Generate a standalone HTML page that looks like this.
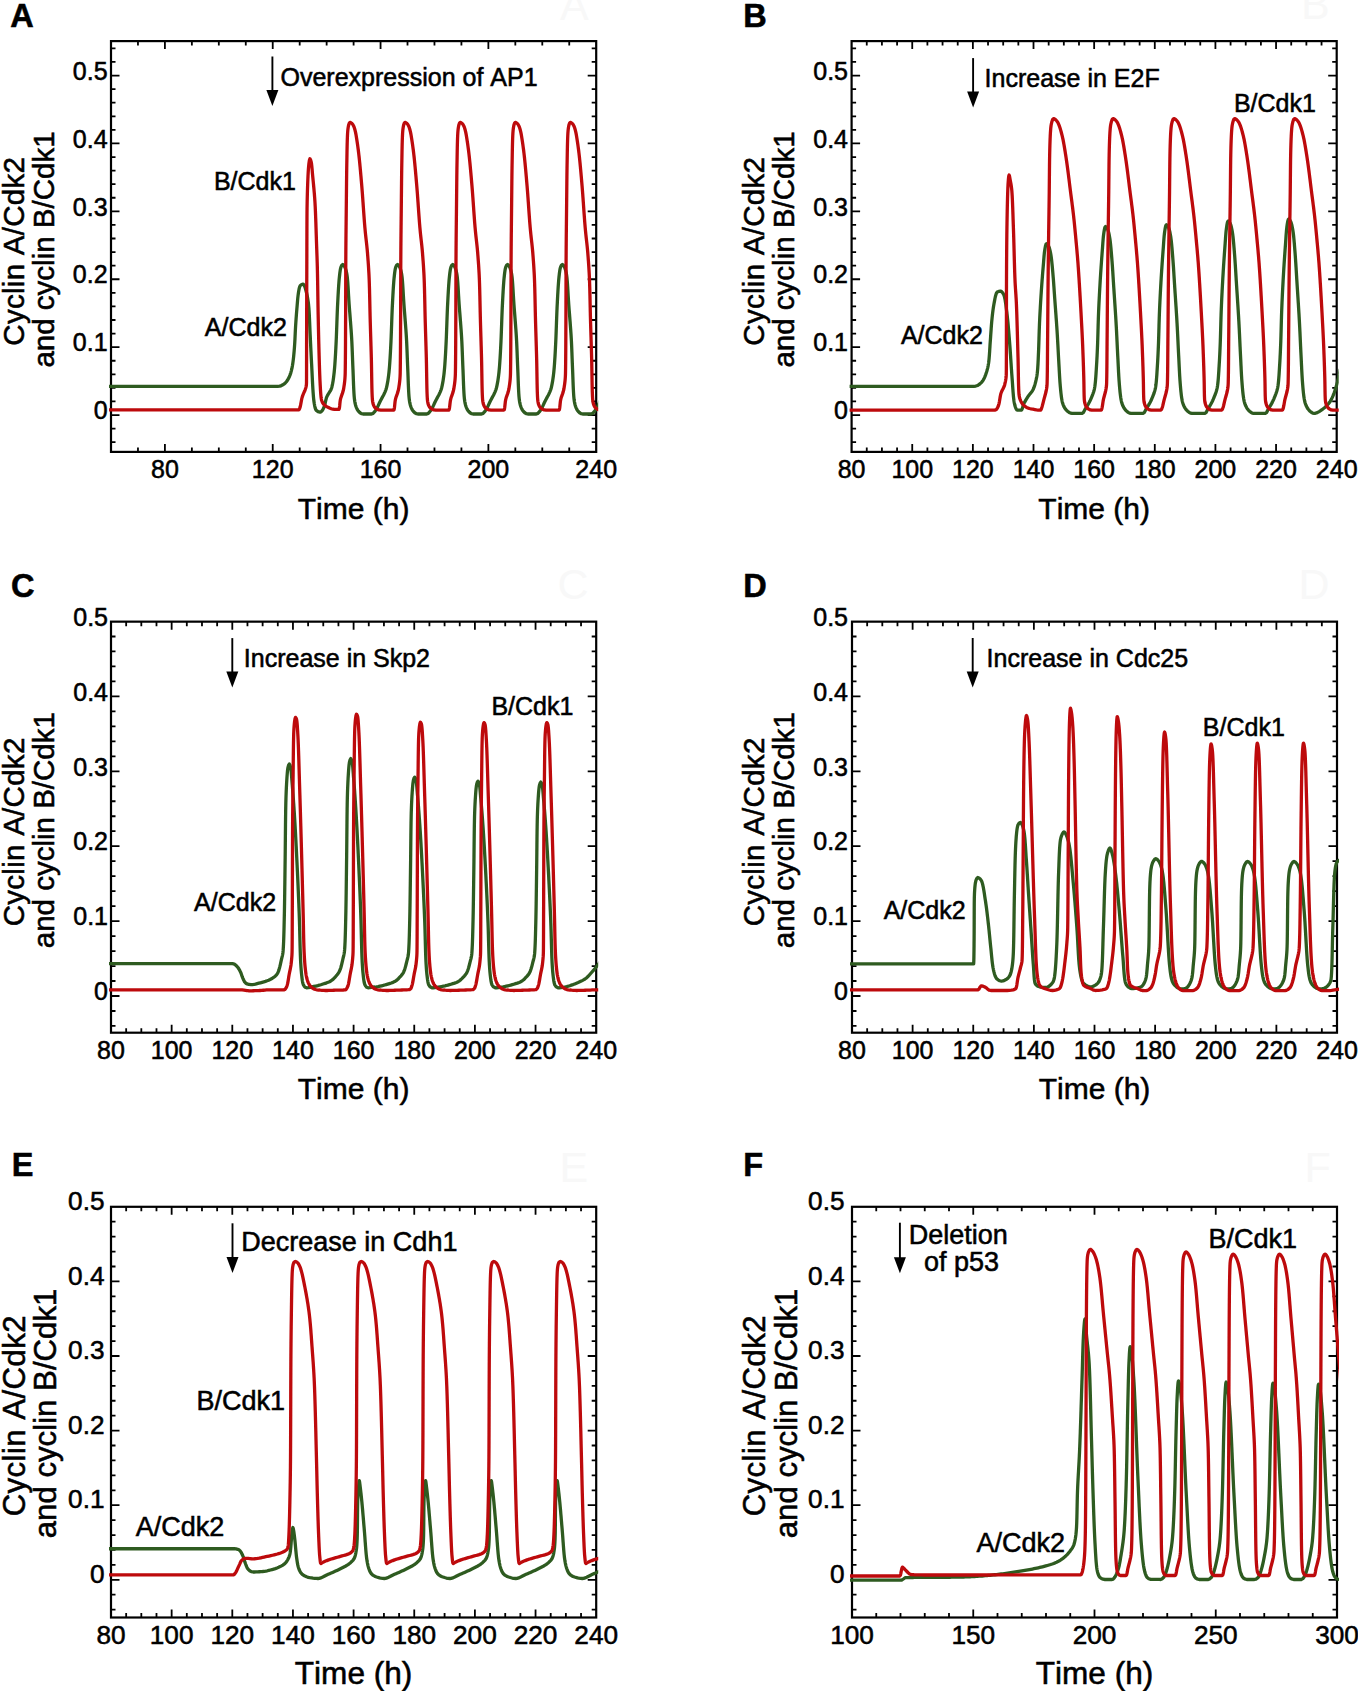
<!DOCTYPE html><html><head><meta charset="utf-8"><style>html,body{margin:0;padding:0;background:#fff;overflow:hidden;width:1358px;height:1691px;}svg{display:block;} text{stroke:#000;stroke-width:0.55px;paint-order:normal}</style></head><body><svg width="1358" height="1691" viewBox="0 0 1358 1691" font-family='"Liberation Sans", sans-serif' fill="#000" style="font-kerning:none" stroke="#000" stroke-width="0"><defs><clipPath id="clipA"><rect x="109.00" y="41.10" width="489.20" height="410.80"/></clipPath><clipPath id="clipB"><rect x="849.60" y="41.10" width="489.10" height="410.80"/></clipPath><clipPath id="clipC"><rect x="109.00" y="621.65" width="489.20" height="411.05"/></clipPath><clipPath id="clipD"><rect x="850.00" y="621.65" width="489.00" height="411.05"/></clipPath><clipPath id="clipE"><rect x="109.00" y="1206.80" width="489.20" height="410.70"/></clipPath><clipPath id="clipF"><rect x="850.00" y="1206.80" width="489.00" height="410.70"/></clipPath></defs><path d="M137.96 451.90V447.40M137.96 41.10V45.60M164.91 451.90V443.90M164.91 41.10V49.10M191.87 451.90V447.40M191.87 41.10V45.60M218.82 451.90V447.40M218.82 41.10V45.60M245.78 451.90V447.40M245.78 41.10V45.60M272.73 451.90V443.90M272.73 41.10V49.10M299.69 451.90V447.40M299.69 41.10V45.60M326.64 451.90V447.40M326.64 41.10V45.60M353.60 451.90V447.40M353.60 41.10V45.60M380.56 451.90V443.90M380.56 41.10V49.10M407.51 451.90V447.40M407.51 41.10V45.60M434.47 451.90V447.40M434.47 41.10V45.60M461.42 451.90V447.40M461.42 41.10V45.60M488.38 451.90V443.90M488.38 41.10V49.10M515.33 451.90V447.40M515.33 41.10V45.60M542.29 451.90V447.40M542.29 41.10V45.60M569.24 451.90V447.40M569.24 41.10V45.60M111.00 442.21H115.50M596.20 442.21H591.70M111.00 428.63H115.50M596.20 428.63H591.70M111.00 415.05H119.50M596.20 415.05H587.70M111.00 401.47H115.50M596.20 401.47H591.70M111.00 387.89H115.50M596.20 387.89H591.70M111.00 374.31H115.50M596.20 374.31H591.70M111.00 360.73H115.50M596.20 360.73H591.70M111.00 347.15H119.50M596.20 347.15H587.70M111.00 333.57H115.50M596.20 333.57H591.70M111.00 319.99H115.50M596.20 319.99H591.70M111.00 306.41H115.50M596.20 306.41H591.70M111.00 292.83H115.50M596.20 292.83H591.70M111.00 279.25H119.50M596.20 279.25H587.70M111.00 265.67H115.50M596.20 265.67H591.70M111.00 252.09H115.50M596.20 252.09H591.70M111.00 238.51H115.50M596.20 238.51H591.70M111.00 224.93H115.50M596.20 224.93H591.70M111.00 211.35H119.50M596.20 211.35H587.70M111.00 197.77H115.50M596.20 197.77H591.70M111.00 184.19H115.50M596.20 184.19H591.70M111.00 170.61H115.50M596.20 170.61H591.70M111.00 157.03H115.50M596.20 157.03H591.70M111.00 143.45H119.50M596.20 143.45H587.70M111.00 129.87H115.50M596.20 129.87H591.70M111.00 116.29H115.50M596.20 116.29H591.70M111.00 102.71H115.50M596.20 102.71H591.70M111.00 89.13H115.50M596.20 89.13H591.70M111.00 75.55H119.50M596.20 75.55H587.70M111.00 61.97H115.50M596.20 61.97H591.70M111.00 48.39H115.50M596.20 48.39H591.70" stroke="#000" stroke-width="1.8" fill="none"/>
<rect x="111.00" y="41.10" width="485.20" height="410.80" stroke="#000" stroke-width="2.2" fill="none"/>
<g font-size="25"><text x="107.60" y="419.25" text-anchor="end">0</text><text x="107.60" y="351.35" text-anchor="end">0.1</text><text x="107.60" y="283.45" text-anchor="end">0.2</text><text x="107.60" y="215.55" text-anchor="end">0.3</text><text x="107.60" y="147.65" text-anchor="end">0.4</text><text x="107.60" y="79.75" text-anchor="end">0.5</text><text x="164.91" y="477.90" text-anchor="middle">80</text><text x="272.73" y="477.90" text-anchor="middle">120</text><text x="380.56" y="477.90" text-anchor="middle">160</text><text x="488.38" y="477.90" text-anchor="middle">200</text><text x="596.20" y="477.90" text-anchor="middle">240</text></g>
<text x="353.60" y="518.90" font-size="30" text-anchor="middle">Time (h)</text>
<g transform="translate(23.70,249.50) rotate(-90)" font-size="29.5" text-anchor="middle"><text x="-1.7" y="0" letter-spacing="0.28">Cyclin A/Cdk2</text><text x="0" y="30.0">and cyclin B/Cdk1</text></g>
<path d="M866.76 451.90V447.40M866.76 41.10V45.60M881.92 451.90V447.40M881.92 41.10V45.60M897.08 451.90V447.40M897.08 41.10V45.60M912.24 451.90V443.90M912.24 41.10V49.10M927.40 451.90V447.40M927.40 41.10V45.60M942.56 451.90V447.40M942.56 41.10V45.60M957.72 451.90V447.40M957.72 41.10V45.60M972.88 451.90V443.90M972.88 41.10V49.10M988.03 451.90V447.40M988.03 41.10V45.60M1003.19 451.90V447.40M1003.19 41.10V45.60M1018.35 451.90V447.40M1018.35 41.10V45.60M1033.51 451.90V443.90M1033.51 41.10V49.10M1048.67 451.90V447.40M1048.67 41.10V45.60M1063.83 451.90V447.40M1063.83 41.10V45.60M1078.99 451.90V447.40M1078.99 41.10V45.60M1094.15 451.90V443.90M1094.15 41.10V49.10M1109.31 451.90V447.40M1109.31 41.10V45.60M1124.47 451.90V447.40M1124.47 41.10V45.60M1139.63 451.90V447.40M1139.63 41.10V45.60M1154.79 451.90V443.90M1154.79 41.10V49.10M1169.95 451.90V447.40M1169.95 41.10V45.60M1185.11 451.90V447.40M1185.11 41.10V45.60M1200.27 451.90V447.40M1200.27 41.10V45.60M1215.42 451.90V443.90M1215.42 41.10V49.10M1230.58 451.90V447.40M1230.58 41.10V45.60M1245.74 451.90V447.40M1245.74 41.10V45.60M1260.90 451.90V447.40M1260.90 41.10V45.60M1276.06 451.90V443.90M1276.06 41.10V49.10M1291.22 451.90V447.40M1291.22 41.10V45.60M1306.38 451.90V447.40M1306.38 41.10V45.60M1321.54 451.90V447.40M1321.54 41.10V45.60M851.60 442.21H856.10M1336.70 442.21H1332.20M851.60 428.63H856.10M1336.70 428.63H1332.20M851.60 415.05H860.10M1336.70 415.05H1328.20M851.60 401.47H856.10M1336.70 401.47H1332.20M851.60 387.89H856.10M1336.70 387.89H1332.20M851.60 374.31H856.10M1336.70 374.31H1332.20M851.60 360.73H856.10M1336.70 360.73H1332.20M851.60 347.15H860.10M1336.70 347.15H1328.20M851.60 333.57H856.10M1336.70 333.57H1332.20M851.60 319.99H856.10M1336.70 319.99H1332.20M851.60 306.41H856.10M1336.70 306.41H1332.20M851.60 292.83H856.10M1336.70 292.83H1332.20M851.60 279.25H860.10M1336.70 279.25H1328.20M851.60 265.67H856.10M1336.70 265.67H1332.20M851.60 252.09H856.10M1336.70 252.09H1332.20M851.60 238.51H856.10M1336.70 238.51H1332.20M851.60 224.93H856.10M1336.70 224.93H1332.20M851.60 211.35H860.10M1336.70 211.35H1328.20M851.60 197.77H856.10M1336.70 197.77H1332.20M851.60 184.19H856.10M1336.70 184.19H1332.20M851.60 170.61H856.10M1336.70 170.61H1332.20M851.60 157.03H856.10M1336.70 157.03H1332.20M851.60 143.45H860.10M1336.70 143.45H1328.20M851.60 129.87H856.10M1336.70 129.87H1332.20M851.60 116.29H856.10M1336.70 116.29H1332.20M851.60 102.71H856.10M1336.70 102.71H1332.20M851.60 89.13H856.10M1336.70 89.13H1332.20M851.60 75.55H860.10M1336.70 75.55H1328.20M851.60 61.97H856.10M1336.70 61.97H1332.20M851.60 48.39H856.10M1336.70 48.39H1332.20" stroke="#000" stroke-width="1.8" fill="none"/>
<rect x="851.60" y="41.10" width="485.10" height="410.80" stroke="#000" stroke-width="2.2" fill="none"/>
<g font-size="25"><text x="848.00" y="419.25" text-anchor="end">0</text><text x="848.00" y="351.35" text-anchor="end">0.1</text><text x="848.00" y="283.45" text-anchor="end">0.2</text><text x="848.00" y="215.55" text-anchor="end">0.3</text><text x="848.00" y="147.65" text-anchor="end">0.4</text><text x="848.00" y="79.75" text-anchor="end">0.5</text><text x="851.60" y="477.90" text-anchor="middle">80</text><text x="912.24" y="477.90" text-anchor="middle">100</text><text x="972.88" y="477.90" text-anchor="middle">120</text><text x="1033.51" y="477.90" text-anchor="middle">140</text><text x="1094.15" y="477.90" text-anchor="middle">160</text><text x="1154.79" y="477.90" text-anchor="middle">180</text><text x="1215.42" y="477.90" text-anchor="middle">200</text><text x="1276.06" y="477.90" text-anchor="middle">220</text><text x="1336.70" y="477.90" text-anchor="middle">240</text></g>
<text x="1094.15" y="518.90" font-size="30" text-anchor="middle">Time (h)</text>
<g transform="translate(764.20,249.50) rotate(-90)" font-size="29.5" text-anchor="middle"><text x="-1.7" y="0" letter-spacing="0.28">Cyclin A/Cdk2</text><text x="0" y="30.0">and cyclin B/Cdk1</text></g>
<path d="M126.16 1032.70V1028.20M126.16 621.65V626.15M141.32 1032.70V1028.20M141.32 621.65V626.15M156.49 1032.70V1028.20M156.49 621.65V626.15M171.65 1032.70V1024.70M171.65 621.65V629.65M186.81 1032.70V1028.20M186.81 621.65V626.15M201.98 1032.70V1028.20M201.98 621.65V626.15M217.14 1032.70V1028.20M217.14 621.65V626.15M232.30 1032.70V1024.70M232.30 621.65V629.65M247.46 1032.70V1028.20M247.46 621.65V626.15M262.62 1032.70V1028.20M262.62 621.65V626.15M277.79 1032.70V1028.20M277.79 621.65V626.15M292.95 1032.70V1024.70M292.95 621.65V629.65M308.11 1032.70V1028.20M308.11 621.65V626.15M323.27 1032.70V1028.20M323.27 621.65V626.15M338.44 1032.70V1028.20M338.44 621.65V626.15M353.60 1032.70V1024.70M353.60 621.65V629.65M368.76 1032.70V1028.20M368.76 621.65V626.15M383.93 1032.70V1028.20M383.93 621.65V626.15M399.09 1032.70V1028.20M399.09 621.65V626.15M414.25 1032.70V1024.70M414.25 621.65V629.65M429.41 1032.70V1028.20M429.41 621.65V626.15M444.58 1032.70V1028.20M444.58 621.65V626.15M459.74 1032.70V1028.20M459.74 621.65V626.15M474.90 1032.70V1024.70M474.90 621.65V629.65M490.06 1032.70V1028.20M490.06 621.65V626.15M505.23 1032.70V1028.20M505.23 621.65V626.15M520.39 1032.70V1028.20M520.39 621.65V626.15M535.55 1032.70V1024.70M535.55 621.65V629.65M550.71 1032.70V1028.20M550.71 621.65V626.15M565.88 1032.70V1028.20M565.88 621.65V626.15M581.04 1032.70V1028.20M581.04 621.65V626.15M111.00 1025.96H115.50M596.20 1025.96H591.70M111.00 1010.98H115.50M596.20 1010.98H591.70M111.00 996.00H119.50M596.20 996.00H587.70M111.00 981.02H115.50M596.20 981.02H591.70M111.00 966.04H115.50M596.20 966.04H591.70M111.00 951.06H115.50M596.20 951.06H591.70M111.00 936.08H115.50M596.20 936.08H591.70M111.00 921.10H119.50M596.20 921.10H587.70M111.00 906.12H115.50M596.20 906.12H591.70M111.00 891.14H115.50M596.20 891.14H591.70M111.00 876.16H115.50M596.20 876.16H591.70M111.00 861.18H115.50M596.20 861.18H591.70M111.00 846.20H119.50M596.20 846.20H587.70M111.00 831.22H115.50M596.20 831.22H591.70M111.00 816.24H115.50M596.20 816.24H591.70M111.00 801.26H115.50M596.20 801.26H591.70M111.00 786.28H115.50M596.20 786.28H591.70M111.00 771.30H119.50M596.20 771.30H587.70M111.00 756.32H115.50M596.20 756.32H591.70M111.00 741.34H115.50M596.20 741.34H591.70M111.00 726.36H115.50M596.20 726.36H591.70M111.00 711.38H115.50M596.20 711.38H591.70M111.00 696.40H119.50M596.20 696.40H587.70M111.00 681.42H115.50M596.20 681.42H591.70M111.00 666.44H115.50M596.20 666.44H591.70M111.00 651.46H115.50M596.20 651.46H591.70M111.00 636.48H115.50M596.20 636.48H591.70" stroke="#000" stroke-width="1.8" fill="none"/>
<rect x="111.00" y="621.65" width="485.20" height="411.05" stroke="#000" stroke-width="2.2" fill="none"/>
<g font-size="25"><text x="108.00" y="1000.20" text-anchor="end">0</text><text x="108.00" y="925.30" text-anchor="end">0.1</text><text x="108.00" y="850.40" text-anchor="end">0.2</text><text x="108.00" y="775.50" text-anchor="end">0.3</text><text x="108.00" y="700.60" text-anchor="end">0.4</text><text x="108.00" y="625.70" text-anchor="end">0.5</text><text x="111.00" y="1058.70" text-anchor="middle">80</text><text x="171.65" y="1058.70" text-anchor="middle">100</text><text x="232.30" y="1058.70" text-anchor="middle">120</text><text x="292.95" y="1058.70" text-anchor="middle">140</text><text x="353.60" y="1058.70" text-anchor="middle">160</text><text x="414.25" y="1058.70" text-anchor="middle">180</text><text x="474.90" y="1058.70" text-anchor="middle">200</text><text x="535.55" y="1058.70" text-anchor="middle">220</text><text x="596.20" y="1058.70" text-anchor="middle">240</text></g>
<text x="353.60" y="1098.90" font-size="30" text-anchor="middle">Time (h)</text>
<g transform="translate(23.70,830.17) rotate(-90)" font-size="29.5" text-anchor="middle"><text x="-1.7" y="0" letter-spacing="0.28">Cyclin A/Cdk2</text><text x="0" y="30.0">and cyclin B/Cdk1</text></g>
<path d="M867.16 1032.70V1028.20M867.16 621.65V626.15M882.31 1032.70V1028.20M882.31 621.65V626.15M897.47 1032.70V1028.20M897.47 621.65V626.15M912.62 1032.70V1024.70M912.62 621.65V629.65M927.78 1032.70V1028.20M927.78 621.65V626.15M942.94 1032.70V1028.20M942.94 621.65V626.15M958.09 1032.70V1028.20M958.09 621.65V626.15M973.25 1032.70V1024.70M973.25 621.65V629.65M988.41 1032.70V1028.20M988.41 621.65V626.15M1003.56 1032.70V1028.20M1003.56 621.65V626.15M1018.72 1032.70V1028.20M1018.72 621.65V626.15M1033.88 1032.70V1024.70M1033.88 621.65V629.65M1049.03 1032.70V1028.20M1049.03 621.65V626.15M1064.19 1032.70V1028.20M1064.19 621.65V626.15M1079.34 1032.70V1028.20M1079.34 621.65V626.15M1094.50 1032.70V1024.70M1094.50 621.65V629.65M1109.66 1032.70V1028.20M1109.66 621.65V626.15M1124.81 1032.70V1028.20M1124.81 621.65V626.15M1139.97 1032.70V1028.20M1139.97 621.65V626.15M1155.12 1032.70V1024.70M1155.12 621.65V629.65M1170.28 1032.70V1028.20M1170.28 621.65V626.15M1185.44 1032.70V1028.20M1185.44 621.65V626.15M1200.59 1032.70V1028.20M1200.59 621.65V626.15M1215.75 1032.70V1024.70M1215.75 621.65V629.65M1230.91 1032.70V1028.20M1230.91 621.65V626.15M1246.06 1032.70V1028.20M1246.06 621.65V626.15M1261.22 1032.70V1028.20M1261.22 621.65V626.15M1276.38 1032.70V1024.70M1276.38 621.65V629.65M1291.53 1032.70V1028.20M1291.53 621.65V626.15M1306.69 1032.70V1028.20M1306.69 621.65V626.15M1321.84 1032.70V1028.20M1321.84 621.65V626.15M852.00 1025.96H856.50M1337.00 1025.96H1332.50M852.00 1010.98H856.50M1337.00 1010.98H1332.50M852.00 996.00H860.50M1337.00 996.00H1328.50M852.00 981.02H856.50M1337.00 981.02H1332.50M852.00 966.04H856.50M1337.00 966.04H1332.50M852.00 951.06H856.50M1337.00 951.06H1332.50M852.00 936.08H856.50M1337.00 936.08H1332.50M852.00 921.10H860.50M1337.00 921.10H1328.50M852.00 906.12H856.50M1337.00 906.12H1332.50M852.00 891.14H856.50M1337.00 891.14H1332.50M852.00 876.16H856.50M1337.00 876.16H1332.50M852.00 861.18H856.50M1337.00 861.18H1332.50M852.00 846.20H860.50M1337.00 846.20H1328.50M852.00 831.22H856.50M1337.00 831.22H1332.50M852.00 816.24H856.50M1337.00 816.24H1332.50M852.00 801.26H856.50M1337.00 801.26H1332.50M852.00 786.28H856.50M1337.00 786.28H1332.50M852.00 771.30H860.50M1337.00 771.30H1328.50M852.00 756.32H856.50M1337.00 756.32H1332.50M852.00 741.34H856.50M1337.00 741.34H1332.50M852.00 726.36H856.50M1337.00 726.36H1332.50M852.00 711.38H856.50M1337.00 711.38H1332.50M852.00 696.40H860.50M1337.00 696.40H1328.50M852.00 681.42H856.50M1337.00 681.42H1332.50M852.00 666.44H856.50M1337.00 666.44H1332.50M852.00 651.46H856.50M1337.00 651.46H1332.50M852.00 636.48H856.50M1337.00 636.48H1332.50" stroke="#000" stroke-width="1.8" fill="none"/>
<rect x="852.00" y="621.65" width="485.00" height="411.05" stroke="#000" stroke-width="2.2" fill="none"/>
<g font-size="25"><text x="848.00" y="1000.20" text-anchor="end">0</text><text x="848.00" y="925.30" text-anchor="end">0.1</text><text x="848.00" y="850.40" text-anchor="end">0.2</text><text x="848.00" y="775.50" text-anchor="end">0.3</text><text x="848.00" y="700.60" text-anchor="end">0.4</text><text x="848.00" y="625.70" text-anchor="end">0.5</text><text x="852.00" y="1058.70" text-anchor="middle">80</text><text x="912.62" y="1058.70" text-anchor="middle">100</text><text x="973.25" y="1058.70" text-anchor="middle">120</text><text x="1033.88" y="1058.70" text-anchor="middle">140</text><text x="1094.50" y="1058.70" text-anchor="middle">160</text><text x="1155.12" y="1058.70" text-anchor="middle">180</text><text x="1215.75" y="1058.70" text-anchor="middle">200</text><text x="1276.38" y="1058.70" text-anchor="middle">220</text><text x="1337.00" y="1058.70" text-anchor="middle">240</text></g>
<text x="1094.50" y="1098.90" font-size="30" text-anchor="middle">Time (h)</text>
<g transform="translate(764.20,830.17) rotate(-90)" font-size="29.5" text-anchor="middle"><text x="-1.7" y="0" letter-spacing="0.28">Cyclin A/Cdk2</text><text x="0" y="30.0">and cyclin B/Cdk1</text></g>
<path d="M126.16 1617.50V1613.00M126.16 1206.80V1211.30M141.32 1617.50V1613.00M141.32 1206.80V1211.30M156.49 1617.50V1613.00M156.49 1206.80V1211.30M171.65 1617.50V1609.50M171.65 1206.80V1214.80M186.81 1617.50V1613.00M186.81 1206.80V1211.30M201.98 1617.50V1613.00M201.98 1206.80V1211.30M217.14 1617.50V1613.00M217.14 1206.80V1211.30M232.30 1617.50V1609.50M232.30 1206.80V1214.80M247.46 1617.50V1613.00M247.46 1206.80V1211.30M262.62 1617.50V1613.00M262.62 1206.80V1211.30M277.79 1617.50V1613.00M277.79 1206.80V1211.30M292.95 1617.50V1609.50M292.95 1206.80V1214.80M308.11 1617.50V1613.00M308.11 1206.80V1211.30M323.27 1617.50V1613.00M323.27 1206.80V1211.30M338.44 1617.50V1613.00M338.44 1206.80V1211.30M353.60 1617.50V1609.50M353.60 1206.80V1214.80M368.76 1617.50V1613.00M368.76 1206.80V1211.30M383.93 1617.50V1613.00M383.93 1206.80V1211.30M399.09 1617.50V1613.00M399.09 1206.80V1211.30M414.25 1617.50V1609.50M414.25 1206.80V1214.80M429.41 1617.50V1613.00M429.41 1206.80V1211.30M444.58 1617.50V1613.00M444.58 1206.80V1211.30M459.74 1617.50V1613.00M459.74 1206.80V1211.30M474.90 1617.50V1609.50M474.90 1206.80V1214.80M490.06 1617.50V1613.00M490.06 1206.80V1211.30M505.23 1617.50V1613.00M505.23 1206.80V1211.30M520.39 1617.50V1613.00M520.39 1206.80V1211.30M535.55 1617.50V1609.50M535.55 1206.80V1214.80M550.71 1617.50V1613.00M550.71 1206.80V1211.30M565.88 1617.50V1613.00M565.88 1206.80V1211.30M581.04 1617.50V1613.00M581.04 1206.80V1211.30M111.00 1609.64H115.50M596.20 1609.64H591.70M111.00 1594.72H115.50M596.20 1594.72H591.70M111.00 1579.80H119.50M596.20 1579.80H587.70M111.00 1564.88H115.50M596.20 1564.88H591.70M111.00 1549.96H115.50M596.20 1549.96H591.70M111.00 1535.04H115.50M596.20 1535.04H591.70M111.00 1520.12H115.50M596.20 1520.12H591.70M111.00 1505.20H119.50M596.20 1505.20H587.70M111.00 1490.28H115.50M596.20 1490.28H591.70M111.00 1475.36H115.50M596.20 1475.36H591.70M111.00 1460.44H115.50M596.20 1460.44H591.70M111.00 1445.52H115.50M596.20 1445.52H591.70M111.00 1430.60H119.50M596.20 1430.60H587.70M111.00 1415.68H115.50M596.20 1415.68H591.70M111.00 1400.76H115.50M596.20 1400.76H591.70M111.00 1385.84H115.50M596.20 1385.84H591.70M111.00 1370.92H115.50M596.20 1370.92H591.70M111.00 1356.00H119.50M596.20 1356.00H587.70M111.00 1341.08H115.50M596.20 1341.08H591.70M111.00 1326.16H115.50M596.20 1326.16H591.70M111.00 1311.24H115.50M596.20 1311.24H591.70M111.00 1296.32H115.50M596.20 1296.32H591.70M111.00 1281.40H119.50M596.20 1281.40H587.70M111.00 1266.48H115.50M596.20 1266.48H591.70M111.00 1251.56H115.50M596.20 1251.56H591.70M111.00 1236.64H115.50M596.20 1236.64H591.70M111.00 1221.72H115.50M596.20 1221.72H591.70" stroke="#000" stroke-width="1.8" fill="none"/>
<rect x="111.00" y="1206.80" width="485.20" height="410.70" stroke="#000" stroke-width="2.2" fill="none"/>
<g font-size="26.2"><text x="104.50" y="1583.00" text-anchor="end">0</text><text x="104.50" y="1508.40" text-anchor="end">0.1</text><text x="104.50" y="1433.80" text-anchor="end">0.2</text><text x="104.50" y="1359.20" text-anchor="end">0.3</text><text x="104.50" y="1284.60" text-anchor="end">0.4</text><text x="104.50" y="1210.00" text-anchor="end">0.5</text><text x="111.00" y="1643.50" text-anchor="middle">80</text><text x="171.65" y="1643.50" text-anchor="middle">100</text><text x="232.30" y="1643.50" text-anchor="middle">120</text><text x="292.95" y="1643.50" text-anchor="middle">140</text><text x="353.60" y="1643.50" text-anchor="middle">160</text><text x="414.25" y="1643.50" text-anchor="middle">180</text><text x="474.90" y="1643.50" text-anchor="middle">200</text><text x="535.55" y="1643.50" text-anchor="middle">220</text><text x="596.20" y="1643.50" text-anchor="middle">240</text></g>
<text x="353.60" y="1683.60" font-size="31.6" text-anchor="middle">Time (h)</text>
<g transform="translate(24.50,1413.45) rotate(-90)" font-size="31.2" text-anchor="middle"><text x="-2.25" y="0" letter-spacing="0.42">Cyclin A/Cdk2</text><text x="0" y="31.5">and cyclin B/Cdk1</text></g>
<path d="M876.25 1617.50V1613.00M876.25 1206.80V1211.30M900.50 1617.50V1613.00M900.50 1206.80V1211.30M924.75 1617.50V1613.00M924.75 1206.80V1211.30M949.00 1617.50V1613.00M949.00 1206.80V1211.30M973.25 1617.50V1609.50M973.25 1206.80V1214.80M997.50 1617.50V1613.00M997.50 1206.80V1211.30M1021.75 1617.50V1613.00M1021.75 1206.80V1211.30M1046.00 1617.50V1613.00M1046.00 1206.80V1211.30M1070.25 1617.50V1613.00M1070.25 1206.80V1211.30M1094.50 1617.50V1609.50M1094.50 1206.80V1214.80M1118.75 1617.50V1613.00M1118.75 1206.80V1211.30M1143.00 1617.50V1613.00M1143.00 1206.80V1211.30M1167.25 1617.50V1613.00M1167.25 1206.80V1211.30M1191.50 1617.50V1613.00M1191.50 1206.80V1211.30M1215.75 1617.50V1609.50M1215.75 1206.80V1214.80M1240.00 1617.50V1613.00M1240.00 1206.80V1211.30M1264.25 1617.50V1613.00M1264.25 1206.80V1211.30M1288.50 1617.50V1613.00M1288.50 1206.80V1211.30M1312.75 1617.50V1613.00M1312.75 1206.80V1211.30M852.00 1609.64H856.50M1337.00 1609.64H1332.50M852.00 1594.72H856.50M1337.00 1594.72H1332.50M852.00 1579.80H860.50M1337.00 1579.80H1328.50M852.00 1564.88H856.50M1337.00 1564.88H1332.50M852.00 1549.96H856.50M1337.00 1549.96H1332.50M852.00 1535.04H856.50M1337.00 1535.04H1332.50M852.00 1520.12H856.50M1337.00 1520.12H1332.50M852.00 1505.20H860.50M1337.00 1505.20H1328.50M852.00 1490.28H856.50M1337.00 1490.28H1332.50M852.00 1475.36H856.50M1337.00 1475.36H1332.50M852.00 1460.44H856.50M1337.00 1460.44H1332.50M852.00 1445.52H856.50M1337.00 1445.52H1332.50M852.00 1430.60H860.50M1337.00 1430.60H1328.50M852.00 1415.68H856.50M1337.00 1415.68H1332.50M852.00 1400.76H856.50M1337.00 1400.76H1332.50M852.00 1385.84H856.50M1337.00 1385.84H1332.50M852.00 1370.92H856.50M1337.00 1370.92H1332.50M852.00 1356.00H860.50M1337.00 1356.00H1328.50M852.00 1341.08H856.50M1337.00 1341.08H1332.50M852.00 1326.16H856.50M1337.00 1326.16H1332.50M852.00 1311.24H856.50M1337.00 1311.24H1332.50M852.00 1296.32H856.50M1337.00 1296.32H1332.50M852.00 1281.40H860.50M1337.00 1281.40H1328.50M852.00 1266.48H856.50M1337.00 1266.48H1332.50M852.00 1251.56H856.50M1337.00 1251.56H1332.50M852.00 1236.64H856.50M1337.00 1236.64H1332.50M852.00 1221.72H856.50M1337.00 1221.72H1332.50" stroke="#000" stroke-width="1.8" fill="none"/>
<rect x="852.00" y="1206.80" width="485.00" height="410.70" stroke="#000" stroke-width="2.2" fill="none"/>
<g font-size="26.2"><text x="844.50" y="1583.00" text-anchor="end">0</text><text x="844.50" y="1508.40" text-anchor="end">0.1</text><text x="844.50" y="1433.80" text-anchor="end">0.2</text><text x="844.50" y="1359.20" text-anchor="end">0.3</text><text x="844.50" y="1284.60" text-anchor="end">0.4</text><text x="844.50" y="1210.00" text-anchor="end">0.5</text><text x="852.00" y="1643.50" text-anchor="middle">100</text><text x="973.25" y="1643.50" text-anchor="middle">150</text><text x="1094.50" y="1643.50" text-anchor="middle">200</text><text x="1215.75" y="1643.50" text-anchor="middle">250</text><text x="1337.00" y="1643.50" text-anchor="middle">300</text></g>
<text x="1094.50" y="1683.60" font-size="31.6" text-anchor="middle">Time (h)</text>
<g transform="translate(765.00,1413.45) rotate(-90)" font-size="31.2" text-anchor="middle"><text x="-2.25" y="0" letter-spacing="0.42">Cyclin A/Cdk2</text><text x="0" y="31.5">and cyclin B/Cdk1</text></g>
<text x="10.3" y="27.3" font-size="32.5" font-weight="bold">A</text>
<text x="743.2" y="27.3" font-size="32.5" font-weight="bold">B</text>
<text x="11.0" y="596.6" font-size="32.5" font-weight="bold">C</text>
<text x="743.3" y="596.6" font-size="32.5" font-weight="bold">D</text>
<text x="11.8" y="1176.4" font-size="32.5" font-weight="bold">E</text>
<text x="743.3" y="1176.4" font-size="32.5" font-weight="bold">F</text>
<text x="560" y="20" font-size="43" fill="#f8f8f8" style="stroke:none">A</text>
<text x="1301" y="19" font-size="43" fill="#f8f8f8" style="stroke:none">B</text>
<text x="557.5" y="599" font-size="43" fill="#f8f8f8" style="stroke:none">C</text>
<text x="1298.5" y="599" font-size="43" fill="#f8f8f8" style="stroke:none">D</text>
<text x="559.5" y="1182" font-size="43" fill="#f8f8f8" style="stroke:none">E</text>
<text x="1304.5" y="1182" font-size="43" fill="#f8f8f8" style="stroke:none">F</text>
<path d="M100.00,386.35 102.52,386.35 105.02,386.35 107.51,386.35 109.98,386.35 112.43,386.35 114.87,386.35 117.29,386.35 119.69,386.35 122.08,386.35 124.45,386.35 126.81,386.35 129.15,386.35 131.47,386.35 133.78,386.35 136.07,386.35 138.34,386.35 140.60,386.35 142.84,386.35 145.06,386.35 147.27,386.35 149.46,386.35 151.63,386.35 153.79,386.35 155.93,386.35 158.05,386.35 160.15,386.35 162.24,386.35 164.32,386.35 166.37,386.35 168.41,386.35 170.43,386.35 172.44,386.35 174.42,386.35 176.39,386.35 178.35,386.35 180.28,386.35 182.20,386.35 184.10,386.35 185.99,386.35 187.85,386.35 189.70,386.35 191.54,386.35 193.35,386.35 195.15,386.35 196.93,386.35 198.69,386.35 200.44,386.35 202.16,386.35 203.87,386.35 205.57,386.35 207.24,386.35 208.90,386.35 210.54,386.35 212.16,386.35 213.76,386.35 215.35,386.35 216.92,386.35 218.47,386.35 220.00,386.35 221.51,386.35 223.01,386.35 224.49,386.35 225.95,386.35 227.39,386.35 228.82,386.35 230.22,386.35 231.61,386.35 232.98,386.35 234.33,386.35 235.67,386.35 236.98,386.35 238.28,386.35 239.56,386.35 240.82,386.35 242.06,386.35 243.28,386.35 244.49,386.35 245.67,386.35 246.84,386.35 247.99,386.35 249.12,386.35 250.23,386.35 251.33,386.35 252.40,386.35 253.46,386.35 254.49,386.35 255.51,386.35 256.51,386.35 257.49,386.35 258.46,386.35 259.40,386.35 260.32,386.35 261.23,386.35 262.11,386.35 262.98,386.35 263.83,386.35 264.66,386.35 265.47,386.35 266.26,386.35 267.03,386.35 267.78,386.35 268.52,386.35 269.23,386.35 269.92,386.35 270.60,386.35 271.25,386.35 271.89,386.35 272.51,386.35 273.11,386.35 273.68,386.35 274.24,386.35 274.78,386.35 275.30,386.35 275.80,386.35 276.28,386.35 276.74,386.35 277.18,386.35 277.60,386.35 279.73,386.14 281.41,385.57 282.84,384.79 284.20,383.90 285.31,382.99 286.40,381.76 287.43,380.29 288.38,378.68 289.22,377.02 289.90,375.40 290.43,373.93 290.90,372.41 291.33,370.85 291.73,369.22 292.08,367.54 292.41,365.80 292.70,364.00 292.90,362.61 293.10,361.15 293.29,359.64 293.47,358.08 293.64,356.49 293.80,354.87 293.95,353.24 294.10,351.59 294.24,349.95 294.37,348.31 294.49,346.69 294.60,345.10 294.70,343.53 294.80,341.95 294.89,340.38 294.97,338.80 295.04,337.23 295.12,335.65 295.19,334.08 295.26,332.50 295.34,330.92 295.42,329.35 295.51,327.77 295.60,326.20 295.70,324.62 295.80,323.02 295.91,321.41 296.02,319.80 296.14,318.18 296.26,316.58 296.38,314.98 296.50,313.39 296.62,311.83 296.75,310.29 296.87,308.78 297.00,307.30 297.14,305.61 297.28,303.92 297.42,302.24 297.56,300.59 297.71,298.97 297.86,297.41 298.03,295.90 298.20,294.46 298.40,293.10 298.68,291.29 299.00,289.48 299.37,287.81 299.80,286.43 300.30,285.50 301.63,284.54 303.10,284.10 303.91,284.71 304.64,286.24 305.31,288.25 305.90,290.30 306.22,291.47 306.54,292.75 306.86,294.14 307.16,295.60 307.45,297.15 307.73,298.75 307.99,300.41 308.23,302.10 308.45,303.82 308.64,305.56 308.80,307.30 308.91,308.68 309.01,310.11 309.11,311.58 309.20,313.08 309.29,314.61 309.37,316.17 309.44,317.75 309.51,319.35 309.58,320.97 309.65,322.60 309.72,324.24 309.78,325.88 309.85,327.52 309.91,329.16 309.98,330.79 310.05,332.41 310.12,334.02 310.20,335.60 310.28,337.17 310.35,338.73 310.43,340.28 310.50,341.83 310.57,343.38 310.65,344.92 310.72,346.46 310.79,348.00 310.87,349.55 310.94,351.10 311.02,352.67 311.09,354.24 311.17,355.82 311.25,357.42 311.34,359.04 311.42,360.67 311.51,362.32 311.60,364.00 311.68,365.43 311.75,366.92 311.83,368.47 311.91,370.05 311.99,371.68 312.07,373.33 312.15,375.01 312.23,376.71 312.32,378.42 312.40,380.13 312.49,381.84 312.58,383.54 312.67,385.22 312.77,386.89 312.86,388.52 312.96,390.12 313.06,391.68 313.17,393.18 313.28,394.63 313.39,396.02 313.50,397.34 313.62,398.59 313.74,399.75 313.87,400.82 314.00,401.80 314.34,404.01 314.72,406.07 315.16,407.89 315.69,409.37 316.30,410.40 318.05,411.63 320.10,412.20 321.15,411.74 322.18,410.57 323.12,409.05 323.90,407.50 324.38,406.28 324.78,404.88 325.14,403.35 325.48,401.75 325.83,400.14 326.23,398.57 326.70,397.10 327.40,395.56 328.27,394.11 329.22,392.68 330.15,391.23 330.97,389.69 331.60,388.00 331.94,386.71 332.25,385.35 332.55,383.92 332.82,382.44 333.08,380.91 333.32,379.33 333.54,377.71 333.75,376.07 333.94,374.39 334.13,372.70 334.30,371.00 334.43,369.63 334.56,368.24 334.67,366.83 334.79,365.40 334.90,363.94 335.00,362.47 335.10,360.98 335.20,359.46 335.30,357.93 335.39,356.38 335.48,354.81 335.57,353.22 335.66,351.61 335.74,349.98 335.83,348.34 335.91,346.68 336.00,345.00 336.07,343.61 336.14,342.19 336.20,340.74 336.27,339.26 336.33,337.76 336.39,336.23 336.45,334.68 336.51,333.11 336.57,331.52 336.63,329.93 336.68,328.32 336.74,326.71 336.80,325.10 336.86,323.48 336.91,321.87 336.97,320.25 337.03,318.65 337.09,317.06 337.15,315.48 337.21,313.91 337.27,312.37 337.33,310.84 337.40,309.34 337.46,307.86 337.53,306.41 337.60,305.00 337.69,303.30 337.77,301.59 337.86,299.88 337.95,298.16 338.04,296.45 338.13,294.75 338.23,293.06 338.32,291.39 338.42,289.75 338.52,288.14 338.62,286.57 338.72,285.04 338.83,283.55 338.94,282.11 339.05,280.74 339.16,279.42 339.28,278.17 339.40,277.00 339.62,274.98 339.84,273.03 340.09,271.22 340.35,269.57 340.65,268.15 341.00,267.00 341.82,265.33 342.80,264.50 343.83,265.34 344.80,267.00 345.32,268.19 345.81,269.62 346.26,271.27 346.66,273.11 347.00,275.10 347.15,276.15 347.28,277.29 347.41,278.52 347.54,279.82 347.66,281.19 347.77,282.62 347.88,284.11 347.98,285.64 348.08,287.22 348.18,288.83 348.28,290.47 348.37,292.14 348.47,293.81 348.57,295.50 348.67,297.18 348.77,298.86 348.88,300.53 348.99,302.18 349.10,303.80 349.21,305.26 349.32,306.75 349.43,308.26 349.55,309.79 349.67,311.34 349.80,312.90 349.92,314.48 350.05,316.07 350.17,317.67 350.30,319.27 350.42,320.88 350.55,322.49 350.67,324.09 350.79,325.70 350.91,327.29 351.03,328.88 351.14,330.46 351.25,332.03 351.36,333.58 351.46,335.11 351.55,336.62 351.64,338.10 351.72,339.57 351.80,341.00 351.88,342.68 351.96,344.32 352.03,345.94 352.10,347.53 352.17,349.09 352.23,350.64 352.29,352.18 352.35,353.71 352.41,355.23 352.46,356.75 352.52,358.28 352.58,359.81 352.64,361.35 352.70,362.90 352.76,364.48 352.83,366.08 352.90,367.70 352.96,369.18 353.03,370.70 353.09,372.27 353.15,373.87 353.21,375.50 353.27,377.15 353.33,378.82 353.39,380.49 353.45,382.16 353.51,383.82 353.58,385.47 353.65,387.10 353.72,388.69 353.80,390.26 353.88,391.78 353.97,393.25 354.06,394.66 354.16,396.01 354.27,397.28 354.38,398.48 354.50,399.60 354.76,401.46 355.10,403.24 355.51,404.93 355.98,406.49 356.51,407.90 357.08,409.15 357.70,410.20 358.72,411.51 360.01,412.74 361.46,413.65 363.00,414.00 364.58,414.00 366.40,414.00 368.27,414.00 370.03,414.00 371.50,414.00 373.08,413.37 374.44,411.89 375.70,410.20 376.47,409.08 377.19,407.79 377.87,406.37 378.56,404.85 379.26,403.29 380.00,401.70 380.62,400.48 381.30,399.21 382.01,397.91 382.75,396.57 383.48,395.19 384.18,393.79 384.85,392.37 385.46,390.93 385.98,389.47 386.40,388.00 386.74,386.57 387.06,385.11 387.35,383.65 387.63,382.16 387.88,380.65 388.12,379.11 388.34,377.55 388.55,375.96 388.74,374.34 388.93,372.69 389.10,371.00 389.23,369.63 389.36,368.24 389.47,366.83 389.59,365.40 389.70,363.94 389.80,362.47 389.90,360.98 390.00,359.46 390.10,357.93 390.19,356.38 390.28,354.81 390.37,353.22 390.46,351.61 390.54,349.98 390.63,348.34 390.71,346.68 390.80,345.00 390.87,343.61 390.94,342.19 391.00,340.74 391.07,339.26 391.13,337.76 391.19,336.23 391.25,334.68 391.31,333.11 391.37,331.52 391.43,329.93 391.48,328.32 391.54,326.71 391.60,325.10 391.66,323.48 391.71,321.87 391.77,320.25 391.83,318.65 391.89,317.06 391.95,315.48 392.01,313.91 392.07,312.37 392.13,310.84 392.20,309.34 392.26,307.86 392.33,306.41 392.40,305.00 392.49,303.30 392.57,301.59 392.66,299.88 392.75,298.16 392.84,296.45 392.93,294.75 393.03,293.06 393.12,291.39 393.22,289.75 393.32,288.14 393.42,286.57 393.52,285.04 393.63,283.55 393.74,282.11 393.85,280.74 393.96,279.42 394.08,278.17 394.20,277.00 394.42,274.98 394.64,273.03 394.89,271.22 395.15,269.57 395.45,268.15 395.80,267.00 396.62,265.33 397.60,264.50 398.63,265.34 399.60,267.00 400.12,268.19 400.61,269.62 401.06,271.27 401.46,273.11 401.80,275.10 401.95,276.15 402.08,277.29 402.21,278.52 402.34,279.82 402.46,281.19 402.57,282.62 402.68,284.11 402.78,285.64 402.88,287.22 402.98,288.83 403.08,290.47 403.17,292.14 403.27,293.81 403.37,295.50 403.47,297.18 403.57,298.86 403.68,300.53 403.79,302.18 403.90,303.80 404.01,305.26 404.12,306.75 404.23,308.26 404.35,309.79 404.47,311.34 404.60,312.90 404.72,314.48 404.85,316.07 404.97,317.67 405.10,319.27 405.22,320.88 405.35,322.49 405.47,324.09 405.59,325.70 405.71,327.29 405.83,328.88 405.94,330.46 406.05,332.03 406.16,333.58 406.26,335.11 406.35,336.62 406.44,338.10 406.52,339.57 406.60,341.00 406.68,342.68 406.76,344.32 406.83,345.94 406.90,347.53 406.97,349.09 407.03,350.64 407.09,352.18 407.15,353.71 407.21,355.23 407.26,356.75 407.32,358.28 407.38,359.81 407.44,361.35 407.50,362.90 407.56,364.48 407.63,366.08 407.70,367.70 407.76,369.18 407.83,370.70 407.89,372.27 407.95,373.87 408.01,375.50 408.07,377.15 408.13,378.82 408.19,380.49 408.25,382.16 408.31,383.82 408.38,385.47 408.45,387.10 408.52,388.69 408.60,390.26 408.68,391.78 408.77,393.25 408.86,394.66 408.96,396.01 409.07,397.28 409.18,398.48 409.30,399.60 409.56,401.46 409.90,403.24 410.31,404.93 410.78,406.49 411.31,407.90 411.88,409.15 412.50,410.20 413.52,411.51 414.80,412.74 416.26,413.65 417.80,414.00 419.45,414.00 421.35,414.00 423.32,414.00 425.17,414.00 426.70,414.00 428.29,413.37 429.65,411.89 430.90,410.20 431.67,409.08 432.39,407.79 433.07,406.37 433.76,404.85 434.46,403.29 435.20,401.70 435.82,400.48 436.50,399.21 437.21,397.91 437.95,396.57 438.68,395.19 439.38,393.79 440.05,392.37 440.66,390.93 441.18,389.47 441.60,388.00 441.94,386.57 442.26,385.11 442.55,383.65 442.83,382.16 443.08,380.65 443.32,379.11 443.54,377.55 443.75,375.96 443.94,374.34 444.13,372.69 444.30,371.00 444.43,369.63 444.56,368.24 444.67,366.83 444.79,365.40 444.90,363.94 445.00,362.47 445.10,360.98 445.20,359.46 445.30,357.93 445.39,356.38 445.48,354.81 445.57,353.22 445.66,351.61 445.74,349.98 445.83,348.34 445.91,346.68 446.00,345.00 446.07,343.61 446.14,342.19 446.20,340.74 446.27,339.26 446.33,337.76 446.39,336.23 446.45,334.68 446.51,333.11 446.57,331.52 446.63,329.93 446.68,328.32 446.74,326.71 446.80,325.10 446.86,323.48 446.91,321.87 446.97,320.25 447.03,318.65 447.09,317.06 447.15,315.48 447.21,313.91 447.27,312.37 447.33,310.84 447.40,309.34 447.46,307.86 447.53,306.41 447.60,305.00 447.69,303.30 447.77,301.59 447.86,299.88 447.95,298.16 448.04,296.45 448.13,294.75 448.23,293.06 448.32,291.39 448.42,289.75 448.52,288.14 448.62,286.57 448.72,285.04 448.83,283.55 448.94,282.11 449.05,280.74 449.16,279.42 449.28,278.17 449.40,277.00 449.62,274.98 449.84,273.03 450.09,271.22 450.35,269.57 450.65,268.15 451.00,267.00 451.82,265.33 452.80,264.50 453.83,265.34 454.80,267.00 455.32,268.19 455.81,269.62 456.26,271.27 456.66,273.11 457.00,275.10 457.15,276.15 457.28,277.29 457.41,278.52 457.54,279.82 457.66,281.19 457.77,282.62 457.88,284.11 457.98,285.64 458.08,287.22 458.18,288.83 458.28,290.47 458.37,292.14 458.47,293.81 458.57,295.50 458.67,297.18 458.77,298.86 458.88,300.53 458.99,302.18 459.10,303.80 459.21,305.26 459.32,306.75 459.43,308.26 459.55,309.79 459.67,311.34 459.80,312.90 459.92,314.48 460.05,316.07 460.17,317.67 460.30,319.27 460.42,320.88 460.55,322.49 460.67,324.09 460.79,325.70 460.91,327.29 461.03,328.88 461.14,330.46 461.25,332.03 461.36,333.58 461.46,335.11 461.55,336.62 461.64,338.10 461.72,339.57 461.80,341.00 461.88,342.68 461.96,344.32 462.03,345.94 462.10,347.53 462.17,349.09 462.23,350.64 462.29,352.18 462.35,353.71 462.41,355.23 462.46,356.75 462.52,358.28 462.58,359.81 462.64,361.35 462.70,362.90 462.76,364.48 462.83,366.08 462.90,367.70 462.96,369.18 463.03,370.70 463.09,372.27 463.15,373.87 463.21,375.50 463.27,377.15 463.33,378.82 463.39,380.49 463.45,382.16 463.51,383.82 463.58,385.47 463.65,387.10 463.72,388.69 463.80,390.26 463.88,391.78 463.97,393.25 464.06,394.66 464.16,396.01 464.27,397.28 464.38,398.48 464.50,399.60 464.76,401.46 465.10,403.24 465.51,404.93 465.98,406.49 466.51,407.90 467.08,409.15 467.70,410.20 468.72,411.51 470.01,412.74 471.46,413.65 473.00,414.00 474.58,414.00 476.40,414.00 478.27,414.00 480.03,414.00 481.50,414.00 483.08,413.37 484.44,411.89 485.70,410.20 486.47,409.08 487.19,407.79 487.87,406.37 488.56,404.85 489.26,403.29 490.00,401.70 490.62,400.48 491.30,399.21 492.01,397.91 492.75,396.57 493.48,395.19 494.18,393.79 494.85,392.37 495.46,390.93 495.98,389.47 496.40,388.00 496.74,386.57 497.06,385.11 497.35,383.65 497.63,382.16 497.88,380.65 498.12,379.11 498.34,377.55 498.55,375.96 498.74,374.34 498.93,372.69 499.10,371.00 499.23,369.63 499.36,368.24 499.47,366.83 499.59,365.40 499.70,363.94 499.80,362.47 499.90,360.98 500.00,359.46 500.10,357.93 500.19,356.38 500.28,354.81 500.37,353.22 500.46,351.61 500.54,349.98 500.63,348.34 500.71,346.68 500.80,345.00 500.87,343.61 500.94,342.19 501.00,340.74 501.07,339.26 501.13,337.76 501.19,336.23 501.25,334.68 501.31,333.11 501.37,331.52 501.43,329.93 501.48,328.32 501.54,326.71 501.60,325.10 501.66,323.48 501.71,321.87 501.77,320.25 501.83,318.65 501.89,317.06 501.95,315.48 502.01,313.91 502.07,312.37 502.13,310.84 502.20,309.34 502.26,307.86 502.33,306.41 502.40,305.00 502.49,303.30 502.57,301.59 502.66,299.88 502.75,298.16 502.84,296.45 502.93,294.75 503.03,293.06 503.12,291.39 503.22,289.75 503.32,288.14 503.42,286.57 503.52,285.04 503.63,283.55 503.74,282.11 503.85,280.74 503.96,279.42 504.08,278.17 504.20,277.00 504.42,274.98 504.64,273.03 504.89,271.22 505.15,269.57 505.45,268.15 505.80,267.00 506.62,265.33 507.60,264.50 508.63,265.34 509.60,267.00 510.12,268.19 510.61,269.62 511.06,271.27 511.46,273.11 511.80,275.10 511.95,276.15 512.08,277.29 512.21,278.52 512.34,279.82 512.46,281.19 512.57,282.62 512.68,284.11 512.78,285.64 512.88,287.22 512.98,288.83 513.08,290.47 513.17,292.14 513.27,293.81 513.37,295.50 513.47,297.18 513.57,298.86 513.68,300.53 513.79,302.18 513.90,303.80 514.01,305.26 514.12,306.75 514.23,308.26 514.35,309.79 514.47,311.34 514.60,312.90 514.72,314.48 514.85,316.07 514.97,317.67 515.10,319.27 515.22,320.88 515.35,322.49 515.47,324.09 515.59,325.70 515.71,327.29 515.83,328.88 515.94,330.46 516.05,332.03 516.16,333.58 516.26,335.11 516.35,336.62 516.44,338.10 516.52,339.57 516.60,341.00 516.68,342.68 516.76,344.32 516.83,345.94 516.90,347.53 516.97,349.09 517.03,350.64 517.09,352.18 517.15,353.71 517.21,355.23 517.26,356.75 517.32,358.28 517.38,359.81 517.44,361.35 517.50,362.90 517.56,364.48 517.63,366.08 517.70,367.70 517.76,369.18 517.83,370.70 517.89,372.27 517.95,373.87 518.01,375.50 518.07,377.15 518.13,378.82 518.19,380.49 518.25,382.16 518.31,383.82 518.38,385.47 518.45,387.10 518.52,388.69 518.60,390.26 518.68,391.78 518.77,393.25 518.86,394.66 518.96,396.01 519.07,397.28 519.18,398.48 519.30,399.60 519.56,401.46 519.90,403.24 520.31,404.93 520.78,406.49 521.31,407.90 521.88,409.15 522.50,410.20 523.52,411.51 524.81,412.74 526.26,413.65 527.80,414.00 529.38,414.00 531.20,414.00 533.07,414.00 534.83,414.00 536.30,414.00 537.88,413.37 539.24,411.89 540.50,410.20 541.27,409.08 541.99,407.79 542.67,406.37 543.36,404.85 544.06,403.29 544.80,401.70 545.42,400.48 546.10,399.21 546.81,397.91 547.55,396.57 548.28,395.19 548.98,393.79 549.65,392.37 550.26,390.93 550.78,389.47 551.20,388.00 551.54,386.57 551.86,385.11 552.15,383.65 552.43,382.16 552.68,380.65 552.92,379.11 553.14,377.55 553.35,375.96 553.54,374.34 553.73,372.69 553.90,371.00 554.03,369.63 554.16,368.24 554.27,366.83 554.39,365.40 554.50,363.94 554.60,362.47 554.70,360.98 554.80,359.46 554.90,357.93 554.99,356.38 555.08,354.81 555.17,353.22 555.26,351.61 555.34,349.98 555.43,348.34 555.51,346.68 555.60,345.00 555.67,343.61 555.74,342.19 555.80,340.74 555.87,339.26 555.93,337.76 555.99,336.23 556.05,334.68 556.11,333.11 556.17,331.52 556.23,329.93 556.28,328.32 556.34,326.71 556.40,325.10 556.46,323.48 556.51,321.87 556.57,320.25 556.63,318.65 556.69,317.06 556.75,315.48 556.81,313.91 556.87,312.37 556.93,310.84 557.00,309.34 557.06,307.86 557.13,306.41 557.20,305.00 557.29,303.30 557.37,301.59 557.46,299.88 557.55,298.16 557.64,296.45 557.73,294.75 557.83,293.06 557.92,291.39 558.02,289.75 558.12,288.14 558.22,286.57 558.32,285.04 558.43,283.55 558.54,282.11 558.65,280.74 558.76,279.42 558.88,278.17 559.00,277.00 559.22,274.98 559.44,273.03 559.69,271.22 559.95,269.57 560.25,268.15 560.60,267.00 561.42,265.33 562.40,264.50 563.43,265.34 564.40,267.00 564.92,268.19 565.41,269.62 565.86,271.27 566.26,273.11 566.60,275.10 566.75,276.15 566.88,277.29 567.01,278.52 567.14,279.82 567.26,281.19 567.37,282.62 567.48,284.11 567.58,285.64 567.68,287.22 567.78,288.83 567.88,290.47 567.97,292.14 568.07,293.81 568.17,295.50 568.27,297.18 568.37,298.86 568.48,300.53 568.59,302.18 568.70,303.80 568.81,305.26 568.92,306.75 569.03,308.26 569.15,309.79 569.27,311.34 569.40,312.90 569.52,314.48 569.65,316.07 569.77,317.67 569.90,319.27 570.02,320.88 570.15,322.49 570.27,324.09 570.39,325.70 570.51,327.29 570.63,328.88 570.74,330.46 570.85,332.03 570.96,333.58 571.06,335.11 571.15,336.62 571.24,338.10 571.32,339.57 571.40,341.00 571.48,342.68 571.56,344.32 571.63,345.94 571.70,347.53 571.77,349.09 571.83,350.64 571.89,352.18 571.95,353.71 572.01,355.23 572.06,356.75 572.12,358.28 572.18,359.81 572.24,361.35 572.30,362.90 572.36,364.48 572.43,366.08 572.50,367.70 572.56,369.18 572.63,370.70 572.69,372.27 572.75,373.87 572.81,375.50 572.87,377.15 572.93,378.82 572.99,380.49 573.05,382.16 573.11,383.82 573.18,385.47 573.25,387.10 573.32,388.69 573.40,390.26 573.48,391.78 573.57,393.25 573.66,394.66 573.76,396.01 573.87,397.28 573.98,398.48 574.10,399.60 574.36,401.46 574.70,403.24 575.11,404.93 575.58,406.49 576.11,407.90 576.68,409.15 577.30,410.20 578.32,411.51 579.61,412.74 581.06,413.65 582.60,414.00 584.18,414.00 586.00,414.00 587.87,414.00 589.63,414.00 591.10,414.00 592.68,413.37 594.04,411.89 595.30,410.20 596.09,409.10 596.86,407.86 597.60,406.49 598.30,405.00 598.97,403.40 599.60,401.70" stroke="#2e5b20" stroke-width="3.3" fill="none" stroke-linejoin="round" stroke-linecap="round" clip-path="url(#clipA)"/>
<path d="M100.00,409.95 102.60,409.95 105.19,409.95 107.76,409.95 110.32,409.95 112.87,409.95 115.40,409.95 117.92,409.95 120.43,409.95 122.92,409.95 125.40,409.95 127.86,409.95 130.31,409.95 132.75,409.95 135.17,409.95 137.57,409.95 139.96,409.95 142.34,409.95 144.70,409.95 147.05,409.95 149.38,409.95 151.70,409.95 154.00,409.95 156.29,409.95 158.56,409.95 160.82,409.95 163.06,409.95 165.29,409.95 167.50,409.95 169.70,409.95 171.88,409.95 174.04,409.95 176.19,409.95 178.32,409.95 180.44,409.95 182.54,409.95 184.62,409.95 186.69,409.95 188.74,409.95 190.78,409.95 192.80,409.95 194.80,409.95 196.79,409.95 198.76,409.95 200.71,409.95 202.65,409.95 204.57,409.95 206.47,409.95 208.36,409.95 210.23,409.95 212.08,409.95 213.92,409.95 215.73,409.95 217.53,409.95 219.32,409.95 221.08,409.95 222.83,409.95 224.56,409.95 226.27,409.95 227.97,409.95 229.64,409.95 231.30,409.95 232.94,409.95 234.56,409.95 236.17,409.95 237.75,409.95 239.32,409.95 240.87,409.95 242.40,409.95 243.91,409.95 245.41,409.95 246.88,409.95 248.34,409.95 249.77,409.95 251.19,409.95 252.59,409.95 253.97,409.95 255.33,409.95 256.67,409.95 258.00,409.95 259.30,409.95 260.58,409.95 261.85,409.95 263.09,409.95 264.31,409.95 265.52,409.95 266.70,409.95 267.87,409.95 269.01,409.95 270.14,409.95 271.24,409.95 272.33,409.95 273.39,409.95 274.43,409.95 275.46,409.95 276.46,409.95 277.44,409.95 278.40,409.95 279.34,409.95 280.26,409.95 281.16,409.95 282.04,409.95 282.89,409.95 283.73,409.95 284.54,409.95 285.34,409.95 286.11,409.95 286.86,409.95 287.58,409.95 288.29,409.95 288.98,409.95 289.64,409.95 290.28,409.95 290.90,409.95 291.50,409.95 292.07,409.95 292.63,409.95 293.16,409.95 293.67,409.95 294.15,409.95 294.62,409.95 295.06,409.95 295.47,409.95 295.87,409.95 296.24,409.95 296.59,409.95 296.92,409.95 297.23,409.95 297.51,409.95 297.77,409.95 298.00,409.95 298.21,409.95 298.40,409.95 299.09,409.58 299.66,408.56 300.14,407.04 300.56,405.17 300.95,403.09 301.34,400.96 301.74,398.91 302.20,397.10 302.71,395.60 303.29,394.15 303.92,392.71 304.55,391.27 305.14,389.79 305.67,388.25 306.10,386.62 306.39,384.88 306.50,383.00 306.51,381.90 306.51,380.74 306.52,379.54 306.53,378.29 306.53,377.00 306.54,375.67 306.54,374.29 306.54,372.88 306.55,371.43 306.55,369.95 306.55,368.44 306.56,366.89 306.56,365.33 306.56,363.73 306.56,362.11 306.57,360.48 306.57,358.82 306.57,357.15 306.57,355.46 306.58,353.76 306.58,352.05 306.58,350.34 306.58,348.62 306.59,346.89 306.59,345.16 306.59,343.44 306.60,341.72 306.60,340.00 306.60,338.66 306.61,337.30 306.61,335.92 306.61,334.52 306.62,333.11 306.62,331.68 306.63,330.23 306.63,328.77 306.63,327.29 306.64,325.81 306.64,324.30 306.65,322.79 306.65,321.27 306.65,319.73 306.66,318.19 306.66,316.64 306.67,315.08 306.67,313.51 306.67,311.94 306.68,310.36 306.68,308.78 306.69,307.19 306.69,305.60 306.70,304.01 306.70,302.42 306.71,300.82 306.71,299.23 306.72,297.63 306.72,296.04 306.73,294.45 306.73,292.87 306.73,291.29 306.74,289.71 306.74,288.14 306.75,286.57 306.75,285.01 306.76,283.46 306.76,281.92 306.77,280.39 306.77,278.87 306.78,277.36 306.78,275.86 306.79,274.37 306.79,272.90 306.80,271.44 306.80,270.00 306.81,268.40 306.81,266.81 306.81,265.22 306.82,263.62 306.82,262.03 306.83,260.45 306.83,258.86 306.84,257.28 306.84,255.70 306.84,254.12 306.85,252.55 306.85,250.98 306.86,249.42 306.86,247.86 306.86,246.31 306.87,244.76 306.87,243.21 306.88,241.68 306.88,240.15 306.89,238.62 306.89,237.10 306.90,235.59 306.90,234.09 306.91,232.60 306.91,231.11 306.92,229.63 306.92,228.16 306.93,226.70 306.94,225.25 306.94,223.80 306.95,222.37 306.96,220.95 306.97,219.54 306.97,218.14 306.98,216.75 306.99,215.37 307.00,214.00 307.01,212.34 307.03,210.67 307.05,209.00 307.07,207.33 307.10,205.65 307.13,203.98 307.16,202.31 307.19,200.65 307.23,199.01 307.27,197.37 307.31,195.75 307.35,194.15 307.40,192.57 307.44,191.02 307.49,189.49 307.54,187.99 307.59,186.52 307.64,185.08 307.69,183.68 307.74,182.32 307.79,181.00 307.84,179.73 307.90,178.50 307.95,177.33 308.00,176.20 308.10,174.21 308.20,172.29 308.32,170.46 308.44,168.73 308.57,167.11 308.70,165.61 308.85,164.24 309.00,163.00 309.40,160.18 309.90,158.70 310.55,159.81 311.20,162.00 311.41,163.07 311.59,164.33 311.76,165.75 311.92,167.30 312.07,168.97 312.22,170.72 312.37,172.53 312.53,174.36 312.70,176.20 312.82,177.45 312.95,178.74 313.08,180.07 313.21,181.44 313.35,182.84 313.49,184.28 313.63,185.74 313.77,187.23 313.91,188.75 314.05,190.28 314.18,191.84 314.32,193.41 314.45,194.99 314.57,196.58 314.69,198.18 314.80,199.78 314.91,201.39 315.01,203.00 315.10,204.60 315.17,206.01 315.25,207.45 315.31,208.92 315.38,210.40 315.45,211.90 315.51,213.42 315.57,214.95 315.63,216.50 315.69,218.05 315.75,219.61 315.80,221.18 315.86,222.75 315.91,224.32 315.96,225.89 316.01,227.45 316.07,229.01 316.11,230.56 316.16,232.10 316.21,233.63 316.26,235.14 316.31,236.63 316.36,238.11 316.40,239.57 316.45,241.00 316.50,242.40 316.56,244.03 316.61,245.61 316.67,247.16 316.72,248.68 316.78,250.18 316.83,251.66 316.88,253.12 316.93,254.58 316.99,256.03 317.04,257.49 317.09,258.96 317.13,260.45 317.18,261.95 317.23,263.49 317.27,265.05 317.32,266.65 317.36,268.30 317.40,270.00 317.43,271.31 317.46,272.64 317.49,273.99 317.52,275.35 317.54,276.73 317.57,278.12 317.59,279.53 317.62,280.96 317.64,282.40 317.66,283.85 317.69,285.32 317.71,286.79 317.73,288.29 317.75,289.79 317.78,291.30 317.80,292.83 317.82,294.37 317.84,295.91 317.87,297.47 317.89,299.03 317.92,300.61 317.94,302.19 317.97,303.78 317.99,305.37 318.02,306.97 318.05,308.58 318.07,310.20 318.10,311.82 318.13,313.44 318.17,315.07 318.20,316.70 318.23,318.09 318.26,319.51 318.29,320.96 318.32,322.45 318.35,323.96 318.39,325.50 318.42,327.06 318.46,328.64 318.49,330.25 318.53,331.87 318.57,333.50 318.60,335.15 318.64,336.82 318.68,338.49 318.72,340.17 318.76,341.85 318.80,343.54 318.85,345.23 318.89,346.92 318.93,348.60 318.98,350.28 319.02,351.96 319.07,353.62 319.11,355.27 319.16,356.92 319.20,358.54 319.25,360.15 319.30,361.74 319.34,363.31 319.39,364.85 319.44,366.37 319.49,367.87 319.54,369.33 319.59,370.76 319.64,372.16 319.69,373.52 319.74,374.85 319.79,376.13 319.84,377.38 319.89,378.58 319.94,379.73 320.00,380.84 320.05,381.90 320.10,382.90 320.20,384.87 320.31,386.78 320.41,388.62 320.51,390.40 320.62,392.09 320.73,393.68 320.86,395.18 320.99,396.57 321.14,397.84 321.31,398.99 321.50,400.00 322.33,402.26 323.50,404.00 324.90,405.40 326.70,406.60 327.99,407.30 329.53,408.04 331.20,408.72 332.83,409.21 334.30,409.40 336.07,409.40 337.73,409.40 338.80,409.40 339.18,408.90 339.46,407.60 339.68,405.74 339.88,403.61 340.10,401.48 340.40,399.60 340.78,398.11 341.25,396.63 341.77,395.15 342.31,393.66 342.82,392.13 343.26,390.55 343.60,388.90 343.83,387.49 344.05,386.08 344.26,384.65 344.45,383.19 344.63,381.68 344.80,380.12 344.94,378.48 345.05,376.76 345.14,374.94 345.20,373.00 345.22,371.93 345.24,370.82 345.26,369.66 345.28,368.45 345.30,367.20 345.31,365.91 345.33,364.58 345.35,363.21 345.36,361.81 345.38,360.37 345.39,358.91 345.40,357.42 345.41,355.90 345.43,354.35 345.44,352.79 345.45,351.20 345.46,349.60 345.47,347.98 345.48,346.34 345.49,344.69 345.50,343.04 345.50,341.38 345.51,339.71 345.52,338.03 345.53,336.36 345.54,334.69 345.54,333.02 345.55,331.35 345.56,329.69 345.56,328.04 345.57,326.40 345.58,324.78 345.59,323.17 345.59,321.57 345.60,320.00 345.61,318.54 345.61,317.07 345.62,315.59 345.63,314.10 345.63,312.61 345.64,311.12 345.64,309.62 345.65,308.11 345.65,306.60 345.66,305.09 345.66,303.57 345.66,302.05 345.67,300.53 345.67,299.00 345.68,297.47 345.68,295.94 345.69,294.41 345.69,292.88 345.69,291.34 345.70,289.81 345.70,288.27 345.71,286.74 345.71,285.21 345.71,283.67 345.72,282.14 345.72,280.61 345.73,279.09 345.73,277.56 345.74,276.04 345.74,274.52 345.75,273.01 345.75,271.50 345.76,269.99 345.76,268.49 345.77,266.99 345.77,265.50 345.78,264.02 345.79,262.54 345.79,261.07 345.80,259.60 345.81,258.03 345.82,256.47 345.83,254.90 345.84,253.34 345.85,251.77 345.86,250.21 345.87,248.65 345.88,247.09 345.90,245.54 345.91,243.98 345.92,242.43 345.94,240.88 345.95,239.33 345.96,237.79 345.98,236.25 345.99,234.71 346.01,233.18 346.03,231.65 346.04,230.13 346.06,228.60 346.07,227.09 346.09,225.57 346.11,224.07 346.12,222.56 346.14,221.06 346.16,219.57 346.17,218.08 346.19,216.60 346.21,215.13 346.22,213.66 346.24,212.19 346.25,210.73 346.27,209.28 346.28,207.84 346.30,206.40 346.32,204.80 346.33,203.20 346.35,201.60 346.37,200.01 346.38,198.42 346.40,196.84 346.41,195.26 346.43,193.68 346.45,192.12 346.46,190.55 346.48,189.00 346.49,187.45 346.51,185.90 346.53,184.37 346.54,182.84 346.56,181.32 346.58,179.81 346.60,178.30 346.61,176.81 346.63,175.32 346.65,173.84 346.67,172.38 346.69,170.92 346.71,169.47 346.73,168.04 346.75,166.61 346.78,165.20 346.80,163.80 346.83,162.13 346.86,160.43 346.89,158.72 346.92,157.00 346.95,155.28 346.98,153.55 347.01,151.84 347.04,150.14 347.08,148.46 347.11,146.81 347.15,145.19 347.19,143.60 347.24,142.06 347.28,140.57 347.33,139.14 347.38,137.76 347.43,136.46 347.48,135.22 347.54,134.07 347.60,133.00 347.76,130.90 347.96,128.96 348.21,127.22 348.49,125.72 348.80,124.50 349.32,123.04 350.00,122.30 350.96,122.69 352.00,123.50 352.83,124.53 353.59,125.96 354.30,127.70 354.62,128.68 354.94,129.80 355.25,131.07 355.55,132.46 355.85,133.95 356.14,135.54 356.42,137.20 356.70,138.92 356.97,140.69 357.24,142.49 357.50,144.30 357.75,146.11 358.00,147.90 358.18,149.22 358.35,150.57 358.52,151.96 358.69,153.38 358.86,154.83 359.02,156.30 359.19,157.80 359.35,159.32 359.51,160.86 359.66,162.42 359.82,164.00 359.97,165.59 360.12,167.20 360.27,168.82 360.42,170.44 360.57,172.07 360.71,173.70 360.86,175.34 361.00,176.98 361.14,178.62 361.28,180.25 361.42,181.87 361.56,183.49 361.70,185.10 361.83,186.58 361.95,188.08 362.07,189.59 362.19,191.12 362.31,192.66 362.43,194.22 362.54,195.78 362.66,197.36 362.77,198.94 362.88,200.52 363.00,202.11 363.11,203.69 363.22,205.28 363.33,206.86 363.44,208.44 363.55,210.01 363.66,211.58 363.77,213.13 363.88,214.67 363.99,216.20 364.10,217.71 364.21,219.20 364.32,220.68 364.44,222.13 364.55,223.56 364.67,224.97 364.78,226.35 364.90,227.70 365.06,229.42 365.22,231.11 365.38,232.76 365.55,234.38 365.72,235.98 365.89,237.55 366.07,239.10 366.24,240.64 366.41,242.16 366.58,243.68 366.74,245.18 366.90,246.69 367.05,248.20 367.20,249.71 367.34,251.23 367.48,252.76 367.60,254.30 367.72,255.81 367.83,257.31 367.94,258.79 368.05,260.26 368.16,261.72 368.26,263.18 368.37,264.64 368.47,266.10 368.56,267.57 368.65,269.05 368.74,270.55 368.83,272.06 368.91,273.59 368.99,275.15 369.06,276.73 369.13,278.35 369.20,280.00 369.25,281.37 369.30,282.77 369.35,284.19 369.39,285.64 369.43,287.11 369.48,288.60 369.52,290.11 369.55,291.63 369.59,293.17 369.63,294.72 369.67,296.28 369.70,297.85 369.74,299.42 369.77,301.01 369.80,302.59 369.84,304.18 369.87,305.77 369.91,307.36 369.94,308.94 369.97,310.52 370.01,312.10 370.05,313.66 370.08,315.22 370.12,316.76 370.16,318.29 370.20,319.80 370.24,321.37 370.29,322.94 370.33,324.49 370.38,326.04 370.42,327.59 370.47,329.13 370.51,330.67 370.56,332.20 370.61,333.73 370.65,335.26 370.70,336.79 370.75,338.32 370.79,339.85 370.84,341.39 370.89,342.92 370.93,344.46 370.98,346.01 371.03,347.55 371.07,349.11 371.12,350.67 371.17,352.24 371.21,353.82 371.26,355.40 371.30,357.00 371.34,358.50 371.38,360.04 371.41,361.64 371.45,363.27 371.48,364.93 371.51,366.63 371.54,368.34 371.57,370.08 371.60,371.82 371.63,373.57 371.66,375.32 371.69,377.07 371.72,378.80 371.75,380.52 371.78,382.21 371.81,383.88 371.85,385.51 371.88,387.10 371.92,388.65 371.96,390.14 372.00,391.58 372.05,392.96 372.10,394.27 372.15,395.50 372.21,396.66 372.27,397.73 372.33,398.71 372.40,399.60 372.62,401.50 372.95,403.20 373.38,404.69 373.90,405.96 374.50,407.00 375.56,408.12 377.09,409.15 378.90,409.91 380.80,410.20 382.27,410.20 384.06,410.20 386.03,410.20 388.04,410.20 389.94,410.20 391.60,410.20 392.87,410.20 393.60,410.20 393.98,409.80 394.27,408.71 394.50,407.14 394.70,405.25 394.89,403.24 395.11,401.29 395.40,399.60 395.79,398.09 396.26,396.60 396.79,395.12 397.32,393.64 397.82,392.12 398.26,390.55 398.60,388.90 398.83,387.49 399.05,386.08 399.26,384.65 399.45,383.19 399.63,381.68 399.80,380.12 399.94,378.48 400.05,376.76 400.14,374.94 400.20,373.00 400.22,371.93 400.24,370.82 400.26,369.66 400.28,368.45 400.30,367.20 400.31,365.91 400.33,364.58 400.35,363.21 400.36,361.81 400.38,360.37 400.39,358.91 400.40,357.42 400.41,355.90 400.43,354.35 400.44,352.79 400.45,351.20 400.46,349.60 400.47,347.98 400.48,346.34 400.49,344.69 400.50,343.04 400.50,341.38 400.51,339.71 400.52,338.03 400.53,336.36 400.54,334.69 400.54,333.02 400.55,331.35 400.56,329.69 400.56,328.04 400.57,326.40 400.58,324.78 400.59,323.17 400.59,321.57 400.60,320.00 400.61,318.54 400.61,317.07 400.62,315.59 400.63,314.10 400.63,312.61 400.64,311.12 400.64,309.62 400.65,308.11 400.65,306.60 400.66,305.09 400.66,303.57 400.66,302.05 400.67,300.53 400.67,299.00 400.68,297.47 400.68,295.94 400.69,294.41 400.69,292.88 400.69,291.34 400.70,289.81 400.70,288.27 400.71,286.74 400.71,285.21 400.71,283.67 400.72,282.14 400.72,280.61 400.73,279.09 400.73,277.56 400.74,276.04 400.74,274.52 400.75,273.01 400.75,271.50 400.76,269.99 400.76,268.49 400.77,266.99 400.77,265.50 400.78,264.02 400.79,262.54 400.79,261.07 400.80,259.60 400.81,258.03 400.82,256.47 400.83,254.90 400.84,253.34 400.85,251.77 400.86,250.21 400.87,248.65 400.88,247.09 400.90,245.54 400.91,243.98 400.92,242.43 400.94,240.88 400.95,239.33 400.96,237.79 400.98,236.25 400.99,234.71 401.01,233.18 401.03,231.65 401.04,230.13 401.06,228.60 401.07,227.09 401.09,225.57 401.11,224.07 401.12,222.56 401.14,221.06 401.16,219.57 401.17,218.08 401.19,216.60 401.21,215.13 401.22,213.66 401.24,212.19 401.25,210.73 401.27,209.28 401.28,207.84 401.30,206.40 401.32,204.80 401.33,203.20 401.35,201.60 401.37,200.01 401.38,198.42 401.40,196.84 401.41,195.26 401.43,193.68 401.45,192.12 401.46,190.55 401.48,189.00 401.49,187.45 401.51,185.90 401.53,184.37 401.54,182.84 401.56,181.32 401.58,179.81 401.60,178.30 401.61,176.81 401.63,175.32 401.65,173.84 401.67,172.38 401.69,170.92 401.71,169.47 401.73,168.04 401.75,166.61 401.78,165.20 401.80,163.80 401.83,162.13 401.86,160.43 401.89,158.72 401.92,157.00 401.95,155.28 401.98,153.55 402.01,151.84 402.04,150.14 402.08,148.46 402.11,146.81 402.15,145.19 402.19,143.60 402.24,142.06 402.28,140.57 402.33,139.14 402.38,137.76 402.43,136.46 402.48,135.22 402.54,134.07 402.60,133.00 402.76,130.90 402.96,128.96 403.21,127.22 403.49,125.72 403.80,124.50 404.32,123.04 405.00,122.30 405.96,122.69 407.00,123.50 407.83,124.53 408.59,125.96 409.30,127.70 409.62,128.68 409.94,129.80 410.25,131.07 410.55,132.46 410.85,133.95 411.14,135.54 411.42,137.20 411.70,138.92 411.97,140.69 412.24,142.49 412.50,144.30 412.75,146.11 413.00,147.90 413.18,149.22 413.35,150.57 413.52,151.96 413.69,153.38 413.86,154.83 414.02,156.30 414.19,157.80 414.35,159.32 414.51,160.86 414.66,162.42 414.82,164.00 414.97,165.59 415.12,167.20 415.27,168.82 415.42,170.44 415.57,172.07 415.71,173.70 415.86,175.34 416.00,176.98 416.14,178.62 416.28,180.25 416.42,181.87 416.56,183.49 416.70,185.10 416.83,186.58 416.95,188.08 417.07,189.59 417.19,191.12 417.31,192.66 417.43,194.22 417.54,195.78 417.66,197.36 417.77,198.94 417.88,200.52 418.00,202.11 418.11,203.69 418.22,205.28 418.33,206.86 418.44,208.44 418.55,210.01 418.66,211.58 418.77,213.13 418.88,214.67 418.99,216.20 419.10,217.71 419.21,219.20 419.32,220.68 419.44,222.13 419.55,223.56 419.67,224.97 419.78,226.35 419.90,227.70 420.06,229.42 420.22,231.11 420.38,232.76 420.55,234.38 420.72,235.98 420.89,237.55 421.07,239.10 421.24,240.64 421.41,242.16 421.58,243.68 421.74,245.18 421.90,246.69 422.05,248.20 422.20,249.71 422.34,251.23 422.48,252.76 422.60,254.30 422.72,255.81 422.83,257.31 422.94,258.79 423.05,260.26 423.16,261.72 423.26,263.18 423.37,264.64 423.47,266.10 423.56,267.57 423.65,269.05 423.74,270.55 423.83,272.06 423.91,273.59 423.99,275.15 424.06,276.73 424.13,278.35 424.20,280.00 424.25,281.37 424.30,282.77 424.35,284.19 424.39,285.64 424.43,287.11 424.48,288.60 424.52,290.11 424.55,291.63 424.59,293.17 424.63,294.72 424.67,296.28 424.70,297.85 424.74,299.42 424.77,301.01 424.80,302.59 424.84,304.18 424.87,305.77 424.91,307.36 424.94,308.94 424.97,310.52 425.01,312.10 425.05,313.66 425.08,315.22 425.12,316.76 425.16,318.29 425.20,319.80 425.24,321.37 425.29,322.94 425.33,324.49 425.38,326.04 425.42,327.59 425.47,329.13 425.51,330.67 425.56,332.20 425.61,333.73 425.65,335.26 425.70,336.79 425.75,338.32 425.79,339.85 425.84,341.39 425.89,342.92 425.93,344.46 425.98,346.01 426.03,347.55 426.07,349.11 426.12,350.67 426.17,352.24 426.21,353.82 426.26,355.40 426.30,357.00 426.34,358.50 426.38,360.04 426.41,361.64 426.45,363.27 426.48,364.93 426.51,366.63 426.54,368.34 426.57,370.08 426.60,371.82 426.63,373.57 426.66,375.32 426.69,377.07 426.72,378.80 426.75,380.52 426.78,382.21 426.81,383.88 426.85,385.51 426.88,387.10 426.92,388.65 426.96,390.14 427.00,391.58 427.05,392.96 427.10,394.27 427.15,395.50 427.21,396.66 427.27,397.73 427.33,398.71 427.40,399.60 427.62,401.50 427.95,403.20 428.38,404.69 428.90,405.96 429.50,407.00 430.56,408.12 432.09,409.15 433.90,409.91 435.80,410.20 437.27,410.20 439.05,410.20 441.01,410.20 443.00,410.20 444.90,410.20 446.56,410.20 447.84,410.20 448.60,410.20 449.02,409.80 449.35,408.71 449.60,407.14 449.83,405.25 450.04,403.24 450.29,401.30 450.60,399.60 451.00,398.09 451.49,396.60 452.01,395.13 452.53,393.64 453.03,392.12 453.47,390.55 453.80,388.90 454.03,387.49 454.25,386.08 454.46,384.65 454.65,383.19 454.83,381.68 455.00,380.12 455.14,378.48 455.25,376.76 455.34,374.94 455.40,373.00 455.42,371.93 455.44,370.82 455.46,369.66 455.48,368.45 455.50,367.20 455.51,365.91 455.53,364.58 455.55,363.21 455.56,361.81 455.58,360.37 455.59,358.91 455.60,357.42 455.61,355.90 455.63,354.35 455.64,352.79 455.65,351.20 455.66,349.60 455.67,347.98 455.68,346.34 455.69,344.69 455.70,343.04 455.70,341.38 455.71,339.71 455.72,338.03 455.73,336.36 455.74,334.69 455.74,333.02 455.75,331.35 455.76,329.69 455.76,328.04 455.77,326.40 455.78,324.78 455.79,323.17 455.79,321.57 455.80,320.00 455.81,318.54 455.81,317.07 455.82,315.59 455.83,314.10 455.83,312.61 455.84,311.12 455.84,309.62 455.85,308.11 455.85,306.60 455.86,305.09 455.86,303.57 455.86,302.05 455.87,300.53 455.87,299.00 455.88,297.47 455.88,295.94 455.89,294.41 455.89,292.88 455.89,291.34 455.90,289.81 455.90,288.27 455.91,286.74 455.91,285.21 455.91,283.67 455.92,282.14 455.92,280.61 455.93,279.09 455.93,277.56 455.94,276.04 455.94,274.52 455.95,273.01 455.95,271.50 455.96,269.99 455.96,268.49 455.97,266.99 455.97,265.50 455.98,264.02 455.99,262.54 455.99,261.07 456.00,259.60 456.01,258.03 456.02,256.47 456.03,254.90 456.04,253.34 456.05,251.77 456.06,250.21 456.07,248.65 456.08,247.09 456.10,245.54 456.11,243.98 456.12,242.43 456.14,240.88 456.15,239.33 456.16,237.79 456.18,236.25 456.19,234.71 456.21,233.18 456.23,231.65 456.24,230.13 456.26,228.60 456.27,227.09 456.29,225.57 456.31,224.07 456.32,222.56 456.34,221.06 456.36,219.57 456.37,218.08 456.39,216.60 456.41,215.13 456.42,213.66 456.44,212.19 456.45,210.73 456.47,209.28 456.48,207.84 456.50,206.40 456.52,204.80 456.53,203.20 456.55,201.60 456.57,200.01 456.58,198.42 456.60,196.84 456.61,195.26 456.63,193.68 456.65,192.12 456.66,190.55 456.68,189.00 456.69,187.45 456.71,185.90 456.73,184.37 456.74,182.84 456.76,181.32 456.78,179.81 456.80,178.30 456.81,176.81 456.83,175.32 456.85,173.84 456.87,172.38 456.89,170.92 456.91,169.47 456.93,168.04 456.95,166.61 456.98,165.20 457.00,163.80 457.03,162.13 457.06,160.43 457.09,158.72 457.12,157.00 457.15,155.28 457.18,153.55 457.21,151.84 457.24,150.14 457.28,148.46 457.31,146.81 457.35,145.19 457.39,143.60 457.44,142.06 457.48,140.57 457.53,139.14 457.58,137.76 457.63,136.46 457.68,135.22 457.74,134.07 457.80,133.00 457.96,130.90 458.16,128.96 458.41,127.22 458.69,125.72 459.00,124.50 459.52,123.04 460.20,122.30 461.16,122.69 462.20,123.50 463.03,124.53 463.79,125.96 464.50,127.70 464.82,128.68 465.14,129.80 465.45,131.07 465.75,132.46 466.05,133.95 466.34,135.54 466.62,137.20 466.90,138.92 467.17,140.69 467.44,142.49 467.70,144.30 467.95,146.11 468.20,147.90 468.38,149.22 468.55,150.57 468.72,151.96 468.89,153.38 469.06,154.83 469.22,156.30 469.39,157.80 469.55,159.32 469.71,160.86 469.86,162.42 470.02,164.00 470.17,165.59 470.32,167.20 470.47,168.82 470.62,170.44 470.77,172.07 470.91,173.70 471.06,175.34 471.20,176.98 471.34,178.62 471.48,180.25 471.62,181.87 471.76,183.49 471.90,185.10 472.03,186.58 472.15,188.08 472.27,189.59 472.39,191.12 472.51,192.66 472.63,194.22 472.74,195.78 472.86,197.36 472.97,198.94 473.08,200.52 473.20,202.11 473.31,203.69 473.42,205.28 473.53,206.86 473.64,208.44 473.75,210.01 473.86,211.58 473.97,213.13 474.08,214.67 474.19,216.20 474.30,217.71 474.41,219.20 474.52,220.68 474.64,222.13 474.75,223.56 474.87,224.97 474.98,226.35 475.10,227.70 475.26,229.42 475.42,231.11 475.58,232.76 475.75,234.38 475.92,235.98 476.09,237.55 476.27,239.10 476.44,240.64 476.61,242.16 476.78,243.68 476.94,245.18 477.10,246.69 477.25,248.20 477.40,249.71 477.54,251.23 477.68,252.76 477.80,254.30 477.92,255.81 478.03,257.31 478.14,258.79 478.25,260.26 478.36,261.72 478.46,263.18 478.57,264.64 478.67,266.10 478.76,267.57 478.85,269.05 478.94,270.55 479.03,272.06 479.11,273.59 479.19,275.15 479.26,276.73 479.33,278.35 479.40,280.00 479.45,281.37 479.50,282.77 479.55,284.19 479.59,285.64 479.63,287.11 479.68,288.60 479.72,290.11 479.75,291.63 479.79,293.17 479.83,294.72 479.87,296.28 479.90,297.85 479.94,299.42 479.97,301.01 480.00,302.59 480.04,304.18 480.07,305.77 480.11,307.36 480.14,308.94 480.17,310.52 480.21,312.10 480.25,313.66 480.28,315.22 480.32,316.76 480.36,318.29 480.40,319.80 480.44,321.37 480.49,322.94 480.53,324.49 480.58,326.04 480.62,327.59 480.67,329.13 480.71,330.67 480.76,332.20 480.81,333.73 480.85,335.26 480.90,336.79 480.95,338.32 480.99,339.85 481.04,341.39 481.09,342.92 481.13,344.46 481.18,346.01 481.23,347.55 481.27,349.11 481.32,350.67 481.37,352.24 481.41,353.82 481.46,355.40 481.50,357.00 481.54,358.50 481.58,360.04 481.61,361.64 481.65,363.27 481.68,364.93 481.71,366.63 481.74,368.34 481.77,370.08 481.80,371.82 481.83,373.57 481.86,375.32 481.89,377.07 481.92,378.80 481.95,380.52 481.98,382.21 482.01,383.88 482.05,385.51 482.08,387.10 482.12,388.65 482.16,390.14 482.20,391.58 482.25,392.96 482.30,394.27 482.35,395.50 482.41,396.66 482.47,397.73 482.53,398.71 482.60,399.60 482.82,401.50 483.15,403.20 483.58,404.69 484.10,405.96 484.70,407.00 485.76,408.12 487.29,409.15 489.10,409.91 491.00,410.20 492.47,410.20 494.25,410.20 496.22,410.20 498.22,410.20 500.12,410.20 501.78,410.20 503.05,410.20 503.80,410.20 504.20,409.80 504.51,408.71 504.75,407.14 504.96,405.25 505.17,403.24 505.40,401.29 505.70,399.60 506.10,398.09 506.57,396.60 507.10,395.13 507.63,393.64 508.13,392.12 508.56,390.55 508.90,388.90 509.13,387.49 509.35,386.08 509.56,384.65 509.75,383.19 509.93,381.68 510.10,380.12 510.24,378.48 510.35,376.76 510.44,374.94 510.50,373.00 510.52,371.93 510.54,370.82 510.56,369.66 510.58,368.45 510.60,367.20 510.61,365.91 510.63,364.58 510.65,363.21 510.66,361.81 510.68,360.37 510.69,358.91 510.70,357.42 510.71,355.90 510.73,354.35 510.74,352.79 510.75,351.20 510.76,349.60 510.77,347.98 510.78,346.34 510.79,344.69 510.80,343.04 510.80,341.38 510.81,339.71 510.82,338.03 510.83,336.36 510.84,334.69 510.84,333.02 510.85,331.35 510.86,329.69 510.86,328.04 510.87,326.40 510.88,324.78 510.89,323.17 510.89,321.57 510.90,320.00 510.91,318.54 510.91,317.07 510.92,315.59 510.93,314.10 510.93,312.61 510.94,311.12 510.94,309.62 510.95,308.11 510.95,306.60 510.96,305.09 510.96,303.57 510.96,302.05 510.97,300.53 510.97,299.00 510.98,297.47 510.98,295.94 510.99,294.41 510.99,292.88 510.99,291.34 511.00,289.81 511.00,288.27 511.01,286.74 511.01,285.21 511.01,283.67 511.02,282.14 511.02,280.61 511.03,279.09 511.03,277.56 511.04,276.04 511.04,274.52 511.05,273.01 511.05,271.50 511.06,269.99 511.06,268.49 511.07,266.99 511.07,265.50 511.08,264.02 511.09,262.54 511.09,261.07 511.10,259.60 511.11,258.03 511.12,256.47 511.13,254.90 511.14,253.34 511.15,251.77 511.16,250.21 511.17,248.65 511.18,247.09 511.20,245.54 511.21,243.98 511.22,242.43 511.24,240.88 511.25,239.33 511.26,237.79 511.28,236.25 511.29,234.71 511.31,233.18 511.33,231.65 511.34,230.13 511.36,228.60 511.37,227.09 511.39,225.57 511.41,224.07 511.42,222.56 511.44,221.06 511.46,219.57 511.47,218.08 511.49,216.60 511.51,215.13 511.52,213.66 511.54,212.19 511.55,210.73 511.57,209.28 511.58,207.84 511.60,206.40 511.62,204.80 511.63,203.20 511.65,201.60 511.67,200.01 511.68,198.42 511.70,196.84 511.71,195.26 511.73,193.68 511.75,192.12 511.76,190.55 511.78,189.00 511.79,187.45 511.81,185.90 511.83,184.37 511.84,182.84 511.86,181.32 511.88,179.81 511.90,178.30 511.91,176.81 511.93,175.32 511.95,173.84 511.97,172.38 511.99,170.92 512.01,169.47 512.03,168.04 512.05,166.61 512.08,165.20 512.10,163.80 512.13,162.13 512.16,160.43 512.19,158.72 512.22,157.00 512.25,155.28 512.28,153.55 512.31,151.84 512.34,150.14 512.38,148.46 512.41,146.81 512.45,145.19 512.49,143.60 512.54,142.06 512.58,140.57 512.63,139.14 512.68,137.76 512.73,136.46 512.78,135.22 512.84,134.07 512.90,133.00 513.06,130.90 513.26,128.96 513.51,127.22 513.79,125.72 514.10,124.50 514.62,123.04 515.30,122.30 516.26,122.69 517.30,123.50 518.13,124.53 518.89,125.96 519.60,127.70 519.92,128.68 520.24,129.80 520.55,131.07 520.85,132.46 521.15,133.95 521.44,135.54 521.72,137.20 522.00,138.92 522.27,140.69 522.54,142.49 522.80,144.30 523.05,146.11 523.30,147.90 523.48,149.22 523.65,150.57 523.82,151.96 523.99,153.38 524.16,154.83 524.32,156.30 524.49,157.80 524.65,159.32 524.81,160.86 524.96,162.42 525.12,164.00 525.27,165.59 525.42,167.20 525.57,168.82 525.72,170.44 525.87,172.07 526.01,173.70 526.16,175.34 526.30,176.98 526.44,178.62 526.58,180.25 526.72,181.87 526.86,183.49 527.00,185.10 527.13,186.58 527.25,188.08 527.37,189.59 527.49,191.12 527.61,192.66 527.73,194.22 527.84,195.78 527.96,197.36 528.07,198.94 528.18,200.52 528.30,202.11 528.41,203.69 528.52,205.28 528.63,206.86 528.74,208.44 528.85,210.01 528.96,211.58 529.07,213.13 529.18,214.67 529.29,216.20 529.40,217.71 529.51,219.20 529.62,220.68 529.74,222.13 529.85,223.56 529.97,224.97 530.08,226.35 530.20,227.70 530.36,229.42 530.52,231.11 530.68,232.76 530.85,234.38 531.02,235.98 531.19,237.55 531.37,239.10 531.54,240.64 531.71,242.16 531.88,243.68 532.04,245.18 532.20,246.69 532.35,248.20 532.50,249.71 532.64,251.23 532.78,252.76 532.90,254.30 533.02,255.81 533.13,257.31 533.24,258.79 533.35,260.26 533.46,261.72 533.56,263.18 533.67,264.64 533.77,266.10 533.86,267.57 533.95,269.05 534.04,270.55 534.13,272.06 534.21,273.59 534.29,275.15 534.36,276.73 534.43,278.35 534.50,280.00 534.55,281.37 534.60,282.77 534.65,284.19 534.69,285.64 534.73,287.11 534.78,288.60 534.82,290.11 534.85,291.63 534.89,293.17 534.93,294.72 534.97,296.28 535.00,297.85 535.04,299.42 535.07,301.01 535.10,302.59 535.14,304.18 535.17,305.77 535.21,307.36 535.24,308.94 535.27,310.52 535.31,312.10 535.35,313.66 535.38,315.22 535.42,316.76 535.46,318.29 535.50,319.80 535.54,321.37 535.59,322.94 535.63,324.49 535.68,326.04 535.72,327.59 535.77,329.13 535.81,330.67 535.86,332.20 535.91,333.73 535.95,335.26 536.00,336.79 536.05,338.32 536.09,339.85 536.14,341.39 536.19,342.92 536.23,344.46 536.28,346.01 536.33,347.55 536.37,349.11 536.42,350.67 536.47,352.24 536.51,353.82 536.56,355.40 536.60,357.00 536.64,358.50 536.68,360.04 536.71,361.64 536.75,363.27 536.78,364.93 536.81,366.63 536.84,368.34 536.87,370.08 536.90,371.82 536.93,373.57 536.96,375.32 536.99,377.07 537.02,378.80 537.05,380.52 537.08,382.21 537.11,383.88 537.15,385.51 537.18,387.10 537.22,388.65 537.26,390.14 537.30,391.58 537.35,392.96 537.40,394.27 537.45,395.50 537.51,396.66 537.57,397.73 537.63,398.71 537.70,399.60 537.92,401.50 538.25,403.20 538.68,404.69 539.20,405.96 539.80,407.00 540.86,408.12 542.39,409.15 544.20,409.91 546.10,410.20 547.57,410.20 549.36,410.20 551.33,410.20 553.34,410.20 555.24,410.20 556.90,410.20 558.17,410.20 558.90,410.20 559.28,409.80 559.57,408.71 559.80,407.14 560.00,405.25 560.19,403.24 560.41,401.29 560.70,399.60 561.09,398.09 561.56,396.60 562.09,395.12 562.62,393.64 563.12,392.12 563.56,390.55 563.90,388.90 564.13,387.49 564.35,386.08 564.56,384.65 564.75,383.19 564.93,381.68 565.10,380.12 565.24,378.48 565.35,376.76 565.44,374.94 565.50,373.00 565.52,371.93 565.54,370.82 565.56,369.66 565.58,368.45 565.60,367.20 565.61,365.91 565.63,364.58 565.65,363.21 565.66,361.81 565.68,360.37 565.69,358.91 565.70,357.42 565.71,355.90 565.73,354.35 565.74,352.79 565.75,351.20 565.76,349.60 565.77,347.98 565.78,346.34 565.79,344.69 565.80,343.04 565.80,341.38 565.81,339.71 565.82,338.03 565.83,336.36 565.84,334.69 565.84,333.02 565.85,331.35 565.86,329.69 565.86,328.04 565.87,326.40 565.88,324.78 565.89,323.17 565.89,321.57 565.90,320.00 565.91,318.54 565.91,317.07 565.92,315.59 565.93,314.10 565.93,312.61 565.94,311.12 565.94,309.62 565.95,308.11 565.95,306.60 565.96,305.09 565.96,303.57 565.96,302.05 565.97,300.53 565.97,299.00 565.98,297.47 565.98,295.94 565.99,294.41 565.99,292.88 565.99,291.34 566.00,289.81 566.00,288.27 566.01,286.74 566.01,285.21 566.01,283.67 566.02,282.14 566.02,280.61 566.03,279.09 566.03,277.56 566.04,276.04 566.04,274.52 566.05,273.01 566.05,271.50 566.06,269.99 566.06,268.49 566.07,266.99 566.07,265.50 566.08,264.02 566.09,262.54 566.09,261.07 566.10,259.60 566.11,258.03 566.12,256.47 566.13,254.90 566.14,253.34 566.15,251.77 566.16,250.21 566.17,248.65 566.18,247.09 566.20,245.54 566.21,243.98 566.22,242.43 566.24,240.88 566.25,239.33 566.26,237.79 566.28,236.25 566.29,234.71 566.31,233.18 566.33,231.65 566.34,230.13 566.36,228.60 566.37,227.09 566.39,225.57 566.41,224.07 566.42,222.56 566.44,221.06 566.46,219.57 566.47,218.08 566.49,216.60 566.51,215.13 566.52,213.66 566.54,212.19 566.55,210.73 566.57,209.28 566.58,207.84 566.60,206.40 566.62,204.80 566.63,203.20 566.65,201.60 566.67,200.01 566.68,198.42 566.70,196.84 566.71,195.26 566.73,193.68 566.75,192.12 566.76,190.55 566.78,189.00 566.79,187.45 566.81,185.90 566.83,184.37 566.84,182.84 566.86,181.32 566.88,179.81 566.90,178.30 566.91,176.81 566.93,175.32 566.95,173.84 566.97,172.38 566.99,170.92 567.01,169.47 567.03,168.04 567.05,166.61 567.08,165.20 567.10,163.80 567.13,162.13 567.16,160.43 567.19,158.72 567.22,157.00 567.25,155.28 567.28,153.55 567.31,151.84 567.34,150.14 567.38,148.46 567.41,146.81 567.45,145.19 567.49,143.60 567.54,142.06 567.58,140.57 567.63,139.14 567.68,137.76 567.73,136.46 567.78,135.22 567.84,134.07 567.90,133.00 568.06,130.90 568.26,128.96 568.51,127.22 568.79,125.72 569.10,124.50 569.62,123.04 570.30,122.30 571.26,122.69 572.30,123.50 573.13,124.53 573.89,125.96 574.60,127.70 574.92,128.68 575.24,129.80 575.55,131.07 575.85,132.46 576.15,133.95 576.44,135.54 576.72,137.20 577.00,138.92 577.27,140.69 577.54,142.49 577.80,144.30 578.05,146.11 578.30,147.90 578.48,149.22 578.65,150.57 578.82,151.96 578.99,153.38 579.16,154.83 579.32,156.30 579.49,157.80 579.65,159.32 579.81,160.86 579.96,162.42 580.12,164.00 580.27,165.59 580.42,167.20 580.57,168.82 580.72,170.44 580.87,172.07 581.01,173.70 581.16,175.34 581.30,176.98 581.44,178.62 581.58,180.25 581.72,181.87 581.86,183.49 582.00,185.10 582.13,186.58 582.25,188.08 582.37,189.59 582.49,191.12 582.61,192.66 582.73,194.22 582.84,195.78 582.96,197.36 583.07,198.94 583.18,200.52 583.30,202.11 583.41,203.69 583.52,205.28 583.63,206.86 583.74,208.44 583.85,210.01 583.96,211.58 584.07,213.13 584.18,214.67 584.29,216.20 584.40,217.71 584.51,219.20 584.62,220.68 584.74,222.13 584.85,223.56 584.97,224.97 585.08,226.35 585.20,227.70 585.36,229.42 585.52,231.11 585.68,232.76 585.85,234.38 586.02,235.98 586.19,237.55 586.37,239.10 586.54,240.64 586.71,242.16 586.88,243.68 587.04,245.18 587.20,246.69 587.35,248.20 587.50,249.71 587.64,251.23 587.78,252.76 587.90,254.30 588.02,255.81 588.13,257.31 588.24,258.79 588.35,260.26 588.46,261.72 588.56,263.18 588.67,264.64 588.77,266.10 588.86,267.57 588.95,269.05 589.04,270.55 589.13,272.06 589.21,273.59 589.29,275.15 589.36,276.73 589.43,278.35 589.50,280.00 589.55,281.37 589.60,282.77 589.65,284.19 589.69,285.64 589.73,287.11 589.78,288.60 589.82,290.11 589.85,291.63 589.89,293.17 589.93,294.72 589.97,296.28 590.00,297.85 590.04,299.42 590.07,301.01 590.10,302.59 590.14,304.18 590.17,305.77 590.21,307.36 590.24,308.94 590.27,310.52 590.31,312.10 590.35,313.66 590.38,315.22 590.42,316.76 590.46,318.29 590.50,319.80 590.54,321.37 590.59,322.94 590.63,324.49 590.68,326.04 590.72,327.59 590.77,329.13 590.81,330.67 590.86,332.20 590.91,333.73 590.95,335.26 591.00,336.79 591.05,338.32 591.09,339.85 591.14,341.39 591.19,342.92 591.23,344.46 591.28,346.01 591.33,347.55 591.37,349.11 591.42,350.67 591.47,352.24 591.51,353.82 591.56,355.40 591.60,357.00 591.64,358.50 591.68,360.04 591.71,361.64 591.75,363.27 591.78,364.93 591.81,366.63 591.84,368.34 591.87,370.08 591.90,371.82 591.93,373.57 591.96,375.32 591.99,377.07 592.02,378.80 592.05,380.52 592.08,382.21 592.11,383.88 592.15,385.51 592.18,387.10 592.22,388.65 592.26,390.14 592.30,391.58 592.35,392.96 592.40,394.27 592.45,395.50 592.51,396.66 592.57,397.73 592.63,398.71 592.70,399.60 592.92,401.50 593.25,403.20 593.68,404.69 594.20,405.96 594.80,407.00 595.86,408.12 597.39,409.15 599.20,409.91 601.10,410.20 602.41,410.20 603.80,410.20 605.29,410.20 606.85,410.20 608.50,410.20 610.22,410.20 612.03,410.20 613.90,410.20" stroke="#bd0a0c" stroke-width="3.3" fill="none" stroke-linejoin="round" stroke-linecap="round" clip-path="url(#clipA)"/>
<text x="213.90" y="189.80" font-size="25" text-anchor="start" >B/Cdk1</text>
<text x="204.80" y="335.60" font-size="25" text-anchor="start" >A/Cdk2</text>
<path d="M272.40 56.50V92.00" stroke="#000" stroke-width="1.9" fill="none"/><path d="M266.40 90.00H278.40L272.40 106.00Z" fill="#000"/>
<text x="280.50" y="85.90" font-size="25" text-anchor="start" >Overexpression of AP1</text>
<path d="M840.00,386.30 842.43,386.30 844.83,386.30 847.22,386.30 849.59,386.30 851.94,386.30 854.27,386.30 856.58,386.30 858.87,386.30 861.15,386.30 863.40,386.30 865.63,386.30 867.84,386.30 870.03,386.30 872.21,386.30 874.36,386.30 876.49,386.30 878.60,386.30 880.70,386.30 882.77,386.30 884.82,386.30 886.85,386.30 888.86,386.30 890.85,386.30 892.82,386.30 894.77,386.30 896.70,386.30 898.61,386.30 900.49,386.30 902.36,386.30 904.20,386.30 906.03,386.30 907.83,386.30 909.61,386.30 911.37,386.30 913.11,386.30 914.83,386.30 916.53,386.30 918.20,386.30 919.86,386.30 921.49,386.30 923.10,386.30 924.69,386.30 926.26,386.30 927.80,386.30 929.33,386.30 930.83,386.30 932.31,386.30 933.77,386.30 935.20,386.30 936.62,386.30 938.01,386.30 939.38,386.30 940.72,386.30 942.05,386.30 943.35,386.30 944.63,386.30 945.89,386.30 947.12,386.30 948.33,386.30 949.52,386.30 950.68,386.30 951.83,386.30 952.95,386.30 954.04,386.30 955.12,386.30 956.17,386.30 957.20,386.30 958.20,386.30 959.18,386.30 960.14,386.30 961.07,386.30 961.98,386.30 962.87,386.30 963.73,386.30 964.57,386.30 965.39,386.30 966.18,386.30 966.95,386.30 967.69,386.30 968.41,386.30 969.11,386.30 969.78,386.30 970.43,386.30 971.05,386.30 971.65,386.30 972.22,386.30 972.77,386.30 973.30,386.30 973.80,386.30 975.80,386.07 977.49,385.47 978.93,384.61 980.18,383.62 981.30,382.60 982.33,381.46 983.25,380.07 984.08,378.50 984.82,376.83 985.50,375.10 985.99,373.72 986.48,372.27 986.94,370.75 987.37,369.16 987.77,367.52 988.13,365.83 988.44,364.08 988.70,362.30 988.86,360.96 989.01,359.58 989.14,358.14 989.26,356.67 989.38,355.16 989.49,353.62 989.59,352.07 989.69,350.49 989.79,348.91 989.89,347.33 989.98,345.75 990.08,344.18 990.19,342.63 990.30,341.10 990.41,339.57 990.52,338.03 990.63,336.48 990.74,334.93 990.84,333.37 990.95,331.81 991.06,330.26 991.17,328.71 991.28,327.18 991.39,325.66 991.51,324.16 991.64,322.68 991.77,321.22 991.90,319.80 992.07,318.10 992.25,316.41 992.43,314.75 992.62,313.10 992.82,311.48 993.03,309.89 993.26,308.32 993.49,306.79 993.74,305.28 994.00,303.80 994.30,302.13 994.63,300.33 994.97,298.51 995.35,296.75 995.76,295.13 996.20,293.76 996.68,292.72 997.20,292.10 998.71,291.40 1000.40,291.10 1001.58,291.60 1002.70,292.81 1003.60,294.30 1003.96,295.16 1004.29,296.21 1004.60,297.44 1004.90,298.81 1005.17,300.32 1005.43,301.92 1005.68,303.60 1005.92,305.33 1006.14,307.09 1006.37,308.85 1006.58,310.60 1006.80,312.30 1006.97,313.64 1007.13,315.01 1007.29,316.41 1007.45,317.83 1007.60,319.28 1007.75,320.74 1007.90,322.23 1008.04,323.74 1008.18,325.26 1008.32,326.80 1008.45,328.35 1008.58,329.92 1008.72,331.49 1008.85,333.08 1008.98,334.67 1009.11,336.27 1009.24,337.88 1009.37,339.49 1009.50,341.10 1009.62,342.56 1009.73,344.05 1009.85,345.57 1009.96,347.11 1010.07,348.67 1010.18,350.24 1010.29,351.83 1010.39,353.43 1010.50,355.04 1010.61,356.66 1010.71,358.28 1010.82,359.90 1010.93,361.51 1011.03,363.12 1011.14,364.72 1011.24,366.31 1011.35,367.89 1011.45,369.45 1011.56,370.99 1011.67,372.51 1011.77,374.00 1011.88,375.46 1011.99,376.90 1012.10,378.30 1012.23,380.00 1012.36,381.71 1012.48,383.43 1012.59,385.15 1012.71,386.86 1012.83,388.55 1012.94,390.22 1013.06,391.86 1013.19,393.46 1013.32,395.00 1013.45,396.49 1013.60,397.92 1013.76,399.27 1013.92,400.54 1014.10,401.72 1014.30,402.80 1014.73,404.77 1015.27,406.76 1015.91,408.50 1016.62,409.73 1017.40,410.20 1019.32,410.20 1021.20,410.20 1021.95,409.51 1022.55,407.81 1023.12,405.72 1023.80,403.80 1024.54,402.34 1025.36,400.85 1026.24,399.36 1027.17,397.87 1028.10,396.40 1028.96,395.18 1029.91,394.01 1030.88,392.85 1031.82,391.65 1032.68,390.35 1033.40,388.90 1033.88,387.68 1034.34,386.35 1034.80,384.92 1035.24,383.40 1035.65,381.82 1036.04,380.19 1036.39,378.53 1036.71,376.85 1036.99,375.17 1037.22,373.51 1037.40,371.88 1037.54,370.34 1037.66,368.79 1037.77,367.24 1037.88,365.68 1037.97,364.12 1038.05,362.54 1038.13,360.94 1038.21,359.32 1038.28,357.67 1038.35,355.99 1038.42,354.28 1038.50,352.53 1038.56,351.15 1038.62,349.74 1038.67,348.29 1038.72,346.83 1038.77,345.34 1038.82,343.83 1038.87,342.30 1038.92,340.76 1038.97,339.20 1039.01,337.64 1039.06,336.06 1039.11,334.49 1039.16,332.91 1039.21,331.33 1039.26,329.76 1039.32,328.19 1039.38,326.63 1039.44,325.09 1039.50,323.55 1039.57,322.03 1039.63,320.50 1039.71,318.98 1039.78,317.45 1039.86,315.93 1039.93,314.40 1040.01,312.88 1040.10,311.35 1040.18,309.83 1040.27,308.30 1040.35,306.78 1040.44,305.25 1040.53,303.73 1040.62,302.20 1040.72,300.68 1040.81,299.15 1040.91,297.63 1041.00,296.10 1041.10,294.57 1041.20,293.03 1041.30,291.47 1041.41,289.88 1041.52,288.28 1041.64,286.67 1041.75,285.06 1041.87,283.44 1041.99,281.83 1042.11,280.22 1042.24,278.63 1042.36,277.05 1042.48,275.49 1042.60,273.95 1042.72,272.45 1042.84,270.97 1042.96,269.54 1043.08,268.15 1043.19,266.80 1043.30,265.50 1043.44,263.78 1043.58,262.09 1043.70,260.43 1043.83,258.82 1043.95,257.27 1044.08,255.76 1044.22,254.32 1044.36,252.95 1044.52,251.64 1044.70,250.42 1045.05,248.25 1045.47,246.06 1045.95,244.38 1046.50,243.70 1047.48,244.43 1048.50,245.88 1049.04,247.08 1049.54,248.61 1050.00,250.38 1050.42,252.32 1050.80,254.33 1051.01,255.63 1051.22,257.02 1051.41,258.50 1051.60,260.04 1051.78,261.64 1051.95,263.30 1052.12,264.99 1052.28,266.71 1052.44,268.45 1052.59,270.20 1052.75,271.94 1052.90,273.68 1053.02,275.09 1053.14,276.52 1053.26,277.96 1053.38,279.42 1053.49,280.88 1053.60,282.37 1053.71,283.86 1053.81,285.37 1053.92,286.89 1054.03,288.43 1054.13,289.97 1054.24,291.53 1054.35,293.10 1054.46,294.68 1054.57,296.27 1054.68,297.87 1054.80,299.48 1054.90,300.92 1055.01,302.38 1055.12,303.86 1055.23,305.36 1055.34,306.88 1055.46,308.41 1055.57,309.95 1055.69,311.50 1055.80,313.07 1055.92,314.63 1056.03,316.20 1056.15,317.78 1056.26,319.35 1056.38,320.92 1056.49,322.49 1056.60,324.05 1056.70,325.61 1056.81,327.15 1056.91,328.68 1057.01,330.20 1057.11,331.70 1057.20,333.18 1057.30,334.76 1057.39,336.34 1057.48,337.91 1057.57,339.47 1057.66,341.03 1057.74,342.58 1057.83,344.13 1057.91,345.67 1057.99,347.21 1058.07,348.74 1058.15,350.26 1058.23,351.77 1058.31,353.28 1058.39,354.78 1058.47,356.27 1058.55,357.76 1058.63,359.24 1058.72,360.70 1058.80,362.16 1058.89,363.74 1058.98,365.32 1059.07,366.90 1059.15,368.47 1059.24,370.04 1059.32,371.60 1059.41,373.15 1059.49,374.68 1059.58,376.21 1059.67,377.72 1059.77,379.21 1059.86,380.68 1059.96,382.13 1060.07,383.55 1060.18,384.95 1060.30,386.33 1060.45,387.97 1060.60,389.61 1060.76,391.24 1060.92,392.85 1061.10,394.43 1061.29,395.97 1061.49,397.47 1061.71,398.90 1061.95,400.27 1062.22,401.57 1062.50,402.77 1063.08,404.61 1063.83,406.37 1064.71,407.98 1065.68,409.38 1066.70,410.49 1067.85,411.50 1069.14,412.44 1070.56,413.13 1072.10,413.40 1073.64,413.40 1075.46,413.40 1077.38,413.40 1079.24,413.40 1080.87,413.40 1082.10,413.40 1083.28,412.67 1084.21,410.98 1085.20,409.10 1085.93,407.98 1086.72,406.75 1087.54,405.42 1088.36,404.02 1089.16,402.57 1089.92,401.09 1090.60,399.60 1091.23,398.14 1091.86,396.64 1092.47,395.11 1093.06,393.53 1093.60,391.91 1094.09,390.25 1094.49,388.55 1094.80,386.80 1095.00,385.36 1095.17,383.88 1095.34,382.36 1095.49,380.80 1095.62,379.20 1095.75,377.59 1095.87,375.95 1095.98,374.31 1096.09,372.65 1096.19,370.99 1096.30,369.34 1096.40,367.70 1096.49,366.23 1096.58,364.76 1096.67,363.29 1096.76,361.82 1096.84,360.35 1096.92,358.87 1097.00,357.38 1097.08,355.88 1097.15,354.36 1097.22,352.82 1097.29,351.26 1097.36,349.67 1097.43,348.05 1097.50,346.40 1097.55,345.02 1097.61,343.62 1097.65,342.19 1097.70,340.74 1097.75,339.26 1097.79,337.77 1097.84,336.26 1097.88,334.73 1097.93,333.19 1097.97,331.64 1098.01,330.08 1098.06,328.52 1098.10,326.95 1098.14,325.38 1098.19,323.81 1098.24,322.24 1098.29,320.67 1098.34,319.11 1098.39,317.56 1098.44,316.03 1098.50,314.50 1098.56,312.98 1098.62,311.46 1098.69,309.94 1098.75,308.42 1098.82,306.90 1098.89,305.39 1098.96,303.87 1099.03,302.35 1099.11,300.83 1099.18,299.31 1099.26,297.79 1099.34,296.27 1099.42,294.75 1099.50,293.24 1099.58,291.72 1099.67,290.20 1099.75,288.68 1099.84,287.16 1099.93,285.64 1100.01,284.12 1100.10,282.60 1100.19,281.07 1100.28,279.51 1100.38,277.93 1100.48,276.35 1100.58,274.75 1100.69,273.14 1100.79,271.53 1100.90,269.92 1101.01,268.32 1101.12,266.72 1101.23,265.13 1101.34,263.55 1101.45,262.00 1101.56,260.46 1101.67,258.95 1101.78,257.47 1101.89,256.02 1101.99,254.60 1102.10,253.22 1102.20,251.89 1102.30,250.60 1102.43,248.87 1102.55,247.18 1102.67,245.51 1102.78,243.89 1102.89,242.31 1103.01,240.78 1103.13,239.30 1103.25,237.87 1103.39,236.51 1103.54,235.22 1103.70,234.00 1103.97,232.10 1104.29,230.13 1104.65,228.36 1105.06,227.09 1105.50,226.60 1106.48,227.40 1107.50,229.00 1107.96,230.08 1108.38,231.42 1108.78,232.96 1109.15,234.66 1109.49,236.46 1109.80,238.30 1109.99,239.52 1110.16,240.82 1110.33,242.19 1110.49,243.61 1110.65,245.09 1110.80,246.61 1110.95,248.17 1111.09,249.77 1111.23,251.38 1111.37,253.02 1111.50,254.67 1111.64,256.32 1111.77,257.96 1111.90,259.60 1112.02,261.07 1112.13,262.55 1112.24,264.05 1112.35,265.56 1112.46,267.08 1112.56,268.62 1112.66,270.17 1112.77,271.73 1112.87,273.31 1112.97,274.89 1113.07,276.49 1113.17,278.10 1113.27,279.73 1113.37,281.36 1113.48,283.00 1113.58,284.66 1113.69,286.32 1113.80,288.00 1113.90,289.45 1113.99,290.92 1114.09,292.41 1114.19,293.92 1114.30,295.45 1114.40,296.99 1114.51,298.54 1114.61,300.10 1114.72,301.67 1114.82,303.24 1114.93,304.82 1115.03,306.41 1115.14,308.00 1115.24,309.59 1115.35,311.17 1115.45,312.75 1115.55,314.33 1115.65,315.90 1115.75,317.47 1115.84,319.02 1115.94,320.56 1116.03,322.09 1116.11,323.60 1116.20,325.10 1116.29,326.67 1116.37,328.24 1116.46,329.81 1116.54,331.37 1116.62,332.92 1116.69,334.47 1116.77,336.02 1116.85,337.56 1116.92,339.09 1116.99,340.62 1117.07,342.14 1117.14,343.66 1117.21,345.17 1117.28,346.67 1117.35,348.17 1117.43,349.66 1117.50,351.14 1117.57,352.62 1117.65,354.09 1117.72,355.55 1117.80,357.00 1117.89,358.64 1117.97,360.27 1118.05,361.90 1118.13,363.54 1118.21,365.16 1118.29,366.78 1118.37,368.39 1118.45,369.99 1118.53,371.57 1118.62,373.15 1118.70,374.70 1118.79,376.24 1118.89,377.76 1118.98,379.26 1119.08,380.73 1119.19,382.18 1119.30,383.60 1119.43,385.25 1119.57,386.91 1119.72,388.55 1119.87,390.18 1120.02,391.79 1120.19,393.36 1120.37,394.90 1120.56,396.38 1120.77,397.82 1121.00,399.18 1121.24,400.48 1121.50,401.70 1121.96,403.38 1122.55,405.02 1123.25,406.56 1124.02,407.96 1124.84,409.19 1125.70,410.20 1126.83,411.31 1128.11,412.34 1129.53,413.10 1131.10,413.40 1132.59,413.40 1134.40,413.40 1136.37,413.40 1138.36,413.40 1140.22,413.40 1141.82,413.40 1143.00,413.40 1144.20,412.66 1145.12,410.95 1146.10,409.06 1146.83,407.93 1147.62,406.68 1148.44,405.34 1149.26,403.93 1150.06,402.46 1150.82,400.97 1151.50,399.47 1152.06,398.16 1152.62,396.82 1153.17,395.45 1153.70,394.05 1154.21,392.62 1154.67,391.15 1155.08,389.65 1155.43,388.12 1155.70,386.54 1155.90,385.09 1156.07,383.60 1156.24,382.06 1156.39,380.48 1156.52,378.87 1156.65,377.24 1156.77,375.59 1156.88,373.93 1156.99,372.26 1157.09,370.59 1157.20,368.92 1157.30,367.26 1157.39,365.77 1157.48,364.29 1157.57,362.81 1157.66,361.32 1157.74,359.84 1157.82,358.35 1157.90,356.84 1157.98,355.33 1158.05,353.79 1158.12,352.24 1158.19,350.66 1158.26,349.06 1158.33,347.42 1158.40,345.75 1158.45,344.37 1158.51,342.95 1158.55,341.50 1158.60,340.04 1158.65,338.55 1158.69,337.04 1158.74,335.51 1158.78,333.97 1158.83,332.42 1158.87,330.85 1158.91,329.28 1158.96,327.70 1159.00,326.12 1159.04,324.53 1159.09,322.94 1159.14,321.36 1159.19,319.78 1159.24,318.21 1159.29,316.64 1159.34,315.09 1159.40,313.55 1159.46,312.01 1159.52,310.48 1159.59,308.95 1159.65,307.41 1159.72,305.88 1159.79,304.34 1159.86,302.81 1159.93,301.28 1160.01,299.74 1160.08,298.21 1160.16,296.68 1160.24,295.14 1160.32,293.61 1160.40,292.08 1160.48,290.54 1160.57,289.01 1160.65,287.48 1160.74,285.94 1160.83,284.41 1160.91,282.87 1161.00,281.34 1161.09,279.79 1161.18,278.22 1161.28,276.63 1161.38,275.03 1161.48,273.41 1161.59,271.79 1161.69,270.17 1161.80,268.54 1161.91,266.92 1162.02,265.30 1162.13,263.70 1162.24,262.11 1162.35,260.54 1162.46,258.99 1162.57,257.46 1162.68,255.96 1162.79,254.50 1162.89,253.07 1163.00,251.68 1163.10,250.33 1163.20,249.03 1163.33,247.29 1163.45,245.57 1163.57,243.90 1163.68,242.26 1163.79,240.66 1163.91,239.11 1164.03,237.62 1164.15,236.18 1164.29,234.81 1164.44,233.50 1164.60,232.27 1164.87,230.36 1165.19,228.36 1165.55,226.58 1165.95,225.29 1166.40,224.80 1167.38,225.61 1168.40,227.22 1168.86,228.31 1169.28,229.67 1169.68,231.22 1170.05,232.94 1170.39,234.75 1170.70,236.61 1170.89,237.85 1171.06,239.16 1171.23,240.54 1171.39,241.98 1171.55,243.47 1171.70,245.01 1171.85,246.58 1171.99,248.19 1172.13,249.82 1172.27,251.48 1172.40,253.14 1172.54,254.80 1172.67,256.47 1172.80,258.12 1172.91,259.52 1173.02,260.94 1173.12,262.37 1173.23,263.81 1173.33,265.27 1173.43,266.73 1173.53,268.21 1173.62,269.70 1173.72,271.20 1173.82,272.71 1173.91,274.24 1174.01,275.77 1174.10,277.32 1174.20,278.87 1174.30,280.44 1174.39,282.01 1174.49,283.59 1174.60,285.19 1174.70,286.79 1174.79,288.20 1174.89,289.62 1174.98,291.07 1175.08,292.53 1175.18,294.00 1175.28,295.49 1175.38,296.99 1175.48,298.50 1175.58,300.02 1175.68,301.54 1175.78,303.08 1175.88,304.61 1175.98,306.15 1176.09,307.69 1176.19,309.23 1176.28,310.76 1176.38,312.30 1176.48,313.82 1176.57,315.34 1176.67,316.86 1176.76,318.36 1176.85,319.85 1176.93,321.33 1177.02,322.80 1177.10,324.25 1177.19,325.84 1177.27,327.42 1177.36,329.00 1177.44,330.58 1177.52,332.15 1177.59,333.71 1177.67,335.27 1177.75,336.83 1177.82,338.38 1177.89,339.92 1177.97,341.46 1178.04,342.99 1178.11,344.51 1178.18,346.03 1178.25,347.54 1178.33,349.04 1178.40,350.54 1178.47,352.03 1178.55,353.51 1178.62,354.99 1178.70,356.46 1178.79,358.11 1178.87,359.76 1178.95,361.41 1179.03,363.05 1179.11,364.70 1179.19,366.33 1179.27,367.95 1179.35,369.57 1179.43,371.17 1179.52,372.76 1179.60,374.33 1179.69,375.88 1179.79,377.41 1179.88,378.93 1179.98,380.41 1180.09,381.88 1180.20,383.31 1180.33,384.98 1180.47,386.65 1180.62,388.31 1180.76,389.96 1180.92,391.58 1181.09,393.17 1181.27,394.72 1181.46,396.22 1181.67,397.66 1181.90,399.05 1182.14,400.36 1182.40,401.59 1182.86,403.29 1183.45,404.94 1184.15,406.49 1184.92,407.91 1185.74,409.15 1186.60,410.17 1187.72,411.29 1189.00,412.33 1190.42,413.10 1192.00,413.40 1193.37,413.40 1195.02,413.40 1196.85,413.40 1198.74,413.40 1200.60,413.40 1202.30,413.40 1203.74,413.40 1204.80,413.40 1206.00,412.64 1206.92,410.90 1207.90,408.97 1208.63,407.82 1209.42,406.54 1210.24,405.18 1211.06,403.74 1211.86,402.24 1212.62,400.72 1213.30,399.19 1213.86,397.85 1214.42,396.48 1214.97,395.09 1215.51,393.66 1216.01,392.20 1216.47,390.70 1216.88,389.17 1217.23,387.61 1217.50,386.00 1217.68,384.64 1217.85,383.23 1218.00,381.79 1218.14,380.31 1218.27,378.81 1218.39,377.28 1218.51,375.74 1218.61,374.18 1218.71,372.61 1218.81,371.04 1218.91,369.46 1219.00,367.89 1219.10,366.33 1219.19,364.81 1219.28,363.30 1219.37,361.79 1219.46,360.28 1219.54,358.76 1219.62,357.24 1219.70,355.70 1219.78,354.16 1219.85,352.59 1219.92,351.01 1219.99,349.40 1220.06,347.76 1220.13,346.09 1220.20,344.39 1220.25,342.97 1220.31,341.53 1220.35,340.06 1220.40,338.56 1220.45,337.04 1220.49,335.50 1220.54,333.94 1220.58,332.37 1220.63,330.79 1220.67,329.19 1220.71,327.59 1220.76,325.97 1220.80,324.36 1220.84,322.74 1220.89,321.12 1220.94,319.50 1220.99,317.89 1221.04,316.29 1221.09,314.69 1221.14,313.11 1221.20,311.54 1221.26,309.97 1221.32,308.41 1221.39,306.84 1221.45,305.28 1221.52,303.71 1221.59,302.15 1221.66,300.58 1221.73,299.02 1221.81,297.45 1221.88,295.89 1221.96,294.33 1222.04,292.76 1222.12,291.20 1222.20,289.63 1222.28,288.07 1222.37,286.50 1222.45,284.94 1222.54,283.37 1222.63,281.81 1222.71,280.24 1222.80,278.68 1222.89,277.17 1222.98,275.64 1223.07,274.10 1223.16,272.54 1223.26,270.97 1223.36,269.39 1223.46,267.81 1223.56,266.22 1223.66,264.64 1223.77,263.07 1223.87,261.50 1223.98,259.94 1224.09,258.40 1224.19,256.88 1224.30,255.38 1224.40,253.90 1224.51,252.45 1224.61,251.03 1224.71,249.64 1224.81,248.29 1224.91,246.99 1225.00,245.72 1225.13,243.94 1225.25,242.19 1225.37,240.48 1225.48,238.81 1225.59,237.18 1225.71,235.60 1225.83,234.08 1225.95,232.61 1226.09,231.21 1226.24,229.88 1226.40,228.62 1226.67,226.67 1226.99,224.63 1227.35,222.81 1227.75,221.50 1228.20,221.00 1229.18,221.83 1230.20,223.47 1230.66,224.59 1231.09,225.97 1231.48,227.56 1231.85,229.30 1232.19,231.15 1232.50,233.05 1232.69,234.31 1232.86,235.65 1233.03,237.06 1233.19,238.52 1233.35,240.04 1233.50,241.61 1233.65,243.22 1233.79,244.86 1233.93,246.53 1234.07,248.21 1234.20,249.91 1234.34,251.61 1234.47,253.30 1234.60,254.99 1234.71,256.42 1234.82,257.87 1234.92,259.33 1235.03,260.80 1235.13,262.28 1235.23,263.78 1235.33,265.28 1235.42,266.80 1235.52,268.34 1235.62,269.88 1235.71,271.43 1235.81,273.00 1235.90,274.57 1236.00,276.16 1236.10,277.76 1236.19,279.36 1236.29,280.98 1236.40,282.61 1236.50,284.24 1236.59,285.68 1236.69,287.13 1236.78,288.60 1236.88,290.09 1236.98,291.60 1237.08,293.11 1237.18,294.64 1237.28,296.18 1237.38,297.73 1237.48,299.29 1237.58,300.85 1237.68,302.42 1237.78,303.99 1237.89,305.56 1237.99,307.13 1238.08,308.69 1238.18,310.26 1238.28,311.82 1238.37,313.37 1238.47,314.91 1238.56,316.45 1238.65,317.97 1238.73,319.48 1238.82,320.97 1238.90,322.45 1238.99,324.07 1239.07,325.69 1239.16,327.30 1239.24,328.91 1239.32,330.51 1239.39,332.11 1239.47,333.70 1239.55,335.28 1239.62,336.86 1239.69,338.44 1239.77,340.01 1239.84,341.57 1239.91,343.12 1239.98,344.67 1240.05,346.21 1240.13,347.75 1240.20,349.28 1240.27,350.80 1240.35,352.31 1240.42,353.81 1240.50,355.31 1240.58,356.90 1240.66,358.49 1240.74,360.08 1240.81,361.67 1240.89,363.25 1240.96,364.83 1241.04,366.40 1241.12,367.95 1241.19,369.50 1241.27,371.04 1241.35,372.56 1241.43,374.07 1241.52,375.56 1241.61,377.03 1241.70,378.49 1241.79,379.92 1241.90,381.32 1242.00,382.71 1242.13,384.41 1242.27,386.11 1242.42,387.80 1242.56,389.48 1242.72,391.14 1242.89,392.76 1243.07,394.34 1243.26,395.87 1243.47,397.34 1243.69,398.75 1243.94,400.09 1244.20,401.35 1244.66,403.08 1245.25,404.76 1245.94,406.35 1246.71,407.80 1247.54,409.06 1248.40,410.10 1249.53,411.24 1250.81,412.31 1252.23,413.09 1253.80,413.40 1255.25,413.40 1257.00,413.40 1258.90,413.40 1260.82,413.40 1262.62,413.40 1264.16,413.40 1265.30,413.40 1266.50,412.64 1267.42,410.88 1268.40,408.93 1269.13,407.76 1269.92,406.48 1270.74,405.09 1271.56,403.64 1272.36,402.13 1273.12,400.59 1273.80,399.05 1274.36,397.70 1274.92,396.31 1275.47,394.90 1276.01,393.46 1276.51,391.99 1276.97,390.48 1277.38,388.93 1277.73,387.35 1278.00,385.73 1278.18,384.35 1278.35,382.94 1278.50,381.48 1278.64,379.99 1278.77,378.47 1278.89,376.93 1279.01,375.37 1279.11,373.79 1279.21,372.21 1279.31,370.62 1279.41,369.03 1279.50,367.44 1279.60,365.87 1279.69,364.33 1279.78,362.80 1279.87,361.28 1279.96,359.75 1280.04,358.22 1280.12,356.68 1280.20,355.13 1280.28,353.57 1280.35,351.99 1280.42,350.39 1280.49,348.76 1280.56,347.11 1280.63,345.43 1280.70,343.71 1280.75,342.34 1280.80,340.95 1280.85,339.54 1280.89,338.10 1280.94,336.64 1280.98,335.16 1281.02,333.66 1281.07,332.15 1281.11,330.63 1281.15,329.09 1281.19,327.55 1281.23,326.00 1281.27,324.44 1281.32,322.88 1281.36,321.32 1281.40,319.76 1281.45,318.21 1281.49,316.65 1281.54,315.11 1281.59,313.57 1281.65,312.04 1281.70,310.53 1281.76,309.02 1281.82,307.51 1281.88,306.00 1281.94,304.50 1282.00,302.99 1282.07,301.48 1282.14,299.97 1282.21,298.46 1282.28,296.96 1282.35,295.45 1282.42,293.94 1282.50,292.43 1282.57,290.92 1282.65,289.42 1282.73,287.91 1282.81,286.40 1282.89,284.89 1282.97,283.38 1283.05,281.87 1283.13,280.37 1283.22,278.86 1283.30,277.35 1283.39,275.83 1283.48,274.28 1283.57,272.72 1283.66,271.15 1283.76,269.56 1283.86,267.97 1283.96,266.37 1284.06,264.77 1284.16,263.17 1284.27,261.58 1284.37,260.00 1284.48,258.43 1284.59,256.87 1284.69,255.33 1284.80,253.82 1284.90,252.32 1285.01,250.86 1285.11,249.43 1285.21,248.03 1285.31,246.66 1285.41,245.34 1285.50,244.06 1285.63,242.27 1285.75,240.50 1285.87,238.77 1285.98,237.08 1286.09,235.44 1286.21,233.85 1286.33,232.31 1286.45,230.83 1286.59,229.41 1286.74,228.07 1286.90,226.80 1287.17,224.83 1287.49,222.77 1287.85,220.93 1288.25,219.61 1288.70,219.10 1289.68,219.93 1290.70,221.60 1291.16,222.72 1291.59,224.12 1291.98,225.72 1292.35,227.49 1292.69,229.35 1293.00,231.27 1293.19,232.54 1293.36,233.89 1293.53,235.31 1293.69,236.80 1293.85,238.33 1294.00,239.92 1294.15,241.54 1294.29,243.20 1294.43,244.88 1294.57,246.58 1294.70,248.29 1294.84,250.01 1294.97,251.72 1295.10,253.42 1295.21,254.87 1295.32,256.33 1295.42,257.80 1295.53,259.29 1295.63,260.79 1295.73,262.30 1295.83,263.82 1295.92,265.36 1296.02,266.90 1296.12,268.46 1296.21,270.03 1296.31,271.61 1296.40,273.20 1296.50,274.80 1296.60,276.42 1296.69,278.04 1296.79,279.67 1296.90,281.31 1297.00,282.97 1297.09,284.41 1297.19,285.88 1297.28,287.37 1297.38,288.87 1297.48,290.39 1297.58,291.93 1297.68,293.47 1297.78,295.03 1297.88,296.59 1297.98,298.16 1298.08,299.74 1298.18,301.32 1298.28,302.91 1298.39,304.49 1298.49,306.08 1298.58,307.66 1298.68,309.24 1298.78,310.81 1298.87,312.38 1298.97,313.94 1299.06,315.49 1299.15,317.03 1299.23,318.55 1299.32,320.06 1299.40,321.55 1299.48,323.12 1299.56,324.68 1299.64,326.23 1299.72,327.78 1299.80,329.32 1299.87,330.86 1299.95,332.40 1300.02,333.93 1300.09,335.46 1300.16,336.98 1300.23,338.49 1300.30,340.00 1300.37,341.50 1300.44,343.00 1300.51,344.49 1300.57,345.97 1300.64,347.45 1300.71,348.92 1300.78,350.39 1300.85,351.84 1300.93,353.29 1301.00,354.74 1301.08,356.34 1301.16,357.95 1301.24,359.55 1301.31,361.16 1301.39,362.75 1301.46,364.35 1301.54,365.93 1301.62,367.51 1301.69,369.07 1301.77,370.62 1301.85,372.16 1301.93,373.68 1302.02,375.19 1302.11,376.67 1302.20,378.14 1302.29,379.59 1302.40,381.01 1302.50,382.40 1302.63,384.12 1302.77,385.84 1302.92,387.55 1303.06,389.25 1303.22,390.92 1303.39,392.55 1303.57,394.15 1303.76,395.70 1303.97,397.18 1304.19,398.61 1304.44,399.96 1304.70,401.23 1305.16,402.98 1305.75,404.68 1306.44,406.28 1307.21,407.74 1308.04,409.02 1308.90,410.07 1310.03,411.22 1311.30,412.30 1312.73,413.09 1314.30,413.40 1315.32,413.27 1316.49,412.91 1317.78,412.34 1319.15,411.60 1320.58,410.70 1322.02,409.69 1323.46,408.57 1324.86,407.40 1326.18,406.18 1327.40,404.96 1328.49,403.76 1329.40,402.60 1330.18,401.45 1330.92,400.19 1331.63,398.84 1332.32,397.40 1332.97,395.91 1333.58,394.37 1334.17,392.80 1334.72,391.21 1335.24,389.63 1335.73,388.08 1336.19,386.56 1336.61,385.09 1337.00,383.70 1337.44,382.09 1337.86,380.50 1338.26,378.93 1338.64,377.39 1338.98,375.87 1339.30,374.37 1339.57,372.89 1339.81,371.43 1340.00,370.00" stroke="#2e5b20" stroke-width="3.3" fill="none" stroke-linejoin="round" stroke-linecap="round" clip-path="url(#clipB)"/>
<path d="M840.00,410.20 842.63,410.20 845.23,410.20 847.82,410.20 850.38,410.20 852.93,410.20 855.46,410.20 857.96,410.20 860.45,410.20 862.91,410.20 865.36,410.20 867.78,410.20 870.19,410.20 872.57,410.20 874.94,410.20 877.28,410.20 879.61,410.20 881.91,410.20 884.19,410.20 886.45,410.20 888.69,410.20 890.91,410.20 893.11,410.20 895.28,410.20 897.44,410.20 899.57,410.20 901.69,410.20 903.78,410.20 905.85,410.20 907.90,410.20 909.92,410.20 911.93,410.19 913.91,410.19 915.87,410.19 917.81,410.19 919.73,410.19 921.63,410.19 923.50,410.19 925.36,410.19 927.18,410.19 928.99,410.19 930.78,410.19 932.54,410.19 934.28,410.19 936.00,410.19 937.70,410.19 939.37,410.19 941.02,410.19 942.65,410.19 944.25,410.18 945.83,410.18 947.39,410.18 948.93,410.18 950.44,410.18 951.93,410.18 953.39,410.18 954.84,410.18 956.25,410.18 957.65,410.18 959.02,410.18 960.37,410.17 961.70,410.17 963.00,410.17 964.28,410.17 965.53,410.17 966.76,410.17 967.96,410.17 969.15,410.17 970.30,410.16 971.44,410.16 972.55,410.16 973.63,410.16 974.69,410.16 975.73,410.16 976.74,410.16 977.73,410.16 978.69,410.15 979.63,410.15 980.54,410.15 981.43,410.15 982.29,410.15 983.13,410.15 983.94,410.14 984.73,410.14 985.49,410.14 986.23,410.14 986.94,410.14 987.63,410.14 988.29,410.13 988.92,410.13 989.53,410.13 990.12,410.13 990.67,410.13 991.21,410.12 991.71,410.12 992.20,410.12 992.65,410.12 993.08,410.11 993.48,410.11 993.86,410.11 994.21,410.11 994.53,410.10 994.83,410.10 995.10,410.10 996.48,409.42 997.49,407.85 998.30,406.00 998.72,404.80 999.07,403.34 999.39,401.71 999.68,399.95 999.97,398.16 1000.27,396.39 1000.61,394.71 1001.00,393.20 1001.55,391.69 1002.23,390.28 1002.95,388.93 1003.64,387.58 1004.25,386.19 1004.70,384.70 1005.03,383.23 1005.35,381.78 1005.64,380.31 1005.89,378.75 1006.10,377.05 1006.24,375.15 1006.30,373.00 1006.31,372.24 1006.31,371.43 1006.32,370.55 1006.33,369.63 1006.33,368.65 1006.34,367.62 1006.34,366.54 1006.35,365.41 1006.35,364.23 1006.36,363.01 1006.36,361.75 1006.37,360.44 1006.37,359.10 1006.38,357.72 1006.38,356.30 1006.38,354.84 1006.39,353.36 1006.39,351.84 1006.39,350.30 1006.40,348.72 1006.40,347.12 1006.40,345.50 1006.40,343.85 1006.41,342.18 1006.41,340.50 1006.41,338.79 1006.41,337.07 1006.41,335.34 1006.42,333.59 1006.42,331.83 1006.42,330.06 1006.42,328.29 1006.42,326.51 1006.43,324.73 1006.43,322.94 1006.43,321.15 1006.43,319.36 1006.43,317.58 1006.43,315.80 1006.44,314.03 1006.44,312.26 1006.44,310.51 1006.44,308.76 1006.44,307.03 1006.45,305.32 1006.45,303.61 1006.45,301.93 1006.45,300.27 1006.46,298.63 1006.46,297.01 1006.46,295.42 1006.46,293.85 1006.47,292.31 1006.47,290.80 1006.47,289.32 1006.48,287.88 1006.48,286.47 1006.48,285.09 1006.49,283.76 1006.49,282.46 1006.50,281.21 1006.50,280.00 1006.51,278.19 1006.51,276.43 1006.52,274.70 1006.53,273.01 1006.54,271.35 1006.55,269.72 1006.56,268.12 1006.56,266.54 1006.57,264.99 1006.58,263.46 1006.59,261.94 1006.60,260.45 1006.61,258.96 1006.62,257.49 1006.64,256.03 1006.65,254.57 1006.66,253.12 1006.67,251.67 1006.68,250.22 1006.70,248.76 1006.71,247.30 1006.72,245.84 1006.74,244.36 1006.75,242.87 1006.77,241.36 1006.78,239.84 1006.80,238.30 1006.82,236.77 1006.83,235.21 1006.85,233.63 1006.87,232.02 1006.90,230.39 1006.92,228.75 1006.94,227.09 1006.97,225.43 1007.00,223.76 1007.02,222.09 1007.05,220.42 1007.08,218.76 1007.11,217.10 1007.14,215.46 1007.17,213.83 1007.20,212.23 1007.23,210.64 1007.27,209.08 1007.30,207.55 1007.33,206.06 1007.37,204.60 1007.40,203.18 1007.43,201.80 1007.47,200.47 1007.50,199.20 1007.53,197.97 1007.57,196.81 1007.60,195.70 1007.66,193.86 1007.71,192.11 1007.77,190.46 1007.83,188.89 1007.89,187.39 1007.96,185.96 1008.03,184.59 1008.11,183.27 1008.20,182.00 1008.37,179.77 1008.59,177.49 1008.84,175.71 1009.10,175.00 1009.44,175.86 1009.82,177.84 1010.20,180.00 1010.44,181.23 1010.68,182.51 1010.93,183.88 1011.18,185.34 1011.41,186.90 1011.62,188.58 1011.80,190.40 1011.89,191.47 1011.97,192.62 1012.06,193.83 1012.13,195.11 1012.21,196.45 1012.28,197.84 1012.36,199.28 1012.43,200.77 1012.49,202.30 1012.56,203.87 1012.62,205.48 1012.69,207.12 1012.75,208.78 1012.81,210.47 1012.87,212.18 1012.93,213.90 1012.99,215.63 1013.04,217.36 1013.10,219.10 1013.16,220.84 1013.22,222.58 1013.28,224.30 1013.34,226.01 1013.40,227.70 1013.45,229.12 1013.50,230.58 1013.55,232.06 1013.60,233.57 1013.65,235.10 1013.69,236.66 1013.74,238.24 1013.79,239.84 1013.83,241.45 1013.88,243.07 1013.92,244.71 1013.97,246.35 1014.01,248.00 1014.06,249.66 1014.10,251.31 1014.15,252.97 1014.19,254.62 1014.23,256.27 1014.28,257.91 1014.32,259.54 1014.37,261.16 1014.41,262.76 1014.46,264.34 1014.51,265.91 1014.55,267.45 1014.60,268.98 1014.65,270.47 1014.69,271.94 1014.74,273.37 1014.79,274.77 1014.84,276.14 1014.89,277.47 1014.95,278.75 1015.00,280.00 1015.08,281.82 1015.17,283.53 1015.26,285.17 1015.36,286.73 1015.45,288.24 1015.55,289.72 1015.65,291.17 1015.75,292.61 1015.85,294.06 1015.95,295.54 1016.04,297.05 1016.14,298.62 1016.23,300.26 1016.32,301.98 1016.40,303.80 1016.45,305.02 1016.50,306.29 1016.56,307.60 1016.61,308.94 1016.66,310.32 1016.71,311.73 1016.76,313.17 1016.81,314.64 1016.86,316.14 1016.90,317.66 1016.95,319.20 1017.00,320.77 1017.05,322.35 1017.10,323.94 1017.14,325.55 1017.19,327.17 1017.24,328.80 1017.28,330.43 1017.33,332.07 1017.37,333.71 1017.42,335.35 1017.46,336.98 1017.50,338.62 1017.55,340.24 1017.59,341.86 1017.63,343.46 1017.68,345.05 1017.72,346.62 1017.76,348.18 1017.80,349.71 1017.84,351.22 1017.88,352.71 1017.92,354.17 1017.96,355.60 1018.00,357.00 1018.05,358.70 1018.09,360.42 1018.13,362.17 1018.16,363.92 1018.20,365.69 1018.23,367.46 1018.26,369.22 1018.29,370.98 1018.32,372.73 1018.35,374.47 1018.38,376.18 1018.41,377.87 1018.44,379.52 1018.48,381.14 1018.51,382.72 1018.55,384.26 1018.59,385.74 1018.64,387.17 1018.69,388.54 1018.74,389.84 1018.80,391.07 1018.86,392.23 1018.93,393.31 1019.00,394.30 1019.27,396.40 1019.71,398.26 1020.28,399.92 1020.96,401.42 1021.70,402.80 1022.59,404.09 1023.75,405.34 1025.09,406.47 1026.57,407.41 1028.10,408.10 1029.45,408.50 1031.10,408.88 1032.92,409.23 1034.77,409.55 1036.53,409.82 1038.08,410.02 1039.28,410.15 1040.00,410.20 1040.27,410.20 1040.50,410.20 1040.92,409.82 1041.39,408.78 1041.90,407.26 1042.43,405.41 1042.95,403.41 1043.45,401.42 1043.90,399.60 1044.28,398.18 1044.68,396.75 1045.08,395.29 1045.49,393.81 1045.88,392.28 1046.23,390.69 1046.55,389.04 1046.81,387.32 1046.99,385.51 1047.10,383.60 1047.13,382.47 1047.16,381.30 1047.19,380.08 1047.22,378.83 1047.24,377.53 1047.27,376.20 1047.29,374.83 1047.31,373.43 1047.33,372.00 1047.35,370.54 1047.36,369.05 1047.38,367.54 1047.39,366.00 1047.41,364.45 1047.42,362.88 1047.43,361.29 1047.45,359.68 1047.46,358.06 1047.47,356.43 1047.48,354.80 1047.49,353.15 1047.51,351.50 1047.52,349.85 1047.53,348.20 1047.54,346.55 1047.56,344.90 1047.57,343.26 1047.58,341.63 1047.60,340.00 1047.61,338.61 1047.63,337.21 1047.64,335.79 1047.65,334.35 1047.67,332.89 1047.68,331.43 1047.69,329.94 1047.70,328.45 1047.72,326.95 1047.73,325.43 1047.74,323.91 1047.75,322.37 1047.77,320.83 1047.78,319.29 1047.79,317.74 1047.80,316.18 1047.81,314.62 1047.83,313.06 1047.84,311.49 1047.85,309.93 1047.86,308.36 1047.87,306.80 1047.89,305.24 1047.90,303.68 1047.91,302.13 1047.92,300.58 1047.93,299.04 1047.95,297.50 1047.96,295.98 1047.97,294.46 1047.98,292.95 1048.00,291.46 1048.01,289.97 1048.02,288.50 1048.03,287.04 1048.05,285.60 1048.06,284.17 1048.07,282.76 1048.09,281.37 1048.10,280.00 1048.12,278.38 1048.13,276.78 1048.15,275.19 1048.17,273.62 1048.18,272.07 1048.20,270.52 1048.22,269.00 1048.23,267.48 1048.25,265.97 1048.27,264.47 1048.29,262.98 1048.30,261.50 1048.32,260.03 1048.34,258.56 1048.36,257.09 1048.37,255.63 1048.39,254.17 1048.41,252.71 1048.43,251.26 1048.45,249.80 1048.47,248.34 1048.49,246.88 1048.50,245.41 1048.52,243.94 1048.54,242.47 1048.56,240.99 1048.58,239.50 1048.60,238.00 1048.62,236.49 1048.64,234.98 1048.66,233.48 1048.68,231.97 1048.70,230.46 1048.72,228.95 1048.75,227.44 1048.77,225.93 1048.79,224.42 1048.81,222.91 1048.83,221.40 1048.86,219.89 1048.88,218.38 1048.90,216.87 1048.92,215.36 1048.95,213.85 1048.97,212.34 1048.99,210.83 1049.01,209.32 1049.03,207.80 1049.06,206.29 1049.08,204.78 1049.10,203.27 1049.12,201.75 1049.14,200.24 1049.16,198.73 1049.18,197.21 1049.20,195.70 1049.22,194.17 1049.24,192.63 1049.25,191.07 1049.27,189.51 1049.29,187.94 1049.30,186.36 1049.32,184.77 1049.33,183.18 1049.35,181.59 1049.36,179.99 1049.38,178.40 1049.39,176.81 1049.41,175.22 1049.42,173.64 1049.44,172.07 1049.45,170.50 1049.47,168.95 1049.49,167.41 1049.50,165.88 1049.52,164.36 1049.54,162.87 1049.56,161.39 1049.58,159.93 1049.60,158.50 1049.62,157.08 1049.65,155.69 1049.67,154.33 1049.70,153.00 1049.74,151.22 1049.78,149.42 1049.83,147.63 1049.88,145.84 1049.93,144.07 1049.99,142.32 1050.05,140.60 1050.12,138.92 1050.19,137.28 1050.26,135.69 1050.34,134.16 1050.42,132.71 1050.51,131.32 1050.60,130.02 1050.70,128.81 1050.80,127.70 1051.07,125.50 1051.44,123.52 1051.85,121.83 1052.30,120.50 1052.84,119.24 1053.50,118.60 1054.35,118.90 1055.30,119.50 1056.51,120.63 1057.70,122.30 1058.20,123.21 1058.70,124.32 1059.20,125.60 1059.70,127.02 1060.19,128.54 1060.67,130.14 1061.13,131.78 1061.58,133.45 1062.00,135.10 1062.32,136.43 1062.63,137.80 1062.94,139.22 1063.23,140.68 1063.52,142.18 1063.81,143.71 1064.08,145.28 1064.36,146.87 1064.63,148.48 1064.89,150.12 1065.16,151.77 1065.42,153.44 1065.68,155.12 1065.94,156.81 1066.20,158.50 1066.41,159.88 1066.62,161.29 1066.82,162.73 1067.03,164.20 1067.24,165.68 1067.44,167.19 1067.64,168.71 1067.84,170.25 1068.04,171.79 1068.24,173.34 1068.44,174.90 1068.63,176.46 1068.82,178.02 1069.02,179.57 1069.21,181.12 1069.40,182.65 1069.58,184.18 1069.77,185.68 1069.96,187.17 1070.14,188.64 1070.32,190.08 1070.50,191.50 1070.70,193.09 1070.91,194.66 1071.11,196.22 1071.31,197.77 1071.51,199.30 1071.71,200.83 1071.91,202.34 1072.10,203.85 1072.29,205.34 1072.48,206.82 1072.67,208.30 1072.85,209.77 1073.03,211.23 1073.21,212.68 1073.38,214.12 1073.54,215.56 1073.70,217.00 1073.87,218.57 1074.04,220.12 1074.20,221.64 1074.35,223.15 1074.50,224.65 1074.65,226.13 1074.79,227.62 1074.94,229.10 1075.08,230.59 1075.22,232.10 1075.37,233.61 1075.51,235.15 1075.65,236.71 1075.80,238.30 1075.94,239.78 1076.07,241.25 1076.21,242.73 1076.35,244.21 1076.48,245.69 1076.62,247.18 1076.76,248.69 1076.89,250.21 1077.03,251.75 1077.16,253.30 1077.30,254.88 1077.43,256.49 1077.57,258.12 1077.70,259.79 1077.83,261.49 1077.97,263.22 1078.10,265.00 1078.19,266.28 1078.29,267.60 1078.38,268.95 1078.48,270.33 1078.57,271.74 1078.67,273.19 1078.77,274.65 1078.86,276.15 1078.96,277.66 1079.06,279.19 1079.16,280.74 1079.25,282.30 1079.35,283.88 1079.45,285.46 1079.54,287.06 1079.64,288.66 1079.73,290.26 1079.83,291.86 1079.92,293.46 1080.01,295.06 1080.11,296.66 1080.20,298.24 1080.29,299.81 1080.38,301.38 1080.46,302.92 1080.55,304.45 1080.63,305.97 1080.71,307.45 1080.80,308.92 1080.87,310.36 1080.95,311.77 1081.03,313.15 1081.10,314.50 1081.19,316.16 1081.28,317.80 1081.37,319.41 1081.45,320.99 1081.54,322.56 1081.62,324.10 1081.70,325.63 1081.78,327.14 1081.86,328.64 1081.94,330.13 1082.01,331.61 1082.09,333.08 1082.16,334.55 1082.23,336.01 1082.30,337.48 1082.37,338.95 1082.44,340.42 1082.51,341.90 1082.57,343.39 1082.64,344.89 1082.70,346.40 1082.76,347.93 1082.82,349.46 1082.88,351.01 1082.94,352.57 1083.00,354.14 1083.06,355.71 1083.12,357.28 1083.18,358.85 1083.23,360.42 1083.29,361.98 1083.34,363.54 1083.39,365.09 1083.45,366.63 1083.50,368.16 1083.54,369.67 1083.59,371.16 1083.64,372.64 1083.68,374.09 1083.72,375.52 1083.76,376.92 1083.80,378.30 1083.84,379.98 1083.88,381.66 1083.91,383.35 1083.94,385.04 1083.96,386.71 1083.99,388.35 1084.01,389.96 1084.04,391.53 1084.07,393.05 1084.10,394.51 1084.14,395.91 1084.19,397.23 1084.24,398.46 1084.30,399.60 1084.49,401.39 1084.82,403.07 1085.26,404.59 1085.80,405.91 1086.40,407.00 1087.35,408.11 1088.67,409.14 1090.21,409.90 1091.80,410.20 1093.26,410.20 1095.00,410.20 1096.83,410.20 1098.55,410.20 1099.97,410.20 1100.90,410.20 1101.42,409.82 1101.83,408.78 1102.18,407.25 1102.48,405.40 1102.77,403.40 1103.06,401.41 1103.40,399.60 1103.74,398.17 1104.11,396.74 1104.51,395.28 1104.92,393.79 1105.32,392.27 1105.69,390.68 1106.02,389.04 1106.29,387.32 1106.49,385.51 1106.60,383.60 1106.63,382.47 1106.66,381.30 1106.69,380.08 1106.72,378.83 1106.74,377.53 1106.77,376.20 1106.79,374.83 1106.81,373.43 1106.83,372.00 1106.85,370.54 1106.86,369.05 1106.88,367.54 1106.89,366.00 1106.91,364.45 1106.92,362.88 1106.93,361.29 1106.95,359.68 1106.96,358.06 1106.97,356.43 1106.98,354.80 1106.99,353.15 1107.01,351.50 1107.02,349.85 1107.03,348.20 1107.04,346.55 1107.06,344.90 1107.07,343.26 1107.08,341.63 1107.10,340.00 1107.11,338.61 1107.13,337.21 1107.14,335.79 1107.15,334.35 1107.17,332.89 1107.18,331.43 1107.19,329.94 1107.20,328.45 1107.22,326.95 1107.23,325.43 1107.24,323.91 1107.25,322.37 1107.27,320.83 1107.28,319.29 1107.29,317.74 1107.30,316.18 1107.31,314.62 1107.33,313.06 1107.34,311.49 1107.35,309.93 1107.36,308.36 1107.37,306.80 1107.39,305.24 1107.40,303.68 1107.41,302.13 1107.42,300.58 1107.43,299.04 1107.45,297.50 1107.46,295.98 1107.47,294.46 1107.48,292.95 1107.50,291.46 1107.51,289.97 1107.52,288.50 1107.53,287.04 1107.55,285.60 1107.56,284.17 1107.57,282.76 1107.59,281.37 1107.60,280.00 1107.62,278.38 1107.63,276.78 1107.65,275.19 1107.67,273.62 1107.68,272.07 1107.70,270.52 1107.72,269.00 1107.73,267.48 1107.75,265.97 1107.77,264.47 1107.79,262.98 1107.80,261.50 1107.82,260.03 1107.84,258.56 1107.86,257.09 1107.87,255.63 1107.89,254.17 1107.91,252.71 1107.93,251.26 1107.95,249.80 1107.97,248.34 1107.99,246.88 1108.00,245.41 1108.02,243.94 1108.04,242.47 1108.06,240.99 1108.08,239.50 1108.10,238.00 1108.12,236.49 1108.14,234.98 1108.16,233.48 1108.18,231.97 1108.20,230.46 1108.22,228.95 1108.25,227.44 1108.27,225.93 1108.29,224.42 1108.31,222.91 1108.33,221.40 1108.36,219.89 1108.38,218.38 1108.40,216.87 1108.42,215.36 1108.45,213.85 1108.47,212.34 1108.49,210.83 1108.51,209.32 1108.53,207.80 1108.56,206.29 1108.58,204.78 1108.60,203.27 1108.62,201.75 1108.64,200.24 1108.66,198.73 1108.68,197.21 1108.70,195.70 1108.72,194.17 1108.74,192.63 1108.75,191.07 1108.77,189.51 1108.79,187.94 1108.80,186.36 1108.82,184.77 1108.83,183.18 1108.85,181.59 1108.86,179.99 1108.88,178.40 1108.89,176.81 1108.91,175.22 1108.92,173.64 1108.94,172.07 1108.95,170.50 1108.97,168.95 1108.99,167.41 1109.00,165.88 1109.02,164.36 1109.04,162.87 1109.06,161.39 1109.08,159.93 1109.10,158.50 1109.12,157.08 1109.15,155.69 1109.17,154.33 1109.20,153.00 1109.24,151.22 1109.28,149.42 1109.33,147.63 1109.38,145.84 1109.43,144.07 1109.49,142.32 1109.55,140.60 1109.62,138.92 1109.69,137.28 1109.76,135.69 1109.84,134.16 1109.92,132.71 1110.01,131.32 1110.10,130.02 1110.20,128.81 1110.30,127.70 1110.57,125.50 1110.94,123.52 1111.35,121.83 1111.80,120.50 1112.34,119.24 1113.00,118.60 1113.85,118.90 1114.80,119.50 1116.01,120.63 1117.20,122.30 1117.70,123.21 1118.20,124.32 1118.70,125.60 1119.20,127.02 1119.69,128.54 1120.17,130.14 1120.63,131.78 1121.08,133.45 1121.50,135.10 1121.82,136.43 1122.13,137.80 1122.44,139.22 1122.73,140.68 1123.02,142.18 1123.31,143.71 1123.58,145.28 1123.86,146.87 1124.13,148.48 1124.39,150.12 1124.66,151.77 1124.92,153.44 1125.18,155.12 1125.44,156.81 1125.70,158.50 1125.91,159.88 1126.12,161.29 1126.32,162.73 1126.53,164.20 1126.74,165.68 1126.94,167.19 1127.14,168.71 1127.34,170.25 1127.54,171.79 1127.74,173.34 1127.94,174.90 1128.13,176.46 1128.32,178.02 1128.52,179.57 1128.71,181.12 1128.90,182.65 1129.08,184.18 1129.27,185.68 1129.46,187.17 1129.64,188.64 1129.82,190.08 1130.00,191.50 1130.20,193.09 1130.41,194.66 1130.61,196.22 1130.81,197.77 1131.01,199.30 1131.21,200.83 1131.41,202.34 1131.60,203.85 1131.79,205.34 1131.98,206.82 1132.17,208.30 1132.35,209.77 1132.53,211.23 1132.71,212.68 1132.88,214.12 1133.04,215.56 1133.20,217.00 1133.37,218.57 1133.54,220.12 1133.70,221.64 1133.85,223.15 1134.00,224.65 1134.15,226.13 1134.29,227.62 1134.44,229.10 1134.58,230.59 1134.72,232.10 1134.87,233.61 1135.01,235.15 1135.15,236.71 1135.30,238.30 1135.44,239.78 1135.57,241.25 1135.71,242.73 1135.85,244.21 1135.98,245.69 1136.12,247.18 1136.26,248.69 1136.39,250.21 1136.53,251.75 1136.66,253.30 1136.80,254.88 1136.93,256.49 1137.07,258.12 1137.20,259.79 1137.33,261.49 1137.47,263.22 1137.60,265.00 1137.69,266.28 1137.79,267.60 1137.88,268.95 1137.98,270.33 1138.07,271.74 1138.17,273.19 1138.27,274.65 1138.36,276.15 1138.46,277.66 1138.56,279.19 1138.66,280.74 1138.75,282.30 1138.85,283.88 1138.95,285.46 1139.04,287.06 1139.14,288.66 1139.23,290.26 1139.33,291.86 1139.42,293.46 1139.51,295.06 1139.61,296.66 1139.70,298.24 1139.79,299.81 1139.88,301.38 1139.96,302.92 1140.05,304.45 1140.13,305.97 1140.21,307.45 1140.30,308.92 1140.37,310.36 1140.45,311.77 1140.53,313.15 1140.60,314.50 1140.69,316.16 1140.78,317.80 1140.87,319.41 1140.95,320.99 1141.04,322.56 1141.12,324.10 1141.20,325.63 1141.28,327.14 1141.36,328.64 1141.44,330.13 1141.51,331.61 1141.59,333.08 1141.66,334.55 1141.73,336.01 1141.80,337.48 1141.87,338.95 1141.94,340.42 1142.01,341.90 1142.07,343.39 1142.14,344.89 1142.20,346.40 1142.26,347.93 1142.32,349.46 1142.38,351.01 1142.44,352.57 1142.50,354.14 1142.56,355.71 1142.62,357.28 1142.68,358.85 1142.73,360.42 1142.79,361.98 1142.84,363.54 1142.89,365.09 1142.95,366.63 1143.00,368.16 1143.04,369.67 1143.09,371.16 1143.14,372.64 1143.18,374.09 1143.22,375.52 1143.26,376.92 1143.30,378.30 1143.34,379.98 1143.38,381.66 1143.41,383.35 1143.44,385.04 1143.46,386.71 1143.49,388.35 1143.51,389.96 1143.54,391.53 1143.57,393.05 1143.60,394.51 1143.64,395.91 1143.69,397.23 1143.74,398.46 1143.80,399.60 1143.99,401.39 1144.32,403.07 1144.76,404.59 1145.30,405.91 1145.90,407.00 1146.85,408.11 1148.17,409.14 1149.71,409.90 1151.30,410.20 1152.73,410.20 1154.41,410.20 1156.17,410.20 1157.86,410.20 1159.32,410.20 1160.40,410.20 1161.14,409.82 1161.78,408.78 1162.35,407.26 1162.85,405.42 1163.31,403.41 1163.76,401.42 1164.20,399.60 1164.59,398.18 1165.00,396.75 1165.41,395.30 1165.81,393.81 1166.20,392.28 1166.55,390.70 1166.86,389.05 1167.11,387.32 1167.30,385.51 1167.40,383.60 1167.43,382.47 1167.46,381.30 1167.49,380.08 1167.52,378.83 1167.54,377.53 1167.57,376.20 1167.59,374.83 1167.61,373.43 1167.63,372.00 1167.65,370.54 1167.66,369.05 1167.68,367.54 1167.69,366.00 1167.71,364.45 1167.72,362.88 1167.73,361.29 1167.75,359.68 1167.76,358.06 1167.77,356.43 1167.78,354.80 1167.79,353.15 1167.81,351.50 1167.82,349.85 1167.83,348.20 1167.84,346.55 1167.86,344.90 1167.87,343.26 1167.88,341.63 1167.90,340.00 1167.91,338.61 1167.93,337.21 1167.94,335.79 1167.95,334.35 1167.97,332.89 1167.98,331.43 1167.99,329.94 1168.00,328.45 1168.02,326.95 1168.03,325.43 1168.04,323.91 1168.05,322.37 1168.07,320.83 1168.08,319.29 1168.09,317.74 1168.10,316.18 1168.11,314.62 1168.13,313.06 1168.14,311.49 1168.15,309.93 1168.16,308.36 1168.17,306.80 1168.19,305.24 1168.20,303.68 1168.21,302.13 1168.22,300.58 1168.23,299.04 1168.25,297.50 1168.26,295.98 1168.27,294.46 1168.28,292.95 1168.30,291.46 1168.31,289.97 1168.32,288.50 1168.33,287.04 1168.35,285.60 1168.36,284.17 1168.37,282.76 1168.39,281.37 1168.40,280.00 1168.42,278.38 1168.43,276.78 1168.45,275.19 1168.47,273.62 1168.48,272.07 1168.50,270.52 1168.52,269.00 1168.53,267.48 1168.55,265.97 1168.57,264.47 1168.59,262.98 1168.60,261.50 1168.62,260.03 1168.64,258.56 1168.66,257.09 1168.67,255.63 1168.69,254.17 1168.71,252.71 1168.73,251.26 1168.75,249.80 1168.77,248.34 1168.79,246.88 1168.80,245.41 1168.82,243.94 1168.84,242.47 1168.86,240.99 1168.88,239.50 1168.90,238.00 1168.92,236.49 1168.94,234.98 1168.96,233.48 1168.98,231.97 1169.00,230.46 1169.02,228.95 1169.05,227.44 1169.07,225.93 1169.09,224.42 1169.11,222.91 1169.13,221.40 1169.16,219.89 1169.18,218.38 1169.20,216.87 1169.22,215.36 1169.25,213.85 1169.27,212.34 1169.29,210.83 1169.31,209.32 1169.33,207.80 1169.36,206.29 1169.38,204.78 1169.40,203.27 1169.42,201.75 1169.44,200.24 1169.46,198.73 1169.48,197.21 1169.50,195.70 1169.52,194.17 1169.54,192.63 1169.55,191.07 1169.57,189.51 1169.59,187.94 1169.60,186.36 1169.62,184.77 1169.63,183.18 1169.65,181.59 1169.66,179.99 1169.68,178.40 1169.69,176.81 1169.71,175.22 1169.72,173.64 1169.74,172.07 1169.75,170.50 1169.77,168.95 1169.79,167.41 1169.80,165.88 1169.82,164.36 1169.84,162.87 1169.86,161.39 1169.88,159.93 1169.90,158.50 1169.92,157.08 1169.95,155.69 1169.97,154.33 1170.00,153.00 1170.04,151.22 1170.08,149.42 1170.13,147.63 1170.18,145.84 1170.23,144.07 1170.29,142.32 1170.35,140.60 1170.42,138.92 1170.49,137.28 1170.56,135.69 1170.64,134.16 1170.72,132.71 1170.81,131.32 1170.90,130.02 1171.00,128.81 1171.10,127.70 1171.37,125.50 1171.74,123.52 1172.15,121.83 1172.60,120.50 1173.14,119.24 1173.80,118.60 1174.65,118.90 1175.60,119.50 1176.81,120.63 1178.00,122.30 1178.50,123.21 1179.00,124.32 1179.50,125.60 1180.00,127.02 1180.49,128.54 1180.97,130.14 1181.43,131.78 1181.88,133.45 1182.30,135.10 1182.62,136.43 1182.93,137.80 1183.24,139.22 1183.53,140.68 1183.82,142.18 1184.11,143.71 1184.38,145.28 1184.66,146.87 1184.93,148.48 1185.19,150.12 1185.46,151.77 1185.72,153.44 1185.98,155.12 1186.24,156.81 1186.50,158.50 1186.71,159.88 1186.92,161.29 1187.12,162.73 1187.33,164.20 1187.54,165.68 1187.74,167.19 1187.94,168.71 1188.14,170.25 1188.34,171.79 1188.54,173.34 1188.74,174.90 1188.93,176.46 1189.12,178.02 1189.32,179.57 1189.51,181.12 1189.70,182.65 1189.88,184.18 1190.07,185.68 1190.26,187.17 1190.44,188.64 1190.62,190.08 1190.80,191.50 1191.00,193.09 1191.21,194.66 1191.41,196.22 1191.61,197.77 1191.81,199.30 1192.01,200.83 1192.21,202.34 1192.40,203.85 1192.59,205.34 1192.78,206.82 1192.97,208.30 1193.15,209.77 1193.33,211.23 1193.51,212.68 1193.68,214.12 1193.84,215.56 1194.00,217.00 1194.17,218.57 1194.34,220.12 1194.50,221.64 1194.65,223.15 1194.80,224.65 1194.95,226.13 1195.09,227.62 1195.24,229.10 1195.38,230.59 1195.52,232.10 1195.67,233.61 1195.81,235.15 1195.95,236.71 1196.10,238.30 1196.24,239.78 1196.37,241.25 1196.51,242.73 1196.65,244.21 1196.78,245.69 1196.92,247.18 1197.06,248.69 1197.19,250.21 1197.33,251.75 1197.46,253.30 1197.60,254.88 1197.73,256.49 1197.87,258.12 1198.00,259.79 1198.13,261.49 1198.27,263.22 1198.40,265.00 1198.49,266.28 1198.59,267.60 1198.68,268.95 1198.78,270.33 1198.87,271.74 1198.97,273.19 1199.07,274.65 1199.16,276.15 1199.26,277.66 1199.36,279.19 1199.46,280.74 1199.55,282.30 1199.65,283.88 1199.75,285.46 1199.84,287.06 1199.94,288.66 1200.03,290.26 1200.13,291.86 1200.22,293.46 1200.31,295.06 1200.41,296.66 1200.50,298.24 1200.59,299.81 1200.68,301.38 1200.76,302.92 1200.85,304.45 1200.93,305.97 1201.01,307.45 1201.10,308.92 1201.17,310.36 1201.25,311.77 1201.33,313.15 1201.40,314.50 1201.49,316.16 1201.58,317.80 1201.67,319.41 1201.75,320.99 1201.84,322.56 1201.92,324.10 1202.00,325.63 1202.08,327.14 1202.16,328.64 1202.24,330.13 1202.31,331.61 1202.39,333.08 1202.46,334.55 1202.53,336.01 1202.60,337.48 1202.67,338.95 1202.74,340.42 1202.81,341.90 1202.87,343.39 1202.94,344.89 1203.00,346.40 1203.06,347.93 1203.12,349.46 1203.18,351.01 1203.24,352.57 1203.30,354.14 1203.36,355.71 1203.42,357.28 1203.48,358.85 1203.53,360.42 1203.59,361.98 1203.64,363.54 1203.69,365.09 1203.75,366.63 1203.80,368.16 1203.84,369.67 1203.89,371.16 1203.94,372.64 1203.98,374.09 1204.02,375.52 1204.06,376.92 1204.10,378.30 1204.14,379.98 1204.18,381.66 1204.21,383.35 1204.24,385.04 1204.26,386.71 1204.29,388.35 1204.31,389.96 1204.34,391.53 1204.37,393.05 1204.40,394.51 1204.44,395.91 1204.49,397.23 1204.54,398.46 1204.60,399.60 1204.79,401.39 1205.12,403.07 1205.56,404.59 1206.10,405.91 1206.70,407.00 1207.65,408.11 1208.97,409.14 1210.51,409.90 1212.10,410.20 1213.53,410.20 1215.21,410.20 1216.97,410.20 1218.66,410.20 1220.12,410.20 1221.20,410.20 1221.94,409.82 1222.58,408.78 1223.15,407.26 1223.65,405.42 1224.11,403.41 1224.56,401.42 1225.00,399.60 1225.39,398.18 1225.80,396.75 1226.21,395.30 1226.61,393.81 1227.00,392.28 1227.35,390.70 1227.66,389.05 1227.91,387.32 1228.10,385.51 1228.20,383.60 1228.23,382.47 1228.26,381.30 1228.29,380.08 1228.32,378.83 1228.34,377.53 1228.37,376.20 1228.39,374.83 1228.41,373.43 1228.43,372.00 1228.45,370.54 1228.46,369.05 1228.48,367.54 1228.49,366.00 1228.51,364.45 1228.52,362.88 1228.53,361.29 1228.55,359.68 1228.56,358.06 1228.57,356.43 1228.58,354.80 1228.59,353.15 1228.61,351.50 1228.62,349.85 1228.63,348.20 1228.64,346.55 1228.66,344.90 1228.67,343.26 1228.68,341.63 1228.70,340.00 1228.71,338.61 1228.73,337.21 1228.74,335.79 1228.75,334.35 1228.77,332.89 1228.78,331.43 1228.79,329.94 1228.80,328.45 1228.82,326.95 1228.83,325.43 1228.84,323.91 1228.85,322.37 1228.87,320.83 1228.88,319.29 1228.89,317.74 1228.90,316.18 1228.91,314.62 1228.93,313.06 1228.94,311.49 1228.95,309.93 1228.96,308.36 1228.97,306.80 1228.99,305.24 1229.00,303.68 1229.01,302.13 1229.02,300.58 1229.03,299.04 1229.05,297.50 1229.06,295.98 1229.07,294.46 1229.08,292.95 1229.10,291.46 1229.11,289.97 1229.12,288.50 1229.13,287.04 1229.15,285.60 1229.16,284.17 1229.17,282.76 1229.19,281.37 1229.20,280.00 1229.22,278.38 1229.23,276.78 1229.25,275.19 1229.27,273.62 1229.28,272.07 1229.30,270.52 1229.32,269.00 1229.33,267.48 1229.35,265.97 1229.37,264.47 1229.39,262.98 1229.40,261.50 1229.42,260.03 1229.44,258.56 1229.46,257.09 1229.47,255.63 1229.49,254.17 1229.51,252.71 1229.53,251.26 1229.55,249.80 1229.57,248.34 1229.59,246.88 1229.60,245.41 1229.62,243.94 1229.64,242.47 1229.66,240.99 1229.68,239.50 1229.70,238.00 1229.72,236.49 1229.74,234.98 1229.76,233.48 1229.78,231.97 1229.80,230.46 1229.82,228.95 1229.85,227.44 1229.87,225.93 1229.89,224.42 1229.91,222.91 1229.93,221.40 1229.96,219.89 1229.98,218.38 1230.00,216.87 1230.02,215.36 1230.05,213.85 1230.07,212.34 1230.09,210.83 1230.11,209.32 1230.13,207.80 1230.16,206.29 1230.18,204.78 1230.20,203.27 1230.22,201.75 1230.24,200.24 1230.26,198.73 1230.28,197.21 1230.30,195.70 1230.32,194.17 1230.34,192.63 1230.35,191.07 1230.37,189.51 1230.39,187.94 1230.40,186.36 1230.42,184.77 1230.43,183.18 1230.45,181.59 1230.46,179.99 1230.48,178.40 1230.49,176.81 1230.51,175.22 1230.52,173.64 1230.54,172.07 1230.55,170.50 1230.57,168.95 1230.59,167.41 1230.60,165.88 1230.62,164.36 1230.64,162.87 1230.66,161.39 1230.68,159.93 1230.70,158.50 1230.72,157.08 1230.75,155.69 1230.77,154.33 1230.80,153.00 1230.84,151.22 1230.88,149.42 1230.93,147.63 1230.98,145.84 1231.03,144.07 1231.09,142.32 1231.15,140.60 1231.22,138.92 1231.29,137.28 1231.36,135.69 1231.44,134.16 1231.52,132.71 1231.61,131.32 1231.70,130.02 1231.80,128.81 1231.90,127.70 1232.17,125.50 1232.54,123.52 1232.95,121.83 1233.40,120.50 1233.94,119.24 1234.60,118.60 1235.45,118.90 1236.40,119.50 1237.61,120.63 1238.80,122.30 1239.30,123.21 1239.80,124.32 1240.30,125.60 1240.80,127.02 1241.29,128.54 1241.77,130.14 1242.23,131.78 1242.68,133.45 1243.10,135.10 1243.42,136.43 1243.73,137.80 1244.04,139.22 1244.33,140.68 1244.62,142.18 1244.91,143.71 1245.18,145.28 1245.46,146.87 1245.73,148.48 1245.99,150.12 1246.26,151.77 1246.52,153.44 1246.78,155.12 1247.04,156.81 1247.30,158.50 1247.51,159.88 1247.72,161.29 1247.92,162.73 1248.13,164.20 1248.34,165.68 1248.54,167.19 1248.74,168.71 1248.94,170.25 1249.14,171.79 1249.34,173.34 1249.54,174.90 1249.73,176.46 1249.92,178.02 1250.12,179.57 1250.31,181.12 1250.50,182.65 1250.68,184.18 1250.87,185.68 1251.06,187.17 1251.24,188.64 1251.42,190.08 1251.60,191.50 1251.80,193.09 1252.01,194.66 1252.21,196.22 1252.41,197.77 1252.61,199.30 1252.81,200.83 1253.01,202.34 1253.20,203.85 1253.39,205.34 1253.58,206.82 1253.77,208.30 1253.95,209.77 1254.13,211.23 1254.31,212.68 1254.48,214.12 1254.64,215.56 1254.80,217.00 1254.97,218.57 1255.14,220.12 1255.30,221.64 1255.45,223.15 1255.60,224.65 1255.75,226.13 1255.89,227.62 1256.04,229.10 1256.18,230.59 1256.32,232.10 1256.47,233.61 1256.61,235.15 1256.75,236.71 1256.90,238.30 1257.04,239.78 1257.17,241.25 1257.31,242.73 1257.45,244.21 1257.58,245.69 1257.72,247.18 1257.86,248.69 1257.99,250.21 1258.13,251.75 1258.26,253.30 1258.40,254.88 1258.53,256.49 1258.67,258.12 1258.80,259.79 1258.93,261.49 1259.07,263.22 1259.20,265.00 1259.29,266.28 1259.39,267.60 1259.48,268.95 1259.58,270.33 1259.67,271.74 1259.77,273.19 1259.87,274.65 1259.96,276.15 1260.06,277.66 1260.16,279.19 1260.26,280.74 1260.35,282.30 1260.45,283.88 1260.55,285.46 1260.64,287.06 1260.74,288.66 1260.83,290.26 1260.93,291.86 1261.02,293.46 1261.11,295.06 1261.21,296.66 1261.30,298.24 1261.39,299.81 1261.48,301.38 1261.56,302.92 1261.65,304.45 1261.73,305.97 1261.81,307.45 1261.90,308.92 1261.97,310.36 1262.05,311.77 1262.13,313.15 1262.20,314.50 1262.29,316.16 1262.38,317.80 1262.47,319.41 1262.55,320.99 1262.64,322.56 1262.72,324.10 1262.80,325.63 1262.88,327.14 1262.96,328.64 1263.04,330.13 1263.11,331.61 1263.19,333.08 1263.26,334.55 1263.33,336.01 1263.40,337.48 1263.47,338.95 1263.54,340.42 1263.61,341.90 1263.67,343.39 1263.74,344.89 1263.80,346.40 1263.86,347.93 1263.92,349.46 1263.98,351.01 1264.04,352.57 1264.10,354.14 1264.16,355.71 1264.22,357.28 1264.28,358.85 1264.33,360.42 1264.39,361.98 1264.44,363.54 1264.49,365.09 1264.55,366.63 1264.60,368.16 1264.64,369.67 1264.69,371.16 1264.74,372.64 1264.78,374.09 1264.82,375.52 1264.86,376.92 1264.90,378.30 1264.94,379.98 1264.98,381.66 1265.01,383.35 1265.04,385.04 1265.06,386.71 1265.09,388.35 1265.11,389.96 1265.14,391.53 1265.17,393.05 1265.20,394.51 1265.24,395.91 1265.29,397.23 1265.34,398.46 1265.40,399.60 1265.59,401.39 1265.92,403.07 1266.36,404.59 1266.90,405.91 1267.50,407.00 1268.45,408.11 1269.77,409.14 1271.31,409.90 1272.90,410.20 1274.35,410.20 1276.07,410.20 1277.88,410.20 1279.59,410.20 1281.02,410.20 1282.00,410.20 1282.59,409.82 1283.08,408.78 1283.49,407.25 1283.85,405.41 1284.19,403.41 1284.53,401.41 1284.90,399.60 1285.26,398.17 1285.64,396.74 1286.05,395.29 1286.45,393.80 1286.85,392.27 1287.21,390.69 1287.53,389.04 1287.80,387.32 1287.99,385.51 1288.10,383.60 1288.13,382.47 1288.16,381.30 1288.19,380.08 1288.22,378.83 1288.24,377.53 1288.27,376.20 1288.29,374.83 1288.31,373.43 1288.33,372.00 1288.35,370.54 1288.36,369.05 1288.38,367.54 1288.39,366.00 1288.41,364.45 1288.42,362.88 1288.43,361.29 1288.45,359.68 1288.46,358.06 1288.47,356.43 1288.48,354.80 1288.49,353.15 1288.51,351.50 1288.52,349.85 1288.53,348.20 1288.54,346.55 1288.56,344.90 1288.57,343.26 1288.58,341.63 1288.60,340.00 1288.61,338.61 1288.63,337.21 1288.64,335.79 1288.65,334.35 1288.67,332.89 1288.68,331.43 1288.69,329.94 1288.70,328.45 1288.72,326.95 1288.73,325.43 1288.74,323.91 1288.75,322.37 1288.77,320.83 1288.78,319.29 1288.79,317.74 1288.80,316.18 1288.81,314.62 1288.83,313.06 1288.84,311.49 1288.85,309.93 1288.86,308.36 1288.87,306.80 1288.89,305.24 1288.90,303.68 1288.91,302.13 1288.92,300.58 1288.93,299.04 1288.95,297.50 1288.96,295.98 1288.97,294.46 1288.98,292.95 1289.00,291.46 1289.01,289.97 1289.02,288.50 1289.03,287.04 1289.05,285.60 1289.06,284.17 1289.07,282.76 1289.09,281.37 1289.10,280.00 1289.12,278.38 1289.13,276.78 1289.15,275.19 1289.17,273.62 1289.18,272.07 1289.20,270.52 1289.22,269.00 1289.23,267.48 1289.25,265.97 1289.27,264.47 1289.29,262.98 1289.30,261.50 1289.32,260.03 1289.34,258.56 1289.36,257.09 1289.37,255.63 1289.39,254.17 1289.41,252.71 1289.43,251.26 1289.45,249.80 1289.47,248.34 1289.49,246.88 1289.50,245.41 1289.52,243.94 1289.54,242.47 1289.56,240.99 1289.58,239.50 1289.60,238.00 1289.62,236.49 1289.64,234.98 1289.66,233.48 1289.68,231.97 1289.70,230.46 1289.72,228.95 1289.75,227.44 1289.77,225.93 1289.79,224.42 1289.81,222.91 1289.83,221.40 1289.86,219.89 1289.88,218.38 1289.90,216.87 1289.92,215.36 1289.95,213.85 1289.97,212.34 1289.99,210.83 1290.01,209.32 1290.03,207.80 1290.06,206.29 1290.08,204.78 1290.10,203.27 1290.12,201.75 1290.14,200.24 1290.16,198.73 1290.18,197.21 1290.20,195.70 1290.22,194.17 1290.24,192.63 1290.25,191.07 1290.27,189.51 1290.29,187.94 1290.30,186.36 1290.32,184.77 1290.33,183.18 1290.35,181.59 1290.36,179.99 1290.38,178.40 1290.39,176.81 1290.41,175.22 1290.42,173.64 1290.44,172.07 1290.45,170.50 1290.47,168.95 1290.49,167.41 1290.50,165.88 1290.52,164.36 1290.54,162.87 1290.56,161.39 1290.58,159.93 1290.60,158.50 1290.62,157.08 1290.65,155.69 1290.67,154.33 1290.70,153.00 1290.74,151.22 1290.78,149.42 1290.83,147.63 1290.88,145.84 1290.93,144.07 1290.99,142.32 1291.05,140.60 1291.12,138.92 1291.19,137.28 1291.26,135.69 1291.34,134.16 1291.42,132.71 1291.51,131.32 1291.60,130.02 1291.70,128.81 1291.80,127.70 1292.07,125.50 1292.44,123.52 1292.85,121.83 1293.30,120.50 1293.84,119.24 1294.50,118.60 1295.35,118.90 1296.30,119.50 1297.51,120.63 1298.70,122.30 1299.20,123.21 1299.70,124.32 1300.20,125.60 1300.70,127.02 1301.19,128.54 1301.67,130.14 1302.13,131.78 1302.58,133.45 1303.00,135.10 1303.32,136.43 1303.63,137.80 1303.94,139.22 1304.23,140.68 1304.52,142.18 1304.81,143.71 1305.08,145.28 1305.36,146.87 1305.63,148.48 1305.89,150.12 1306.16,151.77 1306.42,153.44 1306.68,155.12 1306.94,156.81 1307.20,158.50 1307.41,159.88 1307.62,161.29 1307.82,162.73 1308.03,164.20 1308.24,165.68 1308.44,167.19 1308.64,168.71 1308.84,170.25 1309.04,171.79 1309.24,173.34 1309.44,174.90 1309.63,176.46 1309.82,178.02 1310.02,179.57 1310.21,181.12 1310.40,182.65 1310.58,184.18 1310.77,185.68 1310.96,187.17 1311.14,188.64 1311.32,190.08 1311.50,191.50 1311.70,193.09 1311.91,194.66 1312.11,196.22 1312.31,197.77 1312.51,199.30 1312.71,200.83 1312.91,202.34 1313.10,203.85 1313.29,205.34 1313.48,206.82 1313.67,208.30 1313.85,209.77 1314.03,211.23 1314.21,212.68 1314.38,214.12 1314.54,215.56 1314.70,217.00 1314.87,218.57 1315.04,220.12 1315.20,221.64 1315.35,223.15 1315.50,224.65 1315.65,226.13 1315.79,227.62 1315.94,229.10 1316.08,230.59 1316.22,232.10 1316.37,233.61 1316.51,235.15 1316.65,236.71 1316.80,238.30 1316.94,239.78 1317.07,241.25 1317.21,242.73 1317.35,244.21 1317.48,245.69 1317.62,247.18 1317.76,248.69 1317.89,250.21 1318.03,251.75 1318.16,253.30 1318.30,254.88 1318.43,256.49 1318.57,258.12 1318.70,259.79 1318.83,261.49 1318.97,263.22 1319.10,265.00 1319.19,266.28 1319.29,267.60 1319.38,268.95 1319.48,270.33 1319.57,271.74 1319.67,273.19 1319.77,274.65 1319.86,276.15 1319.96,277.66 1320.06,279.19 1320.16,280.74 1320.25,282.30 1320.35,283.88 1320.45,285.46 1320.54,287.06 1320.64,288.66 1320.73,290.26 1320.83,291.86 1320.92,293.46 1321.01,295.06 1321.11,296.66 1321.20,298.24 1321.29,299.81 1321.38,301.38 1321.46,302.92 1321.55,304.45 1321.63,305.97 1321.71,307.45 1321.80,308.92 1321.87,310.36 1321.95,311.77 1322.03,313.15 1322.10,314.50 1322.19,316.16 1322.28,317.80 1322.37,319.41 1322.45,320.99 1322.54,322.56 1322.62,324.10 1322.70,325.63 1322.78,327.14 1322.86,328.64 1322.94,330.13 1323.01,331.61 1323.09,333.08 1323.16,334.55 1323.23,336.01 1323.30,337.48 1323.37,338.95 1323.44,340.42 1323.51,341.90 1323.57,343.39 1323.64,344.89 1323.70,346.40 1323.76,347.93 1323.82,349.46 1323.88,351.01 1323.94,352.57 1324.00,354.14 1324.06,355.71 1324.12,357.28 1324.18,358.85 1324.23,360.42 1324.29,361.98 1324.34,363.54 1324.39,365.09 1324.45,366.63 1324.50,368.16 1324.54,369.67 1324.59,371.16 1324.64,372.64 1324.68,374.09 1324.72,375.52 1324.76,376.92 1324.80,378.30 1324.84,379.98 1324.88,381.66 1324.91,383.35 1324.94,385.04 1324.96,386.71 1324.99,388.35 1325.01,389.96 1325.04,391.53 1325.07,393.05 1325.10,394.51 1325.14,395.91 1325.19,397.23 1325.24,398.46 1325.30,399.60 1325.49,401.39 1325.82,403.07 1326.26,404.59 1326.80,405.91 1327.40,407.00 1328.35,408.11 1329.67,409.14 1331.21,409.90 1332.80,410.20 1334.10,410.20 1335.50,410.20 1336.98,410.20 1338.54,410.20 1340.18,410.20 1341.90,410.20" stroke="#bd0a0c" stroke-width="3.3" fill="none" stroke-linejoin="round" stroke-linecap="round" clip-path="url(#clipB)"/>
<text x="1233.90" y="111.90" font-size="25" text-anchor="start" >B/Cdk1</text>
<text x="900.90" y="343.70" font-size="25" text-anchor="start" >A/Cdk2</text>
<path d="M973.10 58.10V93.50" stroke="#000" stroke-width="1.9" fill="none"/><path d="M967.10 91.50H979.10L973.10 107.50Z" fill="#000"/>
<text x="984.60" y="87.30" font-size="25" text-anchor="start" >Increase in E2F</text>
<path d="M100.00,963.70 102.54,963.70 105.06,963.70 107.56,963.70 110.03,963.70 112.48,963.70 114.91,963.70 117.32,963.70 119.71,963.70 122.07,963.70 124.41,963.70 126.73,963.70 129.02,963.70 131.30,963.70 133.55,963.70 135.78,963.70 137.98,963.70 140.16,963.70 142.32,963.70 144.46,963.70 146.57,963.70 148.66,963.70 150.73,963.70 152.77,963.70 154.79,963.70 156.79,963.70 158.76,963.70 160.71,963.70 162.63,963.70 164.54,963.70 166.41,963.70 168.27,963.70 170.10,963.70 171.91,963.70 173.69,963.70 175.45,963.70 177.18,963.70 178.89,963.70 180.58,963.70 182.24,963.70 183.88,963.70 185.49,963.70 187.08,963.70 188.64,963.70 190.18,963.70 191.70,963.70 193.19,963.70 194.65,963.70 196.09,963.70 197.51,963.70 198.90,963.70 200.26,963.70 201.60,963.70 202.91,963.70 204.20,963.70 205.47,963.70 206.70,963.70 207.92,963.70 209.10,963.70 210.27,963.70 211.40,963.70 212.51,963.70 213.59,963.70 214.65,963.70 215.69,963.70 216.69,963.70 217.67,963.70 218.63,963.70 219.55,963.70 220.45,963.70 221.33,963.70 222.18,963.70 223.00,963.70 223.80,963.70 224.57,963.70 225.31,963.70 226.02,963.70 226.71,963.70 227.37,963.70 228.01,963.70 228.62,963.70 229.20,963.70 229.75,963.70 230.28,963.70 230.78,963.70 231.25,963.70 231.69,963.70 232.11,963.70 232.50,963.70 234.33,964.12 235.69,965.12 236.90,966.30 237.95,967.50 238.93,968.99 239.82,970.61 240.60,972.20 241.20,973.67 241.72,975.17 242.22,976.67 242.80,978.10 243.66,980.04 244.63,981.92 245.80,983.20 247.23,983.93 248.98,984.48 250.90,984.70 252.31,984.61 253.87,984.38 255.51,984.05 257.19,983.65 258.87,983.22 260.50,982.80 262.14,982.37 263.80,981.90 265.45,981.38 267.07,980.81 268.63,980.19 270.10,979.50 271.48,978.76 272.87,977.92 274.21,976.98 275.44,975.95 276.53,974.82 277.40,973.60 277.99,972.46 278.52,971.13 279.02,969.65 279.48,968.07 279.90,966.43 280.28,964.78 280.65,963.15 280.98,961.60 281.30,960.17 281.67,958.59 282.03,957.15 282.36,955.76 282.66,954.31 282.91,952.72 283.10,950.89 283.18,949.83 283.26,948.69 283.34,947.48 283.41,946.20 283.48,944.85 283.54,943.45 283.61,942.00 283.67,940.49 283.72,938.94 283.78,937.35 283.83,935.72 283.88,934.06 283.93,932.38 283.97,930.67 284.02,928.94 284.06,927.20 284.10,925.45 284.14,923.70 284.18,921.94 284.22,920.19 284.26,918.45 284.30,916.72 284.33,915.35 284.36,913.97 284.39,912.57 284.42,911.15 284.44,909.72 284.47,908.28 284.50,906.81 284.52,905.34 284.55,903.85 284.57,902.35 284.59,900.84 284.62,899.32 284.64,897.79 284.66,896.25 284.69,894.70 284.71,893.14 284.73,891.58 284.75,890.01 284.77,888.43 284.79,886.85 284.81,885.26 284.84,883.67 284.86,882.08 284.88,880.49 284.90,878.89 284.92,877.29 284.94,875.70 284.96,874.10 284.98,872.51 285.00,870.92 285.02,869.33 285.04,867.74 285.06,866.16 285.08,864.58 285.10,863.01 285.12,861.53 285.14,860.03 285.16,858.52 285.17,856.98 285.19,855.44 285.21,853.87 285.23,852.30 285.24,850.72 285.26,849.12 285.27,847.52 285.29,845.91 285.31,844.30 285.32,842.69 285.34,841.07 285.35,839.45 285.37,837.84 285.38,836.22 285.40,834.62 285.41,833.01 285.43,831.42 285.45,829.83 285.46,828.25 285.48,826.69 285.49,825.13 285.51,823.60 285.53,822.07 285.55,820.57 285.56,819.09 285.58,817.62 285.60,816.18 285.62,814.76 285.64,813.36 285.66,812.00 285.68,810.66 285.70,809.35 285.73,808.07 285.75,806.82 285.78,805.60 285.80,804.43 285.84,802.62 285.89,800.86 285.94,799.13 285.99,797.45 286.04,795.81 286.10,794.20 286.16,792.63 286.22,791.10 286.29,789.60 286.35,788.14 286.42,786.71 286.50,785.31 286.57,783.94 286.64,782.60 286.72,781.29 286.80,780.01 286.92,778.18 287.04,776.35 287.17,774.57 287.31,772.85 287.46,771.24 287.62,769.76 287.80,768.44 288.00,767.32 288.60,765.12 289.30,764.00 289.99,765.11 290.60,767.32 290.79,768.34 290.96,769.54 291.12,770.89 291.27,772.39 291.40,773.99 291.54,775.69 291.67,777.46 291.81,779.27 291.95,781.10 292.10,782.94 292.20,784.18 292.31,785.45 292.42,786.76 292.53,788.10 292.63,789.48 292.74,790.89 292.85,792.33 292.97,793.80 293.08,795.29 293.19,796.81 293.30,798.34 293.41,799.90 293.52,801.48 293.64,803.07 293.75,804.67 293.86,806.29 293.97,807.92 294.08,809.55 294.18,811.20 294.29,812.84 294.40,814.49 294.50,816.14 294.59,817.53 294.67,818.93 294.76,820.34 294.84,821.77 294.93,823.22 295.01,824.68 295.10,826.15 295.18,827.63 295.27,829.13 295.35,830.64 295.44,832.15 295.52,833.68 295.60,835.21 295.69,836.76 295.77,838.30 295.85,839.86 295.93,841.42 296.01,842.99 296.09,844.55 296.18,846.13 296.26,847.70 296.33,849.28 296.41,850.86 296.49,852.43 296.57,854.01 296.65,855.58 296.72,857.16 296.80,858.73 296.88,860.30 296.95,861.86 297.03,863.41 297.10,864.97 297.17,866.47 297.24,867.98 297.31,869.49 297.38,871.01 297.46,872.53 297.53,874.06 297.60,875.59 297.67,877.13 297.74,878.67 297.81,880.21 297.88,881.75 297.95,883.29 298.02,884.84 298.09,886.38 298.15,887.93 298.22,889.47 298.29,891.01 298.35,892.56 298.42,894.10 298.48,895.64 298.55,897.17 298.61,898.71 298.68,900.24 298.74,901.76 298.80,903.29 298.86,904.80 298.92,906.32 298.98,907.82 299.03,909.32 299.09,910.82 299.14,912.30 299.20,913.78 299.25,915.25 299.30,916.72 299.35,918.30 299.41,919.91 299.46,921.53 299.50,923.17 299.55,924.81 299.60,926.47 299.64,928.12 299.68,929.79 299.73,931.45 299.77,933.11 299.81,934.76 299.85,936.41 299.89,938.05 299.93,939.67 299.97,941.28 300.01,942.87 300.05,944.44 300.09,945.98 300.13,947.50 300.18,948.99 300.22,950.45 300.26,951.87 300.31,953.26 300.35,954.61 300.40,955.91 300.45,957.17 300.50,958.39 300.55,959.55 300.60,960.66 300.70,962.61 300.81,964.45 300.91,966.19 301.03,967.84 301.14,969.42 301.27,970.94 301.40,972.42 301.55,973.87 301.70,975.31 301.89,977.05 302.10,978.79 302.34,980.48 302.61,982.05 302.92,983.44 303.30,984.58 304.11,986.04 305.27,987.28 306.60,987.80 308.23,987.69 310.29,987.42 312.05,987.16 312.80,987.02 312.05,987.01 311.30,987.00 312.02,986.84 313.76,986.49 315.89,986.04 317.80,985.60 319.31,985.20 320.80,984.77 322.28,984.30 323.80,983.80 325.20,983.33 326.66,982.83 328.11,982.28 329.51,981.68 330.80,981.00 332.26,979.97 333.64,978.73 334.92,977.37 336.10,976.00 337.14,974.73 338.13,973.43 339.02,972.05 339.80,970.50 340.32,969.17 340.80,967.68 341.26,966.08 341.68,964.41 342.08,962.73 342.45,961.08 342.80,959.50 343.16,957.94 343.52,956.48 343.85,955.04 344.15,953.53 344.40,951.88 344.60,950.00 344.68,948.96 344.76,947.85 344.83,946.67 344.90,945.42 344.96,944.12 345.03,942.76 345.09,941.35 345.14,939.89 345.20,938.38 345.25,936.84 345.30,935.26 345.35,933.65 345.40,932.02 345.44,930.35 345.49,928.67 345.53,926.98 345.57,925.27 345.61,923.55 345.65,921.83 345.69,920.11 345.73,918.40 345.76,916.69 345.80,915.00 345.83,913.64 345.86,912.27 345.89,910.87 345.91,909.46 345.94,908.04 345.96,906.60 345.99,905.15 346.01,903.68 346.04,902.21 346.06,900.72 346.09,899.21 346.11,897.70 346.13,896.18 346.15,894.65 346.18,893.11 346.20,891.56 346.22,890.01 346.24,888.45 346.26,886.88 346.28,885.31 346.30,883.73 346.32,882.15 346.34,880.57 346.36,878.98 346.38,877.40 346.40,875.81 346.42,874.22 346.44,872.63 346.46,871.04 346.48,869.45 346.50,867.87 346.52,866.29 346.54,864.71 346.56,863.13 346.58,861.56 346.60,860.00 346.62,858.52 346.64,857.03 346.65,855.51 346.67,853.98 346.69,852.44 346.71,850.88 346.72,849.31 346.74,847.73 346.75,846.14 346.77,844.54 346.79,842.94 346.80,841.33 346.82,839.72 346.83,838.11 346.85,836.49 346.86,834.88 346.88,833.27 346.89,831.66 346.91,830.05 346.92,828.46 346.94,826.87 346.95,825.29 346.97,823.72 346.98,822.16 347.00,820.62 347.02,819.09 347.03,817.57 347.05,816.08 347.07,814.60 347.09,813.14 347.11,811.71 347.12,810.29 347.14,808.91 347.16,807.55 347.19,806.21 347.21,804.91 347.23,803.63 347.25,802.39 347.28,801.18 347.30,800.00 347.34,798.15 347.39,796.35 347.44,794.58 347.49,792.86 347.54,791.17 347.60,789.53 347.66,787.92 347.72,786.35 347.79,784.82 347.85,783.32 347.92,781.85 348.00,780.42 348.07,779.02 348.14,777.65 348.22,776.31 348.30,775.00 348.42,773.12 348.54,771.25 348.67,769.42 348.81,767.67 348.96,766.02 349.12,764.50 349.30,763.15 349.50,762.00 350.10,759.75 350.80,758.60 351.49,759.74 352.10,762.00 352.29,763.04 352.46,764.27 352.62,765.66 352.77,767.19 352.90,768.83 353.04,770.57 353.17,772.38 353.31,774.24 353.45,776.12 353.60,778.00 353.70,779.26 353.81,780.57 353.92,781.91 354.03,783.29 354.13,784.70 354.24,786.14 354.35,787.61 354.47,789.12 354.58,790.64 354.69,792.20 354.80,793.77 354.91,795.37 355.03,796.98 355.14,798.61 355.25,800.25 355.36,801.91 355.47,803.58 355.58,805.25 355.68,806.93 355.79,808.62 355.90,810.31 356.00,812.00 356.08,813.37 356.17,814.76 356.25,816.17 356.33,817.59 356.42,819.02 356.50,820.47 356.58,821.93 356.66,823.40 356.74,824.88 356.83,826.37 356.91,827.88 356.99,829.39 357.07,830.91 357.15,832.44 357.23,833.97 357.31,835.52 357.39,837.06 357.47,838.62 357.55,840.17 357.63,841.73 357.70,843.29 357.78,844.86 357.86,846.42 357.94,847.99 358.01,849.56 358.09,851.12 358.16,852.69 358.24,854.25 358.31,855.81 358.38,857.36 358.46,858.91 358.53,860.46 358.60,862.00 358.67,863.49 358.74,865.00 358.81,866.50 358.88,868.01 358.95,869.53 359.01,871.05 359.08,872.57 359.15,874.10 359.22,875.63 359.29,877.16 359.36,878.69 359.42,880.22 359.49,881.76 359.56,883.30 359.62,884.83 359.69,886.37 359.76,887.91 359.82,889.44 359.88,890.98 359.95,892.51 360.01,894.04 360.07,895.57 360.13,897.09 360.19,898.61 360.25,900.13 360.31,901.64 360.37,903.15 360.43,904.66 360.49,906.15 360.54,907.64 360.59,909.13 360.65,910.61 360.70,912.08 360.75,913.54 360.80,915.00 360.85,916.57 360.90,918.16 360.95,919.76 361.00,921.38 361.04,923.01 361.09,924.64 361.13,926.28 361.17,927.93 361.21,929.58 361.25,931.22 361.29,932.86 361.33,934.49 361.37,936.12 361.41,937.73 361.45,939.33 361.49,940.92 361.53,942.48 361.57,944.02 361.61,945.54 361.65,947.04 361.69,948.50 361.73,949.94 361.77,951.34 361.81,952.70 361.86,954.03 361.90,955.31 361.95,956.56 362.00,957.75 362.05,958.90 362.10,960.00 362.19,961.81 362.28,963.52 362.38,965.14 362.48,966.69 362.58,968.17 362.69,969.60 362.81,970.99 362.93,972.35 363.06,973.68 363.20,975.00 363.39,976.78 363.60,978.57 363.84,980.29 364.10,981.90 364.42,983.32 364.80,984.50 365.61,986.00 366.77,987.26 368.10,987.80 369.58,987.67 371.39,987.40 373.10,987.12 374.30,987.00 374.75,987.04 375.20,987.08 376.38,986.95 378.07,986.62 379.95,986.20 381.70,985.79 383.21,985.43 384.69,985.03 386.18,984.60 387.70,984.14 389.46,983.60 391.28,983.01 393.06,982.34 394.70,981.57 396.15,980.63 397.53,979.48 398.82,978.23 400.00,976.97 401.04,975.81 402.02,974.62 402.92,973.34 403.70,971.92 404.22,970.70 404.70,969.34 405.15,967.86 405.58,966.33 405.98,964.78 406.35,963.26 406.70,961.81 407.13,960.11 407.55,958.51 407.93,956.90 408.26,955.13 408.50,953.08 408.59,952.03 408.67,950.90 408.75,949.70 408.82,948.43 408.89,947.09 408.96,945.69 409.03,944.24 409.09,942.74 409.15,941.20 409.20,939.61 409.25,937.99 409.31,936.34 409.36,934.66 409.40,932.97 409.45,931.25 409.49,929.53 409.54,927.80 409.58,926.07 409.62,924.34 409.66,922.62 409.70,920.92 409.73,919.56 409.76,918.17 409.79,916.77 409.82,915.36 409.85,913.92 409.88,912.48 409.91,911.01 409.93,909.53 409.96,908.04 409.98,906.54 410.01,905.02 410.03,903.50 410.06,901.96 410.08,900.42 410.11,898.86 410.13,897.30 410.15,895.74 410.17,894.16 410.20,892.58 410.22,891.00 410.24,889.41 410.26,887.82 410.28,886.23 410.31,884.64 410.33,883.04 410.35,881.45 410.37,879.86 410.39,878.27 410.41,876.68 410.43,875.10 410.46,873.52 410.48,871.95 410.50,870.38 410.52,868.87 410.54,867.34 410.56,865.79 410.58,864.22 410.60,862.64 410.62,861.04 410.64,859.43 410.65,857.81 410.67,856.18 410.69,854.54 410.70,852.90 410.72,851.25 410.74,849.60 410.75,847.95 410.77,846.31 410.79,844.66 410.80,843.02 410.82,841.39 410.84,839.77 410.86,838.16 410.87,836.56 410.89,834.97 410.91,833.40 410.93,831.85 410.95,830.32 410.97,828.81 410.99,827.32 411.01,825.86 411.03,824.42 411.05,823.01 411.07,821.63 411.10,820.28 411.12,818.97 411.15,817.69 411.17,816.45 411.20,815.24 411.24,813.43 411.29,811.67 411.35,809.94 411.40,808.26 411.46,806.62 411.52,805.03 411.59,803.47 411.66,801.95 411.73,800.46 411.80,799.01 411.88,797.60 411.95,796.22 412.03,794.87 412.12,793.56 412.20,792.27 412.32,790.54 412.44,788.82 412.57,787.14 412.71,785.53 412.86,784.01 413.02,782.62 413.20,781.38 413.40,780.32 414.00,778.26 414.70,777.20 415.39,778.24 416.00,780.32 416.21,781.40 416.40,782.68 416.57,784.14 416.73,785.75 416.88,787.48 417.03,789.30 417.18,791.18 417.33,793.10 417.50,795.03 417.61,796.31 417.73,797.63 417.85,798.99 417.97,800.40 418.09,801.84 418.21,803.32 418.33,804.82 418.46,806.36 418.58,807.93 418.70,809.52 418.82,811.13 418.95,812.77 419.07,814.42 419.19,816.08 419.31,817.76 419.43,819.45 419.55,821.15 419.67,822.86 419.79,824.56 419.90,826.27 419.99,827.66 420.08,829.07 420.17,830.49 420.27,831.93 420.36,833.38 420.45,834.85 420.54,836.34 420.63,837.83 420.72,839.34 420.81,840.86 420.90,842.39 420.99,843.93 421.07,845.47 421.16,847.03 421.25,848.59 421.34,850.16 421.42,851.73 421.51,853.30 421.60,854.88 421.68,856.46 421.77,858.05 421.85,859.63 421.93,861.21 422.02,862.80 422.10,864.38 422.18,865.95 422.26,867.53 422.34,869.10 422.42,870.66 422.50,872.22 422.58,873.72 422.65,875.23 422.73,876.74 422.80,878.26 422.88,879.79 422.95,881.32 423.03,882.85 423.10,884.38 423.18,885.92 423.25,887.46 423.33,889.01 423.40,890.55 423.47,892.10 423.54,893.64 423.62,895.19 423.69,896.73 423.76,898.27 423.83,899.81 423.90,901.35 423.97,902.89 424.03,904.42 424.10,905.95 424.16,907.47 424.23,908.99 424.29,910.51 424.35,912.02 424.41,913.52 424.47,915.01 424.53,916.50 424.59,917.98 424.65,919.46 424.70,920.92 424.76,922.52 424.81,924.15 424.87,925.79 424.92,927.44 424.97,929.11 425.02,930.79 425.06,932.46 425.11,934.14 425.15,935.82 425.20,937.50 425.24,939.17 425.29,940.82 425.33,942.46 425.37,944.09 425.42,945.69 425.46,947.28 425.50,948.83 425.55,950.36 425.59,951.85 425.64,953.31 425.69,954.73 425.73,956.11 425.78,957.45 425.83,958.73 425.89,959.97 425.94,961.15 426.00,962.27 426.10,964.11 426.21,965.84 426.31,967.48 426.43,969.03 426.54,970.52 426.67,971.95 426.80,973.34 426.95,974.70 427.10,976.05 427.34,978.02 427.59,979.99 427.89,981.83 428.26,983.47 428.70,984.78 430.06,986.80 432.00,987.82 433.34,987.74 434.90,987.56 436.56,987.32 438.20,987.08 439.89,986.82 441.61,986.52 443.33,986.19 445.00,985.84 446.52,985.48 448.00,985.09 449.48,984.67 451.00,984.21 452.76,983.68 454.58,983.10 456.36,982.45 458.00,981.69 459.45,980.77 460.83,979.65 462.12,978.42 463.30,977.18 464.34,976.04 465.32,974.88 466.22,973.62 467.00,972.22 467.60,970.82 468.15,969.22 468.67,967.50 469.15,965.73 469.59,963.98 470.00,962.31 470.43,960.64 470.85,959.07 471.23,957.49 471.56,955.75 471.80,953.74 471.89,952.71 471.97,951.61 472.05,950.43 472.12,949.18 472.19,947.87 472.26,946.50 472.33,945.07 472.39,943.60 472.45,942.09 472.50,940.53 472.55,938.94 472.61,937.32 472.66,935.68 472.70,934.01 472.75,932.33 472.79,930.64 472.84,928.94 472.88,927.25 472.92,925.55 472.96,923.86 473.00,922.19 473.03,920.85 473.06,919.50 473.09,918.13 473.12,916.74 473.15,915.33 473.18,913.91 473.21,912.47 473.23,911.02 473.26,909.56 473.28,908.09 473.31,906.60 473.33,905.10 473.36,903.60 473.38,902.08 473.41,900.56 473.43,899.02 473.45,897.49 473.47,895.94 473.50,894.39 473.52,892.84 473.54,891.28 473.56,889.72 473.58,888.16 473.61,886.60 473.63,885.04 473.65,883.47 473.67,881.91 473.69,880.35 473.71,878.79 473.73,877.24 473.76,875.69 473.78,874.15 473.80,872.61 473.82,871.13 473.84,869.63 473.86,868.11 473.88,866.57 473.90,865.02 473.92,863.45 473.94,861.87 473.95,860.28 473.97,858.68 473.99,857.07 474.00,855.46 474.02,853.84 474.04,852.23 474.05,850.61 474.07,848.99 474.09,847.38 474.10,845.78 474.12,844.18 474.14,842.58 474.16,841.00 474.17,839.43 474.19,837.88 474.21,836.34 474.23,834.81 474.25,833.31 474.27,831.83 474.29,830.37 474.31,828.93 474.33,827.52 474.35,826.14 474.37,824.79 474.40,823.46 474.42,822.17 474.45,820.92 474.47,819.70 474.50,818.52 474.54,816.74 474.59,815.01 474.65,813.32 474.70,811.67 474.76,810.07 474.82,808.50 474.89,806.97 474.96,805.48 475.03,804.02 475.10,802.60 475.18,801.21 475.25,799.86 475.33,798.54 475.42,797.25 475.50,795.98 475.63,794.05 475.77,792.13 475.93,790.26 476.09,788.50 476.27,786.89 476.47,785.46 476.70,784.27 477.30,782.24 478.00,781.20 478.69,782.22 479.30,784.27 479.51,785.32 479.70,786.58 479.87,788.01 480.03,789.59 480.18,791.28 480.33,793.07 480.48,794.92 480.63,796.80 480.80,798.69 480.91,799.94 481.03,801.24 481.15,802.58 481.27,803.96 481.39,805.37 481.51,806.82 481.63,808.30 481.76,809.81 481.88,811.35 482.00,812.91 482.12,814.49 482.25,816.09 482.37,817.71 482.49,819.35 482.61,820.99 482.73,822.65 482.85,824.32 482.97,825.99 483.09,827.66 483.20,829.34 483.29,830.70 483.38,832.08 483.47,833.48 483.57,834.89 483.66,836.32 483.75,837.76 483.84,839.22 483.93,840.68 484.02,842.16 484.11,843.65 484.20,845.15 484.29,846.66 484.37,848.18 484.46,849.70 484.55,851.23 484.64,852.77 484.72,854.31 484.81,855.86 484.90,857.41 484.98,858.96 485.07,860.51 485.15,862.07 485.23,863.62 485.32,865.17 485.40,866.72 485.48,868.27 485.56,869.81 485.64,871.35 485.72,872.89 485.80,874.41 485.88,875.94 485.96,877.46 486.03,879.00 486.11,880.54 486.19,882.08 486.27,883.63 486.35,885.18 486.42,886.74 486.50,888.30 486.58,889.86 486.65,891.42 486.73,892.99 486.80,894.55 486.88,896.12 486.95,897.68 487.02,899.24 487.10,900.80 487.17,902.36 487.24,903.92 487.31,905.47 487.38,907.02 487.45,908.57 487.51,910.11 487.58,911.64 487.64,913.17 487.70,914.69 487.77,916.21 487.83,917.72 487.89,919.22 487.94,920.71 488.00,922.19 488.06,923.77 488.11,925.36 488.17,926.97 488.22,928.59 488.27,930.23 488.32,931.87 488.36,933.52 488.41,935.17 488.45,936.81 488.50,938.46 488.54,940.09 488.59,941.72 488.63,943.33 488.67,944.92 488.72,946.50 488.76,948.05 488.80,949.58 488.85,951.07 488.89,952.54 488.94,953.97 488.99,955.36 489.03,956.72 489.08,958.03 489.13,959.29 489.19,960.50 489.24,961.66 489.30,962.76 489.40,964.56 489.51,966.26 489.61,967.87 489.73,969.39 489.84,970.85 489.97,972.25 490.10,973.62 490.25,974.96 490.40,976.28 490.64,978.21 490.89,980.14 491.20,981.95 491.56,983.56 492.00,984.84 493.37,986.82 495.30,987.82 496.65,987.75 498.22,987.57 499.88,987.34 501.50,987.10 503.08,986.84 504.66,986.53 506.24,986.20 507.80,985.85 509.30,985.49 510.79,985.10 512.28,984.68 513.80,984.23 515.56,983.70 517.38,983.12 519.16,982.47 520.80,981.72 522.25,980.80 523.63,979.68 524.92,978.46 526.10,977.23 527.14,976.10 528.12,974.93 529.02,973.69 529.80,972.29 530.40,970.89 530.95,969.30 531.47,967.59 531.95,965.83 532.39,964.08 532.80,962.42 533.23,960.76 533.65,959.20 534.03,957.62 534.36,955.89 534.60,953.89 534.69,952.81 534.78,951.65 534.86,950.41 534.94,949.09 535.01,947.71 535.08,946.26 535.15,944.75 535.21,943.20 535.27,941.59 535.33,939.95 535.38,938.27 535.44,936.56 535.49,934.83 535.53,933.08 535.58,931.31 535.63,929.54 535.67,927.76 535.71,925.99 535.76,924.23 535.80,922.48 535.83,921.11 535.86,919.71 535.90,918.30 535.93,916.87 535.95,915.43 535.98,913.96 536.01,912.49 536.04,910.99 536.07,909.49 536.09,907.97 536.12,906.44 536.14,904.90 536.17,903.35 536.19,901.79 536.22,900.22 536.24,898.65 536.26,897.06 536.29,895.48 536.31,893.88 536.33,892.29 536.36,890.69 536.38,889.08 536.40,887.48 536.42,885.87 536.44,884.27 536.47,882.66 536.49,881.06 536.51,879.46 536.53,877.87 536.55,876.28 536.58,874.69 536.60,873.11 536.62,871.60 536.64,870.06 536.66,868.50 536.68,866.92 536.70,865.33 536.72,863.72 536.74,862.10 536.76,860.47 536.77,858.83 536.79,857.18 536.81,855.53 536.83,853.88 536.84,852.22 536.86,850.56 536.88,848.91 536.90,847.26 536.91,845.62 536.93,843.98 536.95,842.36 536.97,840.75 536.98,839.15 537.00,837.57 537.02,836.00 537.04,834.45 537.06,832.93 537.08,831.43 537.10,829.95 537.12,828.50 537.15,827.08 537.17,825.69 537.19,824.33 537.22,823.00 537.25,821.72 537.27,820.47 537.30,819.26 537.35,817.37 537.40,815.52 537.46,813.73 537.52,811.98 537.58,810.28 537.65,808.62 537.72,807.01 537.80,805.44 537.87,803.91 537.95,802.42 538.04,800.96 538.12,799.55 538.21,798.17 538.30,796.82 538.43,794.89 538.57,792.98 538.73,791.13 538.89,789.37 539.07,787.76 539.27,786.34 539.50,785.15 540.10,783.13 540.80,782.10 541.49,783.12 542.10,785.15 542.31,786.20 542.50,787.45 542.67,788.88 542.83,790.45 542.98,792.14 543.13,793.92 543.28,795.76 543.43,797.63 543.60,799.51 543.71,800.76 543.83,802.05 543.95,803.39 544.07,804.76 544.19,806.17 544.31,807.61 544.43,809.08 544.56,810.58 544.68,812.11 544.80,813.67 544.92,815.24 545.05,816.84 545.17,818.45 545.29,820.08 545.41,821.72 545.53,823.37 545.65,825.03 545.77,826.69 545.89,828.36 546.00,830.03 546.09,831.43 546.19,832.86 546.28,834.30 546.38,835.75 546.47,837.23 546.57,838.71 546.66,840.21 546.75,841.73 546.85,843.26 546.94,844.79 547.03,846.34 547.12,847.90 547.21,849.47 547.31,851.04 547.40,852.62 547.49,854.21 547.58,855.80 547.66,857.39 547.75,858.99 547.84,860.59 547.93,862.19 548.01,863.79 548.10,865.39 548.19,866.98 548.27,868.58 548.35,870.17 548.44,871.75 548.52,873.33 548.60,874.91 548.68,876.42 548.76,877.94 548.83,879.47 548.91,881.01 548.99,882.54 549.07,884.09 549.15,885.63 549.22,887.18 549.30,888.73 549.38,890.29 549.45,891.84 549.53,893.40 549.60,894.96 549.68,896.52 549.75,898.07 549.82,899.63 549.90,901.18 549.97,902.74 550.04,904.28 550.11,905.83 550.18,907.37 550.25,908.91 550.31,910.45 550.38,911.97 550.44,913.50 550.50,915.01 550.57,916.52 550.63,918.02 550.69,919.52 550.74,921.00 550.80,922.48 550.86,924.11 550.92,925.75 550.97,927.42 551.03,929.10 551.08,930.79 551.13,932.49 551.18,934.20 551.22,935.90 551.27,937.60 551.32,939.30 551.36,940.99 551.41,942.66 551.45,944.32 551.50,945.96 551.54,947.57 551.59,949.16 551.63,950.72 551.68,952.25 551.73,953.74 551.77,955.19 551.82,956.60 551.88,957.96 551.93,959.27 551.98,960.53 552.04,961.73 552.10,962.87 552.20,964.66 552.31,966.36 552.41,967.95 552.53,969.47 552.64,970.92 552.77,972.32 552.90,973.68 553.05,975.01 553.20,976.33 553.44,978.26 553.69,980.17 554.00,981.98 554.36,983.57 554.80,984.86 556.17,986.83 558.10,987.82 559.38,987.76 560.83,987.60 562.47,987.38 564.30,987.10 565.43,986.89 566.73,986.59 568.18,986.19 569.73,985.72 571.36,985.18 573.05,984.58 574.76,983.93 576.47,983.25 578.15,982.55 579.76,981.82 581.28,981.10 582.68,980.38 583.93,979.68 585.00,979.00 586.41,977.95 587.64,976.85 588.76,975.70 589.82,974.51 590.88,973.28 592.00,972.00 593.00,970.88 594.00,969.71 595.00,968.51 595.99,967.28 597.00,966.01 598.00,964.71 599.00,963.37 600.00,962.00" stroke="#2e5b20" stroke-width="3.3" fill="none" stroke-linejoin="round" stroke-linecap="round" clip-path="url(#clipC)"/>
<path d="M100.00,989.80 102.37,989.80 104.72,989.80 107.05,989.80 109.37,989.80 111.66,989.80 113.94,989.80 116.21,989.80 118.45,989.80 120.68,989.80 122.89,989.80 125.08,989.80 127.25,989.80 129.41,989.80 131.55,989.80 133.67,989.80 135.77,989.80 137.85,989.80 139.92,989.80 141.97,989.80 143.99,989.80 146.01,989.80 148.00,989.80 149.97,989.80 151.93,989.80 153.87,989.80 155.79,989.80 157.69,989.80 159.57,989.80 161.43,989.80 163.28,989.80 165.11,989.80 166.91,989.80 168.70,989.80 170.47,989.80 172.22,989.80 173.96,989.80 175.67,989.80 177.36,989.80 179.04,989.80 180.70,989.80 182.33,989.80 183.95,989.80 185.55,989.80 187.13,989.80 188.69,989.80 190.23,989.80 191.75,989.80 193.25,989.80 194.74,989.80 196.20,989.80 197.64,989.80 199.07,989.80 200.47,989.80 201.86,989.80 203.22,989.80 204.57,989.80 205.89,989.80 207.20,989.80 208.48,989.80 209.75,989.80 210.99,989.80 212.22,989.80 213.42,989.80 214.61,989.80 215.77,989.80 216.92,989.80 218.04,989.80 219.14,989.80 220.23,989.80 221.29,989.80 222.33,989.80 223.36,989.80 224.36,989.80 225.34,989.80 226.30,989.80 227.24,989.80 228.16,989.80 229.05,989.80 229.93,989.80 230.79,989.80 231.62,989.80 232.44,989.80 233.23,989.80 234.00,989.80 234.75,989.80 235.48,989.80 236.19,989.80 236.88,989.80 237.55,989.80 238.19,989.80 238.82,989.80 239.42,989.80 240.00,989.80 242.15,989.87 243.96,990.06 245.52,990.30 246.98,990.54 248.43,990.73 250.00,990.80 251.67,990.79 253.33,990.75 255.00,990.70 256.67,990.64 258.33,990.57 260.00,990.50 261.65,990.40 263.27,990.26 264.90,990.10 266.54,989.95 268.24,989.84 270.00,989.80 271.54,989.80 273.24,989.80 275.05,989.80 276.88,989.80 278.68,989.80 280.37,989.80 281.88,989.80 283.15,989.80 284.10,989.80 285.27,989.19 286.18,987.74 286.90,986.04 287.27,984.95 287.60,983.64 287.89,982.17 288.17,980.59 288.43,978.95 288.68,977.30 288.93,975.70 289.20,974.18 289.51,972.61 289.83,971.07 290.16,969.54 290.47,968.01 290.75,966.47 291.00,964.91 291.20,963.31 291.36,961.80 291.51,960.33 291.65,958.85 291.78,957.35 291.90,955.79 291.99,954.14 292.06,952.38 292.10,950.46 292.11,949.36 292.13,948.22 292.14,947.02 292.15,945.79 292.16,944.51 292.17,943.20 292.18,941.84 292.19,940.45 292.20,939.03 292.20,937.57 292.21,936.08 292.22,934.55 292.22,933.00 292.23,931.42 292.23,929.82 292.24,928.19 292.24,926.54 292.25,924.87 292.26,923.18 292.26,921.47 292.27,919.74 292.27,918.00 292.28,916.25 292.29,914.48 292.29,912.71 292.30,910.93 292.31,909.70 292.31,908.44 292.32,907.15 292.32,905.84 292.33,904.50 292.33,903.14 292.34,901.75 292.34,900.35 292.35,898.92 292.35,897.47 292.35,896.00 292.36,894.52 292.36,893.01 292.37,891.49 292.37,889.96 292.38,888.41 292.38,886.84 292.39,885.27 292.39,883.68 292.40,882.09 292.40,880.48 292.41,878.86 292.41,877.24 292.42,875.61 292.42,873.98 292.43,872.34 292.43,870.69 292.43,869.05 292.44,867.40 292.44,865.75 292.45,864.11 292.45,862.46 292.46,860.82 292.46,859.18 292.47,857.54 292.48,855.91 292.48,854.29 292.49,852.67 292.49,851.06 292.50,849.46 292.50,847.87 292.51,846.29 292.51,844.73 292.52,843.17 292.53,841.64 292.53,840.11 292.54,838.61 292.54,837.11 292.55,835.64 292.56,834.19 292.56,832.76 292.57,831.34 292.58,829.95 292.59,828.59 292.59,827.24 292.60,825.93 292.61,824.19 292.62,822.48 292.63,820.79 292.64,819.12 292.66,817.46 292.67,815.82 292.68,814.20 292.70,812.59 292.71,811.00 292.73,809.42 292.74,807.85 292.76,806.30 292.77,804.76 292.79,803.23 292.80,801.70 292.82,800.19 292.84,798.68 292.85,797.18 292.87,795.69 292.89,794.21 292.90,792.72 292.92,791.25 292.94,789.77 292.96,788.30 292.98,786.83 292.99,785.36 293.01,783.89 293.03,782.42 293.05,780.94 293.06,779.47 293.08,777.99 293.10,776.51 293.12,774.92 293.14,773.31 293.15,771.69 293.17,770.04 293.19,768.39 293.21,766.73 293.22,765.06 293.24,763.39 293.26,761.71 293.28,760.04 293.29,758.38 293.31,756.73 293.33,755.09 293.35,753.46 293.37,751.85 293.39,750.26 293.41,748.70 293.43,747.17 293.45,745.66 293.47,744.19 293.50,742.76 293.52,741.36 293.55,740.01 293.58,738.71 293.61,737.45 293.64,736.25 293.67,735.10 293.70,734.00 293.78,731.95 293.87,729.97 293.98,728.08 294.11,726.30 294.25,724.65 294.39,723.15 294.54,721.81 294.70,720.66 295.05,718.50 295.50,717.40 296.01,717.98 296.50,719.18 296.69,720.07 296.87,721.23 297.03,722.62 297.17,724.21 297.31,725.97 297.43,727.86 297.55,729.85 297.68,731.91 297.80,734.00 297.86,735.05 297.92,736.14 297.98,737.29 298.04,738.48 298.10,739.73 298.15,741.01 298.21,742.34 298.27,743.72 298.32,745.12 298.38,746.57 298.43,748.05 298.48,749.56 298.54,751.10 298.59,752.66 298.64,754.25 298.70,755.86 298.75,757.50 298.80,759.15 298.85,760.81 298.90,762.49 298.95,764.18 299.00,765.88 299.05,767.59 299.10,769.30 299.15,771.01 299.20,772.73 299.25,774.44 299.30,776.14 299.35,777.84 299.40,779.53 299.45,781.21 299.50,782.87 299.55,784.52 299.60,786.16 299.65,787.77 299.70,789.35 299.75,790.85 299.79,792.35 299.84,793.85 299.89,795.36 299.94,796.87 299.98,798.38 300.03,799.90 300.08,801.42 300.12,802.94 300.17,804.47 300.21,805.99 300.26,807.52 300.31,809.06 300.35,810.59 300.40,812.13 300.44,813.66 300.49,815.20 300.53,816.74 300.58,818.29 300.62,819.83 300.67,821.37 300.71,822.92 300.76,824.46 300.80,826.01 300.85,827.55 300.89,829.10 300.94,830.64 300.98,832.19 301.02,833.73 301.07,835.28 301.11,836.82 301.16,838.36 301.20,839.90 301.24,841.44 301.29,842.98 301.33,844.51 301.37,846.05 301.41,847.58 301.46,849.11 301.50,850.63 301.54,852.15 301.58,853.68 301.63,855.20 301.67,856.74 301.71,858.28 301.75,859.82 301.80,861.37 301.84,862.92 301.88,864.47 301.92,866.03 301.96,867.59 302.01,869.15 302.05,870.70 302.09,872.26 302.13,873.82 302.17,875.38 302.22,876.93 302.26,878.48 302.30,880.03 302.34,881.58 302.38,883.12 302.42,884.66 302.46,886.19 302.50,887.72 302.54,889.24 302.58,890.75 302.62,892.26 302.66,893.76 302.70,895.25 302.74,896.73 302.77,898.20 302.81,899.66 302.85,901.11 302.89,902.55 302.92,903.98 302.96,905.40 302.99,906.80 303.03,908.19 303.07,909.57 303.10,910.93 303.14,912.57 303.18,914.20 303.22,915.84 303.25,917.46 303.29,919.08 303.32,920.69 303.35,922.29 303.39,923.88 303.42,925.46 303.45,927.03 303.48,928.59 303.51,930.14 303.54,931.67 303.57,933.19 303.61,934.70 303.64,936.19 303.67,937.67 303.71,939.13 303.74,940.57 303.78,942.00 303.82,943.41 303.86,944.80 303.90,946.17 303.95,947.52 304.00,948.85 304.05,950.16 304.10,951.45 304.18,953.17 304.26,954.86 304.35,956.54 304.44,958.20 304.55,959.83 304.66,961.43 304.77,963.00 304.90,964.55 305.03,966.05 305.17,967.52 305.32,968.94 305.48,970.32 305.64,971.66 305.82,972.95 306.00,974.18 306.32,976.01 306.70,977.79 307.15,979.50 307.66,981.11 308.22,982.60 308.84,983.92 309.50,985.06 310.66,986.50 312.11,987.83 313.75,988.88 315.50,989.50 316.95,989.77 318.56,990.01 320.27,990.21 322.03,990.36 323.79,990.46 325.50,990.49 327.17,990.48 328.83,990.44 330.50,990.39 332.17,990.32 333.83,990.26 335.50,990.20 337.33,990.14 339.35,990.09 341.37,990.04 343.20,989.98 344.64,989.90 345.50,989.80 345.77,989.69 346.00,989.50 346.94,988.17 347.90,986.00 348.23,984.89 348.55,983.57 348.84,982.08 349.12,980.48 349.39,978.82 349.66,977.16 349.93,975.53 350.20,974.00 350.51,972.41 350.83,970.85 351.16,969.30 351.47,967.76 351.75,966.20 352.00,964.62 352.20,963.00 352.36,961.48 352.51,959.98 352.65,958.49 352.78,956.97 352.90,955.39 352.99,953.72 353.06,951.94 353.10,950.00 353.11,948.89 353.13,947.73 353.14,946.52 353.15,945.27 353.16,943.98 353.17,942.65 353.18,941.28 353.19,939.87 353.20,938.43 353.20,936.95 353.21,935.45 353.22,933.90 353.22,932.34 353.23,930.74 353.23,929.12 353.24,927.47 353.24,925.80 353.25,924.11 353.26,922.39 353.26,920.67 353.27,918.92 353.27,917.16 353.28,915.39 353.29,913.60 353.29,911.80 353.30,910.00 353.31,908.78 353.31,907.53 353.32,906.25 353.32,904.95 353.33,903.62 353.33,902.27 353.33,900.89 353.34,899.50 353.34,898.08 353.35,896.64 353.35,895.19 353.36,893.71 353.36,892.22 353.37,890.72 353.37,889.19 353.38,887.66 353.38,886.11 353.39,884.55 353.39,882.97 353.40,881.39 353.40,879.79 353.40,878.19 353.41,876.58 353.41,874.96 353.42,873.34 353.42,871.71 353.43,870.08 353.43,868.45 353.44,866.81 353.44,865.17 353.45,863.54 353.45,861.90 353.46,860.26 353.46,858.63 353.47,857.00 353.47,855.38 353.48,853.76 353.48,852.15 353.49,850.54 353.49,848.95 353.50,847.36 353.50,845.78 353.51,844.22 353.52,842.66 353.52,841.12 353.53,839.60 353.53,838.09 353.54,836.59 353.55,835.11 353.55,833.65 353.56,832.21 353.56,830.78 353.57,829.38 353.58,828.00 353.59,826.64 353.59,825.31 353.60,824.00 353.61,822.30 353.62,820.62 353.63,818.96 353.64,817.32 353.65,815.69 353.67,814.08 353.68,812.48 353.69,810.90 353.71,809.34 353.72,807.78 353.74,806.24 353.75,804.72 353.76,803.20 353.78,801.69 353.80,800.19 353.81,798.70 353.83,797.22 353.84,795.75 353.86,794.28 353.88,792.82 353.89,791.36 353.91,789.91 353.93,788.46 353.94,787.02 353.96,785.57 353.98,784.13 354.00,782.69 354.01,781.24 354.03,779.80 354.05,778.35 354.07,776.91 354.08,775.46 354.10,774.00 354.12,772.40 354.14,770.77 354.15,769.12 354.17,767.46 354.19,765.79 354.21,764.11 354.22,762.42 354.24,760.73 354.26,759.03 354.28,757.35 354.29,755.66 354.31,753.99 354.33,752.33 354.35,750.68 354.37,749.06 354.39,747.45 354.41,745.87 354.43,744.32 354.45,742.79 354.47,741.31 354.50,739.86 354.52,738.44 354.55,737.08 354.58,735.76 354.61,734.49 354.64,733.27 354.67,732.10 354.70,731.00 354.77,729.15 354.85,727.36 354.94,725.63 355.05,723.99 355.17,722.45 355.29,721.01 355.42,719.70 355.56,718.53 355.70,717.50 356.05,715.32 356.50,714.20 357.01,714.78 357.50,716.00 357.68,716.80 357.84,717.82 357.98,719.04 358.12,720.42 358.24,721.96 358.36,723.62 358.47,725.38 358.58,727.21 358.69,729.09 358.80,731.00 358.86,732.02 358.92,733.10 358.97,734.23 359.03,735.40 359.09,736.62 359.14,737.88 359.20,739.18 359.25,740.52 359.31,741.90 359.36,743.31 359.41,744.76 359.47,746.24 359.52,747.74 359.57,749.27 359.62,750.83 359.67,752.41 359.72,754.01 359.77,755.62 359.82,757.26 359.87,758.90 359.92,760.56 359.97,762.23 360.02,763.91 360.07,765.59 360.12,767.27 360.17,768.96 360.22,770.64 360.26,772.33 360.31,774.00 360.36,775.68 360.41,777.34 360.46,778.99 360.51,780.63 360.55,782.25 360.60,783.85 360.65,785.44 360.70,787.00 360.75,788.48 360.79,789.95 360.84,791.44 360.88,792.92 360.93,794.41 360.98,795.91 361.02,797.40 361.07,798.90 361.11,800.41 361.16,801.91 361.20,803.42 361.25,804.93 361.29,806.44 361.34,807.95 361.38,809.47 361.43,810.99 361.47,812.51 361.51,814.03 361.56,815.55 361.60,817.07 361.65,818.59 361.69,820.12 361.73,821.64 361.78,823.17 361.82,824.69 361.86,826.22 361.91,827.74 361.95,829.27 361.99,830.79 362.04,832.32 362.08,833.84 362.12,835.36 362.16,836.89 362.21,838.41 362.25,839.92 362.29,841.44 362.33,842.96 362.37,844.47 362.42,845.98 362.46,847.49 362.50,849.00 362.54,850.53 362.58,852.08 362.63,853.62 362.67,855.18 362.71,856.73 362.75,858.30 362.80,859.86 362.84,861.43 362.88,863.00 362.92,864.58 362.96,866.15 363.01,867.73 363.05,869.30 363.09,870.88 363.13,872.46 363.17,874.03 363.22,875.61 363.26,877.18 363.30,878.74 363.34,880.31 363.38,881.87 363.42,883.42 363.46,884.97 363.50,886.52 363.54,888.06 363.58,889.59 363.62,891.11 363.66,892.63 363.70,894.14 363.74,895.64 363.77,897.12 363.81,898.60 363.85,900.07 363.89,901.53 363.92,902.97 363.96,904.41 363.99,905.83 364.03,907.23 364.07,908.62 364.10,910.00 364.14,911.66 364.18,913.32 364.22,914.97 364.25,916.61 364.29,918.25 364.32,919.87 364.35,921.49 364.39,923.10 364.42,924.70 364.45,926.29 364.48,927.87 364.51,929.43 364.54,930.99 364.57,932.53 364.61,934.05 364.64,935.56 364.67,937.06 364.71,938.53 364.74,940.00 364.78,941.44 364.82,942.87 364.86,944.27 364.90,945.66 364.95,947.03 365.00,948.37 365.05,949.70 365.10,951.00 365.18,952.73 365.26,954.45 365.35,956.15 365.44,957.83 365.55,959.48 365.66,961.10 365.77,962.69 365.90,964.25 366.03,965.77 366.17,967.25 366.32,968.70 366.48,970.10 366.64,971.45 366.82,972.75 367.00,974.00 367.32,975.84 367.70,977.65 368.15,979.38 368.66,981.01 369.22,982.51 369.83,983.85 370.50,985.00 371.40,986.18 372.50,987.29 373.75,988.27 375.10,989.03 376.50,989.50 377.95,989.77 379.56,990.01 381.27,990.21 383.03,990.37 384.79,990.47 386.50,990.50 388.17,990.49 389.83,990.45 391.50,990.39 393.17,990.33 394.83,990.26 396.50,990.20 398.23,990.14 400.04,990.08 401.85,990.01 403.58,989.94 405.16,989.87 406.50,989.80 408.43,989.69 409.90,989.51 410.97,988.29 411.80,986.11 412.18,984.86 412.53,983.35 412.86,981.65 413.18,979.84 413.49,977.99 413.79,976.17 414.10,974.46 414.41,972.92 414.73,971.40 415.06,969.90 415.37,968.40 415.65,966.89 415.90,965.35 416.10,963.78 416.26,962.30 416.41,960.85 416.55,959.40 416.68,957.92 416.80,956.39 416.89,954.77 416.96,953.04 417.00,951.16 417.01,950.03 417.03,948.86 417.04,947.64 417.05,946.37 417.06,945.06 417.07,943.70 417.08,942.31 417.09,940.88 417.10,939.41 417.11,937.91 417.11,936.37 417.12,934.80 417.13,933.20 417.13,931.57 417.14,929.92 417.14,928.24 417.15,926.54 417.15,924.82 417.16,923.08 417.17,921.32 417.17,919.54 417.18,917.75 417.18,915.95 417.19,914.14 417.20,912.32 417.21,911.09 417.21,909.83 417.22,908.54 417.22,907.22 417.23,905.88 417.23,904.52 417.24,903.13 417.24,901.72 417.25,900.29 417.25,898.84 417.26,897.36 417.26,895.87 417.27,894.37 417.27,892.84 417.27,891.30 417.28,889.75 417.28,888.18 417.29,886.60 417.29,885.01 417.30,883.41 417.30,881.80 417.31,880.18 417.31,878.56 417.32,876.92 417.32,875.29 417.33,873.64 417.33,872.00 417.34,870.35 417.34,868.71 417.35,867.06 417.35,865.41 417.36,863.77 417.36,862.12 417.37,860.49 417.37,858.85 417.38,857.23 417.38,855.61 417.39,853.99 417.40,852.39 417.40,850.80 417.41,849.22 417.41,847.65 417.42,846.09 417.42,844.55 417.43,843.02 417.44,841.51 417.44,840.02 417.45,838.54 417.46,837.09 417.46,835.65 417.47,834.24 417.48,832.84 417.49,831.48 417.49,830.13 417.50,828.81 417.51,827.11 417.52,825.43 417.53,823.77 417.54,822.12 417.56,820.50 417.57,818.89 417.58,817.29 417.60,815.72 417.61,814.15 417.63,812.60 417.64,811.06 417.66,809.53 417.67,808.02 417.69,806.51 417.70,805.02 417.72,803.53 417.74,802.05 417.75,800.58 417.77,799.11 417.79,797.65 417.80,796.20 417.82,794.74 417.84,793.30 417.86,791.85 417.88,790.40 417.89,788.96 417.91,787.52 417.93,786.07 417.95,784.62 417.96,783.17 417.98,781.72 418.00,780.26 418.02,778.65 418.04,777.01 418.06,775.35 418.07,773.68 418.09,771.99 418.11,770.29 418.13,768.59 418.15,766.89 418.16,765.19 418.18,763.49 418.20,761.80 418.22,760.12 418.24,758.45 418.26,756.80 418.28,755.17 418.30,753.57 418.32,752.00 418.34,750.45 418.37,748.94 418.39,747.47 418.42,746.04 418.44,744.66 418.47,743.32 418.50,742.03 418.53,740.80 418.57,739.63 418.60,738.51 418.68,736.49 418.77,734.55 418.88,732.69 419.01,730.95 419.15,729.33 419.29,727.85 419.44,726.54 419.60,725.40 419.95,723.28 420.40,722.20 420.91,722.77 421.40,723.95 421.59,724.82 421.77,725.96 421.93,727.33 422.07,728.89 422.21,730.61 422.33,732.47 422.45,734.43 422.58,736.45 422.70,738.51 422.76,739.54 422.82,740.61 422.88,741.74 422.94,742.91 423.00,744.13 423.05,745.40 423.11,746.70 423.17,748.05 423.22,749.44 423.28,750.85 423.33,752.31 423.38,753.79 423.44,755.30 423.49,756.84 423.54,758.40 423.60,759.99 423.65,761.59 423.70,763.21 423.75,764.85 423.80,766.50 423.85,768.16 423.90,769.83 423.95,771.50 424.00,773.19 424.05,774.87 424.10,776.55 424.15,778.23 424.20,779.91 424.25,781.58 424.30,783.24 424.35,784.89 424.40,786.52 424.45,788.14 424.50,789.74 424.55,791.33 424.60,792.89 424.65,794.36 424.69,795.83 424.74,797.30 424.79,798.78 424.84,800.27 424.88,801.75 424.93,803.24 424.98,804.74 425.02,806.23 425.07,807.73 425.11,809.23 425.16,810.73 425.21,812.24 425.25,813.75 425.30,815.26 425.34,816.77 425.39,818.28 425.43,819.79 425.48,821.31 425.52,822.82 425.57,824.34 425.61,825.86 425.66,827.38 425.70,828.89 425.75,830.41 425.79,831.93 425.84,833.45 425.88,834.97 425.92,836.48 425.97,838.00 426.01,839.51 426.06,841.03 426.10,842.54 426.14,844.05 426.19,845.56 426.23,847.07 426.27,848.58 426.31,850.08 426.36,851.59 426.40,853.09 426.44,854.62 426.49,856.15 426.53,857.69 426.57,859.24 426.62,860.79 426.66,862.35 426.70,863.91 426.75,865.47 426.79,867.04 426.83,868.60 426.88,870.17 426.92,871.74 426.96,873.31 427.01,874.88 427.05,876.45 427.09,878.02 427.13,879.59 427.18,881.15 427.22,882.71 427.26,884.26 427.30,885.82 427.34,887.36 427.38,888.90 427.42,890.44 427.47,891.96 427.51,893.49 427.55,895.00 427.59,896.50 427.63,898.00 427.66,899.48 427.70,900.96 427.74,902.42 427.78,903.87 427.82,905.31 427.86,906.74 427.89,908.16 427.93,909.56 427.96,910.94 428.00,912.32 428.04,913.99 428.08,915.66 428.12,917.32 428.16,918.98 428.19,920.63 428.23,922.27 428.26,923.90 428.30,925.52 428.33,927.13 428.36,928.73 428.39,930.31 428.43,931.88 428.46,933.44 428.49,934.99 428.52,936.52 428.56,938.03 428.60,939.53 428.63,941.01 428.67,942.47 428.71,943.91 428.75,945.33 428.80,946.74 428.84,948.12 428.89,949.48 428.95,950.81 429.00,952.13 429.08,953.93 429.17,955.72 429.27,957.48 429.37,959.22 429.49,960.92 429.61,962.60 429.74,964.24 429.87,965.84 430.02,967.40 430.18,968.92 430.34,970.38 430.52,971.80 430.70,973.16 430.90,974.46 431.22,976.25 431.60,978.00 432.05,979.68 432.56,981.27 433.12,982.73 433.74,984.03 434.40,985.14 435.56,986.56 437.01,987.86 438.66,988.89 440.40,989.51 441.86,989.77 443.46,990.01 445.17,990.20 446.93,990.35 448.69,990.45 450.40,990.48 452.07,990.47 453.73,990.43 455.40,990.38 457.07,990.31 458.73,990.25 460.40,990.19 462.14,990.13 463.96,990.07 465.78,990.01 467.52,989.94 469.09,989.87 470.40,989.80 472.16,989.69 473.50,989.51 474.56,988.29 475.40,986.12 475.78,984.87 476.13,983.36 476.46,981.66 476.78,979.85 477.09,978.00 477.39,976.19 477.70,974.48 478.01,972.94 478.33,971.43 478.66,969.93 478.97,968.43 479.25,966.92 479.50,965.39 479.70,963.82 479.86,962.34 480.01,960.89 480.15,959.44 480.28,957.97 480.40,956.44 480.49,954.82 480.56,953.09 480.60,951.21 480.61,950.09 480.63,948.92 480.64,947.70 480.65,946.43 480.66,945.12 480.67,943.77 480.68,942.38 480.69,940.95 480.70,939.49 480.71,937.98 480.71,936.45 480.72,934.88 480.73,933.29 480.73,931.66 480.74,930.01 480.74,928.33 480.75,926.64 480.75,924.92 480.76,923.18 480.77,921.42 480.77,919.65 480.78,917.86 480.78,916.06 480.79,914.25 480.80,912.43 480.81,911.20 480.81,909.94 480.82,908.66 480.82,907.35 480.83,906.01 480.83,904.65 480.84,903.26 480.84,901.85 480.85,900.42 480.85,898.97 480.86,897.50 480.86,896.01 480.87,894.51 480.87,892.99 480.87,891.45 480.88,889.90 480.88,888.33 480.89,886.76 480.89,885.17 480.90,883.57 480.90,881.96 480.91,880.34 480.91,878.72 480.92,877.09 480.92,875.46 480.93,873.82 480.93,872.18 480.94,870.53 480.94,868.89 480.95,867.24 480.95,865.60 480.96,863.95 480.96,862.31 480.97,860.68 480.97,859.05 480.98,857.42 480.98,855.81 480.99,854.20 481.00,852.60 481.00,851.01 481.01,849.43 481.01,847.86 481.02,846.31 481.02,844.77 481.03,843.24 481.04,841.73 481.04,840.24 481.05,838.77 481.06,837.31 481.06,835.88 481.07,834.47 481.08,833.08 481.09,831.71 481.09,830.37 481.10,829.05 481.11,827.35 481.12,825.68 481.13,824.02 481.14,822.38 481.16,820.75 481.17,819.14 481.18,817.55 481.20,815.98 481.21,814.41 481.23,812.86 481.24,811.33 481.26,809.80 481.27,808.29 481.29,806.79 481.30,805.29 481.32,803.81 481.34,802.33 481.35,800.86 481.37,799.40 481.39,797.94 481.40,796.49 481.42,795.04 481.44,793.59 481.46,792.15 481.48,790.70 481.49,789.26 481.51,787.82 481.53,786.38 481.55,784.93 481.56,783.48 481.58,782.03 481.60,780.58 481.62,778.96 481.64,777.33 481.66,775.67 481.67,774.00 481.69,772.32 481.71,770.62 481.73,768.92 481.75,767.22 481.76,765.52 481.78,763.83 481.80,762.14 481.82,760.46 481.84,758.80 481.86,757.15 481.88,755.53 481.90,753.93 481.92,752.35 481.94,750.81 481.97,749.30 481.99,747.83 482.02,746.41 482.04,745.02 482.07,743.69 482.10,742.40 482.13,741.17 482.17,740.00 482.20,738.89 482.28,736.87 482.37,734.93 482.48,733.08 482.61,731.33 482.75,729.71 482.89,728.24 483.04,726.93 483.20,725.80 483.55,723.68 484.00,722.60 484.51,723.17 485.00,724.35 485.19,725.22 485.37,726.35 485.53,727.72 485.67,729.28 485.81,731.00 485.93,732.86 486.05,734.81 486.18,736.83 486.30,738.89 486.36,739.91 486.42,740.98 486.48,742.11 486.54,743.28 486.60,744.50 486.65,745.76 486.71,747.07 486.77,748.41 486.82,749.79 486.88,751.21 486.93,752.66 486.98,754.14 487.04,755.65 487.09,757.19 487.14,758.75 487.20,760.33 487.25,761.93 487.30,763.55 487.35,765.18 487.40,766.83 487.45,768.49 487.50,770.16 487.55,771.83 487.60,773.51 487.65,775.19 487.70,776.87 487.75,778.55 487.80,780.22 487.85,781.89 487.90,783.55 487.95,785.19 488.00,786.83 488.05,788.44 488.10,790.04 488.15,791.62 488.20,793.18 488.25,794.65 488.29,796.12 488.34,797.59 488.39,799.07 488.44,800.55 488.48,802.03 488.53,803.52 488.58,805.01 488.62,806.51 488.67,808.00 488.71,809.50 488.76,811.00 488.81,812.51 488.85,814.01 488.90,815.52 488.94,817.03 488.99,818.54 489.03,820.05 489.08,821.56 489.12,823.07 489.17,824.59 489.21,826.10 489.26,827.62 489.30,829.13 489.35,830.65 489.39,832.17 489.44,833.68 489.48,835.20 489.52,836.71 489.57,838.23 489.61,839.74 489.66,841.25 489.70,842.76 489.74,844.27 489.79,845.78 489.83,847.29 489.87,848.79 489.91,850.29 489.96,851.79 490.00,853.29 490.04,854.82 490.09,856.35 490.13,857.89 490.17,859.43 490.22,860.98 490.26,862.54 490.30,864.09 490.35,865.66 490.39,867.22 490.43,868.78 490.48,870.35 490.52,871.92 490.56,873.49 490.61,875.05 490.65,876.62 490.69,878.19 490.73,879.75 490.78,881.31 490.82,882.87 490.86,884.42 490.90,885.97 490.94,887.51 490.98,889.05 491.02,890.59 491.07,892.11 491.11,893.63 491.15,895.14 491.19,896.64 491.23,898.13 491.26,899.62 491.30,901.09 491.34,902.55 491.38,904.00 491.42,905.44 491.46,906.87 491.49,908.28 491.53,909.68 491.56,911.06 491.60,912.43 491.64,914.10 491.68,915.77 491.72,917.43 491.76,919.08 491.79,920.73 491.83,922.37 491.86,924.00 491.90,925.61 491.93,927.22 491.96,928.82 491.99,930.40 492.03,931.97 492.06,933.53 492.09,935.07 492.12,936.60 492.16,938.11 492.20,939.60 492.23,941.08 492.27,942.54 492.31,943.98 492.35,945.40 492.40,946.80 492.44,948.18 492.49,949.54 492.55,950.87 492.60,952.18 492.68,953.98 492.77,955.77 492.87,957.53 492.97,959.26 493.09,960.97 493.21,962.64 493.34,964.28 493.47,965.88 493.62,967.43 493.78,968.95 493.94,970.41 494.12,971.82 494.30,973.18 494.50,974.48 494.82,976.27 495.20,978.02 495.65,979.70 496.16,981.28 496.72,982.74 497.34,984.03 498.00,985.15 499.16,986.57 500.61,987.87 502.26,988.90 504.00,989.51 505.46,989.77 507.06,990.01 508.77,990.20 510.53,990.35 512.29,990.45 514.00,990.48 515.67,990.46 517.33,990.43 519.00,990.37 520.67,990.31 522.33,990.25 524.00,990.19 525.75,990.13 527.61,990.07 529.47,990.01 531.23,989.95 532.77,989.88 534.00,989.80 535.30,989.69 536.30,989.51 537.35,988.28 538.20,986.12 538.58,984.87 538.93,983.36 539.26,981.66 539.58,979.85 539.89,978.00 540.19,976.19 540.50,974.48 540.81,972.94 541.13,971.43 541.46,969.93 541.77,968.43 542.05,966.92 542.30,965.39 542.50,963.82 542.66,962.34 542.81,960.89 542.95,959.44 543.08,957.97 543.20,956.44 543.29,954.82 543.36,953.09 543.40,951.21 543.41,950.09 543.43,948.92 543.44,947.70 543.45,946.43 543.46,945.12 543.47,943.77 543.48,942.38 543.49,940.95 543.50,939.49 543.51,937.98 543.51,936.45 543.52,934.88 543.53,933.29 543.53,931.66 543.54,930.01 543.54,928.33 543.55,926.64 543.55,924.92 543.56,923.18 543.57,921.42 543.57,919.65 543.58,917.86 543.58,916.06 543.59,914.25 543.60,912.43 543.61,911.20 543.61,909.94 543.62,908.66 543.62,907.35 543.63,906.01 543.63,904.65 543.64,903.26 543.64,901.85 543.65,900.42 543.65,898.97 543.66,897.50 543.66,896.01 543.67,894.51 543.67,892.99 543.67,891.45 543.68,889.90 543.68,888.33 543.69,886.76 543.69,885.17 543.70,883.57 543.70,881.96 543.71,880.34 543.71,878.72 543.72,877.09 543.72,875.46 543.73,873.82 543.73,872.18 543.74,870.53 543.74,868.89 543.75,867.24 543.75,865.60 543.76,863.95 543.76,862.31 543.77,860.68 543.77,859.05 543.78,857.42 543.78,855.81 543.79,854.20 543.80,852.60 543.80,851.01 543.81,849.43 543.81,847.86 543.82,846.31 543.82,844.77 543.83,843.24 543.84,841.73 543.84,840.24 543.85,838.77 543.86,837.31 543.86,835.88 543.87,834.47 543.88,833.08 543.89,831.71 543.89,830.37 543.90,829.05 543.91,827.35 543.92,825.68 543.93,824.02 543.94,822.38 543.96,820.75 543.97,819.14 543.98,817.55 544.00,815.98 544.01,814.41 544.03,812.86 544.04,811.33 544.06,809.80 544.07,808.29 544.09,806.79 544.10,805.29 544.12,803.81 544.14,802.33 544.15,800.86 544.17,799.40 544.19,797.94 544.20,796.49 544.22,795.04 544.24,793.59 544.26,792.15 544.28,790.70 544.29,789.26 544.31,787.82 544.33,786.38 544.35,784.93 544.36,783.48 544.38,782.03 544.40,780.58 544.42,778.96 544.44,777.33 544.46,775.67 544.47,774.00 544.49,772.32 544.51,770.62 544.53,768.92 544.55,767.22 544.56,765.52 544.58,763.83 544.60,762.14 544.62,760.46 544.64,758.80 544.66,757.15 544.68,755.53 544.70,753.93 544.72,752.35 544.74,750.81 544.77,749.30 544.79,747.83 544.82,746.41 544.84,745.02 544.87,743.69 544.90,742.40 544.93,741.17 544.97,740.00 545.00,738.89 545.08,736.87 545.17,734.93 545.28,733.08 545.41,731.33 545.55,729.71 545.69,728.24 545.84,726.93 546.00,725.80 546.35,723.68 546.80,722.60 547.31,723.17 547.80,724.35 547.99,725.22 548.17,726.35 548.33,727.72 548.47,729.28 548.61,731.00 548.73,732.86 548.85,734.81 548.98,736.83 549.10,738.89 549.16,739.91 549.22,740.98 549.28,742.11 549.34,743.28 549.40,744.50 549.45,745.76 549.51,747.07 549.57,748.41 549.62,749.79 549.68,751.21 549.73,752.66 549.78,754.14 549.84,755.65 549.89,757.19 549.94,758.75 550.00,760.33 550.05,761.93 550.10,763.55 550.15,765.18 550.20,766.83 550.25,768.49 550.30,770.16 550.35,771.83 550.40,773.51 550.45,775.19 550.50,776.87 550.55,778.55 550.60,780.22 550.65,781.89 550.70,783.55 550.75,785.19 550.80,786.83 550.85,788.44 550.90,790.04 550.95,791.62 551.00,793.18 551.05,794.65 551.09,796.12 551.14,797.59 551.19,799.07 551.24,800.55 551.28,802.03 551.33,803.52 551.38,805.01 551.42,806.51 551.47,808.00 551.51,809.50 551.56,811.00 551.61,812.51 551.65,814.01 551.70,815.52 551.74,817.03 551.79,818.54 551.83,820.05 551.88,821.56 551.92,823.07 551.97,824.59 552.01,826.10 552.06,827.62 552.10,829.13 552.15,830.65 552.19,832.17 552.24,833.68 552.28,835.20 552.32,836.71 552.37,838.23 552.41,839.74 552.46,841.25 552.50,842.76 552.54,844.27 552.59,845.78 552.63,847.29 552.67,848.79 552.71,850.29 552.76,851.79 552.80,853.29 552.84,854.82 552.89,856.35 552.93,857.89 552.97,859.43 553.02,860.98 553.06,862.54 553.10,864.09 553.15,865.66 553.19,867.22 553.23,868.78 553.28,870.35 553.32,871.92 553.36,873.49 553.41,875.05 553.45,876.62 553.49,878.19 553.53,879.75 553.58,881.31 553.62,882.87 553.66,884.42 553.70,885.97 553.74,887.51 553.78,889.05 553.82,890.59 553.87,892.11 553.91,893.63 553.95,895.14 553.99,896.64 554.03,898.13 554.06,899.62 554.10,901.09 554.14,902.55 554.18,904.00 554.22,905.44 554.26,906.87 554.29,908.28 554.33,909.68 554.36,911.06 554.40,912.43 554.44,914.10 554.48,915.77 554.52,917.43 554.56,919.08 554.59,920.73 554.63,922.37 554.66,924.00 554.70,925.61 554.73,927.22 554.76,928.82 554.79,930.40 554.83,931.97 554.86,933.53 554.89,935.07 554.92,936.60 554.96,938.11 555.00,939.60 555.03,941.08 555.07,942.54 555.11,943.98 555.15,945.40 555.20,946.80 555.24,948.18 555.29,949.54 555.35,950.87 555.40,952.18 555.48,953.98 555.57,955.77 555.67,957.53 555.77,959.26 555.89,960.97 556.01,962.64 556.14,964.28 556.27,965.88 556.42,967.43 556.58,968.95 556.74,970.41 556.92,971.82 557.10,973.18 557.30,974.48 557.62,976.27 558.00,978.02 558.45,979.70 558.96,981.28 559.52,982.74 560.14,984.03 560.80,985.15 561.96,986.57 563.41,987.87 565.06,988.90 566.80,989.51 568.26,989.77 569.86,990.01 571.57,990.20 573.33,990.35 575.09,990.45 576.80,990.48 578.47,990.46 580.13,990.43 581.80,990.37 583.47,990.31 585.13,990.25 586.80,990.19 588.54,990.12 590.35,990.04 592.17,989.95 593.91,989.88 595.48,989.82 596.80,989.80 598.61,989.92 600.00,990.20" stroke="#bd0a0c" stroke-width="3.3" fill="none" stroke-linejoin="round" stroke-linecap="round" clip-path="url(#clipC)"/>
<text x="491.40" y="714.80" font-size="25" text-anchor="start" >B/Cdk1</text>
<text x="194.10" y="911.10" font-size="25" text-anchor="start" >A/Cdk2</text>
<path d="M232.30 638.10V673.50" stroke="#000" stroke-width="1.9" fill="none"/><path d="M226.30 671.50H238.30L232.30 687.50Z" fill="#000"/>
<text x="243.80" y="666.90" font-size="25" text-anchor="start" >Increase in Skp2</text>
<path d="M840.00,963.90 842.54,963.90 845.07,963.90 847.58,963.90 850.07,963.90 852.55,963.90 855.02,963.90 857.47,963.90 859.90,963.90 862.32,963.90 864.72,963.90 867.11,963.90 869.47,963.90 871.82,963.90 874.15,963.90 876.47,963.90 878.76,963.90 881.03,963.90 883.29,963.90 885.53,963.90 887.74,963.90 889.94,963.90 892.11,963.90 894.26,963.90 896.40,963.90 898.51,963.90 900.60,963.90 902.66,963.90 904.71,963.90 906.73,963.90 908.73,963.90 910.70,963.90 912.65,963.90 914.58,963.90 916.48,963.90 918.35,963.90 920.20,963.90 922.03,963.90 923.83,963.90 925.60,963.90 927.35,963.90 929.07,963.90 930.76,963.90 932.43,963.90 934.07,963.90 935.67,963.90 937.26,963.90 938.81,963.90 940.33,963.90 941.82,963.90 943.29,963.90 944.72,963.90 946.12,963.90 947.49,963.90 948.83,963.90 950.14,963.90 951.42,963.90 952.67,963.90 953.88,963.90 955.06,963.90 956.21,963.90 957.32,963.90 958.40,963.90 959.45,963.90 960.46,963.90 961.43,963.90 962.38,963.90 963.28,963.90 964.15,963.90 964.99,963.90 965.78,963.90 966.55,963.90 967.27,963.90 967.96,963.90 968.61,963.90 969.22,963.90 969.79,963.90 970.32,963.90 970.82,963.90 971.28,963.90 971.69,963.90 972.07,963.90 972.40,963.90 972.70,963.90 972.95,963.90 973.17,963.90 973.34,963.90 973.47,963.90 973.56,963.90 973.60,963.90 973.66,963.71 973.71,963.15 973.76,962.27 973.80,961.11 973.84,959.69 973.88,958.06 973.91,956.26 973.94,954.32 973.97,952.27 974.00,950.17 974.02,948.04 974.05,945.92 974.06,943.85 974.08,941.86 974.10,940.00 974.11,938.64 974.12,937.22 974.13,935.76 974.14,934.26 974.15,932.71 974.15,931.13 974.16,929.53 974.17,927.90 974.17,926.25 974.18,924.59 974.18,922.92 974.19,921.24 974.19,919.57 974.20,917.90 974.20,916.23 974.21,914.59 974.21,912.96 974.22,911.36 974.23,909.79 974.23,908.25 974.24,906.75 974.25,905.29 974.26,903.88 974.27,902.53 974.29,901.23 974.30,900.00 974.33,898.15 974.38,896.32 974.44,894.53 974.51,892.79 974.60,891.11 974.71,889.49 974.82,887.95 974.95,886.51 975.09,885.16 975.24,883.92 975.40,882.80 975.96,880.43 976.81,878.37 977.80,877.50 978.91,877.96 980.21,879.09 981.30,880.50 981.71,881.32 982.10,882.36 982.46,883.60 982.81,885.00 983.15,886.54 983.46,888.20 983.77,889.94 984.06,891.74 984.34,893.56 984.62,895.39 984.88,897.19 985.14,898.94 985.40,900.60 985.64,902.12 985.86,903.65 986.09,905.20 986.30,906.77 986.51,908.34 986.72,909.93 986.92,911.52 987.11,913.12 987.30,914.72 987.49,916.32 987.68,917.93 987.86,919.53 988.04,921.12 988.22,922.72 988.40,924.30 988.58,925.88 988.75,927.46 988.91,929.05 989.08,930.64 989.24,932.24 989.39,933.83 989.55,935.43 989.70,937.02 989.86,938.60 990.01,940.18 990.17,941.75 990.32,943.30 990.48,944.85 990.64,946.38 990.80,947.90 990.97,949.52 991.13,951.15 991.29,952.79 991.44,954.43 991.60,956.07 991.76,957.69 991.92,959.28 992.09,960.85 992.26,962.39 992.45,963.87 992.65,965.31 992.87,966.69 993.10,968.00 993.46,969.80 993.88,971.63 994.34,973.41 994.86,975.07 995.42,976.55 996.04,977.79 996.70,978.70 998.04,979.84 999.68,980.74 1001.40,981.10 1002.89,980.88 1004.49,980.32 1006.02,979.55 1007.30,978.70 1008.40,977.64 1009.40,976.26 1010.25,974.62 1010.90,972.80 1011.19,971.69 1011.46,970.48 1011.73,969.17 1011.97,967.76 1012.20,966.26 1012.41,964.68 1012.61,963.03 1012.79,961.30 1012.94,959.51 1013.08,957.66 1013.20,955.75 1013.30,953.80 1013.35,952.71 1013.39,951.57 1013.43,950.38 1013.47,949.15 1013.51,947.88 1013.55,946.57 1013.58,945.22 1013.62,943.83 1013.65,942.41 1013.68,940.96 1013.71,939.48 1013.74,937.98 1013.77,936.45 1013.80,934.89 1013.82,933.32 1013.85,931.72 1013.87,930.11 1013.89,928.48 1013.92,926.85 1013.94,925.20 1013.96,923.54 1013.98,921.88 1014.01,920.21 1014.03,918.54 1014.05,916.87 1014.07,915.20 1014.09,913.54 1014.12,911.89 1014.14,910.24 1014.16,908.60 1014.18,906.98 1014.21,905.37 1014.23,903.78 1014.26,902.20 1014.29,900.65 1014.31,899.12 1014.34,897.62 1014.37,896.15 1014.40,894.70 1014.43,893.08 1014.47,891.46 1014.50,889.83 1014.53,888.20 1014.57,886.56 1014.60,884.92 1014.63,883.28 1014.66,881.65 1014.69,880.01 1014.72,878.38 1014.76,876.75 1014.79,875.13 1014.82,873.51 1014.85,871.91 1014.89,870.31 1014.92,868.73 1014.96,867.16 1014.99,865.60 1015.03,864.06 1015.07,862.54 1015.11,861.04 1015.15,859.55 1015.19,858.09 1015.24,856.65 1015.28,855.23 1015.33,853.84 1015.38,852.47 1015.43,851.13 1015.49,849.82 1015.54,848.55 1015.60,847.30 1015.69,845.53 1015.79,843.72 1015.89,841.89 1016.01,840.07 1016.14,838.26 1016.27,836.49 1016.42,834.77 1016.58,833.12 1016.74,831.55 1016.92,830.09 1017.11,828.74 1017.32,827.53 1017.53,826.48 1017.76,825.60 1018.00,824.90 1019.09,823.27 1020.40,822.50 1021.04,822.87 1021.71,823.87 1022.36,825.32 1022.97,827.08 1023.49,828.96 1023.90,830.80 1024.08,831.84 1024.26,832.97 1024.42,834.18 1024.57,835.47 1024.71,836.83 1024.85,838.25 1024.98,839.73 1025.10,841.25 1025.22,842.82 1025.33,844.42 1025.44,846.04 1025.55,847.69 1025.65,849.35 1025.76,851.02 1025.86,852.68 1025.97,854.34 1026.07,855.98 1026.19,857.61 1026.30,859.20 1026.41,860.66 1026.51,862.14 1026.62,863.63 1026.72,865.13 1026.82,866.65 1026.92,868.17 1027.02,869.71 1027.12,871.25 1027.22,872.80 1027.32,874.35 1027.42,875.91 1027.52,877.48 1027.61,879.05 1027.71,880.62 1027.81,882.19 1027.90,883.77 1028.00,885.34 1028.10,886.91 1028.20,888.48 1028.30,890.04 1028.40,891.60 1028.50,893.15 1028.60,894.70 1028.70,896.24 1028.81,897.79 1028.91,899.33 1029.01,900.87 1029.11,902.42 1029.22,903.96 1029.32,905.50 1029.43,907.05 1029.53,908.59 1029.64,910.14 1029.74,911.68 1029.85,913.22 1029.95,914.77 1030.06,916.31 1030.16,917.85 1030.27,919.40 1030.37,920.94 1030.48,922.48 1030.58,924.03 1030.69,925.57 1030.79,927.11 1030.90,928.66 1031.00,930.20 1031.10,931.76 1031.21,933.33 1031.31,934.93 1031.42,936.53 1031.52,938.15 1031.63,939.78 1031.73,941.42 1031.83,943.05 1031.94,944.69 1032.04,946.32 1032.15,947.94 1032.25,949.56 1032.36,951.16 1032.46,952.74 1032.56,954.30 1032.67,955.84 1032.77,957.35 1032.88,958.84 1032.98,960.29 1033.09,961.70 1033.19,963.08 1033.30,964.41 1033.40,965.70 1033.54,967.59 1033.67,969.51 1033.79,971.42 1033.91,973.31 1034.03,975.14 1034.15,976.88 1034.29,978.52 1034.45,980.02 1034.63,981.35 1034.85,982.48 1035.10,983.40 1035.86,984.64 1037.09,985.73 1038.56,986.55 1040.00,987.00 1041.43,987.20 1042.97,987.36 1044.52,987.46 1046.00,987.50 1047.51,987.15 1049.02,986.27 1050.39,985.13 1051.50,984.00 1052.52,982.75 1053.36,981.32 1054.00,979.50 1054.18,978.72 1054.35,977.83 1054.52,976.84 1054.68,975.75 1054.83,974.57 1054.98,973.30 1055.12,971.95 1055.25,970.53 1055.38,969.05 1055.51,967.50 1055.63,965.90 1055.75,964.25 1055.86,962.56 1055.97,960.83 1056.07,959.07 1056.17,957.30 1056.26,955.50 1056.36,953.70 1056.45,951.89 1056.53,950.08 1056.62,948.28 1056.70,946.50 1056.75,945.27 1056.81,944.00 1056.86,942.70 1056.91,941.36 1056.96,939.99 1057.00,938.59 1057.05,937.16 1057.09,935.69 1057.14,934.21 1057.18,932.70 1057.22,931.16 1057.26,929.60 1057.30,928.03 1057.34,926.43 1057.38,924.82 1057.42,923.20 1057.45,921.56 1057.49,919.91 1057.53,918.25 1057.56,916.58 1057.60,914.90 1057.63,913.22 1057.67,911.54 1057.70,909.85 1057.73,908.17 1057.77,906.48 1057.80,904.80 1057.83,903.13 1057.87,901.46 1057.90,899.80 1057.94,898.15 1057.97,896.51 1058.00,894.88 1058.04,893.27 1058.07,891.68 1058.11,890.10 1058.15,888.54 1058.18,887.01 1058.22,885.50 1058.26,884.01 1058.30,882.55 1058.34,881.12 1058.38,879.71 1058.42,878.34 1058.46,877.00 1058.51,875.70 1058.55,874.43 1058.60,873.20 1058.67,871.43 1058.73,869.66 1058.80,867.89 1058.86,866.13 1058.92,864.39 1058.98,862.66 1059.04,860.95 1059.11,859.27 1059.17,857.61 1059.24,855.99 1059.31,854.39 1059.38,852.84 1059.46,851.33 1059.54,849.86 1059.62,848.45 1059.71,847.08 1059.81,845.77 1059.91,844.52 1060.02,843.34 1060.14,842.22 1060.27,841.17 1060.40,840.20 1060.85,837.98 1061.53,835.77 1062.33,833.86 1063.18,832.51 1064.00,832.00 1064.65,832.33 1065.35,833.23 1066.07,834.59 1066.78,836.28 1067.46,838.18 1068.08,840.16 1068.60,842.10 1068.83,843.07 1069.05,844.12 1069.26,845.24 1069.47,846.42 1069.67,847.67 1069.87,848.97 1070.06,850.33 1070.24,851.74 1070.42,853.20 1070.60,854.69 1070.77,856.23 1070.94,857.79 1071.10,859.39 1071.26,861.01 1071.42,862.65 1071.58,864.31 1071.73,865.98 1071.88,867.65 1072.03,869.33 1072.18,871.01 1072.33,872.69 1072.47,874.35 1072.62,876.01 1072.76,877.64 1072.91,879.26 1073.05,880.84 1073.20,882.40 1073.34,883.88 1073.48,885.37 1073.62,886.87 1073.75,888.38 1073.89,889.89 1074.02,891.41 1074.15,892.94 1074.29,894.47 1074.42,896.01 1074.54,897.55 1074.67,899.10 1074.80,900.64 1074.93,902.19 1075.05,903.74 1075.17,905.29 1075.30,906.85 1075.42,908.40 1075.54,909.95 1075.66,911.49 1075.77,913.04 1075.89,914.58 1076.01,916.12 1076.12,917.65 1076.24,919.18 1076.35,920.70 1076.46,922.22 1076.57,923.73 1076.68,925.23 1076.79,926.72 1076.90,928.20 1077.01,929.81 1077.12,931.44 1077.23,933.09 1077.33,934.76 1077.43,936.43 1077.52,938.12 1077.61,939.81 1077.70,941.50 1077.79,943.19 1077.88,944.88 1077.97,946.55 1078.06,948.22 1078.15,949.87 1078.24,951.50 1078.33,953.11 1078.42,954.70 1078.52,956.26 1078.62,957.79 1078.72,959.28 1078.83,960.74 1078.95,962.15 1079.06,963.53 1079.19,964.85 1079.32,966.12 1079.46,967.34 1079.60,968.50 1079.84,970.30 1080.11,972.08 1080.40,973.83 1080.71,975.53 1081.05,977.13 1081.43,978.63 1081.84,980.01 1082.28,981.22 1082.77,982.26 1083.30,983.10 1084.35,984.17 1085.75,985.18 1087.37,986.01 1089.04,986.59 1090.60,986.80 1092.15,986.58 1093.80,986.00 1095.39,985.15 1096.81,984.15 1097.90,983.10 1098.63,982.09 1099.31,980.86 1099.92,979.43 1100.47,977.82 1100.94,976.06 1101.32,974.18 1101.60,972.20 1101.70,971.21 1101.80,970.15 1101.89,969.03 1101.98,967.84 1102.06,966.60 1102.14,965.30 1102.21,963.95 1102.28,962.55 1102.35,961.11 1102.41,959.63 1102.47,958.11 1102.53,956.55 1102.59,954.97 1102.64,953.36 1102.69,951.72 1102.74,950.06 1102.79,948.39 1102.84,946.70 1102.89,945.00 1102.93,943.29 1102.98,941.59 1103.03,939.88 1103.08,938.17 1103.13,936.47 1103.18,934.78 1103.23,933.11 1103.28,931.45 1103.34,929.81 1103.40,928.20 1103.45,926.74 1103.51,925.25 1103.56,923.73 1103.61,922.19 1103.66,920.62 1103.71,919.03 1103.76,917.42 1103.81,915.79 1103.86,914.15 1103.91,912.50 1103.96,910.83 1104.00,909.16 1104.05,907.49 1104.10,905.81 1104.15,904.13 1104.20,902.45 1104.24,900.78 1104.29,899.12 1104.34,897.47 1104.39,895.83 1104.44,894.20 1104.49,892.59 1104.54,891.00 1104.59,889.43 1104.65,887.89 1104.70,886.37 1104.76,884.88 1104.81,883.42 1104.87,882.00 1104.93,880.62 1104.98,879.27 1105.04,877.96 1105.11,876.70 1105.17,875.48 1105.23,874.32 1105.30,873.20 1105.42,871.34 1105.53,869.53 1105.65,867.78 1105.78,866.08 1105.91,864.45 1106.04,862.88 1106.19,861.38 1106.35,859.94 1106.51,858.58 1106.69,857.28 1106.89,856.05 1107.10,854.90 1107.65,852.63 1108.37,850.39 1109.16,848.68 1109.90,848.00 1110.58,848.69 1111.26,850.43 1111.91,852.70 1112.50,855.00 1112.79,856.17 1113.06,857.42 1113.33,858.74 1113.59,860.14 1113.84,861.61 1114.09,863.14 1114.33,864.71 1114.57,866.34 1114.80,868.01 1115.03,869.71 1115.27,871.44 1115.50,873.20 1115.66,874.47 1115.83,875.77 1115.99,877.11 1116.15,878.49 1116.31,879.90 1116.47,881.33 1116.63,882.80 1116.79,884.29 1116.95,885.80 1117.10,887.33 1117.26,888.89 1117.41,890.46 1117.57,892.04 1117.72,893.64 1117.87,895.25 1118.02,896.87 1118.17,898.50 1118.32,900.13 1118.47,901.76 1118.62,903.39 1118.76,905.03 1118.91,906.66 1119.06,908.28 1119.20,909.90 1119.33,911.35 1119.45,912.83 1119.58,914.32 1119.71,915.84 1119.83,917.37 1119.95,918.92 1120.07,920.48 1120.20,922.06 1120.32,923.64 1120.44,925.23 1120.56,926.83 1120.68,928.43 1120.79,930.03 1120.91,931.64 1121.03,933.24 1121.15,934.83 1121.27,936.42 1121.38,938.01 1121.50,939.58 1121.62,941.14 1121.73,942.69 1121.85,944.22 1121.97,945.74 1122.09,947.24 1122.20,948.71 1122.32,950.16 1122.44,951.59 1122.56,952.99 1122.68,954.36 1122.80,955.70 1122.95,957.43 1123.09,959.19 1123.22,960.97 1123.35,962.76 1123.47,964.55 1123.59,966.32 1123.70,968.08 1123.83,969.81 1123.95,971.50 1124.08,973.13 1124.22,974.71 1124.37,976.21 1124.53,977.62 1124.71,978.95 1124.90,980.17 1125.11,981.27 1125.35,982.25 1125.60,983.10 1126.37,984.66 1127.53,986.15 1128.94,987.41 1130.48,988.28 1132.00,988.60 1133.42,988.54 1135.04,988.35 1136.74,988.07 1138.39,987.71 1139.88,987.28 1141.10,986.80 1142.19,986.00 1143.23,984.72 1144.17,983.12 1144.99,981.31 1145.65,979.45 1146.10,977.66 1146.36,976.18 1146.58,974.65 1146.76,973.05 1146.92,971.41 1147.07,969.73 1147.21,968.01 1147.35,966.25 1147.50,964.48 1147.63,963.06 1147.76,961.66 1147.90,960.25 1148.03,958.82 1148.17,957.37 1148.30,955.89 1148.42,954.37 1148.54,952.80 1148.65,951.16 1148.75,949.45 1148.83,947.66 1148.90,945.77 1148.93,944.65 1148.96,943.47 1148.99,942.22 1149.02,940.91 1149.05,939.55 1149.07,938.14 1149.10,936.67 1149.12,935.17 1149.14,933.62 1149.16,932.04 1149.18,930.43 1149.20,928.78 1149.22,927.12 1149.24,925.43 1149.25,923.72 1149.27,922.00 1149.29,920.27 1149.30,918.54 1149.32,916.80 1149.34,915.07 1149.35,913.34 1149.37,911.62 1149.38,909.92 1149.40,908.23 1149.42,906.56 1149.44,904.92 1149.46,903.30 1149.47,901.72 1149.49,900.17 1149.52,898.67 1149.54,897.21 1149.56,895.79 1149.59,894.43 1149.61,893.12 1149.64,891.87 1149.67,890.68 1149.70,889.57 1149.76,887.67 1149.82,885.84 1149.89,884.08 1149.96,882.38 1150.04,880.75 1150.13,879.17 1150.22,877.65 1150.32,876.19 1150.43,874.78 1150.54,873.43 1150.67,872.12 1150.80,870.86 1151.06,868.87 1151.40,866.98 1151.81,865.22 1152.28,863.65 1152.80,862.28 1153.64,860.65 1154.71,859.21 1155.80,858.60 1157.34,859.48 1158.80,861.26 1159.46,862.34 1160.09,863.67 1160.69,865.22 1161.24,866.96 1161.75,868.85 1162.20,870.86 1162.39,871.85 1162.58,872.92 1162.76,874.05 1162.93,875.24 1163.10,876.49 1163.27,877.80 1163.43,879.16 1163.58,880.57 1163.74,882.03 1163.89,883.52 1164.03,885.05 1164.18,886.62 1164.32,888.21 1164.45,889.83 1164.59,891.48 1164.73,893.14 1164.86,894.81 1164.99,896.50 1165.12,898.19 1165.25,899.88 1165.38,901.58 1165.51,903.27 1165.64,904.95 1165.77,906.61 1165.90,908.27 1166.01,909.65 1166.12,911.08 1166.22,912.55 1166.33,914.05 1166.43,915.60 1166.53,917.17 1166.63,918.77 1166.73,920.40 1166.83,922.05 1166.93,923.72 1167.03,925.41 1167.13,927.11 1167.22,928.82 1167.32,930.53 1167.42,932.25 1167.51,933.97 1167.61,935.69 1167.70,937.40 1167.79,939.10 1167.89,940.78 1167.98,942.46 1168.08,944.11 1168.17,945.74 1168.26,947.35 1168.36,948.92 1168.45,950.47 1168.54,951.98 1168.64,953.45 1168.73,954.88 1168.83,956.27 1168.92,957.61 1169.02,958.90 1169.11,960.14 1169.21,961.31 1169.30,962.43 1169.40,963.49 1169.50,964.48 1169.72,966.56 1169.93,968.50 1170.13,970.31 1170.34,972.01 1170.56,973.59 1170.79,975.07 1171.03,976.46 1171.30,977.76 1171.80,979.81 1172.40,981.61 1173.20,983.28 1173.98,984.42 1175.09,985.66 1176.40,986.87 1177.81,987.90 1179.22,988.63 1180.50,988.90 1182.33,988.82 1184.14,988.60 1185.80,988.29 1186.70,987.84 1187.63,986.97 1188.56,985.76 1189.44,984.30 1190.26,982.70 1190.96,981.03 1191.52,979.40 1191.90,977.89 1192.16,976.40 1192.38,974.88 1192.57,973.32 1192.73,971.72 1192.87,970.09 1193.01,968.42 1193.15,966.72 1193.30,964.98 1193.43,963.60 1193.56,962.22 1193.70,960.84 1193.83,959.45 1193.97,958.03 1194.10,956.58 1194.22,955.09 1194.34,953.54 1194.45,951.94 1194.55,950.26 1194.63,948.51 1194.70,946.67 1194.73,945.54 1194.77,944.34 1194.80,943.08 1194.83,941.76 1194.85,940.38 1194.88,938.95 1194.90,937.47 1194.93,935.95 1194.95,934.38 1194.97,932.78 1194.99,931.15 1195.01,929.49 1195.03,927.80 1195.04,926.09 1195.06,924.37 1195.08,922.64 1195.09,920.89 1195.11,919.15 1195.13,917.40 1195.14,915.66 1195.16,913.92 1195.18,912.20 1195.19,910.49 1195.21,908.81 1195.23,907.14 1195.25,905.51 1195.27,903.91 1195.29,902.34 1195.31,900.82 1195.33,899.34 1195.36,897.91 1195.38,896.53 1195.41,895.21 1195.44,893.95 1195.47,892.75 1195.50,891.62 1195.56,889.77 1195.62,887.98 1195.69,886.25 1195.76,884.59 1195.84,882.99 1195.93,881.44 1196.02,879.96 1196.12,878.53 1196.23,877.15 1196.34,875.82 1196.47,874.54 1196.60,873.31 1196.86,871.36 1197.20,869.50 1197.61,867.79 1198.08,866.24 1198.60,864.90 1199.44,863.30 1200.51,861.90 1201.60,861.30 1203.14,862.16 1204.60,863.90 1205.26,864.96 1205.89,866.27 1206.49,867.78 1207.04,869.48 1207.55,871.33 1208.00,873.31 1208.20,874.32 1208.39,875.41 1208.58,876.57 1208.76,877.79 1208.94,879.08 1209.11,880.43 1209.27,881.83 1209.44,883.28 1209.59,884.78 1209.75,886.32 1209.90,887.90 1210.05,889.51 1210.19,891.15 1210.33,892.82 1210.47,894.51 1210.61,896.21 1210.75,897.93 1210.89,899.65 1211.02,901.38 1211.16,903.11 1211.29,904.83 1211.43,906.55 1211.56,908.25 1211.70,909.94 1211.81,911.33 1211.92,912.77 1212.03,914.25 1212.14,915.77 1212.24,917.33 1212.35,918.92 1212.45,920.53 1212.56,922.18 1212.66,923.84 1212.76,925.53 1212.86,927.23 1212.96,928.95 1213.06,930.67 1213.16,932.40 1213.26,934.13 1213.35,935.86 1213.45,937.58 1213.55,939.30 1213.64,941.00 1213.74,942.69 1213.84,944.37 1213.93,946.02 1214.03,947.64 1214.12,949.24 1214.22,950.81 1214.32,952.34 1214.41,953.83 1214.51,955.28 1214.61,956.69 1214.70,958.05 1214.80,959.35 1214.90,960.60 1215.00,961.79 1215.10,962.92 1215.20,963.99 1215.30,964.98 1215.52,967.02 1215.73,968.92 1215.93,970.70 1216.14,972.36 1216.36,973.91 1216.59,975.36 1216.83,976.72 1217.10,977.99 1217.60,980.00 1218.20,981.76 1219.00,983.40 1219.79,984.51 1220.89,985.73 1222.20,986.91 1223.62,987.93 1225.02,988.63 1226.30,988.90 1228.13,988.82 1229.93,988.61 1231.60,988.30 1232.52,987.86 1233.48,986.98 1234.44,985.77 1235.36,984.32 1236.20,982.71 1236.93,981.05 1237.51,979.41 1237.90,977.90 1238.16,976.42 1238.38,974.89 1238.57,973.33 1238.73,971.74 1238.87,970.10 1239.01,968.43 1239.15,966.73 1239.30,965.00 1239.43,963.62 1239.56,962.24 1239.70,960.86 1239.83,959.47 1239.97,958.05 1240.10,956.60 1240.22,955.11 1240.34,953.57 1240.45,951.97 1240.55,950.30 1240.63,948.54 1240.70,946.70 1240.73,945.57 1240.77,944.38 1240.80,943.12 1240.83,941.80 1240.85,940.42 1240.88,938.99 1240.90,937.51 1240.93,935.99 1240.95,934.43 1240.97,932.83 1240.99,931.19 1241.01,929.53 1241.03,927.85 1241.04,926.14 1241.06,924.42 1241.08,922.69 1241.09,920.95 1241.11,919.20 1241.13,917.46 1241.14,915.71 1241.16,913.98 1241.18,912.26 1241.19,910.55 1241.21,908.87 1241.23,907.21 1241.25,905.58 1241.27,903.98 1241.29,902.41 1241.31,900.89 1241.33,899.41 1241.36,897.98 1241.38,896.60 1241.41,895.28 1241.44,894.02 1241.47,892.83 1241.50,891.70 1241.56,889.84 1241.62,888.06 1241.69,886.33 1241.76,884.67 1241.84,883.07 1241.93,881.53 1242.02,880.04 1242.12,878.61 1242.23,877.23 1242.34,875.91 1242.47,874.63 1242.60,873.40 1242.86,871.45 1243.20,869.60 1243.61,867.88 1244.08,866.34 1244.60,865.00 1245.44,863.40 1246.51,862.00 1247.60,861.40 1249.14,862.26 1250.60,864.00 1251.26,865.06 1251.89,866.36 1252.49,867.88 1253.04,869.57 1253.55,871.43 1254.00,873.40 1254.20,874.41 1254.39,875.50 1254.58,876.66 1254.76,877.88 1254.94,879.17 1255.11,880.51 1255.27,881.92 1255.44,883.37 1255.59,884.86 1255.75,886.40 1255.90,887.98 1256.05,889.59 1256.19,891.23 1256.33,892.90 1256.47,894.58 1256.61,896.28 1256.75,898.00 1256.89,899.72 1257.02,901.45 1257.16,903.18 1257.29,904.90 1257.43,906.61 1257.56,908.32 1257.70,910.00 1257.81,911.39 1257.92,912.83 1258.03,914.31 1258.14,915.83 1258.24,917.38 1258.35,918.97 1258.45,920.59 1258.56,922.23 1258.66,923.90 1258.76,925.58 1258.86,927.28 1258.96,928.99 1259.06,930.71 1259.16,932.44 1259.26,934.17 1259.35,935.90 1259.45,937.62 1259.55,939.34 1259.64,941.04 1259.74,942.73 1259.84,944.40 1259.93,946.05 1260.03,947.68 1260.12,949.27 1260.22,950.84 1260.32,952.37 1260.41,953.86 1260.51,955.31 1260.61,956.71 1260.70,958.07 1260.80,959.37 1260.90,960.62 1261.00,961.81 1261.10,962.94 1261.20,964.01 1261.30,965.00 1261.52,967.04 1261.73,968.94 1261.93,970.71 1262.14,972.37 1262.36,973.92 1262.59,975.37 1262.83,976.73 1263.10,978.00 1263.60,980.01 1264.20,981.77 1265.00,983.40 1265.79,984.52 1266.89,985.73 1268.20,986.91 1269.62,987.93 1271.02,988.63 1272.30,988.90 1274.12,988.82 1275.91,988.61 1277.60,988.30 1278.56,987.86 1279.58,986.99 1280.60,985.78 1281.59,984.33 1282.49,982.72 1283.28,981.05 1283.89,979.42 1284.30,977.90 1284.57,976.42 1284.79,974.90 1284.97,973.34 1285.13,971.74 1285.27,970.11 1285.41,968.44 1285.55,966.73 1285.70,965.00 1285.83,963.62 1285.96,962.24 1286.10,960.86 1286.23,959.47 1286.37,958.05 1286.50,956.60 1286.62,955.11 1286.74,953.57 1286.85,951.97 1286.95,950.30 1287.03,948.54 1287.10,946.70 1287.13,945.57 1287.17,944.38 1287.20,943.12 1287.23,941.80 1287.25,940.42 1287.28,938.99 1287.30,937.51 1287.33,935.99 1287.35,934.43 1287.37,932.83 1287.39,931.19 1287.41,929.53 1287.43,927.85 1287.44,926.14 1287.46,924.42 1287.48,922.69 1287.49,920.95 1287.51,919.20 1287.53,917.46 1287.54,915.71 1287.56,913.98 1287.58,912.26 1287.59,910.55 1287.61,908.87 1287.63,907.21 1287.65,905.58 1287.67,903.98 1287.69,902.41 1287.71,900.89 1287.73,899.41 1287.76,897.98 1287.78,896.60 1287.81,895.28 1287.84,894.02 1287.87,892.83 1287.90,891.70 1287.96,889.84 1288.02,888.06 1288.09,886.33 1288.16,884.67 1288.24,883.07 1288.33,881.53 1288.42,880.04 1288.52,878.61 1288.63,877.23 1288.74,875.91 1288.87,874.63 1289.00,873.40 1289.26,871.45 1289.60,869.60 1290.01,867.88 1290.48,866.34 1291.00,865.00 1291.84,863.40 1292.91,862.00 1294.00,861.40 1295.54,862.26 1297.00,864.00 1297.66,865.06 1298.29,866.36 1298.89,867.88 1299.44,869.57 1299.95,871.43 1300.40,873.40 1300.60,874.41 1300.79,875.50 1300.98,876.66 1301.16,877.88 1301.34,879.17 1301.51,880.51 1301.67,881.92 1301.84,883.37 1301.99,884.86 1302.15,886.40 1302.30,887.98 1302.45,889.59 1302.59,891.23 1302.73,892.90 1302.87,894.58 1303.01,896.28 1303.15,898.00 1303.29,899.72 1303.42,901.45 1303.56,903.18 1303.69,904.90 1303.83,906.61 1303.96,908.32 1304.10,910.00 1304.21,911.39 1304.32,912.83 1304.43,914.31 1304.54,915.83 1304.64,917.38 1304.75,918.97 1304.85,920.59 1304.96,922.23 1305.06,923.90 1305.16,925.58 1305.26,927.28 1305.36,928.99 1305.46,930.71 1305.56,932.44 1305.66,934.17 1305.75,935.90 1305.85,937.62 1305.95,939.34 1306.04,941.04 1306.14,942.73 1306.24,944.40 1306.33,946.05 1306.43,947.68 1306.52,949.27 1306.62,950.84 1306.72,952.37 1306.81,953.86 1306.91,955.31 1307.01,956.71 1307.10,958.07 1307.20,959.37 1307.30,960.62 1307.40,961.81 1307.50,962.94 1307.60,964.01 1307.70,965.00 1307.92,967.04 1308.13,968.94 1308.33,970.71 1308.54,972.37 1308.76,973.92 1308.99,975.37 1309.23,976.73 1309.50,978.00 1310.00,980.01 1310.60,981.77 1311.40,983.40 1312.19,984.52 1313.29,985.73 1314.60,986.91 1316.02,987.93 1317.42,988.63 1318.70,988.90 1320.50,988.82 1322.28,988.61 1324.00,988.30 1325.13,987.88 1326.36,987.07 1327.61,985.96 1328.78,984.60 1329.80,983.06 1330.57,981.41 1331.00,979.70 1331.10,978.90 1331.20,978.02 1331.29,977.06 1331.37,976.02 1331.45,974.91 1331.53,973.73 1331.60,972.49 1331.66,971.19 1331.73,969.83 1331.79,968.41 1331.84,966.95 1331.89,965.44 1331.94,963.90 1331.99,962.31 1332.03,960.69 1332.08,959.04 1332.12,957.36 1332.16,955.66 1332.19,953.94 1332.23,952.20 1332.27,950.45 1332.30,948.70 1332.34,946.94 1332.38,945.18 1332.41,943.42 1332.45,941.68 1332.49,939.94 1332.53,938.22 1332.57,936.51 1332.61,934.83 1332.65,933.17 1332.70,931.55 1332.75,929.95 1332.80,928.40 1332.85,926.88 1332.90,925.33 1332.95,923.74 1333.00,922.13 1333.05,920.49 1333.09,918.83 1333.14,917.15 1333.18,915.45 1333.22,913.74 1333.27,912.02 1333.31,910.29 1333.36,908.55 1333.40,906.82 1333.44,905.09 1333.49,903.36 1333.53,901.64 1333.58,899.93 1333.62,898.23 1333.67,896.55 1333.71,894.89 1333.76,893.25 1333.81,891.63 1333.86,890.05 1333.91,888.49 1333.97,886.98 1334.02,885.49 1334.08,884.05 1334.14,882.66 1334.20,881.30 1334.27,880.00 1334.33,878.75 1334.40,877.56 1334.47,876.43 1334.54,875.35 1334.62,874.34 1334.70,873.40 1334.91,871.28 1335.16,869.25 1335.44,867.36 1335.77,865.64 1336.13,864.14 1336.54,862.92 1337.00,862.00 1338.28,860.69 1340.00,860.00" stroke="#2e5b20" stroke-width="3.3" fill="none" stroke-linejoin="round" stroke-linecap="round" clip-path="url(#clipD)"/>
<path d="M840.00,989.90 842.61,989.90 845.19,989.90 847.75,989.90 850.29,989.90 852.81,989.90 855.30,989.90 857.78,989.90 860.23,989.90 862.66,989.90 865.07,989.90 867.45,989.90 869.81,989.90 872.15,989.90 874.47,989.90 876.76,989.90 879.03,989.90 881.28,989.90 883.51,989.90 885.71,989.90 887.89,989.90 890.04,989.90 892.17,989.90 894.28,989.90 896.37,989.90 898.43,989.90 900.46,989.90 902.48,989.90 904.47,989.90 906.43,989.90 908.37,989.90 910.29,989.90 912.18,989.90 914.05,989.90 915.89,989.90 917.71,989.90 919.51,989.90 921.28,989.90 923.02,989.90 924.74,989.90 926.44,989.90 928.11,989.90 929.76,989.90 931.38,989.90 932.97,989.90 934.54,989.90 936.08,989.90 937.60,989.90 939.09,989.90 940.56,989.90 942.00,989.90 943.42,989.90 944.81,989.90 946.17,989.90 947.51,989.90 948.82,989.90 950.10,989.90 951.36,989.90 952.59,989.90 953.80,989.90 954.98,989.90 956.13,989.90 957.25,989.90 958.35,989.90 959.42,989.90 960.46,989.90 961.48,989.90 962.47,989.90 963.43,989.90 964.36,989.90 965.27,989.90 966.15,989.90 967.00,989.90 967.83,989.90 968.62,989.90 969.39,989.90 970.13,989.90 970.84,989.90 971.52,989.90 972.18,989.90 972.81,989.90 973.40,989.90 973.97,989.90 974.51,989.90 975.03,989.90 975.51,989.90 975.96,989.90 976.39,989.90 976.79,989.90 977.15,989.90 977.49,989.90 977.80,989.90 979.20,988.84 980.21,986.86 981.30,985.80 983.01,986.20 984.90,987.00 986.22,987.85 987.58,989.02 989.08,990.05 990.80,990.50 991.95,990.50 993.28,990.50 994.75,990.50 996.32,990.50 997.97,990.50 999.65,990.50 1001.33,990.50 1002.97,990.50 1004.53,990.50 1005.99,990.50 1007.30,990.50 1009.29,990.41 1011.29,990.17 1013.12,989.81 1014.62,989.34 1015.60,988.80 1016.10,988.01 1016.50,986.70 1016.83,985.02 1017.12,983.11 1017.39,981.12 1017.67,979.20 1018.00,977.50 1018.40,975.86 1018.81,974.25 1019.23,972.66 1019.64,971.09 1020.03,969.54 1020.40,968.00 1020.81,966.41 1021.23,964.93 1021.61,963.44 1021.92,961.77 1022.10,959.80 1022.14,958.86 1022.18,957.85 1022.22,956.76 1022.25,955.61 1022.28,954.38 1022.31,953.10 1022.34,951.75 1022.36,950.35 1022.39,948.90 1022.41,947.40 1022.43,945.86 1022.45,944.27 1022.47,942.65 1022.49,941.00 1022.51,939.32 1022.53,937.61 1022.54,935.89 1022.56,934.14 1022.57,932.39 1022.59,930.62 1022.60,928.85 1022.62,927.07 1022.63,925.30 1022.65,923.53 1022.67,921.77 1022.68,920.03 1022.70,918.30 1022.71,916.97 1022.73,915.62 1022.74,914.25 1022.75,912.86 1022.77,911.46 1022.78,910.04 1022.79,908.60 1022.80,907.15 1022.82,905.69 1022.83,904.22 1022.84,902.73 1022.85,901.23 1022.86,899.72 1022.87,898.20 1022.89,896.67 1022.90,895.13 1022.91,893.58 1022.92,892.03 1022.93,890.47 1022.94,888.90 1022.95,887.33 1022.96,885.76 1022.97,884.18 1022.98,882.60 1023.00,881.01 1023.01,879.43 1023.02,877.84 1023.03,876.25 1023.04,874.67 1023.05,873.09 1023.06,871.50 1023.07,869.93 1023.08,868.35 1023.09,866.78 1023.10,865.21 1023.11,863.65 1023.12,862.10 1023.13,860.56 1023.14,859.02 1023.15,857.49 1023.16,855.97 1023.17,854.46 1023.18,852.96 1023.19,851.47 1023.20,850.00 1023.21,848.45 1023.22,846.91 1023.23,845.37 1023.24,843.83 1023.25,842.30 1023.26,840.77 1023.27,839.24 1023.28,837.71 1023.29,836.19 1023.30,834.67 1023.30,833.15 1023.31,831.63 1023.32,830.12 1023.33,828.61 1023.34,827.10 1023.35,825.60 1023.36,824.09 1023.36,822.59 1023.37,821.09 1023.38,819.60 1023.39,818.10 1023.40,816.61 1023.41,815.12 1023.42,813.63 1023.43,812.14 1023.44,810.65 1023.45,809.17 1023.46,807.69 1023.47,806.20 1023.48,804.72 1023.49,803.25 1023.50,801.77 1023.51,800.29 1023.52,798.82 1023.53,797.35 1023.55,795.88 1023.56,794.41 1023.57,792.94 1023.59,791.47 1023.60,790.00 1023.62,788.43 1023.63,786.84 1023.65,785.24 1023.67,783.62 1023.68,781.99 1023.70,780.35 1023.72,778.70 1023.74,777.04 1023.76,775.38 1023.78,773.72 1023.80,772.05 1023.82,770.38 1023.85,768.72 1023.87,767.06 1023.89,765.40 1023.92,763.75 1023.94,762.11 1023.97,760.48 1024.00,758.87 1024.03,757.26 1024.05,755.68 1024.08,754.11 1024.11,752.56 1024.15,751.03 1024.18,749.53 1024.21,748.05 1024.25,746.59 1024.28,745.17 1024.32,743.77 1024.35,742.41 1024.39,741.08 1024.43,739.79 1024.47,738.53 1024.51,737.31 1024.56,736.13 1024.60,735.00 1024.69,732.95 1024.80,730.80 1024.93,728.62 1025.07,726.44 1025.23,724.32 1025.40,722.32 1025.57,720.48 1025.76,718.86 1025.94,717.51 1026.13,716.49 1026.32,715.83 1026.50,715.60 1026.94,716.49 1027.42,718.58 1027.80,721.00 1027.93,722.11 1028.05,723.33 1028.17,724.64 1028.27,726.05 1028.37,727.55 1028.46,729.13 1028.55,730.78 1028.64,732.50 1028.73,734.29 1028.81,736.14 1028.91,738.05 1029.00,740.00 1029.05,741.07 1029.10,742.17 1029.15,743.30 1029.20,744.46 1029.25,745.66 1029.30,746.88 1029.35,748.13 1029.40,749.41 1029.45,750.71 1029.50,752.04 1029.55,753.39 1029.60,754.77 1029.64,756.18 1029.69,757.60 1029.74,759.05 1029.79,760.52 1029.84,762.00 1029.88,763.51 1029.93,765.04 1029.98,766.58 1030.03,768.14 1030.08,769.72 1030.12,771.31 1030.17,772.92 1030.22,774.54 1030.27,776.18 1030.32,777.83 1030.37,779.49 1030.42,781.15 1030.47,782.83 1030.52,784.52 1030.57,786.22 1030.62,787.92 1030.68,789.64 1030.73,791.35 1030.78,793.07 1030.84,794.80 1030.89,796.53 1030.94,798.26 1031.00,800.00 1031.04,801.26 1031.08,802.54 1031.12,803.84 1031.16,805.17 1031.20,806.51 1031.25,807.87 1031.29,809.25 1031.33,810.65 1031.37,812.06 1031.42,813.49 1031.46,814.94 1031.50,816.40 1031.55,817.88 1031.59,819.37 1031.64,820.87 1031.68,822.39 1031.73,823.92 1031.77,825.46 1031.82,827.02 1031.86,828.58 1031.91,830.16 1031.95,831.74 1032.00,833.33 1032.05,834.94 1032.09,836.55 1032.14,838.17 1032.18,839.79 1032.23,841.42 1032.28,843.06 1032.33,844.70 1032.37,846.35 1032.42,848.00 1032.47,849.65 1032.51,851.31 1032.56,852.96 1032.61,854.63 1032.66,856.29 1032.71,857.95 1032.75,859.61 1032.80,861.27 1032.85,862.93 1032.90,864.59 1032.95,866.25 1032.99,867.90 1033.04,869.55 1033.09,871.20 1033.14,872.84 1033.19,874.47 1033.23,876.10 1033.28,877.73 1033.33,879.34 1033.38,880.95 1033.43,882.56 1033.48,884.15 1033.52,885.73 1033.57,887.31 1033.62,888.87 1033.67,890.42 1033.72,891.96 1033.76,893.49 1033.81,895.01 1033.86,896.51 1033.91,898.00 1033.95,899.48 1034.00,900.94 1034.05,902.38 1034.09,903.81 1034.14,905.22 1034.19,906.62 1034.23,907.99 1034.28,909.35 1034.33,910.69 1034.37,912.01 1034.42,913.31 1034.46,914.59 1034.51,915.85 1034.55,917.09 1034.60,918.30 1034.67,920.10 1034.73,921.89 1034.79,923.69 1034.85,925.47 1034.91,927.25 1034.97,929.03 1035.03,930.79 1035.09,932.54 1035.14,934.29 1035.20,936.02 1035.25,937.73 1035.31,939.43 1035.36,941.12 1035.41,942.79 1035.47,944.43 1035.53,946.06 1035.58,947.67 1035.64,949.26 1035.70,950.82 1035.76,952.36 1035.82,953.87 1035.88,955.35 1035.94,956.81 1036.01,958.23 1036.07,959.63 1036.14,960.99 1036.22,962.32 1036.29,963.61 1036.37,964.87 1036.45,966.09 1036.53,967.28 1036.62,968.42 1036.71,969.52 1036.80,970.58 1036.90,971.60 1037.11,973.61 1037.35,975.57 1037.62,977.47 1037.92,979.27 1038.26,980.94 1038.63,982.45 1039.04,983.79 1039.50,984.91 1040.00,985.80 1041.10,986.86 1042.62,987.73 1044.33,988.43 1046.00,989.00 1047.58,989.52 1049.20,990.00 1050.85,990.36 1052.50,990.50 1054.39,990.34 1056.40,989.92 1058.21,989.31 1059.50,988.60 1060.31,987.55 1060.95,985.97 1061.49,984.06 1062.00,982.00 1062.25,980.91 1062.50,979.68 1062.75,978.35 1062.98,976.92 1063.21,975.42 1063.44,973.85 1063.66,972.24 1063.87,970.61 1064.08,968.97 1064.27,967.33 1064.47,965.72 1064.65,964.15 1064.83,962.64 1065.00,961.20 1065.20,959.50 1065.40,957.84 1065.59,956.21 1065.78,954.60 1065.95,953.00 1066.12,951.41 1066.28,949.82 1066.43,948.23 1066.57,946.62 1066.70,945.00 1066.82,943.52 1066.93,942.11 1067.04,940.72 1067.15,939.35 1067.26,937.97 1067.36,936.56 1067.45,935.09 1067.53,933.54 1067.60,931.89 1067.66,930.12 1067.70,928.20 1067.72,927.27 1067.73,926.28 1067.75,925.26 1067.76,924.19 1067.78,923.08 1067.79,921.93 1067.81,920.74 1067.82,919.51 1067.83,918.25 1067.84,916.95 1067.86,915.62 1067.87,914.25 1067.88,912.86 1067.89,911.44 1067.90,909.99 1067.91,908.51 1067.92,907.01 1067.93,905.48 1067.94,903.94 1067.95,902.37 1067.96,900.79 1067.97,899.18 1067.98,897.56 1067.99,895.93 1067.99,894.28 1068.00,892.62 1068.01,890.95 1068.02,889.27 1068.03,887.59 1068.03,885.89 1068.04,884.20 1068.05,882.50 1068.06,880.80 1068.06,879.09 1068.07,877.39 1068.08,875.69 1068.08,874.00 1068.09,872.31 1068.10,870.62 1068.11,868.95 1068.11,867.28 1068.12,865.63 1068.13,863.99 1068.13,862.36 1068.14,860.74 1068.15,859.15 1068.16,857.57 1068.17,856.01 1068.17,854.47 1068.18,852.96 1068.19,851.47 1068.20,850.00 1068.21,848.43 1068.22,846.86 1068.23,845.29 1068.24,843.73 1068.25,842.17 1068.25,840.60 1068.26,839.04 1068.27,837.48 1068.28,835.93 1068.29,834.37 1068.30,832.82 1068.30,831.26 1068.31,829.71 1068.32,828.17 1068.33,826.62 1068.33,825.08 1068.34,823.54 1068.35,822.00 1068.36,820.46 1068.37,818.93 1068.37,817.40 1068.38,815.87 1068.39,814.34 1068.40,812.82 1068.40,811.30 1068.41,809.78 1068.42,808.27 1068.43,806.76 1068.44,805.25 1068.45,803.75 1068.45,802.24 1068.46,800.75 1068.47,799.25 1068.48,797.76 1068.49,796.27 1068.50,794.79 1068.51,793.31 1068.52,791.83 1068.53,790.36 1068.54,788.89 1068.55,787.42 1068.56,785.96 1068.58,784.50 1068.59,783.05 1068.60,781.60 1068.61,779.99 1068.63,778.36 1068.64,776.72 1068.66,775.07 1068.67,773.40 1068.69,771.73 1068.70,770.04 1068.72,768.36 1068.74,766.66 1068.75,764.97 1068.77,763.27 1068.79,761.58 1068.81,759.89 1068.82,758.20 1068.84,756.53 1068.86,754.86 1068.88,753.20 1068.90,751.55 1068.92,749.92 1068.95,748.30 1068.97,746.70 1068.99,745.12 1069.01,743.56 1069.04,742.03 1069.06,740.52 1069.09,739.03 1069.11,737.58 1069.14,736.15 1069.16,734.76 1069.19,733.40 1069.22,732.08 1069.25,730.80 1069.28,729.55 1069.31,728.35 1069.34,727.19 1069.37,726.07 1069.40,725.00 1069.46,723.03 1069.54,720.98 1069.62,718.92 1069.70,716.88 1069.80,714.94 1069.90,713.14 1070.01,711.55 1070.12,710.21 1070.24,709.19 1070.37,708.53 1070.50,708.30 1070.87,709.26 1071.31,711.48 1071.70,714.00 1071.86,715.23 1072.01,716.57 1072.15,718.01 1072.29,719.55 1072.42,721.16 1072.55,722.84 1072.67,724.58 1072.79,726.36 1072.90,728.17 1073.00,730.00 1073.07,731.27 1073.13,732.58 1073.20,733.93 1073.26,735.31 1073.32,736.71 1073.38,738.15 1073.44,739.61 1073.50,741.09 1073.55,742.60 1073.61,744.12 1073.66,745.67 1073.71,747.23 1073.76,748.80 1073.81,750.38 1073.86,751.97 1073.91,753.57 1073.96,755.18 1074.01,756.79 1074.05,758.39 1074.10,760.00 1074.14,761.42 1074.18,762.84 1074.22,764.26 1074.25,765.68 1074.29,767.10 1074.32,768.52 1074.36,769.95 1074.39,771.38 1074.42,772.82 1074.46,774.27 1074.49,775.73 1074.52,777.21 1074.55,778.70 1074.58,780.20 1074.62,781.72 1074.65,783.26 1074.68,784.81 1074.71,786.39 1074.75,788.00 1074.78,789.62 1074.81,791.28 1074.85,792.96 1074.89,794.67 1074.92,796.42 1074.96,798.19 1075.00,800.00 1075.03,801.20 1075.05,802.43 1075.08,803.69 1075.10,804.99 1075.13,806.32 1075.16,807.68 1075.19,809.07 1075.21,810.49 1075.24,811.94 1075.27,813.41 1075.30,814.90 1075.32,816.42 1075.35,817.96 1075.38,819.51 1075.41,821.09 1075.44,822.68 1075.47,824.29 1075.50,825.92 1075.53,827.56 1075.56,829.21 1075.59,830.87 1075.62,832.54 1075.65,834.22 1075.68,835.91 1075.71,837.60 1075.74,839.30 1075.77,841.00 1075.80,842.71 1075.83,844.41 1075.86,846.11 1075.89,847.81 1075.92,849.51 1075.96,851.20 1075.99,852.89 1076.02,854.57 1076.05,856.24 1076.08,857.90 1076.12,859.56 1076.15,861.19 1076.18,862.82 1076.22,864.43 1076.25,866.02 1076.28,867.60 1076.32,869.16 1076.35,870.69 1076.38,872.21 1076.42,873.70 1076.45,875.17 1076.48,876.62 1076.52,878.03 1076.55,879.42 1076.59,880.78 1076.62,882.11 1076.66,883.41 1076.69,884.68 1076.72,885.91 1076.76,887.10 1076.79,888.26 1076.83,889.38 1076.86,890.46 1076.90,891.50 1076.97,893.42 1077.04,895.24 1077.11,896.98 1077.18,898.64 1077.25,900.24 1077.32,901.78 1077.40,903.28 1077.47,904.74 1077.55,906.18 1077.62,907.61 1077.70,909.03 1077.78,910.45 1077.86,911.89 1077.95,913.36 1078.03,914.86 1078.11,916.40 1078.20,918.00 1078.28,919.47 1078.36,920.96 1078.45,922.47 1078.54,924.01 1078.64,925.56 1078.73,927.12 1078.83,928.70 1078.93,930.28 1079.03,931.86 1079.13,933.45 1079.23,935.03 1079.33,936.61 1079.43,938.18 1079.52,939.73 1079.62,941.27 1079.71,942.79 1079.79,944.29 1079.88,945.76 1079.96,947.21 1080.03,948.62 1080.10,950.00 1080.18,951.64 1080.24,953.26 1080.30,954.86 1080.36,956.44 1080.41,958.00 1080.46,959.53 1080.51,961.05 1080.57,962.54 1080.62,964.01 1080.68,965.45 1080.75,966.88 1080.82,968.27 1080.91,969.65 1081.00,971.00 1081.14,972.76 1081.32,974.57 1081.52,976.40 1081.76,978.20 1082.03,979.91 1082.34,981.49 1082.68,982.90 1083.07,984.08 1083.50,985.00 1084.41,985.93 1085.78,986.70 1087.40,987.35 1089.04,987.94 1090.50,988.50 1092.15,989.37 1093.72,990.16 1095.50,990.50 1096.91,990.45 1098.60,990.31 1100.44,990.10 1102.27,989.81 1103.96,989.47 1105.35,989.08 1106.30,988.66 1107.13,987.69 1107.76,986.16 1108.29,984.27 1108.80,982.25 1109.07,981.10 1109.34,979.81 1109.60,978.40 1109.85,976.88 1110.10,975.29 1110.34,973.63 1110.57,971.93 1110.80,970.21 1111.01,968.50 1111.22,966.81 1111.42,965.15 1111.62,963.57 1111.80,962.06 1112.00,960.41 1112.20,958.80 1112.39,957.22 1112.58,955.65 1112.75,954.10 1112.92,952.56 1113.08,951.02 1113.23,949.47 1113.37,947.91 1113.50,946.34 1113.63,944.77 1113.75,943.26 1113.88,941.79 1114.00,940.32 1114.11,938.83 1114.21,937.29 1114.30,935.67 1114.38,933.94 1114.45,932.07 1114.50,930.03 1114.52,929.09 1114.53,928.10 1114.55,927.06 1114.57,925.97 1114.58,924.84 1114.60,923.67 1114.61,922.46 1114.62,921.21 1114.64,919.92 1114.65,918.60 1114.66,917.24 1114.67,915.85 1114.69,914.43 1114.70,912.98 1114.71,911.50 1114.72,909.99 1114.73,908.46 1114.74,906.91 1114.75,905.33 1114.76,903.73 1114.77,902.12 1114.78,900.49 1114.79,898.84 1114.79,897.18 1114.80,895.50 1114.81,893.82 1114.82,892.12 1114.83,890.42 1114.83,888.71 1114.84,886.99 1114.85,885.28 1114.86,883.56 1114.86,881.84 1114.87,880.12 1114.88,878.41 1114.89,876.70 1114.89,875.00 1114.90,873.30 1114.91,871.62 1114.92,869.94 1114.92,868.28 1114.93,866.63 1114.94,865.00 1114.95,863.38 1114.96,861.78 1114.96,860.21 1114.97,858.65 1114.98,857.12 1114.99,855.61 1115.00,854.13 1115.01,852.57 1115.02,851.02 1115.03,849.46 1115.04,847.91 1115.05,846.36 1115.06,844.80 1115.06,843.26 1115.07,841.71 1115.08,840.16 1115.09,838.62 1115.10,837.08 1115.11,835.54 1115.11,834.00 1115.12,832.46 1115.13,830.93 1115.14,829.40 1115.14,827.87 1115.15,826.34 1115.16,824.82 1115.17,823.30 1115.18,821.78 1115.18,820.27 1115.19,818.75 1115.20,817.24 1115.21,815.73 1115.22,814.23 1115.23,812.73 1115.23,811.23 1115.24,809.74 1115.25,808.24 1115.26,806.76 1115.27,805.27 1115.28,803.79 1115.29,802.31 1115.30,800.84 1115.31,799.37 1115.32,797.90 1115.33,796.44 1115.34,794.98 1115.35,793.52 1115.36,792.07 1115.38,790.63 1115.39,789.18 1115.40,787.74 1115.41,786.14 1115.43,784.51 1115.44,782.88 1115.46,781.22 1115.47,779.56 1115.49,777.89 1115.51,776.21 1115.52,774.52 1115.54,772.84 1115.56,771.14 1115.57,769.45 1115.59,767.77 1115.61,766.08 1115.63,764.40 1115.65,762.73 1115.67,761.07 1115.69,759.42 1115.71,757.78 1115.73,756.16 1115.76,754.56 1115.78,752.97 1115.80,751.41 1115.83,749.87 1115.85,748.36 1115.88,746.87 1115.90,745.41 1115.93,743.98 1115.96,742.58 1115.99,741.22 1116.01,739.89 1116.04,738.61 1116.07,737.36 1116.10,736.15 1116.13,734.99 1116.17,733.88 1116.20,732.81 1116.27,730.70 1116.35,728.51 1116.44,726.31 1116.54,724.16 1116.65,722.15 1116.76,720.35 1116.89,718.81 1117.02,717.63 1117.16,716.87 1117.30,716.60 1117.67,717.53 1118.11,719.69 1118.50,722.13 1118.66,723.32 1118.81,724.62 1118.95,726.03 1119.09,727.52 1119.22,729.08 1119.35,730.71 1119.47,732.40 1119.59,734.13 1119.70,735.89 1119.80,737.66 1119.87,738.96 1119.94,740.31 1120.01,741.68 1120.07,743.10 1120.14,744.54 1120.20,746.01 1120.26,747.52 1120.32,749.04 1120.38,750.59 1120.44,752.16 1120.49,753.74 1120.55,755.34 1120.60,756.96 1120.65,758.58 1120.70,760.22 1120.75,761.85 1120.80,763.50 1120.85,765.14 1120.90,766.78 1120.94,768.22 1120.98,769.65 1121.02,771.08 1121.06,772.51 1121.10,773.95 1121.13,775.38 1121.17,776.82 1121.20,778.27 1121.24,779.73 1121.27,781.20 1121.30,782.68 1121.34,784.17 1121.37,785.68 1121.40,787.21 1121.44,788.75 1121.47,790.32 1121.50,791.90 1121.54,793.51 1121.57,795.15 1121.61,796.82 1121.64,798.51 1121.68,800.23 1121.72,801.99 1121.76,803.78 1121.80,805.60 1121.83,806.80 1121.85,808.04 1121.88,809.31 1121.91,810.62 1121.94,811.96 1121.96,813.33 1121.99,814.73 1122.02,816.16 1122.05,817.62 1122.08,819.10 1122.11,820.61 1122.14,822.14 1122.16,823.69 1122.19,825.27 1122.22,826.86 1122.25,828.47 1122.28,830.09 1122.31,831.73 1122.35,833.38 1122.38,835.05 1122.41,836.72 1122.44,838.40 1122.47,840.10 1122.50,841.79 1122.53,843.50 1122.56,845.20 1122.60,846.91 1122.63,848.62 1122.66,850.33 1122.69,852.04 1122.73,853.74 1122.76,855.44 1122.79,857.13 1122.83,858.82 1122.86,860.49 1122.89,862.16 1122.93,863.81 1122.96,865.45 1122.99,867.08 1123.03,868.69 1123.06,870.28 1123.10,871.86 1123.13,873.41 1123.17,874.94 1123.20,876.45 1123.24,877.94 1123.27,879.40 1123.31,880.83 1123.34,882.24 1123.38,883.61 1123.41,884.95 1123.45,886.26 1123.48,887.54 1123.52,888.78 1123.55,889.99 1123.59,891.15 1123.63,892.28 1123.66,893.37 1123.70,894.41 1123.77,896.27 1123.84,898.04 1123.91,899.73 1123.98,901.34 1124.05,902.89 1124.12,904.39 1124.20,905.85 1124.27,907.27 1124.35,908.66 1124.42,910.05 1124.50,911.42 1124.58,912.81 1124.66,914.20 1124.75,915.62 1124.83,917.08 1124.91,918.58 1125.00,920.13 1125.08,921.63 1125.17,923.15 1125.27,924.69 1125.36,926.26 1125.46,927.85 1125.56,929.44 1125.67,931.05 1125.77,932.66 1125.87,934.28 1125.98,935.90 1126.08,937.51 1126.19,939.11 1126.29,940.70 1126.39,942.27 1126.48,943.83 1126.58,945.36 1126.67,946.87 1126.75,948.34 1126.83,949.79 1126.90,951.19 1126.98,952.91 1127.05,954.60 1127.12,956.27 1127.18,957.91 1127.23,959.53 1127.29,961.13 1127.34,962.70 1127.40,964.24 1127.46,965.76 1127.53,967.25 1127.61,968.72 1127.70,970.16 1127.80,971.57 1127.94,973.28 1128.12,975.05 1128.32,976.82 1128.56,978.56 1128.83,980.23 1129.14,981.76 1129.48,983.13 1129.87,984.28 1130.30,985.16 1131.21,986.06 1132.58,986.81 1134.20,987.44 1135.84,988.01 1137.30,988.56 1139.04,989.37 1140.70,990.10 1142.30,990.50 1144.21,990.64 1146.10,990.70 1147.43,990.39 1148.83,989.60 1150.14,988.52 1151.20,987.36 1151.92,986.17 1152.58,984.68 1153.17,982.97 1153.69,981.13 1154.17,979.25 1154.60,977.43 1154.92,975.97 1155.19,974.48 1155.45,972.98 1155.68,971.45 1155.92,969.88 1156.16,968.27 1156.41,966.61 1156.70,964.89 1156.96,963.52 1157.25,962.14 1157.57,960.74 1157.91,959.32 1158.26,957.87 1158.62,956.38 1158.96,954.86 1159.29,953.30 1159.60,951.69 1159.87,950.04 1160.10,948.33 1160.28,946.56 1160.40,944.73 1160.45,943.54 1160.51,942.33 1160.56,941.08 1160.60,939.80 1160.65,938.50 1160.69,937.17 1160.73,935.81 1160.77,934.43 1160.81,933.02 1160.85,931.59 1160.88,930.14 1160.91,928.66 1160.94,927.16 1160.97,925.65 1161.00,924.11 1161.03,922.56 1161.06,920.98 1161.08,919.40 1161.11,917.79 1161.13,916.17 1161.15,914.54 1161.18,912.89 1161.20,911.24 1161.22,909.57 1161.24,907.89 1161.26,906.20 1161.29,904.51 1161.31,902.80 1161.33,901.09 1161.35,899.38 1161.38,897.66 1161.40,895.93 1161.42,894.62 1161.44,893.28 1161.45,891.93 1161.47,890.56 1161.49,889.17 1161.50,887.76 1161.52,886.34 1161.53,884.90 1161.55,883.45 1161.56,881.98 1161.58,880.50 1161.59,879.01 1161.61,877.50 1161.62,875.98 1161.64,874.45 1161.65,872.91 1161.66,871.36 1161.68,869.80 1161.69,868.24 1161.70,866.66 1161.72,865.08 1161.73,863.49 1161.74,861.90 1161.76,860.30 1161.77,858.70 1161.78,857.09 1161.79,855.48 1161.81,853.87 1161.82,852.26 1161.83,850.64 1161.84,849.03 1161.86,847.42 1161.87,845.80 1161.88,844.19 1161.89,842.58 1161.91,840.98 1161.92,839.38 1161.93,837.78 1161.95,836.19 1161.96,834.60 1161.97,833.02 1161.99,831.45 1162.00,829.89 1162.01,828.33 1162.03,826.78 1162.04,825.25 1162.06,823.72 1162.07,822.21 1162.09,820.70 1162.10,819.21 1162.12,817.73 1162.13,816.27 1162.15,814.82 1162.17,813.39 1162.18,811.97 1162.20,810.57 1162.22,808.92 1162.24,807.25 1162.26,805.58 1162.28,803.90 1162.30,802.21 1162.32,800.52 1162.34,798.82 1162.36,797.12 1162.38,795.42 1162.40,793.72 1162.42,792.02 1162.44,790.32 1162.46,788.63 1162.48,786.95 1162.50,785.27 1162.52,783.60 1162.55,781.94 1162.57,780.29 1162.59,778.65 1162.61,777.03 1162.64,775.43 1162.66,773.84 1162.68,772.26 1162.71,770.71 1162.73,769.18 1162.76,767.67 1162.79,766.19 1162.81,764.73 1162.84,763.29 1162.87,761.89 1162.90,760.51 1162.93,759.16 1162.96,757.85 1162.99,756.57 1163.02,755.32 1163.06,754.11 1163.09,752.94 1163.13,751.80 1163.16,750.71 1163.20,749.65 1163.28,747.58 1163.38,745.42 1163.48,743.25 1163.60,741.11 1163.73,739.07 1163.86,737.18 1164.00,735.51 1164.15,734.10 1164.30,733.03 1164.45,732.34 1164.60,732.10 1164.91,732.75 1165.27,734.44 1165.62,736.73 1165.90,739.20 1165.97,740.01 1166.04,740.89 1166.11,741.83 1166.18,742.85 1166.24,743.92 1166.30,745.06 1166.36,746.26 1166.42,747.51 1166.47,748.81 1166.53,750.17 1166.58,751.58 1166.64,753.03 1166.69,754.52 1166.74,756.06 1166.79,757.63 1166.83,759.25 1166.88,760.89 1166.93,762.56 1166.98,764.27 1167.02,765.99 1167.07,767.75 1167.12,769.52 1167.16,771.31 1167.21,773.11 1167.25,774.93 1167.30,776.76 1167.35,778.59 1167.40,780.43 1167.44,782.28 1167.49,784.12 1167.54,785.96 1167.59,787.80 1167.65,789.63 1167.70,791.45 1167.74,792.66 1167.77,793.90 1167.81,795.16 1167.84,796.43 1167.88,797.73 1167.91,799.05 1167.95,800.39 1167.98,801.75 1168.02,803.12 1168.06,804.52 1168.09,805.93 1168.13,807.35 1168.16,808.80 1168.20,810.25 1168.23,811.72 1168.27,813.21 1168.30,814.71 1168.34,816.22 1168.37,817.75 1168.41,819.29 1168.44,820.83 1168.48,822.39 1168.51,823.96 1168.55,825.54 1168.58,827.13 1168.62,828.72 1168.65,830.33 1168.69,831.94 1168.72,833.55 1168.76,835.18 1168.79,836.81 1168.83,838.44 1168.86,840.08 1168.90,841.72 1168.93,843.36 1168.97,845.01 1169.00,846.66 1169.04,848.31 1169.08,849.96 1169.11,851.61 1169.15,853.26 1169.18,854.92 1169.22,856.56 1169.26,858.21 1169.29,859.86 1169.33,861.50 1169.37,863.13 1169.40,864.77 1169.44,866.40 1169.48,868.02 1169.51,869.63 1169.55,871.24 1169.59,872.85 1169.63,874.44 1169.66,876.03 1169.70,877.61 1169.74,879.17 1169.78,880.73 1169.82,882.28 1169.85,883.81 1169.89,885.34 1169.93,886.85 1169.97,888.35 1170.01,889.83 1170.05,891.30 1170.09,892.76 1170.13,894.20 1170.17,895.62 1170.21,897.03 1170.25,898.42 1170.29,899.80 1170.33,901.15 1170.37,902.49 1170.42,903.81 1170.46,905.10 1170.50,906.38 1170.56,908.14 1170.62,909.90 1170.67,911.66 1170.73,913.41 1170.78,915.17 1170.84,916.92 1170.89,918.66 1170.94,920.40 1171.00,922.14 1171.05,923.86 1171.11,925.58 1171.16,927.29 1171.21,928.99 1171.27,930.68 1171.32,932.36 1171.38,934.02 1171.44,935.67 1171.49,937.31 1171.55,938.93 1171.61,940.53 1171.67,942.12 1171.73,943.69 1171.80,945.24 1171.86,946.77 1171.93,948.27 1172.00,949.76 1172.07,951.22 1172.14,952.66 1172.21,954.07 1172.29,955.46 1172.37,956.82 1172.45,958.15 1172.53,959.46 1172.62,960.73 1172.71,961.98 1172.80,963.19 1172.90,964.37 1172.99,965.52 1173.10,966.63 1173.20,967.71 1173.40,969.56 1173.63,971.39 1173.89,973.19 1174.18,974.95 1174.49,976.66 1174.83,978.31 1175.19,979.87 1175.57,981.34 1175.98,982.70 1176.41,983.95 1176.85,985.06 1177.32,986.03 1177.80,986.83 1178.91,988.21 1180.30,989.46 1181.81,990.35 1183.30,990.70 1185.06,990.70 1186.87,990.70 1188.60,990.70 1190.62,990.70 1192.60,990.70 1193.93,990.41 1195.34,989.65 1196.64,988.62 1197.70,987.51 1198.42,986.39 1199.07,984.97 1199.66,983.33 1200.19,981.58 1200.67,979.78 1201.10,978.04 1201.42,976.65 1201.69,975.23 1201.95,973.80 1202.18,972.33 1202.42,970.84 1202.66,969.30 1202.91,967.72 1203.20,966.08 1203.46,964.77 1203.75,963.46 1204.07,962.12 1204.41,960.76 1204.76,959.38 1205.12,957.96 1205.46,956.51 1205.79,955.02 1206.10,953.49 1206.37,951.91 1206.60,950.28 1206.78,948.59 1206.90,946.84 1206.96,945.68 1207.01,944.48 1207.06,943.25 1207.11,941.99 1207.16,940.70 1207.20,939.39 1207.24,938.05 1207.28,936.68 1207.32,935.29 1207.36,933.87 1207.39,932.43 1207.42,930.97 1207.46,929.49 1207.49,927.98 1207.51,926.46 1207.54,924.92 1207.57,923.36 1207.59,921.79 1207.62,920.20 1207.64,918.60 1207.67,916.98 1207.69,915.35 1207.71,913.71 1207.74,912.06 1207.76,910.40 1207.78,908.73 1207.81,907.06 1207.83,905.37 1207.85,903.68 1207.88,901.99 1207.90,900.29 1207.92,898.99 1207.94,897.67 1207.95,896.33 1207.97,894.97 1207.99,893.60 1208.01,892.20 1208.02,890.79 1208.04,889.36 1208.05,887.92 1208.07,886.46 1208.08,884.99 1208.10,883.51 1208.11,882.01 1208.13,880.50 1208.14,878.98 1208.16,877.46 1208.17,875.92 1208.19,874.37 1208.20,872.81 1208.21,871.25 1208.23,869.68 1208.24,868.11 1208.25,866.53 1208.27,864.94 1208.28,863.35 1208.29,861.76 1208.31,860.17 1208.32,858.57 1208.33,856.97 1208.35,855.38 1208.36,853.78 1208.37,852.19 1208.38,850.59 1208.40,849.00 1208.41,847.42 1208.43,845.83 1208.44,844.25 1208.45,842.68 1208.47,841.12 1208.48,839.56 1208.49,838.00 1208.51,836.46 1208.52,834.93 1208.54,833.40 1208.55,831.89 1208.57,830.39 1208.58,828.90 1208.60,827.42 1208.62,825.95 1208.63,824.50 1208.65,823.07 1208.67,821.65 1208.68,820.24 1208.70,818.86 1208.72,817.20 1208.74,815.53 1208.76,813.84 1208.78,812.15 1208.81,810.46 1208.83,808.76 1208.85,807.05 1208.87,805.34 1208.89,803.64 1208.91,801.93 1208.93,800.23 1208.95,798.53 1208.97,796.83 1209.00,795.14 1209.02,793.46 1209.04,791.80 1209.06,790.14 1209.09,788.49 1209.11,786.86 1209.14,785.25 1209.16,783.66 1209.19,782.08 1209.21,780.53 1209.24,778.99 1209.27,777.48 1209.30,776.00 1209.32,774.54 1209.35,773.12 1209.38,771.72 1209.42,770.35 1209.45,769.02 1209.48,767.72 1209.51,766.46 1209.55,765.24 1209.59,764.05 1209.62,762.91 1209.66,761.80 1209.70,760.75 1209.78,758.77 1209.88,756.71 1209.98,754.64 1210.10,752.60 1210.23,750.65 1210.36,748.85 1210.50,747.25 1210.65,745.91 1210.80,744.89 1210.95,744.23 1211.10,744.00 1211.41,744.62 1211.77,746.23 1212.12,748.42 1212.40,750.78 1212.47,751.57 1212.55,752.43 1212.62,753.37 1212.68,754.37 1212.75,755.44 1212.81,756.56 1212.87,757.75 1212.93,758.99 1212.99,760.29 1213.05,761.64 1213.10,763.04 1213.15,764.48 1213.21,765.96 1213.26,767.49 1213.31,769.05 1213.36,770.65 1213.41,772.28 1213.46,773.94 1213.50,775.63 1213.55,777.34 1213.60,779.08 1213.65,780.83 1213.69,782.60 1213.74,784.38 1213.79,786.18 1213.84,787.98 1213.89,789.79 1213.94,791.60 1213.99,793.41 1214.04,795.23 1214.09,797.03 1214.14,798.83 1214.20,800.62 1214.24,801.82 1214.27,803.05 1214.31,804.30 1214.35,805.58 1214.39,806.87 1214.42,808.18 1214.46,809.52 1214.50,810.87 1214.53,812.24 1214.57,813.63 1214.61,815.04 1214.64,816.47 1214.68,817.91 1214.72,819.36 1214.75,820.83 1214.79,822.32 1214.83,823.82 1214.86,825.33 1214.90,826.85 1214.93,828.39 1214.97,829.93 1215.01,831.49 1215.04,833.06 1215.08,834.63 1215.12,836.22 1215.15,837.81 1215.19,839.41 1215.23,841.02 1215.26,842.63 1215.30,844.25 1215.34,845.87 1215.37,847.50 1215.41,849.13 1215.45,850.77 1215.48,852.40 1215.52,854.04 1215.56,855.68 1215.60,857.32 1215.63,858.96 1215.67,860.60 1215.71,862.24 1215.75,863.88 1215.78,865.51 1215.82,867.14 1215.86,868.77 1215.90,870.39 1215.94,872.01 1215.98,873.62 1216.01,875.23 1216.05,876.83 1216.09,878.42 1216.13,880.00 1216.17,881.57 1216.21,883.14 1216.25,884.69 1216.29,886.24 1216.33,887.77 1216.37,889.29 1216.41,890.80 1216.45,892.30 1216.49,893.78 1216.53,895.25 1216.57,896.70 1216.62,898.13 1216.66,899.55 1216.70,900.96 1216.74,902.34 1216.78,903.71 1216.83,905.06 1216.87,906.39 1216.91,907.70 1216.96,908.99 1217.00,910.26 1217.06,911.98 1217.12,913.70 1217.18,915.42 1217.23,917.14 1217.29,918.86 1217.35,920.57 1217.40,922.28 1217.46,923.98 1217.51,925.67 1217.57,927.36 1217.62,929.04 1217.68,930.71 1217.73,932.37 1217.79,934.02 1217.85,935.66 1217.90,937.28 1217.96,938.89 1218.02,940.49 1218.08,942.06 1218.14,943.62 1218.21,945.17 1218.27,946.69 1218.34,948.20 1218.40,949.68 1218.47,951.14 1218.54,952.58 1218.62,953.99 1218.69,955.38 1218.77,956.75 1218.85,958.09 1218.93,959.40 1219.02,960.68 1219.11,961.93 1219.20,963.15 1219.29,964.34 1219.39,965.50 1219.49,966.63 1219.59,967.72 1219.70,968.77 1219.92,970.68 1220.17,972.57 1220.46,974.43 1220.78,976.24 1221.13,977.98 1221.51,979.64 1221.92,981.21 1222.35,982.66 1222.80,983.98 1223.28,985.16 1223.78,986.18 1224.30,987.01 1225.42,988.33 1226.81,989.52 1228.31,990.37 1229.80,990.70 1231.57,990.70 1233.39,990.70 1235.10,990.70 1236.97,990.70 1238.80,990.70 1240.12,990.41 1241.52,989.65 1242.84,988.62 1243.90,987.50 1244.62,986.37 1245.27,984.95 1245.86,983.31 1246.39,981.55 1246.87,979.75 1247.30,978.00 1247.62,976.60 1247.89,975.18 1248.15,973.74 1248.38,972.27 1248.62,970.77 1248.86,969.23 1249.11,967.64 1249.40,966.00 1249.66,964.69 1249.95,963.37 1250.27,962.03 1250.61,960.66 1250.96,959.27 1251.32,957.86 1251.66,956.40 1251.99,954.91 1252.30,953.37 1252.57,951.78 1252.80,950.15 1252.98,948.45 1253.10,946.70 1253.16,945.53 1253.21,944.33 1253.26,943.09 1253.31,941.83 1253.36,940.54 1253.40,939.22 1253.44,937.87 1253.48,936.50 1253.52,935.11 1253.56,933.68 1253.59,932.24 1253.62,930.77 1253.66,929.29 1253.69,927.78 1253.71,926.25 1253.74,924.71 1253.77,923.15 1253.79,921.57 1253.82,919.97 1253.84,918.37 1253.87,916.74 1253.89,915.11 1253.91,913.46 1253.94,911.81 1253.96,910.14 1253.98,908.47 1254.01,906.79 1254.03,905.10 1254.05,903.40 1254.08,901.70 1254.10,900.00 1254.12,898.70 1254.14,897.37 1254.15,896.03 1254.17,894.66 1254.19,893.28 1254.21,891.88 1254.22,890.47 1254.24,889.03 1254.25,887.59 1254.27,886.12 1254.28,884.65 1254.30,883.16 1254.31,881.66 1254.33,880.15 1254.34,878.62 1254.36,877.09 1254.37,875.55 1254.39,873.99 1254.40,872.43 1254.41,870.86 1254.43,869.29 1254.44,867.71 1254.45,866.12 1254.47,864.53 1254.48,862.94 1254.49,861.34 1254.51,859.74 1254.52,858.14 1254.53,856.54 1254.55,854.94 1254.56,853.34 1254.57,851.74 1254.58,850.14 1254.60,848.54 1254.61,846.95 1254.63,845.36 1254.64,843.78 1254.65,842.20 1254.67,840.63 1254.68,839.07 1254.69,837.51 1254.71,835.96 1254.72,834.42 1254.74,832.89 1254.75,831.37 1254.77,829.87 1254.78,828.37 1254.80,826.89 1254.82,825.42 1254.83,823.96 1254.85,822.52 1254.87,821.10 1254.88,819.69 1254.90,818.30 1254.92,816.63 1254.94,814.96 1254.96,813.27 1254.98,811.58 1255.01,809.87 1255.03,808.17 1255.05,806.46 1255.07,804.74 1255.09,803.03 1255.11,801.32 1255.13,799.61 1255.15,797.90 1255.17,796.20 1255.20,794.51 1255.22,792.82 1255.24,791.15 1255.26,789.49 1255.29,787.84 1255.31,786.20 1255.34,784.59 1255.36,782.99 1255.39,781.40 1255.41,779.84 1255.44,778.31 1255.47,776.79 1255.50,775.30 1255.52,773.84 1255.55,772.41 1255.58,771.01 1255.62,769.64 1255.65,768.30 1255.68,767.00 1255.71,765.73 1255.75,764.50 1255.79,763.32 1255.82,762.17 1255.86,761.06 1255.90,760.00 1255.98,758.01 1256.08,755.95 1256.18,753.87 1256.30,751.82 1256.43,749.87 1256.56,748.06 1256.70,746.46 1256.85,745.12 1257.00,744.09 1257.15,743.43 1257.30,743.20 1257.61,743.83 1257.97,745.44 1258.32,747.63 1258.60,750.00 1258.67,750.79 1258.75,751.66 1258.82,752.60 1258.88,753.60 1258.95,754.67 1259.01,755.80 1259.07,757.00 1259.13,758.24 1259.19,759.54 1259.25,760.90 1259.30,762.30 1259.35,763.74 1259.41,765.23 1259.46,766.76 1259.51,768.33 1259.56,769.94 1259.61,771.57 1259.66,773.24 1259.70,774.93 1259.75,776.65 1259.80,778.39 1259.85,780.15 1259.89,781.93 1259.94,783.71 1259.99,785.52 1260.04,787.32 1260.09,789.14 1260.14,790.96 1260.19,792.78 1260.24,794.59 1260.29,796.40 1260.34,798.21 1260.40,800.00 1260.44,801.21 1260.47,802.44 1260.51,803.70 1260.55,804.98 1260.59,806.27 1260.62,807.59 1260.66,808.93 1260.70,810.29 1260.73,811.67 1260.77,813.06 1260.81,814.47 1260.84,815.90 1260.88,817.35 1260.92,818.81 1260.95,820.28 1260.99,821.77 1261.03,823.27 1261.06,824.79 1261.10,826.32 1261.13,827.86 1261.17,829.41 1261.21,830.97 1261.24,832.55 1261.28,834.13 1261.32,835.72 1261.35,837.31 1261.39,838.92 1261.43,840.53 1261.46,842.15 1261.50,843.77 1261.54,845.40 1261.57,847.04 1261.61,848.67 1261.65,850.31 1261.68,851.96 1261.72,853.60 1261.76,855.24 1261.80,856.89 1261.83,858.54 1261.87,860.18 1261.91,861.82 1261.95,863.47 1261.98,865.11 1262.02,866.74 1262.06,868.37 1262.10,870.00 1262.14,871.62 1262.18,873.24 1262.21,874.85 1262.25,876.46 1262.29,878.05 1262.33,879.64 1262.37,881.22 1262.41,882.79 1262.45,884.35 1262.49,885.90 1262.53,887.44 1262.57,888.96 1262.61,890.48 1262.65,891.98 1262.69,893.46 1262.73,894.94 1262.77,896.39 1262.82,897.83 1262.86,899.26 1262.90,900.67 1262.94,902.06 1262.98,903.43 1263.03,904.78 1263.07,906.12 1263.11,907.43 1263.16,908.73 1263.20,910.00 1263.26,911.73 1263.32,913.45 1263.38,915.18 1263.43,916.90 1263.49,918.62 1263.55,920.34 1263.60,922.06 1263.66,923.76 1263.71,925.46 1263.77,927.16 1263.82,928.84 1263.88,930.52 1263.93,932.18 1263.99,933.84 1264.05,935.48 1264.10,937.11 1264.16,938.72 1264.22,940.32 1264.28,941.91 1264.34,943.47 1264.41,945.02 1264.47,946.55 1264.54,948.06 1264.60,949.55 1264.67,951.01 1264.74,952.46 1264.82,953.87 1264.89,955.27 1264.97,956.64 1265.05,957.98 1265.13,959.30 1265.22,960.58 1265.31,961.84 1265.40,963.06 1265.49,964.26 1265.59,965.42 1265.69,966.55 1265.79,967.64 1265.90,968.70 1266.12,970.61 1266.37,972.51 1266.66,974.37 1266.98,976.19 1267.33,977.94 1267.71,979.61 1268.12,981.18 1268.55,982.64 1269.00,983.96 1269.48,985.14 1269.98,986.16 1270.50,987.00 1271.62,988.32 1273.01,989.51 1274.51,990.37 1276.00,990.70 1277.77,990.70 1279.59,990.70 1281.30,990.70 1283.17,990.70 1285.00,990.70 1286.32,990.41 1287.72,989.65 1289.04,988.62 1290.10,987.50 1290.82,986.37 1291.47,984.95 1292.06,983.31 1292.59,981.55 1293.07,979.75 1293.50,978.00 1293.82,976.60 1294.09,975.18 1294.35,973.74 1294.58,972.27 1294.82,970.77 1295.06,969.23 1295.31,967.64 1295.60,966.00 1295.86,964.69 1296.15,963.37 1296.47,962.03 1296.81,960.66 1297.16,959.27 1297.52,957.86 1297.86,956.40 1298.19,954.91 1298.50,953.37 1298.77,951.78 1299.00,950.15 1299.18,948.45 1299.30,946.70 1299.36,945.53 1299.41,944.33 1299.46,943.09 1299.51,941.83 1299.56,940.54 1299.60,939.22 1299.64,937.87 1299.68,936.50 1299.72,935.11 1299.76,933.68 1299.79,932.24 1299.82,930.77 1299.86,929.29 1299.89,927.78 1299.91,926.25 1299.94,924.71 1299.97,923.15 1299.99,921.57 1300.02,919.97 1300.04,918.37 1300.07,916.74 1300.09,915.11 1300.11,913.46 1300.14,911.81 1300.16,910.14 1300.18,908.47 1300.21,906.79 1300.23,905.10 1300.25,903.40 1300.28,901.70 1300.30,900.00 1300.32,898.70 1300.34,897.37 1300.35,896.03 1300.37,894.66 1300.39,893.28 1300.41,891.88 1300.42,890.47 1300.44,889.03 1300.45,887.59 1300.47,886.12 1300.48,884.65 1300.50,883.16 1300.51,881.66 1300.53,880.15 1300.54,878.62 1300.56,877.09 1300.57,875.55 1300.59,873.99 1300.60,872.43 1300.61,870.86 1300.63,869.29 1300.64,867.71 1300.65,866.12 1300.67,864.53 1300.68,862.94 1300.69,861.34 1300.71,859.74 1300.72,858.14 1300.73,856.54 1300.75,854.94 1300.76,853.34 1300.77,851.74 1300.78,850.14 1300.80,848.54 1300.81,846.95 1300.83,845.36 1300.84,843.78 1300.85,842.20 1300.87,840.63 1300.88,839.07 1300.89,837.51 1300.91,835.96 1300.92,834.42 1300.94,832.89 1300.95,831.37 1300.97,829.87 1300.98,828.37 1301.00,826.89 1301.02,825.42 1301.03,823.96 1301.05,822.52 1301.07,821.10 1301.08,819.69 1301.10,818.30 1301.12,816.63 1301.14,814.96 1301.16,813.27 1301.18,811.58 1301.21,809.87 1301.23,808.17 1301.25,806.46 1301.27,804.74 1301.29,803.03 1301.31,801.32 1301.33,799.61 1301.35,797.90 1301.37,796.20 1301.40,794.51 1301.42,792.82 1301.44,791.15 1301.46,789.49 1301.49,787.84 1301.51,786.20 1301.54,784.59 1301.56,782.99 1301.59,781.40 1301.61,779.84 1301.64,778.31 1301.67,776.79 1301.70,775.30 1301.72,773.84 1301.75,772.41 1301.78,771.01 1301.82,769.64 1301.85,768.30 1301.88,767.00 1301.91,765.73 1301.95,764.50 1301.99,763.32 1302.02,762.17 1302.06,761.06 1302.10,760.00 1302.18,758.01 1302.28,755.95 1302.38,753.87 1302.50,751.82 1302.63,749.87 1302.76,748.06 1302.90,746.46 1303.05,745.12 1303.20,744.09 1303.35,743.43 1303.50,743.20 1303.81,743.83 1304.17,745.44 1304.52,747.63 1304.80,750.00 1304.87,750.79 1304.95,751.66 1305.02,752.60 1305.08,753.60 1305.15,754.67 1305.21,755.80 1305.27,757.00 1305.33,758.24 1305.39,759.54 1305.45,760.90 1305.50,762.30 1305.55,763.74 1305.61,765.23 1305.66,766.76 1305.71,768.33 1305.76,769.94 1305.81,771.57 1305.86,773.24 1305.90,774.93 1305.95,776.65 1306.00,778.39 1306.05,780.15 1306.09,781.93 1306.14,783.71 1306.19,785.52 1306.24,787.32 1306.29,789.14 1306.34,790.96 1306.39,792.78 1306.44,794.59 1306.49,796.40 1306.54,798.21 1306.60,800.00 1306.64,801.21 1306.67,802.44 1306.71,803.70 1306.75,804.98 1306.79,806.27 1306.82,807.59 1306.86,808.93 1306.90,810.29 1306.93,811.67 1306.97,813.06 1307.01,814.47 1307.04,815.90 1307.08,817.35 1307.12,818.81 1307.15,820.28 1307.19,821.77 1307.23,823.27 1307.26,824.79 1307.30,826.32 1307.33,827.86 1307.37,829.41 1307.41,830.97 1307.44,832.55 1307.48,834.13 1307.52,835.72 1307.55,837.31 1307.59,838.92 1307.63,840.53 1307.66,842.15 1307.70,843.77 1307.74,845.40 1307.77,847.04 1307.81,848.67 1307.85,850.31 1307.88,851.96 1307.92,853.60 1307.96,855.24 1308.00,856.89 1308.03,858.54 1308.07,860.18 1308.11,861.82 1308.15,863.47 1308.18,865.11 1308.22,866.74 1308.26,868.37 1308.30,870.00 1308.34,871.62 1308.38,873.24 1308.41,874.85 1308.45,876.46 1308.49,878.05 1308.53,879.64 1308.57,881.22 1308.61,882.79 1308.65,884.35 1308.69,885.90 1308.73,887.44 1308.77,888.96 1308.81,890.48 1308.85,891.98 1308.89,893.46 1308.93,894.94 1308.97,896.39 1309.02,897.83 1309.06,899.26 1309.10,900.67 1309.14,902.06 1309.18,903.43 1309.23,904.78 1309.27,906.12 1309.31,907.43 1309.36,908.73 1309.40,910.00 1309.46,911.73 1309.52,913.45 1309.58,915.18 1309.63,916.90 1309.69,918.62 1309.75,920.34 1309.80,922.06 1309.86,923.76 1309.91,925.46 1309.97,927.16 1310.02,928.84 1310.08,930.52 1310.13,932.18 1310.19,933.84 1310.25,935.48 1310.30,937.11 1310.36,938.72 1310.42,940.32 1310.48,941.91 1310.54,943.47 1310.61,945.02 1310.67,946.55 1310.74,948.06 1310.80,949.55 1310.87,951.01 1310.94,952.46 1311.02,953.87 1311.09,955.27 1311.17,956.64 1311.25,957.98 1311.33,959.30 1311.42,960.58 1311.51,961.84 1311.60,963.06 1311.69,964.26 1311.79,965.42 1311.89,966.55 1311.99,967.64 1312.10,968.70 1312.32,970.61 1312.57,972.51 1312.86,974.37 1313.18,976.19 1313.53,977.94 1313.91,979.61 1314.32,981.18 1314.75,982.64 1315.20,983.96 1315.68,985.14 1316.18,986.16 1316.70,987.00 1317.82,988.32 1319.21,989.51 1320.71,990.37 1322.20,990.70 1323.86,990.70 1325.57,990.70 1327.50,990.70 1328.76,990.66 1330.11,990.56 1331.55,990.40 1333.08,990.19 1334.69,989.94 1336.38,989.65 1338.15,989.33 1340.00,989.00" stroke="#bd0a0c" stroke-width="3.3" fill="none" stroke-linejoin="round" stroke-linecap="round" clip-path="url(#clipD)"/>
<text x="1202.80" y="735.80" font-size="25" text-anchor="start" >B/Cdk1</text>
<text x="883.70" y="919.30" font-size="25" text-anchor="start" >A/Cdk2</text>
<path d="M972.70 638.00V673.40" stroke="#000" stroke-width="1.9" fill="none"/><path d="M966.70 671.40H978.70L972.70 687.40Z" fill="#000"/>
<text x="986.60" y="667.10" font-size="25" text-anchor="start" >Increase in Cdc25</text>

<path d="M100.00,1548.75 102.53,1548.75 105.04,1548.75 107.53,1548.75 109.99,1548.75 112.43,1548.75 114.85,1548.75 117.25,1548.75 119.63,1548.75 121.99,1548.75 124.32,1548.75 126.63,1548.75 128.92,1548.75 131.18,1548.75 133.43,1548.75 135.65,1548.75 137.85,1548.75 140.02,1548.75 142.18,1548.75 144.31,1548.75 146.42,1548.75 148.50,1548.75 150.56,1548.75 152.60,1548.75 154.62,1548.75 156.61,1548.75 158.59,1548.75 160.53,1548.75 162.46,1548.75 164.36,1548.75 166.24,1548.75 168.10,1548.75 169.93,1548.75 171.74,1548.75 173.52,1548.75 175.28,1548.75 177.02,1548.75 178.74,1548.75 180.43,1548.75 182.10,1548.75 183.74,1548.75 185.36,1548.75 186.96,1548.75 188.53,1548.75 190.08,1548.75 191.60,1548.75 193.10,1548.75 194.58,1548.75 196.03,1548.75 197.46,1548.75 198.87,1548.75 200.25,1548.75 201.60,1548.75 202.93,1548.75 204.24,1548.75 205.52,1548.75 206.78,1548.75 208.01,1548.75 209.22,1548.75 210.41,1548.75 211.56,1548.75 212.70,1548.75 213.81,1548.75 214.89,1548.75 215.95,1548.75 216.99,1548.75 218.00,1548.75 218.98,1548.75 219.94,1548.75 220.88,1548.75 221.79,1548.75 222.67,1548.75 223.53,1548.75 224.36,1548.75 225.17,1548.75 225.95,1548.75 226.71,1548.75 227.44,1548.75 228.15,1548.75 228.83,1548.75 229.48,1548.75 230.11,1548.75 230.71,1548.75 231.29,1548.75 231.84,1548.75 232.36,1548.75 232.86,1548.75 233.33,1548.75 233.78,1548.75 234.20,1548.75 236.15,1548.90 237.62,1549.28 238.90,1549.80 239.99,1550.67 240.99,1552.10 241.89,1553.80 242.70,1555.50 243.35,1557.09 243.92,1558.83 244.47,1560.64 245.01,1562.40 245.60,1564.00 246.23,1565.59 246.87,1567.14 247.57,1568.52 248.40,1569.60 249.70,1570.70 251.30,1571.62 253.10,1572.00 254.45,1571.98 255.98,1571.93 257.61,1571.85 259.30,1571.75 260.98,1571.63 262.60,1571.50 264.18,1571.32 265.75,1571.07 267.32,1570.76 268.89,1570.40 270.45,1570.01 272.00,1569.60 273.64,1569.13 275.34,1568.58 277.03,1567.96 278.66,1567.30 280.17,1566.61 281.50,1565.90 282.86,1565.07 284.09,1564.20 285.21,1563.22 286.20,1562.10 286.98,1561.00 287.74,1559.73 288.46,1558.31 289.10,1556.80 289.62,1555.21 290.00,1553.60 290.23,1552.19 290.43,1550.66 290.61,1549.05 290.77,1547.38 290.91,1545.69 291.04,1544.01 291.16,1542.38 291.28,1540.83 291.40,1539.40 291.55,1537.52 291.68,1535.70 291.80,1533.98 291.94,1532.40 292.10,1531.00 292.47,1528.72 292.90,1527.50 293.31,1528.72 293.70,1531.00 293.93,1532.38 294.14,1533.93 294.36,1535.63 294.57,1537.46 294.80,1539.40 294.95,1540.72 295.09,1542.17 295.24,1543.72 295.39,1545.36 295.54,1547.06 295.70,1548.78 295.85,1550.51 296.01,1552.21 296.18,1553.87 296.35,1555.45 296.52,1556.94 296.70,1558.30 296.95,1560.09 297.21,1561.78 297.48,1563.39 297.77,1564.92 298.11,1566.39 298.50,1567.80 299.03,1569.29 299.69,1570.78 300.46,1572.17 301.34,1573.40 302.30,1574.40 303.50,1575.27 304.97,1576.08 306.59,1576.78 308.27,1577.33 309.90,1577.70 311.45,1577.95 313.03,1578.17 314.62,1578.34 316.25,1578.46 317.90,1578.50 319.32,1578.34 320.78,1577.92 322.25,1577.31 323.74,1576.57 325.23,1575.77 326.72,1574.99 328.20,1574.30 329.67,1573.67 331.15,1573.05 332.61,1572.41 334.08,1571.77 335.55,1571.11 337.02,1570.42 338.50,1569.70 339.91,1569.01 341.38,1568.29 342.87,1567.55 344.36,1566.78 345.80,1566.00 347.16,1565.19 348.40,1564.35 349.50,1563.50 350.79,1562.39 352.01,1561.24 353.11,1560.03 354.03,1558.73 354.70,1557.30 355.14,1555.89 355.54,1554.31 355.89,1552.60 356.19,1550.81 356.45,1549.00 356.65,1547.21 356.80,1545.50 356.91,1543.96 357.00,1542.49 357.07,1541.04 357.14,1539.57 357.20,1538.02 357.25,1536.34 357.30,1534.50 357.32,1533.37 357.35,1532.14 357.37,1530.82 357.39,1529.42 357.40,1527.95 357.42,1526.42 357.44,1524.83 357.45,1523.20 357.46,1521.54 357.48,1519.86 357.49,1518.16 357.51,1516.46 357.52,1514.76 357.53,1513.09 357.55,1511.43 357.57,1509.82 357.58,1508.24 357.60,1506.73 357.62,1505.27 357.65,1503.90 357.67,1502.60 357.70,1501.40 357.76,1499.44 357.84,1497.57 357.93,1495.79 358.03,1494.10 358.15,1492.48 358.26,1490.92 358.38,1489.44 358.50,1488.00 358.68,1485.69 358.88,1483.31 359.09,1481.45 359.30,1480.70 359.55,1481.59 359.82,1483.66 360.10,1486.00 360.25,1487.17 360.41,1488.46 360.58,1489.85 360.74,1491.33 360.92,1492.89 361.09,1494.51 361.27,1496.18 361.45,1497.90 361.62,1499.64 361.80,1501.40 361.93,1502.69 362.05,1504.02 362.18,1505.40 362.31,1506.81 362.44,1508.26 362.58,1509.74 362.71,1511.25 362.84,1512.78 362.97,1514.32 363.11,1515.89 363.24,1517.46 363.37,1519.04 363.51,1520.63 363.64,1522.21 363.77,1523.80 363.90,1525.37 364.04,1526.93 364.17,1528.47 364.30,1530.00 364.43,1531.56 364.56,1533.16 364.69,1534.79 364.81,1536.46 364.94,1538.14 365.06,1539.84 365.18,1541.53 365.31,1543.23 365.43,1544.91 365.56,1546.57 365.68,1548.20 365.81,1549.80 365.94,1551.35 366.07,1552.86 366.21,1554.30 366.35,1555.67 366.50,1556.97 366.65,1558.18 366.80,1559.30 367.08,1561.14 367.38,1562.82 367.70,1564.38 368.03,1565.83 368.40,1567.19 368.80,1568.50 369.51,1570.49 370.36,1572.29 371.40,1573.80 372.45,1574.78 373.75,1575.66 375.20,1576.42 376.70,1577.00 378.07,1577.43 379.52,1577.83 381.04,1578.18 382.61,1578.41 384.20,1578.50 385.60,1578.34 387.04,1577.92 388.52,1577.31 390.02,1576.57 391.52,1575.77 393.02,1574.99 394.50,1574.30 395.97,1573.67 397.45,1573.05 398.91,1572.41 400.38,1571.77 401.85,1571.11 403.32,1570.42 404.80,1569.70 406.21,1569.01 407.68,1568.29 409.17,1567.55 410.66,1566.78 412.10,1566.00 413.46,1565.19 414.70,1564.35 415.80,1563.50 417.09,1562.39 418.31,1561.24 419.41,1560.03 420.33,1558.73 421.00,1557.30 421.44,1555.89 421.84,1554.31 422.19,1552.60 422.49,1550.81 422.75,1549.00 422.95,1547.21 423.10,1545.50 423.21,1543.96 423.30,1542.49 423.37,1541.04 423.44,1539.57 423.50,1538.02 423.55,1536.34 423.60,1534.50 423.62,1533.37 423.65,1532.14 423.67,1530.82 423.69,1529.42 423.70,1527.95 423.72,1526.42 423.74,1524.83 423.75,1523.20 423.76,1521.54 423.78,1519.86 423.79,1518.16 423.81,1516.46 423.82,1514.76 423.83,1513.09 423.85,1511.43 423.87,1509.82 423.88,1508.24 423.90,1506.73 423.92,1505.27 423.95,1503.90 423.97,1502.60 424.00,1501.40 424.06,1499.44 424.14,1497.57 424.23,1495.79 424.33,1494.10 424.45,1492.48 424.56,1490.92 424.68,1489.44 424.80,1488.00 424.98,1485.69 425.18,1483.31 425.39,1481.45 425.60,1480.70 425.85,1481.59 426.12,1483.66 426.40,1486.00 426.55,1487.17 426.71,1488.46 426.88,1489.85 427.04,1491.33 427.22,1492.89 427.39,1494.51 427.57,1496.18 427.75,1497.90 427.92,1499.64 428.10,1501.40 428.23,1502.69 428.35,1504.02 428.48,1505.40 428.61,1506.81 428.74,1508.26 428.88,1509.74 429.01,1511.25 429.14,1512.78 429.27,1514.32 429.41,1515.89 429.54,1517.46 429.67,1519.04 429.81,1520.63 429.94,1522.21 430.07,1523.80 430.20,1525.37 430.34,1526.93 430.47,1528.47 430.60,1530.00 430.73,1531.56 430.86,1533.16 430.99,1534.79 431.11,1536.46 431.24,1538.14 431.36,1539.84 431.48,1541.53 431.61,1543.23 431.73,1544.91 431.86,1546.57 431.98,1548.20 432.11,1549.80 432.24,1551.35 432.37,1552.86 432.51,1554.30 432.65,1555.67 432.80,1556.97 432.95,1558.18 433.10,1559.30 433.38,1561.14 433.68,1562.82 434.00,1564.38 434.33,1565.83 434.70,1567.19 435.10,1568.50 435.81,1570.49 436.66,1572.29 437.70,1573.80 438.75,1574.77 440.07,1575.66 441.52,1576.41 443.00,1577.00 444.60,1577.53 446.29,1578.01 448.06,1578.36 449.90,1578.50 451.28,1578.34 452.71,1577.92 454.19,1577.31 455.69,1576.57 457.21,1575.77 458.72,1574.99 460.20,1574.30 461.67,1573.67 463.15,1573.05 464.61,1572.41 466.08,1571.77 467.55,1571.11 469.02,1570.42 470.50,1569.70 471.91,1569.01 473.38,1568.29 474.87,1567.55 476.36,1566.78 477.80,1566.00 479.16,1565.19 480.40,1564.35 481.50,1563.50 482.79,1562.39 484.01,1561.24 485.11,1560.03 486.03,1558.73 486.70,1557.30 487.14,1555.89 487.54,1554.31 487.89,1552.60 488.19,1550.81 488.45,1549.00 488.65,1547.21 488.80,1545.50 488.91,1543.96 489.00,1542.49 489.07,1541.04 489.14,1539.57 489.20,1538.02 489.25,1536.34 489.30,1534.50 489.32,1533.37 489.35,1532.14 489.37,1530.82 489.39,1529.42 489.40,1527.95 489.42,1526.42 489.44,1524.83 489.45,1523.20 489.46,1521.54 489.48,1519.86 489.49,1518.16 489.51,1516.46 489.52,1514.76 489.53,1513.09 489.55,1511.43 489.57,1509.82 489.58,1508.24 489.60,1506.73 489.62,1505.27 489.65,1503.90 489.67,1502.60 489.70,1501.40 489.76,1499.44 489.84,1497.57 489.93,1495.79 490.03,1494.10 490.15,1492.48 490.26,1490.92 490.38,1489.44 490.50,1488.00 490.68,1485.69 490.88,1483.31 491.09,1481.45 491.30,1480.70 491.55,1481.59 491.82,1483.66 492.10,1486.00 492.25,1487.17 492.41,1488.46 492.58,1489.85 492.74,1491.33 492.92,1492.89 493.09,1494.51 493.27,1496.18 493.45,1497.90 493.62,1499.64 493.80,1501.40 493.93,1502.69 494.05,1504.02 494.18,1505.40 494.31,1506.81 494.44,1508.26 494.58,1509.74 494.71,1511.25 494.84,1512.78 494.97,1514.32 495.11,1515.89 495.24,1517.46 495.37,1519.04 495.51,1520.63 495.64,1522.21 495.77,1523.80 495.90,1525.37 496.04,1526.93 496.17,1528.47 496.30,1530.00 496.43,1531.56 496.56,1533.16 496.69,1534.79 496.81,1536.46 496.94,1538.14 497.06,1539.84 497.18,1541.53 497.31,1543.23 497.43,1544.91 497.56,1546.57 497.68,1548.20 497.81,1549.80 497.94,1551.35 498.07,1552.86 498.21,1554.30 498.35,1555.67 498.50,1556.97 498.65,1558.18 498.80,1559.30 499.08,1561.14 499.38,1562.82 499.70,1564.38 500.03,1565.83 500.40,1567.19 500.80,1568.50 501.51,1570.49 502.36,1572.29 503.40,1573.80 504.45,1574.78 505.76,1575.66 507.21,1576.42 508.70,1577.00 510.34,1577.53 512.09,1578.01 513.91,1578.36 515.80,1578.50 517.18,1578.34 518.62,1577.92 520.10,1577.31 521.60,1576.57 523.11,1575.77 524.62,1574.99 526.10,1574.30 527.57,1573.67 529.05,1573.05 530.51,1572.41 531.98,1571.77 533.45,1571.11 534.92,1570.42 536.40,1569.70 537.81,1569.01 539.28,1568.29 540.77,1567.55 542.26,1566.78 543.70,1566.00 545.06,1565.19 546.30,1564.35 547.40,1563.50 548.69,1562.39 549.91,1561.24 551.01,1560.03 551.93,1558.73 552.60,1557.30 553.04,1555.89 553.44,1554.31 553.79,1552.60 554.09,1550.81 554.35,1549.00 554.55,1547.21 554.70,1545.50 554.81,1543.96 554.90,1542.49 554.97,1541.04 555.04,1539.57 555.10,1538.02 555.15,1536.34 555.20,1534.50 555.22,1533.37 555.25,1532.14 555.27,1530.82 555.29,1529.42 555.30,1527.95 555.32,1526.42 555.34,1524.83 555.35,1523.20 555.36,1521.54 555.38,1519.86 555.39,1518.16 555.41,1516.46 555.42,1514.76 555.43,1513.09 555.45,1511.43 555.47,1509.82 555.48,1508.24 555.50,1506.73 555.52,1505.27 555.55,1503.90 555.57,1502.60 555.60,1501.40 555.66,1499.44 555.74,1497.57 555.83,1495.79 555.93,1494.10 556.05,1492.48 556.16,1490.92 556.28,1489.44 556.40,1488.00 556.58,1485.69 556.78,1483.31 556.99,1481.45 557.20,1480.70 557.45,1481.59 557.72,1483.66 558.00,1486.00 558.15,1487.17 558.31,1488.46 558.48,1489.85 558.64,1491.33 558.82,1492.89 558.99,1494.51 559.17,1496.18 559.35,1497.90 559.52,1499.64 559.70,1501.40 559.83,1502.69 559.95,1504.02 560.08,1505.40 560.21,1506.81 560.34,1508.26 560.48,1509.74 560.61,1511.25 560.74,1512.78 560.87,1514.32 561.01,1515.89 561.14,1517.46 561.27,1519.04 561.41,1520.63 561.54,1522.21 561.67,1523.80 561.80,1525.37 561.94,1526.93 562.07,1528.47 562.20,1530.00 562.33,1531.56 562.46,1533.16 562.59,1534.79 562.71,1536.46 562.84,1538.14 562.96,1539.84 563.08,1541.53 563.21,1543.23 563.33,1544.91 563.46,1546.57 563.58,1548.20 563.71,1549.80 563.84,1551.35 563.97,1552.86 564.11,1554.30 564.25,1555.67 564.40,1556.97 564.55,1558.18 564.70,1559.30 564.98,1561.14 565.28,1562.82 565.60,1564.38 565.93,1565.83 566.30,1567.19 566.70,1568.50 567.41,1570.49 568.26,1572.29 569.30,1573.80 570.35,1574.78 571.65,1575.67 573.10,1576.42 574.60,1577.00 575.98,1577.43 577.46,1577.83 579.00,1578.18 580.59,1578.41 582.20,1578.50 583.62,1578.34 585.10,1577.90 586.61,1577.27 588.14,1576.51 589.65,1575.72 591.11,1574.95 592.50,1574.30 594.10,1573.62 595.65,1572.95 597.15,1572.29 598.60,1571.64 600.00,1571.00" stroke="#2e5b20" stroke-width="3.3" fill="none" stroke-linejoin="round" stroke-linecap="round" clip-path="url(#clipE)"/>
<path d="M100.00,1574.90 102.69,1574.90 105.36,1574.90 108.00,1574.90 110.62,1574.90 113.21,1574.90 115.78,1574.90 118.32,1574.90 120.84,1574.90 123.33,1574.90 125.79,1574.90 128.23,1574.90 130.64,1574.90 133.02,1574.90 135.38,1574.90 137.72,1574.90 140.02,1574.90 142.30,1574.90 144.56,1574.90 146.79,1574.90 148.99,1574.90 151.16,1574.90 153.31,1574.90 155.43,1574.90 157.53,1574.90 159.60,1574.90 161.64,1574.90 163.65,1574.90 165.64,1574.90 167.60,1574.90 169.54,1574.90 171.44,1574.90 173.32,1574.90 175.17,1574.90 177.00,1574.90 178.79,1574.90 180.56,1574.90 182.31,1574.90 184.02,1574.90 185.71,1574.90 187.37,1574.90 189.00,1574.90 190.60,1574.90 192.18,1574.90 193.73,1574.90 195.25,1574.90 196.74,1574.90 198.20,1574.90 199.64,1574.90 201.04,1574.90 202.42,1574.90 203.77,1574.90 205.09,1574.90 206.39,1574.90 207.65,1574.90 208.89,1574.90 210.10,1574.90 211.28,1574.90 212.42,1574.90 213.55,1574.90 214.64,1574.90 215.70,1574.90 216.73,1574.90 217.74,1574.90 218.71,1574.90 219.66,1574.90 220.58,1574.90 221.47,1574.90 222.32,1574.90 223.15,1574.90 223.95,1574.90 224.72,1574.90 225.46,1574.90 226.17,1574.90 226.85,1574.90 227.50,1574.90 228.12,1574.90 228.71,1574.90 229.27,1574.90 229.80,1574.90 230.30,1574.90 230.77,1574.90 231.21,1574.90 231.62,1574.90 231.99,1574.90 232.34,1574.90 232.66,1574.90 232.94,1574.90 233.20,1574.90 234.26,1574.41 235.10,1573.40 235.85,1572.34 236.62,1570.87 237.40,1569.17 238.17,1567.45 238.90,1565.90 239.62,1564.31 240.29,1562.70 240.98,1561.26 241.80,1560.20 243.50,1558.92 245.60,1558.30 246.87,1558.35 248.28,1558.48 249.80,1558.62 251.41,1558.75 253.10,1558.80 254.48,1558.75 255.98,1558.60 257.55,1558.38 259.19,1558.10 260.85,1557.77 262.52,1557.42 264.17,1557.07 265.77,1556.72 267.30,1556.40 269.04,1556.04 270.79,1555.66 272.53,1555.26 274.22,1554.85 275.83,1554.44 277.33,1554.02 278.70,1553.60 280.67,1552.95 282.42,1552.29 284.00,1551.50 285.54,1550.57 286.95,1549.42 287.80,1548.00 288.02,1546.93 288.21,1545.65 288.37,1544.17 288.50,1542.54 288.61,1540.77 288.71,1538.91 288.80,1536.97 288.90,1535.00 288.96,1533.84 289.01,1532.62 289.07,1531.34 289.12,1530.01 289.17,1528.64 289.22,1527.21 289.27,1525.75 289.32,1524.25 289.36,1522.72 289.41,1521.16 289.45,1519.57 289.50,1517.97 289.54,1516.34 289.58,1514.70 289.62,1513.06 289.66,1511.40 289.69,1509.75 289.73,1508.10 289.77,1506.45 289.80,1504.81 289.84,1503.19 289.87,1501.58 289.90,1500.00 289.93,1498.52 289.96,1497.06 289.99,1495.60 290.02,1494.16 290.04,1492.73 290.07,1491.30 290.10,1489.87 290.13,1488.44 290.15,1487.01 290.18,1485.57 290.20,1484.13 290.23,1482.68 290.25,1481.21 290.27,1479.73 290.30,1478.24 290.32,1476.72 290.34,1475.19 290.36,1473.63 290.38,1472.04 290.40,1470.43 290.42,1468.78 290.44,1467.10 290.45,1465.38 290.47,1463.63 290.49,1461.84 290.50,1460.00 290.51,1458.85 290.52,1457.67 290.52,1456.46 290.53,1455.23 290.54,1453.96 290.55,1452.67 290.56,1451.36 290.56,1450.02 290.57,1448.66 290.58,1447.28 290.58,1445.87 290.59,1444.44 290.60,1443.00 290.60,1441.53 290.61,1440.05 290.61,1438.54 290.62,1437.03 290.63,1435.49 290.63,1433.95 290.64,1432.38 290.64,1430.81 290.65,1429.22 290.65,1427.62 290.66,1426.01 290.66,1424.39 290.67,1422.77 290.67,1421.13 290.68,1419.49 290.68,1417.84 290.69,1416.19 290.69,1414.53 290.70,1412.87 290.70,1411.20 290.71,1409.54 290.71,1407.87 290.72,1406.20 290.72,1404.54 290.73,1402.87 290.73,1401.21 290.74,1399.55 290.74,1397.90 290.74,1396.25 290.75,1394.60 290.75,1392.97 290.76,1391.34 290.76,1389.72 290.77,1388.11 290.77,1386.51 290.78,1384.92 290.79,1383.34 290.79,1381.78 290.80,1380.23 290.80,1378.69 290.81,1377.17 290.81,1375.67 290.82,1374.18 290.82,1372.71 290.83,1371.26 290.84,1369.83 290.84,1368.42 290.85,1367.04 290.86,1365.67 290.86,1364.33 290.87,1363.01 290.88,1361.72 290.88,1360.45 290.89,1359.21 290.90,1358.00 290.91,1356.23 290.92,1354.49 290.94,1352.78 290.95,1351.10 290.96,1349.44 290.97,1347.81 290.99,1346.20 291.00,1344.61 291.01,1343.05 291.03,1341.50 291.04,1339.97 291.06,1338.46 291.07,1336.96 291.09,1335.48 291.10,1334.00 291.12,1332.54 291.13,1331.09 291.15,1329.65 291.17,1328.21 291.18,1326.78 291.20,1325.35 291.22,1323.93 291.24,1322.50 291.26,1321.08 291.28,1319.66 291.30,1318.23 291.32,1316.80 291.34,1315.36 291.36,1313.91 291.38,1312.46 291.40,1311.00 291.42,1309.40 291.45,1307.76 291.47,1306.08 291.50,1304.38 291.52,1302.65 291.55,1300.91 291.57,1299.15 291.60,1297.39 291.63,1295.63 291.66,1293.87 291.69,1292.11 291.72,1290.38 291.75,1288.66 291.79,1286.96 291.82,1285.30 291.86,1283.67 291.90,1282.08 291.94,1280.54 291.98,1279.05 292.02,1277.62 292.07,1276.24 292.12,1274.94 292.17,1273.71 292.22,1272.55 292.28,1271.48 292.34,1270.49 292.40,1269.60 292.64,1267.29 292.98,1265.23 293.41,1263.58 293.90,1262.50 294.58,1261.82 295.40,1261.50 296.39,1261.82 297.40,1262.50 298.34,1263.59 299.23,1265.23 300.10,1267.20 300.49,1268.21 300.88,1269.37 301.26,1270.67 301.65,1272.08 302.03,1273.59 302.40,1275.19 302.78,1276.85 303.15,1278.56 303.51,1280.30 303.87,1282.07 304.22,1283.83 304.56,1285.58 304.90,1287.30 305.18,1288.71 305.45,1290.16 305.73,1291.63 306.01,1293.13 306.29,1294.65 306.56,1296.19 306.83,1297.75 307.11,1299.33 307.37,1300.91 307.63,1302.51 307.89,1304.11 308.13,1305.72 308.37,1307.33 308.60,1308.95 308.83,1310.55 309.04,1312.15 309.24,1313.75 309.43,1315.33 309.60,1316.90 309.76,1318.45 309.92,1320.00 310.07,1321.54 310.21,1323.08 310.35,1324.61 310.48,1326.15 310.61,1327.68 310.74,1329.22 310.86,1330.75 310.97,1332.30 311.09,1333.84 311.21,1335.39 311.32,1336.95 311.43,1338.52 311.54,1340.09 311.65,1341.68 311.77,1343.27 311.88,1344.88 312.00,1346.50 312.11,1347.97 312.21,1349.42 312.32,1350.87 312.43,1352.32 312.54,1353.76 312.65,1355.21 312.75,1356.65 312.86,1358.10 312.97,1359.56 313.07,1361.02 313.18,1362.50 313.28,1363.99 313.38,1365.50 313.48,1367.03 313.58,1368.58 313.68,1370.15 313.77,1371.75 313.87,1373.37 313.96,1375.03 314.05,1376.72 314.14,1378.44 314.22,1380.20 314.30,1382.00 314.35,1383.21 314.40,1384.46 314.46,1385.74 314.51,1387.05 314.56,1388.39 314.61,1389.76 314.66,1391.16 314.71,1392.59 314.76,1394.04 314.81,1395.52 314.86,1397.01 314.90,1398.53 314.95,1400.07 315.00,1401.62 315.05,1403.20 315.10,1404.78 315.14,1406.38 315.19,1408.00 315.23,1409.62 315.28,1411.25 315.33,1412.90 315.37,1414.54 315.41,1416.20 315.46,1417.85 315.50,1419.51 315.55,1421.17 315.59,1422.83 315.63,1424.49 315.67,1426.15 315.71,1427.80 315.76,1429.44 315.80,1431.08 315.84,1432.70 315.88,1434.32 315.91,1435.92 315.95,1437.51 315.99,1439.09 316.03,1440.65 316.07,1442.19 316.10,1443.72 316.14,1445.22 316.17,1446.70 316.21,1448.16 316.24,1449.59 316.28,1451.00 316.31,1452.38 316.34,1453.73 316.38,1455.05 316.41,1456.34 316.44,1457.59 316.47,1458.82 316.50,1460.00 316.54,1461.77 316.59,1463.48 316.63,1465.14 316.67,1466.75 316.70,1468.32 316.74,1469.85 316.78,1471.35 316.81,1472.83 316.84,1474.28 316.88,1475.71 316.91,1477.12 316.94,1478.53 316.97,1479.93 317.01,1481.34 317.04,1482.74 317.07,1484.16 317.11,1485.59 317.14,1487.03 317.18,1488.50 317.22,1490.00 317.26,1491.53 317.30,1493.10 317.34,1494.56 317.38,1496.05 317.42,1497.57 317.46,1499.10 317.51,1500.66 317.55,1502.23 317.59,1503.82 317.64,1505.43 317.69,1507.04 317.73,1508.65 317.78,1510.27 317.83,1511.89 317.88,1513.51 317.92,1515.13 317.97,1516.74 318.02,1518.34 318.07,1519.92 318.13,1521.49 318.18,1523.05 318.23,1524.58 318.28,1526.09 318.33,1527.57 318.39,1529.03 318.44,1530.45 318.49,1531.84 318.55,1533.19 318.60,1534.50 318.67,1536.22 318.74,1537.93 318.81,1539.64 318.88,1541.34 318.96,1543.02 319.03,1544.66 319.10,1546.27 319.18,1547.84 319.26,1549.36 319.34,1550.82 319.42,1552.21 319.51,1553.54 319.60,1554.78 319.70,1555.94 319.80,1557.00 320.01,1559.17 320.25,1561.28 320.53,1562.87 320.90,1563.50 321.51,1563.18 322.40,1562.60 323.58,1562.00 325.10,1561.31 326.83,1560.59 328.60,1559.90 329.92,1559.44 331.33,1558.99 332.82,1558.55 334.34,1558.11 335.88,1557.68 337.41,1557.24 338.90,1556.80 340.41,1556.36 341.99,1555.93 343.59,1555.50 345.15,1555.06 346.61,1554.62 347.92,1554.17 349.00,1553.70 350.79,1552.73 352.10,1551.60 353.05,1550.04 353.70,1548.00 353.90,1546.85 354.07,1545.52 354.22,1544.04 354.36,1542.43 354.48,1540.69 354.59,1538.86 354.70,1536.96 354.80,1535.00 354.86,1533.84 354.91,1532.62 354.97,1531.34 355.02,1530.01 355.07,1528.64 355.12,1527.21 355.17,1525.75 355.22,1524.25 355.26,1522.72 355.31,1521.16 355.35,1519.57 355.40,1517.97 355.44,1516.34 355.48,1514.70 355.52,1513.06 355.56,1511.40 355.59,1509.75 355.63,1508.10 355.67,1506.45 355.70,1504.81 355.74,1503.19 355.77,1501.58 355.80,1500.00 355.83,1498.52 355.86,1497.06 355.89,1495.60 355.92,1494.16 355.94,1492.73 355.97,1491.30 356.00,1489.87 356.03,1488.44 356.05,1487.01 356.08,1485.57 356.10,1484.13 356.13,1482.68 356.15,1481.21 356.17,1479.73 356.20,1478.24 356.22,1476.72 356.24,1475.19 356.26,1473.63 356.28,1472.04 356.30,1470.43 356.32,1468.78 356.34,1467.10 356.35,1465.38 356.37,1463.63 356.39,1461.84 356.40,1460.00 356.41,1458.85 356.42,1457.67 356.42,1456.46 356.43,1455.23 356.44,1453.96 356.45,1452.67 356.46,1451.36 356.46,1450.02 356.47,1448.66 356.48,1447.28 356.48,1445.87 356.49,1444.44 356.50,1443.00 356.50,1441.53 356.51,1440.05 356.51,1438.54 356.52,1437.03 356.53,1435.49 356.53,1433.95 356.54,1432.38 356.54,1430.81 356.55,1429.22 356.55,1427.62 356.56,1426.01 356.56,1424.39 356.57,1422.77 356.57,1421.13 356.58,1419.49 356.58,1417.84 356.59,1416.19 356.59,1414.53 356.60,1412.87 356.60,1411.20 356.61,1409.54 356.61,1407.87 356.62,1406.20 356.62,1404.54 356.63,1402.87 356.63,1401.21 356.64,1399.55 356.64,1397.90 356.64,1396.25 356.65,1394.60 356.65,1392.97 356.66,1391.34 356.66,1389.72 356.67,1388.11 356.67,1386.51 356.68,1384.92 356.69,1383.34 356.69,1381.78 356.70,1380.23 356.70,1378.69 356.71,1377.17 356.71,1375.67 356.72,1374.18 356.72,1372.71 356.73,1371.26 356.74,1369.83 356.74,1368.42 356.75,1367.04 356.76,1365.67 356.76,1364.33 356.77,1363.01 356.78,1361.72 356.78,1360.45 356.79,1359.21 356.80,1358.00 356.81,1356.23 356.82,1354.49 356.84,1352.78 356.85,1351.10 356.86,1349.44 356.87,1347.81 356.89,1346.20 356.90,1344.61 356.91,1343.05 356.93,1341.50 356.94,1339.97 356.96,1338.46 356.97,1336.96 356.99,1335.48 357.00,1334.00 357.02,1332.54 357.03,1331.09 357.05,1329.65 357.07,1328.21 357.08,1326.78 357.10,1325.35 357.12,1323.93 357.14,1322.50 357.16,1321.08 357.18,1319.66 357.20,1318.23 357.22,1316.80 357.24,1315.36 357.26,1313.91 357.28,1312.46 357.30,1311.00 357.32,1309.40 357.35,1307.76 357.37,1306.08 357.40,1304.38 357.42,1302.65 357.45,1300.91 357.47,1299.15 357.50,1297.39 357.53,1295.63 357.56,1293.87 357.59,1292.11 357.62,1290.38 357.65,1288.66 357.69,1286.96 357.72,1285.30 357.76,1283.67 357.80,1282.08 357.84,1280.54 357.88,1279.05 357.92,1277.62 357.97,1276.24 358.02,1274.94 358.07,1273.71 358.12,1272.55 358.18,1271.48 358.24,1270.49 358.30,1269.60 358.54,1267.29 358.88,1265.23 359.31,1263.58 359.80,1262.50 360.48,1261.82 361.30,1261.50 362.29,1261.82 363.30,1262.50 364.24,1263.59 365.13,1265.23 366.00,1267.20 366.39,1268.21 366.78,1269.37 367.16,1270.67 367.55,1272.08 367.93,1273.59 368.30,1275.19 368.68,1276.85 369.05,1278.56 369.41,1280.30 369.77,1282.07 370.12,1283.83 370.46,1285.58 370.80,1287.30 371.08,1288.71 371.35,1290.16 371.63,1291.63 371.91,1293.13 372.19,1294.65 372.46,1296.19 372.73,1297.75 373.01,1299.33 373.27,1300.91 373.53,1302.51 373.79,1304.11 374.03,1305.72 374.27,1307.33 374.50,1308.95 374.73,1310.55 374.94,1312.15 375.14,1313.75 375.33,1315.33 375.50,1316.90 375.66,1318.45 375.82,1320.00 375.97,1321.54 376.11,1323.08 376.25,1324.61 376.38,1326.15 376.51,1327.68 376.64,1329.22 376.76,1330.75 376.87,1332.30 376.99,1333.84 377.11,1335.39 377.22,1336.95 377.33,1338.52 377.44,1340.09 377.55,1341.68 377.67,1343.27 377.78,1344.88 377.90,1346.50 378.01,1347.97 378.11,1349.42 378.22,1350.87 378.33,1352.32 378.44,1353.76 378.55,1355.21 378.65,1356.65 378.76,1358.10 378.87,1359.56 378.97,1361.02 379.08,1362.50 379.18,1363.99 379.28,1365.50 379.38,1367.03 379.48,1368.58 379.58,1370.15 379.67,1371.75 379.77,1373.37 379.86,1375.03 379.95,1376.72 380.04,1378.44 380.12,1380.20 380.20,1382.00 380.25,1383.21 380.30,1384.46 380.36,1385.74 380.41,1387.05 380.46,1388.39 380.51,1389.76 380.56,1391.16 380.61,1392.59 380.66,1394.04 380.71,1395.52 380.76,1397.01 380.80,1398.53 380.85,1400.07 380.90,1401.62 380.95,1403.20 381.00,1404.78 381.04,1406.38 381.09,1408.00 381.13,1409.62 381.18,1411.25 381.23,1412.90 381.27,1414.54 381.31,1416.20 381.36,1417.85 381.40,1419.51 381.45,1421.17 381.49,1422.83 381.53,1424.49 381.57,1426.15 381.61,1427.80 381.66,1429.44 381.70,1431.08 381.74,1432.70 381.78,1434.32 381.81,1435.92 381.85,1437.51 381.89,1439.09 381.93,1440.65 381.97,1442.19 382.00,1443.72 382.04,1445.22 382.07,1446.70 382.11,1448.16 382.14,1449.59 382.18,1451.00 382.21,1452.38 382.24,1453.73 382.28,1455.05 382.31,1456.34 382.34,1457.59 382.37,1458.82 382.40,1460.00 382.44,1461.77 382.49,1463.48 382.53,1465.14 382.57,1466.75 382.60,1468.32 382.64,1469.85 382.68,1471.35 382.71,1472.83 382.74,1474.28 382.78,1475.71 382.81,1477.12 382.84,1478.53 382.87,1479.93 382.91,1481.34 382.94,1482.74 382.97,1484.16 383.01,1485.59 383.04,1487.03 383.08,1488.50 383.12,1490.00 383.16,1491.53 383.20,1493.10 383.24,1494.56 383.28,1496.05 383.32,1497.57 383.36,1499.10 383.41,1500.66 383.45,1502.23 383.49,1503.82 383.54,1505.43 383.59,1507.04 383.63,1508.65 383.68,1510.27 383.73,1511.89 383.78,1513.51 383.82,1515.13 383.87,1516.74 383.92,1518.34 383.97,1519.92 384.03,1521.49 384.08,1523.05 384.13,1524.58 384.18,1526.09 384.23,1527.57 384.29,1529.03 384.34,1530.45 384.39,1531.84 384.45,1533.19 384.50,1534.50 384.57,1536.22 384.64,1537.93 384.71,1539.64 384.78,1541.34 384.86,1543.02 384.93,1544.66 385.00,1546.27 385.08,1547.84 385.16,1549.36 385.24,1550.82 385.32,1552.21 385.41,1553.54 385.50,1554.78 385.60,1555.94 385.70,1557.00 385.91,1559.17 386.15,1561.28 386.43,1562.87 386.80,1563.50 387.41,1563.18 388.30,1562.60 389.48,1562.00 391.00,1561.31 392.73,1560.59 394.50,1559.90 395.82,1559.44 397.23,1558.99 398.70,1558.55 400.22,1558.11 401.76,1557.67 403.29,1557.24 404.80,1556.80 406.37,1556.36 408.03,1555.93 409.72,1555.50 411.37,1555.06 412.91,1554.62 414.27,1554.17 415.40,1553.70 417.19,1552.73 418.50,1551.60 419.45,1550.04 420.10,1548.00 420.30,1546.85 420.47,1545.52 420.62,1544.04 420.76,1542.43 420.88,1540.69 420.99,1538.86 421.10,1536.96 421.20,1535.00 421.26,1533.84 421.31,1532.62 421.37,1531.34 421.42,1530.01 421.47,1528.64 421.52,1527.21 421.57,1525.75 421.62,1524.25 421.66,1522.72 421.71,1521.16 421.75,1519.57 421.80,1517.97 421.84,1516.34 421.88,1514.70 421.92,1513.06 421.96,1511.40 421.99,1509.75 422.03,1508.10 422.07,1506.45 422.10,1504.81 422.14,1503.19 422.17,1501.58 422.20,1500.00 422.23,1498.52 422.26,1497.06 422.29,1495.60 422.32,1494.16 422.34,1492.73 422.37,1491.30 422.40,1489.87 422.43,1488.44 422.45,1487.01 422.48,1485.57 422.50,1484.13 422.53,1482.68 422.55,1481.21 422.57,1479.73 422.60,1478.24 422.62,1476.72 422.64,1475.19 422.66,1473.63 422.68,1472.04 422.70,1470.43 422.72,1468.78 422.74,1467.10 422.75,1465.38 422.77,1463.63 422.79,1461.84 422.80,1460.00 422.81,1458.85 422.82,1457.67 422.82,1456.46 422.83,1455.23 422.84,1453.96 422.85,1452.67 422.86,1451.36 422.86,1450.02 422.87,1448.66 422.88,1447.28 422.88,1445.87 422.89,1444.44 422.90,1443.00 422.90,1441.53 422.91,1440.05 422.91,1438.54 422.92,1437.03 422.93,1435.49 422.93,1433.95 422.94,1432.38 422.94,1430.81 422.95,1429.22 422.95,1427.62 422.96,1426.01 422.96,1424.39 422.97,1422.77 422.97,1421.13 422.98,1419.49 422.98,1417.84 422.99,1416.19 422.99,1414.53 423.00,1412.87 423.00,1411.20 423.01,1409.54 423.01,1407.87 423.02,1406.20 423.02,1404.54 423.03,1402.87 423.03,1401.21 423.04,1399.55 423.04,1397.90 423.04,1396.25 423.05,1394.60 423.05,1392.97 423.06,1391.34 423.06,1389.72 423.07,1388.11 423.07,1386.51 423.08,1384.92 423.09,1383.34 423.09,1381.78 423.10,1380.23 423.10,1378.69 423.11,1377.17 423.11,1375.67 423.12,1374.18 423.12,1372.71 423.13,1371.26 423.14,1369.83 423.14,1368.42 423.15,1367.04 423.16,1365.67 423.16,1364.33 423.17,1363.01 423.18,1361.72 423.18,1360.45 423.19,1359.21 423.20,1358.00 423.21,1356.23 423.22,1354.49 423.24,1352.78 423.25,1351.10 423.26,1349.44 423.27,1347.81 423.29,1346.20 423.30,1344.61 423.31,1343.05 423.33,1341.50 423.34,1339.97 423.36,1338.46 423.37,1336.96 423.39,1335.48 423.40,1334.00 423.42,1332.54 423.43,1331.09 423.45,1329.65 423.47,1328.21 423.48,1326.78 423.50,1325.35 423.52,1323.93 423.54,1322.50 423.56,1321.08 423.58,1319.66 423.60,1318.23 423.62,1316.80 423.64,1315.36 423.66,1313.91 423.68,1312.46 423.70,1311.00 423.72,1309.40 423.75,1307.76 423.77,1306.08 423.80,1304.38 423.82,1302.65 423.85,1300.91 423.87,1299.15 423.90,1297.39 423.93,1295.63 423.96,1293.87 423.99,1292.11 424.02,1290.38 424.05,1288.66 424.09,1286.96 424.12,1285.30 424.16,1283.67 424.20,1282.08 424.24,1280.54 424.28,1279.05 424.32,1277.62 424.37,1276.24 424.42,1274.94 424.47,1273.71 424.52,1272.55 424.58,1271.48 424.64,1270.49 424.70,1269.60 424.94,1267.29 425.28,1265.23 425.71,1263.58 426.20,1262.50 426.88,1261.82 427.70,1261.50 428.69,1261.82 429.70,1262.50 430.64,1263.59 431.53,1265.23 432.40,1267.20 432.79,1268.21 433.18,1269.37 433.56,1270.67 433.95,1272.08 434.33,1273.59 434.70,1275.19 435.08,1276.85 435.45,1278.56 435.81,1280.30 436.17,1282.07 436.52,1283.83 436.86,1285.58 437.20,1287.30 437.48,1288.71 437.75,1290.16 438.03,1291.63 438.31,1293.13 438.59,1294.65 438.86,1296.19 439.13,1297.75 439.41,1299.33 439.67,1300.91 439.93,1302.51 440.19,1304.11 440.43,1305.72 440.67,1307.33 440.90,1308.95 441.13,1310.55 441.34,1312.15 441.54,1313.75 441.73,1315.33 441.90,1316.90 442.06,1318.45 442.22,1320.00 442.37,1321.54 442.51,1323.08 442.65,1324.61 442.78,1326.15 442.91,1327.68 443.04,1329.22 443.16,1330.75 443.27,1332.30 443.39,1333.84 443.51,1335.39 443.62,1336.95 443.73,1338.52 443.84,1340.09 443.95,1341.68 444.07,1343.27 444.18,1344.88 444.30,1346.50 444.41,1347.97 444.51,1349.42 444.62,1350.87 444.73,1352.32 444.84,1353.76 444.95,1355.21 445.05,1356.65 445.16,1358.10 445.27,1359.56 445.37,1361.02 445.48,1362.50 445.58,1363.99 445.68,1365.50 445.78,1367.03 445.88,1368.58 445.98,1370.15 446.07,1371.75 446.17,1373.37 446.26,1375.03 446.35,1376.72 446.44,1378.44 446.52,1380.20 446.60,1382.00 446.65,1383.21 446.70,1384.46 446.76,1385.74 446.81,1387.05 446.86,1388.39 446.91,1389.76 446.96,1391.16 447.01,1392.59 447.06,1394.04 447.11,1395.52 447.16,1397.01 447.20,1398.53 447.25,1400.07 447.30,1401.62 447.35,1403.20 447.40,1404.78 447.44,1406.38 447.49,1408.00 447.53,1409.62 447.58,1411.25 447.63,1412.90 447.67,1414.54 447.71,1416.20 447.76,1417.85 447.80,1419.51 447.85,1421.17 447.89,1422.83 447.93,1424.49 447.97,1426.15 448.01,1427.80 448.06,1429.44 448.10,1431.08 448.14,1432.70 448.18,1434.32 448.21,1435.92 448.25,1437.51 448.29,1439.09 448.33,1440.65 448.37,1442.19 448.40,1443.72 448.44,1445.22 448.47,1446.70 448.51,1448.16 448.54,1449.59 448.58,1451.00 448.61,1452.38 448.64,1453.73 448.68,1455.05 448.71,1456.34 448.74,1457.59 448.77,1458.82 448.80,1460.00 448.84,1461.77 448.89,1463.48 448.93,1465.14 448.97,1466.75 449.00,1468.32 449.04,1469.85 449.08,1471.35 449.11,1472.83 449.14,1474.28 449.18,1475.71 449.21,1477.12 449.24,1478.53 449.27,1479.93 449.31,1481.34 449.34,1482.74 449.37,1484.16 449.41,1485.59 449.44,1487.03 449.48,1488.50 449.52,1490.00 449.56,1491.53 449.60,1493.10 449.64,1494.56 449.68,1496.05 449.72,1497.57 449.76,1499.10 449.81,1500.66 449.85,1502.23 449.89,1503.82 449.94,1505.43 449.99,1507.04 450.03,1508.65 450.08,1510.27 450.13,1511.89 450.18,1513.51 450.22,1515.13 450.27,1516.74 450.32,1518.34 450.37,1519.92 450.43,1521.49 450.48,1523.05 450.53,1524.58 450.58,1526.09 450.63,1527.57 450.69,1529.03 450.74,1530.45 450.79,1531.84 450.85,1533.19 450.90,1534.50 450.97,1536.22 451.04,1537.93 451.11,1539.64 451.18,1541.34 451.26,1543.02 451.33,1544.66 451.40,1546.27 451.48,1547.84 451.56,1549.36 451.64,1550.82 451.72,1552.21 451.81,1553.54 451.90,1554.78 452.00,1555.94 452.10,1557.00 452.31,1559.17 452.55,1561.28 452.83,1562.87 453.20,1563.50 453.81,1563.18 454.70,1562.60 455.88,1562.00 457.40,1561.31 459.13,1560.59 460.90,1559.90 462.22,1559.44 463.63,1558.99 465.11,1558.55 466.63,1558.11 468.17,1557.68 469.70,1557.24 471.20,1556.80 472.73,1556.36 474.35,1555.93 475.98,1555.50 477.58,1555.06 479.07,1554.62 480.40,1554.17 481.50,1553.70 483.29,1552.73 484.60,1551.60 485.55,1550.04 486.20,1548.00 486.40,1546.85 486.57,1545.52 486.72,1544.04 486.86,1542.43 486.98,1540.69 487.09,1538.86 487.20,1536.96 487.30,1535.00 487.36,1533.84 487.41,1532.62 487.47,1531.34 487.52,1530.01 487.57,1528.64 487.62,1527.21 487.67,1525.75 487.72,1524.25 487.76,1522.72 487.81,1521.16 487.85,1519.57 487.90,1517.97 487.94,1516.34 487.98,1514.70 488.02,1513.06 488.06,1511.40 488.09,1509.75 488.13,1508.10 488.17,1506.45 488.20,1504.81 488.24,1503.19 488.27,1501.58 488.30,1500.00 488.33,1498.52 488.36,1497.06 488.39,1495.60 488.42,1494.16 488.44,1492.73 488.47,1491.30 488.50,1489.87 488.53,1488.44 488.55,1487.01 488.58,1485.57 488.60,1484.13 488.63,1482.68 488.65,1481.21 488.67,1479.73 488.70,1478.24 488.72,1476.72 488.74,1475.19 488.76,1473.63 488.78,1472.04 488.80,1470.43 488.82,1468.78 488.84,1467.10 488.85,1465.38 488.87,1463.63 488.89,1461.84 488.90,1460.00 488.91,1458.85 488.92,1457.67 488.92,1456.46 488.93,1455.23 488.94,1453.96 488.95,1452.67 488.96,1451.36 488.96,1450.02 488.97,1448.66 488.98,1447.28 488.98,1445.87 488.99,1444.44 489.00,1443.00 489.00,1441.53 489.01,1440.05 489.01,1438.54 489.02,1437.03 489.03,1435.49 489.03,1433.95 489.04,1432.38 489.04,1430.81 489.05,1429.22 489.05,1427.62 489.06,1426.01 489.06,1424.39 489.07,1422.77 489.07,1421.13 489.08,1419.49 489.08,1417.84 489.09,1416.19 489.09,1414.53 489.10,1412.87 489.10,1411.20 489.11,1409.54 489.11,1407.87 489.12,1406.20 489.12,1404.54 489.13,1402.87 489.13,1401.21 489.14,1399.55 489.14,1397.90 489.14,1396.25 489.15,1394.60 489.15,1392.97 489.16,1391.34 489.16,1389.72 489.17,1388.11 489.17,1386.51 489.18,1384.92 489.19,1383.34 489.19,1381.78 489.20,1380.23 489.20,1378.69 489.21,1377.17 489.21,1375.67 489.22,1374.18 489.22,1372.71 489.23,1371.26 489.24,1369.83 489.24,1368.42 489.25,1367.04 489.26,1365.67 489.26,1364.33 489.27,1363.01 489.28,1361.72 489.28,1360.45 489.29,1359.21 489.30,1358.00 489.31,1356.23 489.32,1354.49 489.34,1352.78 489.35,1351.10 489.36,1349.44 489.37,1347.81 489.39,1346.20 489.40,1344.61 489.41,1343.05 489.43,1341.50 489.44,1339.97 489.46,1338.46 489.47,1336.96 489.49,1335.48 489.50,1334.00 489.52,1332.54 489.53,1331.09 489.55,1329.65 489.57,1328.21 489.58,1326.78 489.60,1325.35 489.62,1323.93 489.64,1322.50 489.66,1321.08 489.68,1319.66 489.70,1318.23 489.72,1316.80 489.74,1315.36 489.76,1313.91 489.78,1312.46 489.80,1311.00 489.82,1309.40 489.85,1307.76 489.87,1306.08 489.90,1304.38 489.92,1302.65 489.95,1300.91 489.97,1299.15 490.00,1297.39 490.03,1295.63 490.06,1293.87 490.09,1292.11 490.12,1290.38 490.15,1288.66 490.19,1286.96 490.22,1285.30 490.26,1283.67 490.30,1282.08 490.34,1280.54 490.38,1279.05 490.42,1277.62 490.47,1276.24 490.52,1274.94 490.57,1273.71 490.62,1272.55 490.68,1271.48 490.74,1270.49 490.80,1269.60 491.04,1267.29 491.38,1265.23 491.81,1263.58 492.30,1262.50 492.98,1261.82 493.80,1261.50 494.79,1261.82 495.80,1262.50 496.74,1263.59 497.63,1265.23 498.50,1267.20 498.89,1268.21 499.28,1269.37 499.66,1270.67 500.05,1272.08 500.43,1273.59 500.80,1275.19 501.18,1276.85 501.55,1278.56 501.91,1280.30 502.27,1282.07 502.62,1283.83 502.96,1285.58 503.30,1287.30 503.58,1288.71 503.85,1290.16 504.13,1291.63 504.41,1293.13 504.69,1294.65 504.96,1296.19 505.23,1297.75 505.51,1299.33 505.77,1300.91 506.03,1302.51 506.29,1304.11 506.53,1305.72 506.77,1307.33 507.00,1308.95 507.23,1310.55 507.44,1312.15 507.64,1313.75 507.83,1315.33 508.00,1316.90 508.16,1318.45 508.32,1320.00 508.47,1321.54 508.61,1323.08 508.75,1324.61 508.88,1326.15 509.01,1327.68 509.14,1329.22 509.26,1330.75 509.37,1332.30 509.49,1333.84 509.61,1335.39 509.72,1336.95 509.83,1338.52 509.94,1340.09 510.05,1341.68 510.17,1343.27 510.28,1344.88 510.40,1346.50 510.51,1347.97 510.61,1349.42 510.72,1350.87 510.83,1352.32 510.94,1353.76 511.05,1355.21 511.15,1356.65 511.26,1358.10 511.37,1359.56 511.47,1361.02 511.58,1362.50 511.68,1363.99 511.78,1365.50 511.88,1367.03 511.98,1368.58 512.08,1370.15 512.17,1371.75 512.27,1373.37 512.36,1375.03 512.45,1376.72 512.54,1378.44 512.62,1380.20 512.70,1382.00 512.75,1383.21 512.80,1384.46 512.86,1385.74 512.91,1387.05 512.96,1388.39 513.01,1389.76 513.06,1391.16 513.11,1392.59 513.16,1394.04 513.21,1395.52 513.26,1397.01 513.30,1398.53 513.35,1400.07 513.40,1401.62 513.45,1403.20 513.50,1404.78 513.54,1406.38 513.59,1408.00 513.63,1409.62 513.68,1411.25 513.73,1412.90 513.77,1414.54 513.81,1416.20 513.86,1417.85 513.90,1419.51 513.95,1421.17 513.99,1422.83 514.03,1424.49 514.07,1426.15 514.11,1427.80 514.16,1429.44 514.20,1431.08 514.24,1432.70 514.28,1434.32 514.31,1435.92 514.35,1437.51 514.39,1439.09 514.43,1440.65 514.47,1442.19 514.50,1443.72 514.54,1445.22 514.57,1446.70 514.61,1448.16 514.64,1449.59 514.68,1451.00 514.71,1452.38 514.74,1453.73 514.78,1455.05 514.81,1456.34 514.84,1457.59 514.87,1458.82 514.90,1460.00 514.94,1461.77 514.99,1463.48 515.03,1465.14 515.07,1466.75 515.10,1468.32 515.14,1469.85 515.18,1471.35 515.21,1472.83 515.24,1474.28 515.28,1475.71 515.31,1477.12 515.34,1478.53 515.37,1479.93 515.41,1481.34 515.44,1482.74 515.47,1484.16 515.51,1485.59 515.54,1487.03 515.58,1488.50 515.62,1490.00 515.66,1491.53 515.70,1493.10 515.74,1494.56 515.78,1496.05 515.82,1497.57 515.86,1499.10 515.91,1500.66 515.95,1502.23 515.99,1503.82 516.04,1505.43 516.09,1507.04 516.13,1508.65 516.18,1510.27 516.23,1511.89 516.28,1513.51 516.32,1515.13 516.37,1516.74 516.42,1518.34 516.47,1519.92 516.53,1521.49 516.58,1523.05 516.63,1524.58 516.68,1526.09 516.73,1527.57 516.79,1529.03 516.84,1530.45 516.89,1531.84 516.95,1533.19 517.00,1534.50 517.07,1536.22 517.14,1537.93 517.21,1539.64 517.28,1541.34 517.36,1543.02 517.43,1544.66 517.50,1546.27 517.58,1547.84 517.66,1549.36 517.74,1550.82 517.82,1552.21 517.91,1553.54 518.00,1554.78 518.10,1555.94 518.20,1557.00 518.41,1559.17 518.65,1561.28 518.93,1562.87 519.30,1563.50 519.91,1563.18 520.80,1562.60 521.98,1562.00 523.50,1561.31 525.23,1560.59 527.00,1559.90 528.32,1559.44 529.72,1558.99 531.20,1558.55 532.71,1558.11 534.25,1557.67 535.79,1557.24 537.30,1556.80 538.90,1556.36 540.59,1555.93 542.31,1555.50 543.99,1555.06 545.57,1554.62 546.96,1554.17 548.10,1553.70 549.89,1552.73 551.20,1551.60 552.15,1550.04 552.80,1548.00 553.00,1546.85 553.17,1545.52 553.32,1544.04 553.46,1542.43 553.58,1540.69 553.69,1538.86 553.80,1536.96 553.90,1535.00 553.96,1533.84 554.01,1532.62 554.07,1531.34 554.12,1530.01 554.17,1528.64 554.22,1527.21 554.27,1525.75 554.32,1524.25 554.36,1522.72 554.41,1521.16 554.45,1519.57 554.50,1517.97 554.54,1516.34 554.58,1514.70 554.62,1513.06 554.66,1511.40 554.69,1509.75 554.73,1508.10 554.77,1506.45 554.80,1504.81 554.84,1503.19 554.87,1501.58 554.90,1500.00 554.93,1498.52 554.96,1497.06 554.99,1495.60 555.02,1494.16 555.04,1492.73 555.07,1491.30 555.10,1489.87 555.13,1488.44 555.15,1487.01 555.18,1485.57 555.20,1484.13 555.23,1482.68 555.25,1481.21 555.27,1479.73 555.30,1478.24 555.32,1476.72 555.34,1475.19 555.36,1473.63 555.38,1472.04 555.40,1470.43 555.42,1468.78 555.44,1467.10 555.45,1465.38 555.47,1463.63 555.49,1461.84 555.50,1460.00 555.51,1458.85 555.52,1457.67 555.52,1456.46 555.53,1455.23 555.54,1453.96 555.55,1452.67 555.56,1451.36 555.56,1450.02 555.57,1448.66 555.58,1447.28 555.58,1445.87 555.59,1444.44 555.60,1443.00 555.60,1441.53 555.61,1440.05 555.61,1438.54 555.62,1437.03 555.63,1435.49 555.63,1433.95 555.64,1432.38 555.64,1430.81 555.65,1429.22 555.65,1427.62 555.66,1426.01 555.66,1424.39 555.67,1422.77 555.67,1421.13 555.68,1419.49 555.68,1417.84 555.69,1416.19 555.69,1414.53 555.70,1412.87 555.70,1411.20 555.71,1409.54 555.71,1407.87 555.72,1406.20 555.72,1404.54 555.73,1402.87 555.73,1401.21 555.74,1399.55 555.74,1397.90 555.74,1396.25 555.75,1394.60 555.75,1392.97 555.76,1391.34 555.76,1389.72 555.77,1388.11 555.77,1386.51 555.78,1384.92 555.79,1383.34 555.79,1381.78 555.80,1380.23 555.80,1378.69 555.81,1377.17 555.81,1375.67 555.82,1374.18 555.82,1372.71 555.83,1371.26 555.84,1369.83 555.84,1368.42 555.85,1367.04 555.86,1365.67 555.86,1364.33 555.87,1363.01 555.88,1361.72 555.88,1360.45 555.89,1359.21 555.90,1358.00 555.91,1356.23 555.92,1354.49 555.94,1352.78 555.95,1351.10 555.96,1349.44 555.97,1347.81 555.99,1346.20 556.00,1344.61 556.01,1343.05 556.03,1341.50 556.04,1339.97 556.06,1338.46 556.07,1336.96 556.09,1335.48 556.10,1334.00 556.12,1332.54 556.13,1331.09 556.15,1329.65 556.17,1328.21 556.18,1326.78 556.20,1325.35 556.22,1323.93 556.24,1322.50 556.26,1321.08 556.28,1319.66 556.30,1318.23 556.32,1316.80 556.34,1315.36 556.36,1313.91 556.38,1312.46 556.40,1311.00 556.42,1309.40 556.45,1307.76 556.47,1306.08 556.50,1304.38 556.52,1302.65 556.55,1300.91 556.57,1299.15 556.60,1297.39 556.63,1295.63 556.66,1293.87 556.69,1292.11 556.72,1290.38 556.75,1288.66 556.79,1286.96 556.82,1285.30 556.86,1283.67 556.90,1282.08 556.94,1280.54 556.98,1279.05 557.02,1277.62 557.07,1276.24 557.12,1274.94 557.17,1273.71 557.22,1272.55 557.28,1271.48 557.34,1270.49 557.40,1269.60 557.64,1267.29 557.98,1265.23 558.41,1263.58 558.90,1262.50 559.58,1261.82 560.40,1261.50 561.39,1261.82 562.40,1262.50 563.34,1263.59 564.23,1265.23 565.10,1267.20 565.49,1268.21 565.88,1269.37 566.26,1270.67 566.65,1272.08 567.03,1273.59 567.40,1275.19 567.78,1276.85 568.15,1278.56 568.51,1280.30 568.87,1282.07 569.22,1283.83 569.56,1285.58 569.90,1287.30 570.18,1288.71 570.45,1290.16 570.73,1291.63 571.01,1293.13 571.29,1294.65 571.56,1296.19 571.83,1297.75 572.11,1299.33 572.37,1300.91 572.63,1302.51 572.89,1304.11 573.13,1305.72 573.37,1307.33 573.60,1308.95 573.83,1310.55 574.04,1312.15 574.24,1313.75 574.43,1315.33 574.60,1316.90 574.76,1318.45 574.92,1320.00 575.07,1321.54 575.21,1323.08 575.35,1324.61 575.48,1326.15 575.61,1327.68 575.74,1329.22 575.86,1330.75 575.97,1332.30 576.09,1333.84 576.21,1335.39 576.32,1336.95 576.43,1338.52 576.54,1340.09 576.65,1341.68 576.77,1343.27 576.88,1344.88 577.00,1346.50 577.11,1347.97 577.21,1349.42 577.32,1350.87 577.43,1352.32 577.54,1353.76 577.65,1355.21 577.75,1356.65 577.86,1358.10 577.97,1359.56 578.07,1361.02 578.18,1362.50 578.28,1363.99 578.38,1365.50 578.48,1367.03 578.58,1368.58 578.68,1370.15 578.77,1371.75 578.87,1373.37 578.96,1375.03 579.05,1376.72 579.14,1378.44 579.22,1380.20 579.30,1382.00 579.35,1383.21 579.40,1384.46 579.46,1385.74 579.51,1387.05 579.56,1388.39 579.61,1389.76 579.66,1391.16 579.71,1392.59 579.76,1394.04 579.81,1395.52 579.86,1397.01 579.90,1398.53 579.95,1400.07 580.00,1401.62 580.05,1403.20 580.10,1404.78 580.14,1406.38 580.19,1408.00 580.23,1409.62 580.28,1411.25 580.33,1412.90 580.37,1414.54 580.41,1416.20 580.46,1417.85 580.50,1419.51 580.55,1421.17 580.59,1422.83 580.63,1424.49 580.67,1426.15 580.71,1427.80 580.76,1429.44 580.80,1431.08 580.84,1432.70 580.88,1434.32 580.91,1435.92 580.95,1437.51 580.99,1439.09 581.03,1440.65 581.07,1442.19 581.10,1443.72 581.14,1445.22 581.17,1446.70 581.21,1448.16 581.24,1449.59 581.28,1451.00 581.31,1452.38 581.34,1453.73 581.38,1455.05 581.41,1456.34 581.44,1457.59 581.47,1458.82 581.50,1460.00 581.54,1461.77 581.59,1463.48 581.63,1465.14 581.67,1466.75 581.70,1468.32 581.74,1469.85 581.78,1471.35 581.81,1472.83 581.84,1474.28 581.88,1475.71 581.91,1477.12 581.94,1478.53 581.97,1479.93 582.01,1481.34 582.04,1482.74 582.07,1484.16 582.11,1485.59 582.14,1487.03 582.18,1488.50 582.22,1490.00 582.26,1491.53 582.30,1493.10 582.34,1494.56 582.38,1496.05 582.42,1497.57 582.46,1499.10 582.51,1500.66 582.55,1502.23 582.59,1503.82 582.64,1505.43 582.69,1507.04 582.73,1508.65 582.78,1510.27 582.83,1511.89 582.88,1513.51 582.92,1515.13 582.97,1516.74 583.02,1518.34 583.07,1519.92 583.13,1521.49 583.18,1523.05 583.23,1524.58 583.28,1526.09 583.33,1527.57 583.39,1529.03 583.44,1530.45 583.49,1531.84 583.55,1533.19 583.60,1534.50 583.67,1536.22 583.74,1537.93 583.81,1539.64 583.88,1541.34 583.96,1543.02 584.03,1544.66 584.10,1546.27 584.18,1547.84 584.26,1549.36 584.34,1550.82 584.42,1552.21 584.51,1553.54 584.60,1554.78 584.70,1555.94 584.80,1557.00 585.01,1559.17 585.25,1561.28 585.53,1562.87 585.90,1563.50 586.51,1563.18 587.40,1562.60 588.58,1562.00 590.10,1561.31 591.83,1560.59 593.60,1559.90 595.10,1559.39 596.93,1558.81 598.89,1558.22 600.77,1557.68 602.37,1557.22 603.48,1556.91 603.90,1556.80 602.93,1557.20 600.00,1558.30" stroke="#bd0a0c" stroke-width="3.3" fill="none" stroke-linejoin="round" stroke-linecap="round" clip-path="url(#clipE)"/>
<text x="196.40" y="1410.40" font-size="27" text-anchor="start" >B/Cdk1</text>
<text x="135.80" y="1535.60" font-size="27" text-anchor="start" >A/Cdk2</text>
<path d="M232.50 1223.30V1259.00" stroke="#000" stroke-width="1.9" fill="none"/><path d="M226.50 1257.00H238.50L232.50 1273.00Z" fill="#000"/>
<text x="241.30" y="1250.60" font-size="27" text-anchor="start" >Decrease in Cdh1</text>
<path d="M840.00,1580.20 842.41,1580.20 844.79,1580.20 847.12,1580.20 849.41,1580.20 851.66,1580.20 853.87,1580.20 856.03,1580.20 858.15,1580.20 860.22,1580.20 862.26,1580.20 864.24,1580.20 866.19,1580.20 868.09,1580.20 869.94,1580.20 871.75,1580.20 873.51,1580.20 875.23,1580.20 876.89,1580.20 878.52,1580.20 880.09,1580.20 881.62,1580.20 883.10,1580.20 884.53,1580.20 885.91,1580.20 887.24,1580.20 888.52,1580.20 889.76,1580.20 890.94,1580.20 892.07,1580.20 893.15,1580.20 894.18,1580.20 895.16,1580.20 896.09,1580.20 896.97,1580.20 897.79,1580.20 898.56,1580.20 899.27,1580.20 899.94,1580.20 900.55,1580.20 901.10,1580.20 901.60,1580.20 903.35,1579.00 905.10,1577.70 905.67,1577.66 906.37,1577.63 907.20,1577.60 908.13,1577.57 909.18,1577.55 910.33,1577.52 911.57,1577.50 912.91,1577.48 914.32,1577.46 915.82,1577.44 917.38,1577.43 919.00,1577.41 920.68,1577.40 922.42,1577.39 924.19,1577.38 926.00,1577.37 927.85,1577.36 929.71,1577.35 931.60,1577.34 933.49,1577.33 935.39,1577.32 937.29,1577.31 939.18,1577.30 941.06,1577.29 942.91,1577.28 944.73,1577.27 946.52,1577.26 948.27,1577.25 949.97,1577.23 951.62,1577.22 953.21,1577.20 954.73,1577.19 956.17,1577.17 957.54,1577.15 958.81,1577.12 960.00,1577.10 961.88,1577.05 963.66,1577.00 965.37,1576.94 967.00,1576.88 968.58,1576.81 970.11,1576.74 971.61,1576.66 973.09,1576.58 974.56,1576.49 976.03,1576.40 977.52,1576.30 979.04,1576.20 980.60,1576.10 982.19,1575.99 983.77,1575.87 985.36,1575.73 986.94,1575.59 988.53,1575.44 990.11,1575.28 991.70,1575.11 993.28,1574.93 994.86,1574.75 996.45,1574.57 998.03,1574.38 999.62,1574.19 1001.20,1574.00 1002.79,1573.80 1004.39,1573.60 1005.98,1573.38 1007.57,1573.16 1009.17,1572.93 1010.76,1572.70 1012.36,1572.46 1013.95,1572.21 1015.54,1571.96 1017.13,1571.70 1018.72,1571.44 1020.31,1571.17 1021.90,1570.90 1023.38,1570.65 1024.88,1570.39 1026.38,1570.12 1027.90,1569.86 1029.41,1569.58 1030.92,1569.30 1032.42,1569.02 1033.92,1568.72 1035.40,1568.42 1036.87,1568.12 1038.31,1567.80 1039.74,1567.48 1041.13,1567.14 1042.50,1566.80 1044.16,1566.37 1045.81,1565.92 1047.44,1565.47 1049.06,1564.99 1050.64,1564.50 1052.19,1563.98 1053.70,1563.43 1055.15,1562.86 1056.56,1562.25 1057.90,1561.60 1059.36,1560.80 1060.79,1559.91 1062.19,1558.95 1063.53,1557.92 1064.81,1556.83 1066.03,1555.71 1067.16,1554.56 1068.20,1553.40 1069.15,1552.26 1070.10,1551.09 1071.02,1549.86 1071.89,1548.60 1072.68,1547.29 1073.38,1545.93 1073.96,1544.54 1074.40,1543.10 1074.71,1541.75 1075.00,1540.37 1075.27,1538.96 1075.51,1537.50 1075.73,1536.00 1075.93,1534.44 1076.10,1532.83 1076.25,1531.15 1076.39,1529.41 1076.50,1527.60 1076.56,1526.40 1076.62,1525.16 1076.68,1523.87 1076.73,1522.54 1076.77,1521.16 1076.82,1519.75 1076.86,1518.31 1076.90,1516.84 1076.93,1515.34 1076.97,1513.81 1077.00,1512.26 1077.03,1510.70 1077.06,1509.11 1077.10,1507.52 1077.13,1505.91 1077.16,1504.30 1077.20,1502.68 1077.23,1501.06 1077.27,1499.45 1077.31,1497.84 1077.35,1496.23 1077.40,1494.64 1077.45,1493.06 1077.50,1491.50 1077.55,1490.03 1077.61,1488.56 1077.67,1487.10 1077.74,1485.64 1077.81,1484.18 1077.88,1482.73 1077.95,1481.27 1078.03,1479.81 1078.11,1478.35 1078.19,1476.89 1078.27,1475.42 1078.35,1473.95 1078.44,1472.47 1078.52,1470.98 1078.61,1469.48 1078.70,1467.96 1078.78,1466.44 1078.87,1464.91 1078.95,1463.36 1079.04,1461.79 1079.12,1460.21 1079.21,1458.61 1079.29,1456.99 1079.37,1455.35 1079.45,1453.69 1079.53,1452.01 1079.60,1450.30 1079.66,1448.97 1079.71,1447.61 1079.77,1446.24 1079.82,1444.83 1079.88,1443.41 1079.93,1441.97 1079.99,1440.51 1080.04,1439.02 1080.10,1437.53 1080.16,1436.01 1080.21,1434.48 1080.27,1432.94 1080.32,1431.38 1080.37,1429.81 1080.43,1428.24 1080.48,1426.65 1080.54,1425.05 1080.59,1423.45 1080.65,1421.84 1080.70,1420.22 1080.75,1418.60 1080.81,1416.98 1080.86,1415.36 1080.91,1413.73 1080.96,1412.11 1081.02,1410.48 1081.07,1408.86 1081.12,1407.24 1081.17,1405.63 1081.22,1404.02 1081.27,1402.43 1081.33,1400.83 1081.38,1399.25 1081.43,1397.68 1081.48,1396.12 1081.52,1394.57 1081.57,1393.03 1081.62,1391.51 1081.67,1390.01 1081.72,1388.52 1081.77,1387.05 1081.81,1385.60 1081.86,1384.16 1081.91,1382.75 1081.95,1381.36 1082.00,1380.00 1082.06,1378.34 1082.11,1376.67 1082.16,1375.00 1082.21,1373.33 1082.26,1371.66 1082.31,1370.00 1082.36,1368.34 1082.40,1366.68 1082.45,1365.03 1082.50,1363.39 1082.54,1361.76 1082.59,1360.15 1082.63,1358.54 1082.67,1356.96 1082.72,1355.39 1082.76,1353.83 1082.81,1352.30 1082.86,1350.79 1082.90,1349.31 1082.95,1347.85 1083.00,1346.42 1083.05,1345.01 1083.10,1343.64 1083.15,1342.29 1083.21,1340.99 1083.26,1339.71 1083.32,1338.47 1083.38,1337.28 1083.44,1336.12 1083.50,1335.00 1083.62,1332.96 1083.75,1330.82 1083.90,1328.66 1084.05,1326.54 1084.21,1324.54 1084.37,1322.75 1084.53,1321.22 1084.69,1320.04 1084.85,1319.27 1085.00,1319.00 1085.15,1319.28 1085.29,1320.08 1085.44,1321.31 1085.58,1322.88 1085.72,1324.72 1085.87,1326.74 1086.02,1328.86 1086.17,1331.00 1086.33,1333.07 1086.50,1335.00 1086.63,1336.31 1086.76,1337.63 1086.90,1338.97 1087.04,1340.33 1087.19,1341.72 1087.35,1343.13 1087.50,1344.56 1087.66,1346.02 1087.82,1347.50 1087.98,1349.02 1088.13,1350.56 1088.29,1352.14 1088.44,1353.75 1088.58,1355.40 1088.72,1357.08 1088.85,1358.80 1088.98,1360.56 1089.09,1362.36 1089.20,1364.20 1089.26,1365.36 1089.32,1366.55 1089.38,1367.77 1089.44,1369.03 1089.50,1370.32 1089.55,1371.64 1089.61,1372.99 1089.66,1374.36 1089.72,1375.76 1089.77,1377.19 1089.82,1378.64 1089.87,1380.11 1089.92,1381.60 1089.97,1383.11 1090.02,1384.64 1090.07,1386.19 1090.12,1387.75 1090.17,1389.33 1090.21,1390.92 1090.26,1392.53 1090.30,1394.14 1090.35,1395.77 1090.39,1397.40 1090.44,1399.04 1090.48,1400.68 1090.53,1402.33 1090.57,1403.99 1090.61,1405.64 1090.65,1407.30 1090.69,1408.95 1090.74,1410.61 1090.78,1412.26 1090.82,1413.90 1090.86,1415.54 1090.90,1417.18 1090.94,1418.80 1090.98,1420.42 1091.02,1422.02 1091.06,1423.62 1091.10,1425.20 1091.14,1426.76 1091.18,1428.31 1091.22,1429.85 1091.26,1431.36 1091.30,1432.86 1091.34,1434.33 1091.38,1435.79 1091.42,1437.22 1091.46,1438.62 1091.50,1440.00 1091.55,1441.65 1091.60,1443.28 1091.64,1444.90 1091.69,1446.50 1091.73,1448.09 1091.78,1449.66 1091.82,1451.22 1091.87,1452.78 1091.91,1454.32 1091.95,1455.85 1092.00,1457.37 1092.04,1458.88 1092.08,1460.39 1092.12,1461.89 1092.16,1463.38 1092.20,1464.86 1092.24,1466.35 1092.29,1467.82 1092.33,1469.30 1092.37,1470.77 1092.41,1472.24 1092.45,1473.71 1092.50,1475.17 1092.54,1476.64 1092.58,1478.11 1092.62,1479.58 1092.67,1481.06 1092.71,1482.53 1092.76,1484.01 1092.81,1485.50 1092.85,1486.99 1092.90,1488.49 1092.95,1489.99 1093.00,1491.50 1093.05,1493.02 1093.10,1494.56 1093.15,1496.11 1093.20,1497.68 1093.26,1499.25 1093.31,1500.83 1093.36,1502.41 1093.41,1504.01 1093.47,1505.61 1093.52,1507.21 1093.58,1508.81 1093.63,1510.41 1093.69,1512.01 1093.74,1513.61 1093.80,1515.21 1093.86,1516.80 1093.92,1518.39 1093.97,1519.97 1094.03,1521.54 1094.09,1523.09 1094.15,1524.64 1094.21,1526.18 1094.27,1527.70 1094.34,1529.20 1094.40,1530.69 1094.46,1532.16 1094.53,1533.61 1094.59,1535.04 1094.66,1536.45 1094.73,1537.83 1094.79,1539.19 1094.86,1540.52 1094.93,1541.82 1095.00,1543.10 1095.10,1544.93 1095.20,1546.75 1095.30,1548.57 1095.40,1550.38 1095.50,1552.18 1095.60,1553.95 1095.71,1555.68 1095.82,1557.38 1095.93,1559.04 1096.05,1560.65 1096.17,1562.21 1096.31,1563.70 1096.45,1565.12 1096.60,1566.47 1096.75,1567.73 1096.92,1568.91 1097.10,1570.00 1097.49,1571.90 1097.99,1573.68 1098.57,1575.26 1099.24,1576.56 1100.00,1577.50 1101.37,1578.46 1103.13,1579.20 1105.00,1579.50 1106.71,1579.50 1108.58,1579.50 1110.40,1579.50 1112.00,1579.50 1112.99,1579.19 1113.95,1578.34 1114.87,1577.08 1115.74,1575.54 1116.52,1573.86 1117.21,1572.16 1117.80,1570.57 1118.22,1569.28 1118.61,1567.93 1118.97,1566.52 1119.30,1565.05 1119.60,1563.54 1119.89,1561.97 1120.17,1560.37 1120.45,1558.73 1120.72,1557.07 1121.00,1555.37 1121.23,1554.00 1121.45,1552.61 1121.68,1551.19 1121.91,1549.75 1122.14,1548.29 1122.36,1546.80 1122.58,1545.29 1122.79,1543.74 1123.00,1542.17 1123.20,1540.57 1123.39,1538.94 1123.58,1537.27 1123.75,1535.58 1123.91,1533.84 1124.06,1532.08 1124.20,1530.27 1124.29,1529.02 1124.37,1527.74 1124.46,1526.44 1124.54,1525.11 1124.62,1523.77 1124.70,1522.40 1124.77,1521.01 1124.85,1519.61 1124.92,1518.18 1124.99,1516.74 1125.06,1515.28 1125.13,1513.80 1125.20,1512.31 1125.26,1510.80 1125.33,1509.28 1125.39,1507.75 1125.45,1506.20 1125.51,1504.63 1125.57,1503.06 1125.63,1501.48 1125.69,1499.88 1125.74,1498.28 1125.80,1496.66 1125.85,1495.04 1125.90,1493.41 1125.95,1491.78 1126.01,1490.14 1126.06,1488.49 1126.11,1486.84 1126.16,1485.18 1126.20,1483.52 1126.25,1481.86 1126.30,1480.19 1126.34,1478.84 1126.38,1477.46 1126.41,1476.07 1126.45,1474.65 1126.48,1473.22 1126.52,1471.77 1126.55,1470.31 1126.59,1468.83 1126.62,1467.34 1126.65,1465.84 1126.68,1464.32 1126.72,1462.79 1126.75,1461.25 1126.78,1459.70 1126.81,1458.14 1126.84,1456.58 1126.87,1455.01 1126.90,1453.43 1126.93,1451.85 1126.96,1450.26 1126.98,1448.67 1127.01,1447.08 1127.04,1445.48 1127.07,1443.89 1127.10,1442.29 1127.12,1440.70 1127.15,1439.11 1127.18,1437.52 1127.21,1435.94 1127.23,1434.36 1127.26,1432.78 1127.29,1431.22 1127.32,1429.66 1127.34,1428.10 1127.37,1426.56 1127.40,1425.03 1127.42,1423.51 1127.45,1422.00 1127.48,1420.50 1127.51,1419.02 1127.54,1417.55 1127.56,1416.09 1127.59,1414.66 1127.62,1413.24 1127.65,1411.84 1127.68,1410.45 1127.71,1409.09 1127.74,1407.75 1127.77,1406.43 1127.80,1405.13 1127.84,1403.39 1127.88,1401.65 1127.92,1399.91 1127.96,1398.17 1128.00,1396.44 1128.04,1394.72 1128.08,1393.01 1128.12,1391.30 1128.16,1389.61 1128.20,1387.94 1128.24,1386.27 1128.27,1384.63 1128.31,1383.00 1128.35,1381.40 1128.39,1379.82 1128.44,1378.26 1128.48,1376.72 1128.52,1375.21 1128.56,1373.74 1128.61,1372.29 1128.65,1370.87 1128.70,1369.49 1128.74,1368.14 1128.79,1366.84 1128.84,1365.56 1128.89,1364.33 1128.95,1363.15 1129.00,1362.00 1129.09,1360.06 1129.19,1358.03 1129.29,1355.97 1129.40,1353.96 1129.52,1352.07 1129.64,1350.36 1129.77,1348.91 1129.90,1347.78 1130.05,1347.06 1130.20,1346.80 1130.56,1347.53 1130.99,1349.29 1131.40,1351.40 1131.55,1352.29 1131.69,1353.30 1131.83,1354.42 1131.97,1355.63 1132.11,1356.93 1132.25,1358.32 1132.38,1359.79 1132.51,1361.34 1132.64,1362.95 1132.77,1364.63 1132.90,1366.37 1133.03,1368.16 1133.16,1370.00 1133.29,1371.87 1133.42,1373.79 1133.54,1375.73 1133.67,1377.69 1133.80,1379.68 1133.87,1380.71 1133.93,1381.79 1134.00,1382.89 1134.06,1384.03 1134.13,1385.21 1134.19,1386.41 1134.26,1387.64 1134.33,1388.90 1134.39,1390.19 1134.46,1391.51 1134.52,1392.85 1134.59,1394.22 1134.65,1395.62 1134.72,1397.03 1134.78,1398.47 1134.84,1399.94 1134.91,1401.42 1134.97,1402.92 1135.04,1404.44 1135.10,1405.98 1135.17,1407.53 1135.23,1409.11 1135.29,1410.69 1135.36,1412.29 1135.42,1413.91 1135.49,1415.53 1135.55,1417.17 1135.61,1418.82 1135.68,1420.47 1135.74,1422.14 1135.80,1423.81 1135.87,1425.49 1135.93,1427.18 1135.99,1428.87 1136.06,1430.56 1136.12,1432.26 1136.18,1433.96 1136.25,1435.66 1136.31,1437.36 1136.37,1439.06 1136.44,1440.76 1136.50,1442.45 1136.56,1444.14 1136.62,1445.83 1136.69,1447.51 1136.75,1449.18 1136.81,1450.85 1136.87,1452.50 1136.94,1454.15 1137.00,1455.79 1137.06,1457.42 1137.13,1459.03 1137.19,1460.64 1137.25,1462.22 1137.31,1463.80 1137.38,1465.35 1137.44,1466.89 1137.50,1468.41 1137.56,1469.92 1137.63,1471.40 1137.69,1472.87 1137.75,1474.31 1137.81,1475.73 1137.88,1477.12 1137.94,1478.49 1138.00,1479.84 1138.08,1481.53 1138.16,1483.22 1138.23,1484.91 1138.31,1486.60 1138.39,1488.29 1138.46,1489.97 1138.54,1491.64 1138.61,1493.31 1138.68,1494.98 1138.76,1496.64 1138.83,1498.29 1138.90,1499.94 1138.98,1501.58 1139.05,1503.21 1139.12,1504.84 1139.19,1506.45 1139.27,1508.05 1139.34,1509.65 1139.41,1511.23 1139.48,1512.80 1139.56,1514.36 1139.63,1515.91 1139.71,1517.45 1139.78,1518.97 1139.86,1520.48 1139.93,1521.97 1140.01,1523.45 1140.09,1524.91 1140.17,1526.36 1140.25,1527.79 1140.33,1529.21 1140.41,1530.60 1140.49,1531.98 1140.57,1533.34 1140.66,1534.68 1140.75,1536.00 1140.83,1537.30 1140.92,1538.58 1141.01,1539.84 1141.11,1541.08 1141.20,1542.29 1141.35,1544.13 1141.49,1545.96 1141.64,1547.78 1141.80,1549.58 1141.95,1551.36 1142.11,1553.12 1142.27,1554.84 1142.44,1556.52 1142.61,1558.17 1142.79,1559.77 1142.97,1561.31 1143.15,1562.80 1143.35,1564.22 1143.54,1565.58 1143.75,1566.86 1143.96,1568.06 1144.18,1569.19 1144.40,1570.22 1144.85,1572.03 1145.35,1573.72 1145.90,1575.21 1146.51,1576.46 1147.20,1577.41 1148.79,1578.76 1150.80,1579.41 1152.18,1579.41 1153.84,1579.41 1155.56,1579.41 1157.15,1579.41 1158.40,1579.41 1159.50,1579.45 1160.50,1579.50 1162.35,1578.64 1164.00,1576.98 1164.80,1575.60 1165.45,1573.90 1166.10,1571.96 1166.51,1570.68 1166.92,1569.26 1167.34,1567.72 1167.75,1566.09 1168.16,1564.38 1168.55,1562.61 1168.94,1560.80 1169.30,1558.98 1169.56,1557.65 1169.82,1556.29 1170.08,1554.90 1170.34,1553.48 1170.59,1552.04 1170.85,1550.57 1171.09,1549.07 1171.33,1547.53 1171.56,1545.96 1171.77,1544.36 1171.98,1542.72 1172.17,1541.04 1172.34,1539.32 1172.50,1537.57 1172.60,1536.30 1172.70,1535.01 1172.80,1533.69 1172.90,1532.35 1172.99,1530.98 1173.08,1529.58 1173.17,1528.17 1173.25,1526.73 1173.33,1525.27 1173.42,1523.79 1173.49,1522.29 1173.57,1520.77 1173.65,1519.24 1173.72,1517.69 1173.79,1516.12 1173.86,1514.54 1173.93,1512.95 1174.00,1511.34 1174.06,1509.72 1174.13,1508.10 1174.19,1506.46 1174.25,1504.82 1174.31,1503.16 1174.37,1501.51 1174.43,1499.84 1174.49,1498.17 1174.54,1496.50 1174.60,1494.83 1174.65,1493.45 1174.69,1492.05 1174.73,1490.62 1174.77,1489.17 1174.82,1487.71 1174.86,1486.22 1174.90,1484.71 1174.94,1483.19 1174.97,1481.65 1175.01,1480.10 1175.05,1478.54 1175.09,1476.97 1175.12,1475.38 1175.16,1473.79 1175.19,1472.19 1175.23,1470.58 1175.26,1468.96 1175.30,1467.35 1175.33,1465.73 1175.36,1464.11 1175.40,1462.49 1175.43,1460.87 1175.46,1459.26 1175.49,1457.64 1175.53,1456.04 1175.56,1454.44 1175.59,1452.85 1175.62,1451.26 1175.66,1449.69 1175.69,1448.13 1175.72,1446.58 1175.75,1445.05 1175.79,1443.53 1175.82,1442.03 1175.85,1440.54 1175.89,1439.08 1175.92,1437.64 1175.96,1436.22 1175.99,1434.82 1176.03,1433.44 1176.06,1432.10 1176.10,1430.78 1176.15,1429.04 1176.20,1427.31 1176.24,1425.58 1176.29,1423.85 1176.33,1422.14 1176.38,1420.43 1176.43,1418.74 1176.47,1417.05 1176.52,1415.39 1176.56,1413.75 1176.61,1412.12 1176.65,1410.52 1176.70,1408.95 1176.75,1407.40 1176.80,1405.89 1176.85,1404.40 1176.90,1402.95 1176.95,1401.54 1177.00,1400.17 1177.06,1398.84 1177.12,1397.55 1177.18,1396.31 1177.24,1395.11 1177.30,1393.97 1177.42,1391.89 1177.54,1389.70 1177.67,1387.53 1177.82,1385.49 1177.97,1383.70 1178.13,1382.28 1178.31,1381.34 1178.50,1381.00 1179.07,1382.30 1179.70,1384.92 1179.87,1385.79 1180.03,1386.77 1180.19,1387.87 1180.34,1389.07 1180.50,1390.37 1180.65,1391.76 1180.80,1393.23 1180.94,1394.78 1181.09,1396.39 1181.23,1398.07 1181.38,1399.81 1181.52,1401.59 1181.67,1403.41 1181.81,1405.27 1181.96,1407.15 1182.10,1409.06 1182.18,1410.08 1182.25,1411.15 1182.33,1412.26 1182.41,1413.40 1182.48,1414.58 1182.56,1415.79 1182.63,1417.04 1182.71,1418.32 1182.78,1419.63 1182.86,1420.97 1182.93,1422.34 1183.01,1423.74 1183.08,1425.16 1183.16,1426.61 1183.23,1428.08 1183.31,1429.57 1183.38,1431.08 1183.46,1432.61 1183.53,1434.17 1183.60,1435.73 1183.68,1437.32 1183.75,1438.92 1183.83,1440.53 1183.90,1442.16 1183.97,1443.79 1184.05,1445.44 1184.12,1447.09 1184.19,1448.76 1184.27,1450.42 1184.34,1452.10 1184.41,1453.77 1184.49,1455.45 1184.56,1457.13 1184.63,1458.81 1184.71,1460.49 1184.78,1462.16 1184.85,1463.84 1184.92,1465.50 1185.00,1467.16 1185.07,1468.81 1185.14,1470.46 1185.21,1472.09 1185.29,1473.71 1185.36,1475.32 1185.43,1476.92 1185.50,1478.50 1185.58,1480.06 1185.65,1481.61 1185.72,1483.14 1185.79,1484.64 1185.87,1486.13 1185.94,1487.59 1186.01,1489.03 1186.08,1490.45 1186.16,1491.84 1186.23,1493.20 1186.30,1494.53 1186.39,1496.22 1186.48,1497.91 1186.57,1499.60 1186.66,1501.29 1186.75,1502.97 1186.84,1504.64 1186.93,1506.31 1187.01,1507.98 1187.10,1509.63 1187.18,1511.28 1187.27,1512.92 1187.35,1514.56 1187.44,1516.18 1187.52,1517.79 1187.61,1519.39 1187.69,1520.97 1187.78,1522.55 1187.87,1524.11 1187.95,1525.65 1188.04,1527.18 1188.13,1528.70 1188.22,1530.19 1188.31,1531.68 1188.40,1533.14 1188.49,1534.58 1188.58,1536.01 1188.68,1537.41 1188.77,1538.79 1188.87,1540.15 1188.97,1541.49 1189.07,1542.81 1189.18,1544.10 1189.28,1545.37 1189.39,1546.61 1189.50,1547.82 1189.66,1549.59 1189.83,1551.34 1190.00,1553.09 1190.17,1554.81 1190.35,1556.51 1190.53,1558.18 1190.72,1559.80 1190.91,1561.39 1191.11,1562.92 1191.32,1564.39 1191.53,1565.80 1191.75,1567.14 1191.97,1568.40 1192.21,1569.57 1192.45,1570.66 1192.70,1571.65 1193.28,1573.58 1193.93,1575.32 1194.67,1576.75 1195.50,1577.79 1197.10,1578.95 1199.10,1579.50 1200.51,1579.50 1202.20,1579.50 1203.95,1579.50 1205.53,1579.50 1206.70,1579.50 1207.48,1579.50 1208.20,1579.50 1210.01,1578.65 1211.70,1577.00 1212.50,1575.63 1213.15,1573.94 1213.80,1572.00 1214.21,1570.73 1214.62,1569.32 1215.04,1567.79 1215.45,1566.17 1215.86,1564.46 1216.25,1562.71 1216.64,1560.91 1217.00,1559.10 1217.26,1557.77 1217.52,1556.42 1217.78,1555.04 1218.04,1553.63 1218.29,1552.20 1218.55,1550.73 1218.79,1549.24 1219.03,1547.71 1219.26,1546.15 1219.47,1544.56 1219.68,1542.92 1219.87,1541.26 1220.04,1539.55 1220.20,1537.80 1220.30,1536.54 1220.40,1535.26 1220.50,1533.95 1220.60,1532.61 1220.69,1531.25 1220.78,1529.86 1220.87,1528.45 1220.95,1527.02 1221.03,1525.57 1221.12,1524.10 1221.19,1522.61 1221.27,1521.10 1221.35,1519.57 1221.42,1518.03 1221.49,1516.47 1221.56,1514.90 1221.63,1513.32 1221.70,1511.72 1221.76,1510.11 1221.83,1508.50 1221.89,1506.87 1221.95,1505.23 1222.01,1503.59 1222.07,1501.94 1222.13,1500.29 1222.19,1498.63 1222.24,1496.96 1222.30,1495.30 1222.35,1493.93 1222.39,1492.53 1222.43,1491.12 1222.47,1489.68 1222.52,1488.22 1222.56,1486.74 1222.60,1485.24 1222.64,1483.73 1222.67,1482.20 1222.71,1480.66 1222.75,1479.10 1222.79,1477.53 1222.82,1475.96 1222.86,1474.37 1222.89,1472.78 1222.93,1471.18 1222.96,1469.58 1223.00,1467.97 1223.03,1466.36 1223.06,1464.75 1223.10,1463.14 1223.13,1461.53 1223.16,1459.92 1223.19,1458.32 1223.23,1456.72 1223.26,1455.13 1223.29,1453.55 1223.32,1451.97 1223.36,1450.41 1223.39,1448.86 1223.42,1447.32 1223.45,1445.79 1223.49,1444.28 1223.52,1442.79 1223.55,1441.31 1223.59,1439.86 1223.62,1438.42 1223.66,1437.01 1223.69,1435.62 1223.73,1434.25 1223.76,1432.91 1223.80,1431.60 1223.85,1429.88 1223.90,1428.15 1223.94,1426.43 1223.99,1424.72 1224.03,1423.01 1224.08,1421.31 1224.13,1419.63 1224.17,1417.96 1224.22,1416.30 1224.26,1414.67 1224.31,1413.05 1224.35,1411.46 1224.40,1409.89 1224.45,1408.36 1224.50,1406.85 1224.55,1405.37 1224.60,1403.93 1224.65,1402.53 1224.70,1401.16 1224.76,1399.84 1224.82,1398.56 1224.88,1397.32 1224.94,1396.14 1225.00,1395.00 1225.12,1392.93 1225.24,1390.75 1225.37,1388.60 1225.52,1386.57 1225.67,1384.79 1225.83,1383.37 1226.01,1382.44 1226.20,1382.10 1226.77,1383.39 1227.40,1386.00 1227.57,1386.86 1227.73,1387.84 1227.89,1388.93 1228.04,1390.13 1228.19,1391.42 1228.35,1392.80 1228.50,1394.26 1228.64,1395.80 1228.79,1397.41 1228.93,1399.08 1229.08,1400.80 1229.22,1402.57 1229.37,1404.39 1229.51,1406.23 1229.66,1408.11 1229.80,1410.00 1229.88,1411.04 1229.96,1412.12 1230.03,1413.24 1230.11,1414.40 1230.19,1415.60 1230.26,1416.83 1230.34,1418.10 1230.42,1419.40 1230.50,1420.73 1230.57,1422.09 1230.65,1423.48 1230.72,1424.90 1230.80,1426.35 1230.88,1427.82 1230.95,1429.31 1231.03,1430.83 1231.10,1432.36 1231.18,1433.92 1231.26,1435.50 1231.33,1437.09 1231.41,1438.70 1231.48,1440.33 1231.56,1441.96 1231.63,1443.61 1231.71,1445.28 1231.78,1446.95 1231.86,1448.62 1231.93,1450.31 1232.00,1452.00 1232.08,1453.70 1232.15,1455.39 1232.23,1457.09 1232.30,1458.79 1232.38,1460.49 1232.45,1462.19 1232.53,1463.89 1232.60,1465.57 1232.67,1467.26 1232.75,1468.93 1232.82,1470.60 1232.89,1472.25 1232.97,1473.90 1233.04,1475.53 1233.12,1477.15 1233.19,1478.75 1233.26,1480.34 1233.34,1481.91 1233.41,1483.46 1233.48,1484.98 1233.56,1486.49 1233.63,1487.97 1233.71,1489.43 1233.78,1490.87 1233.85,1492.27 1233.93,1493.65 1234.00,1495.00 1234.09,1496.68 1234.18,1498.37 1234.27,1500.05 1234.36,1501.72 1234.45,1503.39 1234.54,1505.06 1234.63,1506.72 1234.71,1508.38 1234.80,1510.02 1234.88,1511.66 1234.97,1513.29 1235.05,1514.92 1235.14,1516.53 1235.22,1518.13 1235.31,1519.72 1235.39,1521.30 1235.48,1522.86 1235.57,1524.42 1235.65,1525.95 1235.74,1527.47 1235.83,1528.98 1235.92,1530.47 1236.01,1531.94 1236.10,1533.40 1236.19,1534.83 1236.28,1536.25 1236.38,1537.64 1236.47,1539.02 1236.57,1540.37 1236.67,1541.70 1236.77,1543.01 1236.88,1544.30 1236.98,1545.56 1237.09,1546.79 1237.20,1548.00 1237.38,1549.87 1237.55,1551.73 1237.74,1553.58 1237.92,1555.40 1238.11,1557.20 1238.31,1558.95 1238.51,1560.66 1238.72,1562.31 1238.93,1563.90 1239.16,1565.42 1239.39,1566.86 1239.63,1568.22 1239.88,1569.48 1240.13,1570.65 1240.40,1571.70 1240.98,1573.62 1241.63,1575.34 1242.37,1576.77 1243.20,1577.80 1244.80,1578.96 1246.80,1579.50 1248.16,1579.50 1249.75,1579.50 1251.42,1579.50 1253.02,1579.50 1254.40,1579.50 1255.98,1579.10 1257.40,1578.14 1258.50,1577.02 1259.31,1575.67 1259.96,1573.98 1260.60,1572.04 1261.01,1570.78 1261.42,1569.38 1261.84,1567.86 1262.25,1566.24 1262.66,1564.55 1263.05,1562.80 1263.44,1561.02 1263.80,1559.22 1264.06,1557.89 1264.32,1556.55 1264.58,1555.18 1264.84,1553.78 1265.09,1552.35 1265.35,1550.90 1265.59,1549.41 1265.83,1547.89 1266.06,1546.34 1266.27,1544.75 1266.48,1543.13 1266.67,1541.47 1266.84,1539.77 1267.00,1538.03 1267.10,1536.78 1267.20,1535.51 1267.30,1534.20 1267.40,1532.87 1267.49,1531.52 1267.58,1530.14 1267.67,1528.74 1267.75,1527.32 1267.83,1525.87 1267.92,1524.41 1267.99,1522.93 1268.07,1521.43 1268.15,1519.91 1268.22,1518.38 1268.29,1516.83 1268.36,1515.26 1268.43,1513.69 1268.50,1512.10 1268.56,1510.50 1268.63,1508.89 1268.69,1507.27 1268.75,1505.65 1268.81,1504.01 1268.87,1502.37 1268.93,1500.73 1268.99,1499.08 1269.04,1497.43 1269.10,1495.77 1269.15,1494.41 1269.19,1493.02 1269.23,1491.61 1269.27,1490.18 1269.32,1488.73 1269.36,1487.25 1269.40,1485.77 1269.44,1484.26 1269.47,1482.74 1269.51,1481.21 1269.55,1479.66 1269.59,1478.10 1269.62,1476.54 1269.66,1474.96 1269.69,1473.38 1269.73,1471.79 1269.76,1470.19 1269.80,1468.59 1269.83,1466.99 1269.86,1465.39 1269.90,1463.79 1269.93,1462.19 1269.96,1460.59 1269.99,1459.00 1270.03,1457.41 1270.06,1455.83 1270.09,1454.25 1270.12,1452.69 1270.16,1451.13 1270.19,1449.59 1270.22,1448.06 1270.25,1446.54 1270.29,1445.04 1270.32,1443.55 1270.35,1442.09 1270.39,1440.64 1270.42,1439.21 1270.46,1437.81 1270.49,1436.42 1270.53,1435.06 1270.56,1433.73 1270.60,1432.42 1270.65,1430.71 1270.70,1429.00 1270.74,1427.29 1270.79,1425.58 1270.83,1423.88 1270.88,1422.19 1270.93,1420.52 1270.97,1418.86 1271.02,1417.21 1271.06,1415.58 1271.11,1413.98 1271.15,1412.40 1271.20,1410.84 1271.25,1409.31 1271.30,1407.81 1271.35,1406.34 1271.40,1404.91 1271.45,1403.51 1271.50,1402.16 1271.56,1400.84 1271.62,1399.57 1271.68,1398.34 1271.74,1397.16 1271.80,1396.03 1271.92,1393.97 1272.04,1391.81 1272.17,1389.66 1272.32,1387.64 1272.47,1385.87 1272.63,1384.47 1272.81,1383.54 1273.00,1383.20 1273.57,1384.48 1274.20,1387.08 1274.38,1388.00 1274.55,1389.05 1274.72,1390.22 1274.88,1391.52 1275.05,1392.91 1275.21,1394.41 1275.36,1396.00 1275.52,1397.67 1275.68,1399.41 1275.83,1401.22 1275.99,1403.09 1276.14,1405.00 1276.29,1406.95 1276.45,1408.94 1276.60,1410.94 1276.68,1411.98 1276.76,1413.06 1276.83,1414.17 1276.91,1415.32 1276.99,1416.51 1277.06,1417.74 1277.14,1419.00 1277.22,1420.29 1277.30,1421.62 1277.37,1422.97 1277.45,1424.35 1277.52,1425.76 1277.60,1427.20 1277.68,1428.66 1277.75,1430.15 1277.83,1431.66 1277.90,1433.19 1277.98,1434.73 1278.06,1436.30 1278.13,1437.89 1278.21,1439.49 1278.28,1441.10 1278.36,1442.73 1278.43,1444.37 1278.51,1446.02 1278.58,1447.69 1278.66,1449.35 1278.73,1451.03 1278.80,1452.71 1278.88,1454.40 1278.95,1456.09 1279.03,1457.78 1279.10,1459.47 1279.18,1461.16 1279.25,1462.85 1279.33,1464.53 1279.40,1466.21 1279.47,1467.88 1279.55,1469.55 1279.62,1471.21 1279.69,1472.85 1279.77,1474.49 1279.84,1476.11 1279.92,1477.72 1279.99,1479.31 1280.06,1480.89 1280.14,1482.45 1280.21,1483.99 1280.28,1485.51 1280.36,1487.01 1280.43,1488.49 1280.51,1489.94 1280.58,1491.36 1280.65,1492.76 1280.73,1494.13 1280.80,1495.47 1280.89,1497.15 1280.98,1498.82 1281.07,1500.49 1281.16,1502.16 1281.25,1503.82 1281.34,1505.48 1281.43,1507.13 1281.51,1508.77 1281.60,1510.41 1281.68,1512.04 1281.77,1513.67 1281.85,1515.28 1281.94,1516.88 1282.02,1518.47 1282.11,1520.06 1282.19,1521.63 1282.28,1523.18 1282.37,1524.72 1282.45,1526.25 1282.54,1527.77 1282.63,1529.26 1282.72,1530.75 1282.81,1532.21 1282.90,1533.66 1282.99,1535.08 1283.08,1536.49 1283.18,1537.88 1283.27,1539.25 1283.37,1540.59 1283.47,1541.92 1283.57,1543.22 1283.68,1544.50 1283.78,1545.75 1283.89,1546.98 1284.00,1548.18 1284.18,1550.04 1284.35,1551.89 1284.54,1553.73 1284.72,1555.54 1284.91,1557.32 1285.11,1559.07 1285.31,1560.76 1285.52,1562.41 1285.73,1563.99 1285.96,1565.50 1286.19,1566.93 1286.43,1568.28 1286.68,1569.54 1286.93,1570.70 1287.20,1571.75 1287.78,1573.66 1288.43,1575.37 1289.17,1576.79 1290.00,1577.81 1291.60,1578.96 1293.60,1579.50 1294.98,1579.50 1296.63,1579.50 1298.34,1579.50 1299.93,1579.50 1301.20,1579.50 1302.84,1578.65 1304.10,1577.03 1304.88,1575.66 1305.54,1574.00 1306.20,1572.09 1306.61,1570.83 1307.02,1569.44 1307.44,1567.93 1307.85,1566.32 1308.26,1564.64 1308.65,1562.90 1309.04,1561.12 1309.40,1559.33 1309.66,1558.02 1309.92,1556.68 1310.18,1555.32 1310.44,1553.92 1310.69,1552.51 1310.95,1551.06 1311.19,1549.58 1311.43,1548.07 1311.66,1546.53 1311.87,1544.95 1312.08,1543.34 1312.27,1541.69 1312.44,1540.00 1312.60,1538.27 1312.70,1537.03 1312.80,1535.76 1312.90,1534.46 1313.00,1533.14 1313.09,1531.79 1313.18,1530.42 1313.27,1529.03 1313.35,1527.61 1313.43,1526.18 1313.52,1524.72 1313.59,1523.25 1313.67,1521.75 1313.75,1520.24 1313.82,1518.72 1313.89,1517.18 1313.96,1515.63 1314.03,1514.06 1314.10,1512.48 1314.16,1510.89 1314.23,1509.29 1314.29,1507.68 1314.35,1506.06 1314.41,1504.44 1314.47,1502.81 1314.53,1501.17 1314.59,1499.53 1314.64,1497.89 1314.70,1496.24 1314.75,1494.89 1314.79,1493.51 1314.83,1492.10 1314.87,1490.68 1314.92,1489.24 1314.96,1487.77 1315.00,1486.29 1315.04,1484.80 1315.07,1483.29 1315.11,1481.76 1315.15,1480.22 1315.19,1478.67 1315.22,1477.12 1315.26,1475.55 1315.29,1473.97 1315.33,1472.39 1315.36,1470.81 1315.40,1469.22 1315.43,1467.62 1315.46,1466.03 1315.50,1464.44 1315.53,1462.85 1315.56,1461.26 1315.59,1459.67 1315.63,1458.09 1315.66,1456.52 1315.69,1454.95 1315.72,1453.40 1315.76,1451.85 1315.79,1450.32 1315.82,1448.79 1315.85,1447.28 1315.89,1445.79 1315.92,1444.32 1315.95,1442.86 1315.99,1441.42 1316.02,1440.00 1316.06,1438.60 1316.09,1437.22 1316.13,1435.87 1316.16,1434.55 1316.20,1433.25 1316.25,1431.54 1316.30,1429.84 1316.34,1428.14 1316.39,1426.44 1316.43,1424.75 1316.48,1423.08 1316.53,1421.41 1316.57,1419.76 1316.62,1418.12 1316.66,1416.50 1316.71,1414.91 1316.75,1413.33 1316.80,1411.79 1316.85,1410.26 1316.90,1408.77 1316.95,1407.31 1317.00,1405.89 1317.05,1404.50 1317.10,1403.15 1317.16,1401.84 1317.22,1400.58 1317.28,1399.35 1317.34,1398.18 1317.40,1397.06 1317.52,1395.01 1317.64,1392.86 1317.77,1390.72 1317.92,1388.72 1318.07,1386.96 1318.23,1385.56 1318.41,1384.63 1318.60,1384.30 1319.17,1385.58 1319.80,1388.16 1319.98,1389.07 1320.15,1390.12 1320.32,1391.28 1320.48,1392.57 1320.65,1393.96 1320.81,1395.45 1320.96,1397.03 1321.12,1398.69 1321.28,1400.42 1321.43,1402.22 1321.59,1404.07 1321.74,1405.98 1321.89,1407.92 1322.05,1409.89 1322.20,1411.89 1322.28,1412.92 1322.36,1413.99 1322.43,1415.10 1322.51,1416.24 1322.59,1417.43 1322.66,1418.65 1322.74,1419.90 1322.82,1421.18 1322.90,1422.50 1322.97,1423.85 1323.05,1425.22 1323.12,1426.63 1323.20,1428.05 1323.28,1429.51 1323.35,1430.99 1323.43,1432.48 1323.50,1434.01 1323.58,1435.55 1323.66,1437.10 1323.73,1438.68 1323.81,1440.27 1323.88,1441.88 1323.96,1443.50 1324.03,1445.13 1324.11,1446.77 1324.18,1448.42 1324.26,1450.08 1324.33,1451.75 1324.40,1453.42 1324.48,1455.10 1324.55,1456.78 1324.63,1458.46 1324.70,1460.14 1324.78,1461.82 1324.85,1463.50 1324.93,1465.18 1325.00,1466.85 1325.07,1468.51 1325.15,1470.17 1325.22,1471.81 1325.29,1473.45 1325.37,1475.08 1325.44,1476.69 1325.52,1478.29 1325.59,1479.88 1325.66,1481.45 1325.74,1483.00 1325.81,1484.53 1325.88,1486.04 1325.96,1487.53 1326.03,1489.00 1326.11,1490.44 1326.18,1491.86 1326.25,1493.25 1326.33,1494.61 1326.40,1495.94 1326.49,1497.61 1326.58,1499.27 1326.67,1500.93 1326.76,1502.59 1326.85,1504.24 1326.94,1505.89 1327.03,1507.54 1327.11,1509.17 1327.20,1510.80 1327.28,1512.42 1327.37,1514.04 1327.45,1515.64 1327.54,1517.24 1327.62,1518.82 1327.71,1520.39 1327.79,1521.95 1327.88,1523.50 1327.97,1525.03 1328.05,1526.55 1328.14,1528.06 1328.23,1529.55 1328.32,1531.02 1328.41,1532.48 1328.50,1533.92 1328.59,1535.33 1328.68,1536.74 1328.78,1538.12 1328.87,1539.48 1328.97,1540.81 1329.07,1542.13 1329.17,1543.42 1329.28,1544.69 1329.38,1545.94 1329.49,1547.16 1329.60,1548.36 1329.78,1550.21 1329.95,1552.05 1330.14,1553.87 1330.32,1555.68 1330.51,1557.45 1330.71,1559.18 1330.91,1560.87 1331.12,1562.51 1331.33,1564.08 1331.56,1565.58 1331.79,1567.01 1332.03,1568.35 1332.28,1569.60 1332.53,1570.75 1332.80,1571.79 1333.38,1573.69 1334.03,1575.40 1334.77,1576.81 1335.60,1577.82 1337.20,1578.97 1339.20,1579.51 1340.46,1579.51 1341.86,1579.51 1343.38,1579.51 1345.03,1579.51 1346.80,1579.51" stroke="#2e5b20" stroke-width="3.3" fill="none" stroke-linejoin="round" stroke-linecap="round" clip-path="url(#clipF)"/>
<path d="M840.00,1576.00 842.57,1576.00 845.10,1576.00 847.58,1576.00 850.02,1576.00 852.42,1576.00 854.77,1576.00 857.07,1576.00 859.33,1576.00 861.53,1576.00 863.69,1576.00 865.79,1576.00 867.84,1576.00 869.84,1576.00 871.79,1576.00 873.68,1576.00 875.51,1576.00 877.29,1576.00 879.00,1576.00 880.66,1576.00 882.26,1576.00 883.80,1576.00 885.27,1576.00 886.68,1576.00 888.03,1576.00 889.31,1576.00 890.53,1576.00 891.67,1576.00 892.75,1576.00 893.76,1576.00 894.70,1576.00 895.57,1576.00 896.36,1576.00 897.08,1576.00 897.73,1576.00 898.30,1576.00 898.79,1576.00 899.21,1576.00 899.54,1576.00 899.80,1576.00 900.38,1575.29 900.81,1573.61 901.16,1571.62 901.50,1570.00 901.92,1568.13 902.40,1567.10 903.11,1567.59 904.00,1568.50 905.35,1569.94 906.90,1571.50 908.16,1572.75 909.57,1573.97 911.30,1574.60 912.27,1574.67 913.36,1574.72 914.56,1574.78 915.87,1574.83 917.29,1574.87 918.81,1574.90 920.43,1574.93 922.16,1574.96 923.98,1574.98 925.90,1574.99 927.90,1575.00 930.00,1575.00 930.76,1575.00 931.57,1575.00 932.44,1575.00 933.36,1575.00 934.34,1575.00 935.37,1575.00 936.44,1575.00 937.57,1575.00 938.74,1575.00 939.96,1575.00 941.23,1575.00 942.54,1575.00 943.89,1575.00 945.28,1575.00 946.72,1575.00 948.19,1575.00 949.70,1575.00 951.24,1575.00 952.82,1574.99 954.44,1574.99 956.08,1574.99 957.76,1574.99 959.47,1574.99 961.20,1574.99 962.97,1574.99 964.75,1574.99 966.57,1574.99 968.41,1574.99 970.27,1574.99 972.15,1574.99 974.05,1574.99 975.97,1574.98 977.90,1574.98 979.86,1574.98 981.82,1574.98 983.80,1574.98 985.80,1574.98 987.80,1574.98 989.81,1574.98 991.83,1574.97 993.86,1574.97 995.90,1574.97 997.94,1574.97 999.98,1574.97 1002.02,1574.97 1004.07,1574.97 1006.11,1574.96 1008.16,1574.96 1010.20,1574.96 1012.23,1574.96 1014.26,1574.96 1016.29,1574.95 1018.30,1574.95 1020.31,1574.95 1022.30,1574.95 1024.29,1574.95 1026.26,1574.94 1028.21,1574.94 1030.15,1574.94 1032.08,1574.94 1033.98,1574.93 1035.87,1574.93 1037.73,1574.93 1039.57,1574.93 1041.39,1574.93 1043.19,1574.92 1044.96,1574.92 1046.70,1574.92 1048.42,1574.91 1050.10,1574.91 1051.75,1574.91 1053.37,1574.91 1054.96,1574.90 1056.52,1574.90 1058.03,1574.90 1059.51,1574.89 1060.96,1574.89 1062.36,1574.89 1063.72,1574.88 1065.04,1574.88 1066.31,1574.88 1067.54,1574.87 1068.73,1574.87 1069.87,1574.87 1070.96,1574.86 1071.99,1574.86 1072.98,1574.85 1073.92,1574.85 1074.80,1574.85 1075.63,1574.84 1076.40,1574.84 1077.11,1574.84 1077.77,1574.83 1078.36,1574.83 1078.89,1574.82 1079.37,1574.82 1079.77,1574.81 1080.12,1574.81 1080.39,1574.80 1080.60,1574.80 1081.03,1574.62 1081.43,1574.11 1081.82,1573.31 1082.19,1572.25 1082.53,1570.96 1082.86,1569.48 1083.16,1567.83 1083.44,1566.05 1083.69,1564.18 1083.92,1562.24 1084.13,1560.26 1084.32,1558.29 1084.48,1556.34 1084.61,1554.45 1084.72,1552.66 1084.80,1551.00 1084.86,1549.56 1084.92,1548.13 1084.97,1546.70 1085.02,1545.27 1085.07,1543.83 1085.11,1542.39 1085.15,1540.93 1085.19,1539.47 1085.22,1537.99 1085.26,1536.49 1085.29,1534.98 1085.32,1533.44 1085.34,1531.87 1085.37,1530.28 1085.39,1528.66 1085.42,1527.00 1085.44,1525.31 1085.46,1523.58 1085.48,1521.81 1085.50,1520.00 1085.51,1518.79 1085.53,1517.55 1085.54,1516.29 1085.55,1515.01 1085.56,1513.71 1085.57,1512.38 1085.58,1511.04 1085.59,1509.67 1085.61,1508.29 1085.62,1506.88 1085.63,1505.46 1085.64,1504.03 1085.65,1502.57 1085.66,1501.10 1085.67,1499.62 1085.67,1498.12 1085.68,1496.61 1085.69,1495.08 1085.70,1493.55 1085.71,1492.00 1085.72,1490.44 1085.73,1488.87 1085.73,1487.29 1085.74,1485.71 1085.75,1484.11 1085.76,1482.51 1085.77,1480.90 1085.77,1479.28 1085.78,1477.66 1085.79,1476.04 1085.79,1474.41 1085.80,1472.78 1085.81,1471.15 1085.82,1469.51 1085.82,1467.87 1085.83,1466.24 1085.84,1464.60 1085.84,1462.96 1085.85,1461.33 1085.86,1459.70 1085.87,1458.07 1085.87,1456.45 1085.88,1454.83 1085.89,1453.21 1085.89,1451.60 1085.90,1450.00 1085.91,1448.57 1085.91,1447.12 1085.92,1445.67 1085.92,1444.20 1085.93,1442.73 1085.94,1441.25 1085.94,1439.77 1085.95,1438.27 1085.95,1436.77 1085.96,1435.27 1085.96,1433.75 1085.97,1432.23 1085.98,1430.71 1085.98,1429.18 1085.99,1427.64 1085.99,1426.10 1086.00,1424.56 1086.00,1423.02 1086.01,1421.47 1086.01,1419.91 1086.02,1418.36 1086.02,1416.80 1086.03,1415.24 1086.03,1413.69 1086.04,1412.12 1086.04,1410.56 1086.05,1409.00 1086.05,1407.44 1086.06,1405.88 1086.06,1404.32 1086.07,1402.77 1086.07,1401.21 1086.08,1399.66 1086.08,1398.11 1086.09,1396.56 1086.09,1395.01 1086.10,1393.47 1086.10,1391.93 1086.11,1390.40 1086.11,1388.87 1086.12,1387.35 1086.12,1385.83 1086.13,1384.32 1086.13,1382.82 1086.14,1381.32 1086.14,1379.83 1086.15,1378.34 1086.15,1376.87 1086.16,1375.40 1086.16,1373.94 1086.17,1372.49 1086.17,1371.05 1086.18,1369.62 1086.18,1368.20 1086.19,1366.79 1086.19,1365.39 1086.20,1364.00 1086.21,1362.37 1086.21,1360.75 1086.22,1359.13 1086.23,1357.51 1086.23,1355.90 1086.24,1354.30 1086.24,1352.70 1086.25,1351.11 1086.26,1349.52 1086.26,1347.94 1086.27,1346.36 1086.27,1344.79 1086.28,1343.23 1086.29,1341.67 1086.29,1340.11 1086.30,1338.57 1086.30,1337.02 1086.31,1335.49 1086.32,1333.96 1086.32,1332.44 1086.33,1330.92 1086.34,1329.41 1086.34,1327.91 1086.35,1326.41 1086.36,1324.92 1086.36,1323.43 1086.37,1321.95 1086.38,1320.48 1086.39,1319.02 1086.39,1317.56 1086.40,1316.11 1086.41,1314.67 1086.42,1313.23 1086.43,1311.80 1086.44,1310.38 1086.45,1308.96 1086.46,1307.56 1086.47,1306.16 1086.48,1304.76 1086.49,1303.38 1086.50,1302.00 1086.51,1300.30 1086.53,1298.58 1086.54,1296.83 1086.56,1295.07 1086.58,1293.29 1086.59,1291.51 1086.61,1289.72 1086.63,1287.93 1086.65,1286.14 1086.67,1284.36 1086.69,1282.60 1086.72,1280.85 1086.74,1279.12 1086.77,1277.42 1086.79,1275.74 1086.82,1274.10 1086.85,1272.50 1086.88,1270.94 1086.92,1269.43 1086.95,1267.96 1086.99,1266.56 1087.03,1265.21 1087.07,1263.92 1087.11,1262.71 1087.15,1261.56 1087.20,1260.49 1087.25,1259.50 1087.30,1258.60 1087.48,1256.64 1087.75,1254.87 1088.10,1253.31 1088.49,1252.01 1088.90,1251.00 1089.58,1249.86 1090.40,1249.30 1091.37,1249.86 1092.40,1251.00 1093.14,1252.03 1093.90,1253.39 1094.65,1254.99 1095.36,1256.76 1096.00,1258.60 1096.37,1259.81 1096.73,1261.10 1097.08,1262.47 1097.42,1263.91 1097.75,1265.41 1098.07,1266.98 1098.38,1268.60 1098.68,1270.27 1098.98,1271.98 1099.26,1273.72 1099.53,1275.50 1099.80,1277.30 1099.98,1278.59 1100.16,1279.93 1100.33,1281.30 1100.50,1282.72 1100.66,1284.17 1100.82,1285.65 1100.98,1287.16 1101.14,1288.70 1101.29,1290.26 1101.44,1291.84 1101.59,1293.44 1101.74,1295.05 1101.89,1296.68 1102.03,1298.31 1102.18,1299.95 1102.32,1301.60 1102.46,1303.24 1102.61,1304.88 1102.75,1306.51 1102.90,1308.14 1103.05,1309.76 1103.20,1311.36 1103.35,1312.94 1103.50,1314.50 1103.65,1316.06 1103.81,1317.63 1103.97,1319.21 1104.13,1320.80 1104.28,1322.40 1104.44,1324.00 1104.60,1325.61 1104.76,1327.22 1104.92,1328.83 1105.08,1330.43 1105.24,1332.04 1105.39,1333.64 1105.55,1335.23 1105.71,1336.81 1105.87,1338.38 1106.02,1339.94 1106.17,1341.49 1106.33,1343.02 1106.48,1344.54 1106.62,1346.04 1106.77,1347.51 1106.92,1348.97 1107.06,1350.40 1107.20,1351.80 1107.37,1353.47 1107.54,1355.10 1107.70,1356.68 1107.87,1358.23 1108.03,1359.74 1108.19,1361.24 1108.35,1362.72 1108.51,1364.20 1108.66,1365.67 1108.82,1367.16 1108.97,1368.65 1109.12,1370.17 1109.27,1371.72 1109.41,1373.30 1109.56,1374.92 1109.70,1376.60 1109.81,1378.00 1109.93,1379.43 1110.04,1380.89 1110.15,1382.37 1110.26,1383.87 1110.37,1385.39 1110.48,1386.92 1110.59,1388.47 1110.70,1390.04 1110.80,1391.61 1110.91,1393.20 1111.01,1394.80 1111.12,1396.40 1111.22,1398.00 1111.32,1399.61 1111.42,1401.22 1111.52,1402.83 1111.62,1404.43 1111.72,1406.03 1111.82,1407.63 1111.92,1409.21 1112.01,1410.79 1112.11,1412.35 1112.20,1413.90 1112.29,1415.41 1112.39,1416.91 1112.48,1418.40 1112.58,1419.88 1112.68,1421.36 1112.77,1422.83 1112.87,1424.30 1112.97,1425.76 1113.07,1427.23 1113.16,1428.69 1113.25,1430.16 1113.35,1431.63 1113.44,1433.10 1113.53,1434.58 1113.61,1436.07 1113.69,1437.56 1113.77,1439.07 1113.85,1440.59 1113.92,1442.12 1113.98,1443.66 1114.05,1445.22 1114.10,1446.79 1114.15,1448.39 1114.20,1450.00 1114.24,1451.39 1114.27,1452.80 1114.30,1454.22 1114.34,1455.65 1114.37,1457.10 1114.40,1458.55 1114.42,1460.01 1114.45,1461.49 1114.48,1462.97 1114.50,1464.46 1114.53,1465.96 1114.55,1467.47 1114.58,1468.98 1114.60,1470.50 1114.62,1472.03 1114.64,1473.56 1114.66,1475.10 1114.69,1476.64 1114.71,1478.19 1114.73,1479.74 1114.75,1481.29 1114.77,1482.85 1114.79,1484.41 1114.81,1485.97 1114.83,1487.53 1114.85,1489.09 1114.87,1490.65 1114.89,1492.21 1114.91,1493.77 1114.93,1495.33 1114.95,1496.89 1114.98,1498.45 1115.00,1500.00 1115.02,1501.51 1115.04,1503.04 1115.06,1504.60 1115.08,1506.18 1115.10,1507.78 1115.12,1509.40 1115.14,1511.04 1115.16,1512.69 1115.18,1514.35 1115.20,1516.02 1115.21,1517.70 1115.23,1519.38 1115.25,1521.07 1115.27,1522.75 1115.28,1524.43 1115.30,1526.11 1115.32,1527.77 1115.34,1529.43 1115.36,1531.08 1115.37,1532.71 1115.39,1534.33 1115.41,1535.93 1115.44,1537.50 1115.46,1539.06 1115.48,1540.58 1115.50,1542.08 1115.53,1543.55 1115.55,1544.98 1115.58,1546.38 1115.61,1547.75 1115.64,1549.07 1115.67,1550.35 1115.70,1551.58 1115.73,1552.77 1115.76,1553.91 1115.80,1555.00 1115.87,1556.93 1115.96,1558.82 1116.05,1560.68 1116.17,1562.47 1116.29,1564.18 1116.43,1565.81 1116.59,1567.32 1116.76,1568.72 1116.96,1569.97 1117.17,1571.07 1117.40,1572.00 1118.10,1573.62 1119.17,1574.95 1120.40,1575.50 1122.27,1575.50 1124.46,1575.50 1126.00,1575.50 1126.54,1575.01 1126.95,1573.72 1127.29,1571.92 1127.62,1569.92 1128.00,1568.00 1128.31,1566.75 1128.66,1565.42 1129.03,1564.03 1129.41,1562.57 1129.79,1561.05 1130.16,1559.48 1130.51,1557.85 1130.81,1556.19 1131.07,1554.49 1131.27,1552.76 1131.40,1551.00 1131.46,1549.69 1131.52,1548.35 1131.57,1547.00 1131.62,1545.62 1131.67,1544.22 1131.71,1542.79 1131.75,1541.34 1131.79,1539.86 1131.82,1538.36 1131.86,1536.84 1131.89,1535.28 1131.92,1533.70 1131.94,1532.09 1131.97,1530.46 1131.99,1528.79 1132.02,1527.09 1132.04,1525.37 1132.06,1523.61 1132.08,1521.82 1132.10,1520.00 1132.11,1518.79 1132.13,1517.55 1132.14,1516.29 1132.15,1515.01 1132.16,1513.71 1132.17,1512.38 1132.18,1511.04 1132.19,1509.67 1132.21,1508.29 1132.22,1506.88 1132.23,1505.46 1132.24,1504.03 1132.25,1502.57 1132.26,1501.10 1132.27,1499.62 1132.27,1498.12 1132.28,1496.61 1132.29,1495.08 1132.30,1493.55 1132.31,1492.00 1132.32,1490.44 1132.33,1488.87 1132.33,1487.29 1132.34,1485.71 1132.35,1484.11 1132.36,1482.51 1132.37,1480.90 1132.37,1479.28 1132.38,1477.66 1132.39,1476.04 1132.39,1474.41 1132.40,1472.78 1132.41,1471.15 1132.42,1469.51 1132.42,1467.87 1132.43,1466.24 1132.44,1464.60 1132.44,1462.96 1132.45,1461.33 1132.46,1459.70 1132.47,1458.07 1132.47,1456.45 1132.48,1454.83 1132.49,1453.21 1132.49,1451.60 1132.50,1450.00 1132.51,1448.57 1132.51,1447.12 1132.52,1445.67 1132.52,1444.20 1132.53,1442.73 1132.54,1441.25 1132.54,1439.77 1132.55,1438.27 1132.55,1436.77 1132.56,1435.27 1132.56,1433.75 1132.57,1432.23 1132.58,1430.71 1132.58,1429.18 1132.59,1427.64 1132.59,1426.10 1132.60,1424.56 1132.60,1423.02 1132.61,1421.47 1132.61,1419.91 1132.62,1418.36 1132.62,1416.80 1132.63,1415.24 1132.63,1413.69 1132.64,1412.12 1132.64,1410.56 1132.65,1409.00 1132.65,1407.44 1132.66,1405.88 1132.66,1404.32 1132.67,1402.77 1132.67,1401.21 1132.68,1399.66 1132.68,1398.11 1132.69,1396.56 1132.69,1395.01 1132.70,1393.47 1132.70,1391.93 1132.71,1390.40 1132.71,1388.87 1132.72,1387.35 1132.72,1385.83 1132.73,1384.32 1132.73,1382.82 1132.74,1381.32 1132.74,1379.83 1132.75,1378.34 1132.75,1376.87 1132.76,1375.40 1132.76,1373.94 1132.77,1372.49 1132.77,1371.05 1132.78,1369.62 1132.78,1368.20 1132.79,1366.79 1132.79,1365.39 1132.80,1364.00 1132.81,1362.37 1132.81,1360.75 1132.82,1359.13 1132.83,1357.51 1132.83,1355.90 1132.84,1354.30 1132.84,1352.70 1132.85,1351.11 1132.86,1349.52 1132.86,1347.94 1132.87,1346.36 1132.87,1344.79 1132.88,1343.23 1132.89,1341.67 1132.89,1340.11 1132.90,1338.57 1132.90,1337.02 1132.91,1335.49 1132.92,1333.96 1132.92,1332.44 1132.93,1330.92 1132.94,1329.41 1132.94,1327.91 1132.95,1326.41 1132.96,1324.92 1132.96,1323.43 1132.97,1321.95 1132.98,1320.48 1132.99,1319.02 1132.99,1317.56 1133.00,1316.11 1133.01,1314.67 1133.02,1313.23 1133.03,1311.80 1133.04,1310.38 1133.05,1308.96 1133.06,1307.56 1133.07,1306.16 1133.08,1304.76 1133.09,1303.38 1133.10,1302.00 1133.11,1300.30 1133.13,1298.58 1133.14,1296.83 1133.16,1295.07 1133.18,1293.29 1133.19,1291.51 1133.21,1289.72 1133.23,1287.93 1133.25,1286.14 1133.27,1284.36 1133.29,1282.60 1133.32,1280.85 1133.34,1279.12 1133.37,1277.42 1133.39,1275.74 1133.42,1274.10 1133.45,1272.50 1133.48,1270.94 1133.52,1269.43 1133.55,1267.96 1133.59,1266.56 1133.63,1265.21 1133.67,1263.92 1133.71,1262.71 1133.75,1261.56 1133.80,1260.49 1133.85,1259.50 1133.90,1258.60 1134.08,1256.64 1134.35,1254.87 1134.70,1253.31 1135.09,1252.01 1135.50,1251.00 1136.19,1249.86 1137.00,1249.30 1137.95,1249.86 1138.94,1251.00 1139.66,1252.03 1140.39,1253.39 1141.12,1254.99 1141.81,1256.76 1142.43,1258.60 1142.79,1259.81 1143.14,1261.10 1143.48,1262.47 1143.81,1263.91 1144.13,1265.42 1144.44,1266.98 1144.74,1268.60 1145.04,1270.27 1145.32,1271.98 1145.59,1273.72 1145.86,1275.50 1146.12,1277.30 1146.29,1278.59 1146.47,1279.93 1146.63,1281.30 1146.80,1282.72 1146.96,1284.17 1147.11,1285.65 1147.27,1287.16 1147.42,1288.70 1147.56,1290.26 1147.71,1291.84 1147.86,1293.44 1148.00,1295.05 1148.14,1296.68 1148.28,1298.31 1148.42,1299.95 1148.56,1301.60 1148.70,1303.24 1148.84,1304.88 1148.98,1306.51 1149.13,1308.14 1149.27,1309.76 1149.41,1311.36 1149.56,1312.94 1149.71,1314.50 1149.86,1316.06 1150.01,1317.63 1150.16,1319.21 1150.31,1320.80 1150.47,1322.40 1150.62,1324.00 1150.78,1325.61 1150.93,1327.22 1151.08,1328.83 1151.24,1330.43 1151.39,1332.04 1151.55,1333.64 1151.70,1335.23 1151.85,1336.81 1152.00,1338.38 1152.15,1339.94 1152.30,1341.49 1152.45,1343.02 1152.59,1344.54 1152.74,1346.04 1152.88,1347.51 1153.02,1348.97 1153.16,1350.40 1153.30,1351.80 1153.46,1353.47 1153.62,1355.10 1153.78,1356.68 1153.94,1358.23 1154.10,1359.74 1154.26,1361.24 1154.41,1362.72 1154.57,1364.20 1154.72,1365.67 1154.87,1367.16 1155.01,1368.65 1155.16,1370.17 1155.30,1371.72 1155.44,1373.30 1155.58,1374.92 1155.72,1376.60 1155.83,1378.00 1155.94,1379.43 1156.05,1380.89 1156.16,1382.37 1156.27,1383.87 1156.37,1385.39 1156.48,1386.92 1156.59,1388.47 1156.69,1390.04 1156.79,1391.61 1156.90,1393.20 1157.00,1394.80 1157.10,1396.40 1157.20,1398.00 1157.30,1399.61 1157.39,1401.22 1157.49,1402.83 1157.59,1404.43 1157.68,1406.03 1157.78,1407.63 1157.87,1409.21 1157.96,1410.79 1158.05,1412.35 1158.15,1413.90 1158.24,1415.41 1158.33,1416.91 1158.42,1418.40 1158.51,1419.88 1158.61,1421.36 1158.70,1422.83 1158.80,1424.30 1158.89,1425.76 1158.99,1427.23 1159.08,1428.69 1159.17,1430.16 1159.26,1431.63 1159.35,1433.10 1159.43,1434.58 1159.51,1436.07 1159.59,1437.56 1159.67,1439.07 1159.74,1440.59 1159.81,1442.12 1159.88,1443.66 1159.94,1445.22 1159.99,1446.79 1160.04,1448.39 1160.09,1450.00 1160.12,1451.39 1160.15,1452.80 1160.19,1454.22 1160.22,1455.65 1160.25,1457.10 1160.28,1458.55 1160.30,1460.01 1160.33,1461.49 1160.36,1462.97 1160.38,1464.46 1160.40,1465.96 1160.43,1467.47 1160.45,1468.98 1160.47,1470.50 1160.49,1472.03 1160.52,1473.56 1160.54,1475.10 1160.56,1476.64 1160.58,1478.19 1160.60,1479.74 1160.62,1481.29 1160.64,1482.85 1160.66,1484.41 1160.67,1485.97 1160.69,1487.53 1160.71,1489.09 1160.73,1490.65 1160.75,1492.21 1160.77,1493.77 1160.80,1495.33 1160.82,1496.89 1160.84,1498.45 1160.86,1500.00 1160.88,1501.51 1160.90,1503.04 1160.92,1504.60 1160.94,1506.18 1160.96,1507.78 1160.98,1509.40 1161.00,1511.04 1161.02,1512.69 1161.03,1514.35 1161.05,1516.02 1161.07,1517.70 1161.09,1519.38 1161.10,1521.06 1161.12,1522.75 1161.14,1524.43 1161.15,1526.11 1161.17,1527.77 1161.19,1529.43 1161.21,1531.08 1161.23,1532.71 1161.24,1534.33 1161.26,1535.93 1161.28,1537.50 1161.31,1539.06 1161.33,1540.58 1161.35,1542.08 1161.37,1543.55 1161.40,1544.98 1161.42,1546.38 1161.45,1547.75 1161.48,1549.07 1161.51,1550.35 1161.54,1551.58 1161.57,1552.77 1161.60,1553.91 1161.64,1555.00 1161.71,1556.93 1161.79,1558.82 1161.88,1560.67 1161.99,1562.46 1162.11,1564.18 1162.25,1565.80 1162.40,1567.32 1162.57,1568.71 1162.76,1569.97 1162.96,1571.07 1163.19,1572.00 1163.85,1573.62 1164.86,1574.95 1166.10,1575.50 1167.32,1575.50 1168.99,1575.50 1170.86,1575.50 1172.66,1575.50 1174.16,1575.50 1175.10,1575.50 1175.65,1575.01 1176.06,1573.73 1176.40,1571.95 1176.72,1569.97 1177.10,1568.06 1177.41,1566.82 1177.76,1565.50 1178.13,1564.12 1178.51,1562.67 1178.89,1561.16 1179.26,1559.60 1179.61,1558.00 1179.91,1556.35 1180.17,1554.66 1180.37,1552.94 1180.50,1551.20 1180.56,1549.89 1180.62,1548.57 1180.67,1547.22 1180.72,1545.86 1180.77,1544.47 1180.81,1543.05 1180.85,1541.61 1180.89,1540.15 1180.92,1538.66 1180.96,1537.15 1180.99,1535.60 1181.02,1534.04 1181.04,1532.44 1181.07,1530.81 1181.09,1529.16 1181.12,1527.48 1181.14,1525.77 1181.16,1524.02 1181.18,1522.25 1181.20,1520.44 1181.21,1519.24 1181.23,1518.01 1181.24,1516.76 1181.25,1515.49 1181.26,1514.20 1181.27,1512.89 1181.28,1511.55 1181.29,1510.20 1181.31,1508.82 1181.32,1507.43 1181.33,1506.02 1181.34,1504.60 1181.35,1503.15 1181.36,1501.70 1181.37,1500.22 1181.37,1498.74 1181.38,1497.24 1181.39,1495.73 1181.40,1494.20 1181.41,1492.67 1181.42,1491.12 1181.43,1489.56 1181.43,1488.00 1181.44,1486.42 1181.45,1484.84 1181.46,1483.25 1181.47,1481.65 1181.47,1480.05 1181.48,1478.44 1181.49,1476.83 1181.49,1475.22 1181.50,1473.60 1181.51,1471.98 1181.52,1470.35 1181.52,1468.73 1181.53,1467.11 1181.54,1465.48 1181.54,1463.86 1181.55,1462.24 1181.56,1460.62 1181.57,1459.01 1181.57,1457.39 1181.58,1455.79 1181.59,1454.19 1181.59,1452.59 1181.60,1451.00 1181.61,1449.55 1181.61,1448.09 1181.62,1446.62 1181.62,1445.15 1181.63,1443.66 1181.64,1442.17 1181.64,1440.67 1181.65,1439.16 1181.65,1437.64 1181.66,1436.12 1181.67,1434.59 1181.67,1433.05 1181.68,1431.51 1181.68,1429.96 1181.69,1428.41 1181.69,1426.86 1181.70,1425.30 1181.70,1423.74 1181.71,1422.17 1181.71,1420.60 1181.72,1419.03 1181.72,1417.46 1181.73,1415.89 1181.73,1414.31 1181.74,1412.74 1181.74,1411.16 1181.75,1409.58 1181.75,1408.01 1181.76,1406.43 1181.76,1404.86 1181.77,1403.29 1181.77,1401.72 1181.78,1400.15 1181.78,1398.59 1181.79,1397.03 1181.79,1395.47 1181.80,1393.91 1181.80,1392.36 1181.81,1390.82 1181.81,1389.28 1181.82,1387.75 1181.82,1386.22 1181.83,1384.70 1181.83,1383.18 1181.84,1381.68 1181.84,1380.18 1181.85,1378.69 1181.86,1377.20 1181.86,1375.73 1181.87,1374.26 1181.87,1372.81 1181.88,1371.36 1181.88,1369.93 1181.89,1368.50 1181.89,1367.09 1181.90,1365.69 1181.91,1364.07 1181.91,1362.46 1181.92,1360.85 1181.93,1359.25 1181.93,1357.65 1181.94,1356.06 1181.94,1354.48 1181.95,1352.90 1181.96,1351.32 1181.96,1349.75 1181.97,1348.19 1181.97,1346.63 1181.98,1345.08 1181.99,1343.53 1181.99,1341.99 1182.00,1340.45 1182.00,1338.93 1182.01,1337.40 1182.02,1335.89 1182.02,1334.37 1182.03,1332.87 1182.04,1331.37 1182.04,1329.88 1182.05,1328.39 1182.06,1326.91 1182.06,1325.44 1182.07,1323.98 1182.08,1322.52 1182.09,1321.06 1182.09,1319.62 1182.10,1318.18 1182.11,1316.75 1182.12,1315.32 1182.13,1313.90 1182.14,1312.49 1182.15,1311.09 1182.16,1309.69 1182.17,1308.30 1182.18,1306.92 1182.19,1305.55 1182.20,1304.18 1182.21,1302.50 1182.23,1300.79 1182.24,1299.05 1182.26,1297.30 1182.28,1295.54 1182.29,1293.77 1182.31,1292.00 1182.33,1290.22 1182.35,1288.45 1182.37,1286.68 1182.39,1284.93 1182.42,1283.20 1182.44,1281.48 1182.47,1279.79 1182.49,1278.13 1182.52,1276.50 1182.55,1274.91 1182.58,1273.37 1182.62,1271.87 1182.65,1270.41 1182.69,1269.02 1182.73,1267.68 1182.77,1266.41 1182.81,1265.20 1182.85,1264.06 1182.90,1263.00 1182.95,1262.02 1183.00,1261.13 1183.18,1259.18 1183.45,1257.42 1183.80,1255.88 1184.19,1254.59 1184.60,1253.59 1185.29,1252.46 1186.10,1251.90 1187.01,1252.45 1187.96,1253.59 1188.65,1254.61 1189.36,1255.96 1190.05,1257.55 1190.71,1259.30 1191.31,1261.13 1191.65,1262.33 1191.99,1263.61 1192.32,1264.97 1192.63,1266.40 1192.94,1267.89 1193.24,1269.44 1193.52,1271.05 1193.80,1272.70 1194.08,1274.40 1194.34,1276.13 1194.59,1277.89 1194.84,1279.68 1195.01,1280.96 1195.17,1282.28 1195.34,1283.65 1195.49,1285.05 1195.65,1286.49 1195.80,1287.96 1195.94,1289.46 1196.09,1290.98 1196.23,1292.53 1196.37,1294.10 1196.51,1295.69 1196.65,1297.29 1196.78,1298.90 1196.92,1300.52 1197.05,1302.15 1197.19,1303.78 1197.32,1305.41 1197.45,1307.04 1197.59,1308.66 1197.73,1310.27 1197.86,1311.87 1198.00,1313.46 1198.14,1315.03 1198.28,1316.58 1198.43,1318.13 1198.57,1319.69 1198.72,1321.26 1198.86,1322.83 1199.01,1324.42 1199.16,1326.01 1199.31,1327.60 1199.45,1329.20 1199.60,1330.79 1199.75,1332.39 1199.90,1333.98 1200.05,1335.56 1200.19,1337.14 1200.34,1338.71 1200.48,1340.27 1200.63,1341.82 1200.77,1343.36 1200.91,1344.88 1201.05,1346.38 1201.19,1347.86 1201.33,1349.33 1201.46,1350.77 1201.59,1352.19 1201.72,1353.58 1201.88,1355.24 1202.04,1356.86 1202.19,1358.42 1202.35,1359.96 1202.50,1361.46 1202.65,1362.95 1202.79,1364.42 1202.94,1365.88 1203.09,1367.35 1203.23,1368.82 1203.37,1370.30 1203.51,1371.81 1203.65,1373.34 1203.78,1374.91 1203.92,1376.52 1204.05,1378.19 1204.16,1379.58 1204.26,1381.00 1204.37,1382.44 1204.47,1383.91 1204.57,1385.40 1204.68,1386.90 1204.78,1388.43 1204.88,1389.96 1204.98,1391.52 1205.08,1393.08 1205.17,1394.65 1205.27,1396.24 1205.37,1397.82 1205.46,1399.42 1205.56,1401.01 1205.65,1402.61 1205.75,1404.20 1205.84,1405.80 1205.93,1407.38 1206.02,1408.97 1206.11,1410.54 1206.20,1412.10 1206.29,1413.65 1206.37,1415.19 1206.46,1416.75 1206.56,1418.30 1206.65,1419.85 1206.74,1421.38 1206.84,1422.91 1206.93,1424.43 1207.03,1425.95 1207.12,1427.46 1207.21,1428.98 1207.31,1430.50 1207.40,1432.01 1207.48,1433.54 1207.57,1435.07 1207.65,1436.60 1207.74,1438.15 1207.81,1439.70 1207.89,1441.27 1207.96,1442.85 1208.02,1444.44 1208.08,1446.05 1208.14,1447.68 1208.19,1449.33 1208.23,1451.00 1208.27,1452.38 1208.30,1453.78 1208.33,1455.19 1208.36,1456.61 1208.39,1458.04 1208.42,1459.48 1208.44,1460.93 1208.47,1462.40 1208.49,1463.87 1208.52,1465.35 1208.54,1466.83 1208.56,1468.33 1208.58,1469.83 1208.61,1471.34 1208.63,1472.85 1208.65,1474.37 1208.67,1475.90 1208.69,1477.43 1208.70,1478.96 1208.72,1480.50 1208.74,1482.04 1208.76,1483.59 1208.78,1485.13 1208.80,1486.68 1208.82,1488.23 1208.84,1489.78 1208.86,1491.33 1208.87,1492.88 1208.89,1494.43 1208.91,1495.97 1208.94,1497.52 1208.96,1499.06 1208.98,1500.60 1209.00,1502.10 1209.02,1503.62 1209.04,1505.16 1209.06,1506.73 1209.08,1508.32 1209.09,1509.93 1209.11,1511.55 1209.13,1513.19 1209.14,1514.84 1209.16,1516.50 1209.18,1518.16 1209.19,1519.83 1209.21,1521.50 1209.23,1523.17 1209.24,1524.84 1209.26,1526.50 1209.27,1528.15 1209.29,1529.80 1209.31,1531.43 1209.33,1533.05 1209.34,1534.66 1209.36,1536.24 1209.38,1537.81 1209.40,1539.35 1209.42,1540.86 1209.45,1542.35 1209.47,1543.80 1209.49,1545.23 1209.52,1546.61 1209.54,1547.97 1209.57,1549.28 1209.60,1550.55 1209.63,1551.77 1209.66,1552.95 1209.69,1554.08 1209.72,1555.16 1209.79,1557.07 1209.87,1558.95 1209.96,1560.79 1210.06,1562.56 1210.18,1564.26 1210.31,1565.87 1210.45,1567.38 1210.62,1568.76 1210.80,1570.01 1210.99,1571.10 1211.21,1572.03 1212.30,1574.36 1214.00,1575.50 1215.40,1575.50 1217.30,1575.50 1219.33,1575.50 1221.09,1575.50 1222.20,1575.50 1222.75,1575.01 1223.16,1573.74 1223.50,1571.98 1223.82,1570.00 1224.20,1568.11 1224.51,1566.88 1224.86,1565.57 1225.23,1564.20 1225.61,1562.76 1225.99,1561.26 1226.36,1559.71 1226.71,1558.11 1227.01,1556.48 1227.27,1554.80 1227.47,1553.09 1227.60,1551.36 1227.66,1550.07 1227.72,1548.75 1227.77,1547.42 1227.82,1546.06 1227.87,1544.68 1227.91,1543.27 1227.95,1541.84 1227.99,1540.39 1228.02,1538.91 1228.06,1537.41 1228.09,1535.88 1228.12,1534.32 1228.14,1532.73 1228.17,1531.12 1228.19,1529.48 1228.22,1527.81 1228.24,1526.10 1228.26,1524.37 1228.28,1522.61 1228.30,1520.82 1228.31,1519.60 1228.33,1518.35 1228.34,1517.08 1228.35,1515.79 1228.36,1514.47 1228.37,1513.14 1228.39,1511.78 1228.40,1510.40 1228.41,1509.00 1228.42,1507.58 1228.43,1506.15 1228.44,1504.70 1228.45,1503.23 1228.46,1501.75 1228.47,1500.25 1228.48,1498.73 1228.49,1497.20 1228.50,1495.66 1228.50,1494.11 1228.51,1492.55 1228.52,1490.97 1228.53,1489.39 1228.54,1487.79 1228.55,1486.19 1228.55,1484.58 1228.56,1482.96 1228.57,1481.34 1228.58,1479.71 1228.59,1478.07 1228.59,1476.43 1228.60,1474.79 1228.61,1473.15 1228.61,1471.50 1228.62,1469.85 1228.63,1468.20 1228.64,1466.55 1228.64,1464.91 1228.65,1463.26 1228.66,1461.62 1228.66,1459.98 1228.67,1458.34 1228.68,1456.71 1228.69,1455.08 1228.69,1453.46 1228.70,1451.85 1228.71,1450.41 1228.71,1448.96 1228.72,1447.50 1228.72,1446.03 1228.73,1444.56 1228.74,1443.07 1228.74,1441.58 1228.75,1440.08 1228.75,1438.58 1228.76,1437.06 1228.77,1435.54 1228.77,1434.02 1228.78,1432.49 1228.78,1430.95 1228.79,1429.41 1228.79,1427.87 1228.80,1426.32 1228.80,1424.77 1228.81,1423.21 1228.81,1421.66 1228.82,1420.10 1228.82,1418.54 1228.83,1416.97 1228.83,1415.41 1228.84,1413.84 1228.84,1412.28 1228.85,1410.71 1228.85,1409.15 1228.86,1407.58 1228.86,1406.02 1228.87,1404.46 1228.87,1402.90 1228.88,1401.34 1228.88,1399.79 1228.89,1398.24 1228.89,1396.69 1228.90,1395.15 1228.90,1393.61 1228.91,1392.08 1228.91,1390.55 1228.92,1389.02 1228.92,1387.51 1228.93,1386.00 1228.93,1384.49 1228.94,1382.99 1228.94,1381.51 1228.95,1380.02 1228.96,1378.55 1228.96,1377.09 1228.97,1375.63 1228.97,1374.18 1228.98,1372.75 1228.98,1371.32 1228.99,1369.91 1228.99,1368.50 1229.00,1367.11 1229.01,1365.47 1229.01,1363.83 1229.02,1362.19 1229.03,1360.56 1229.03,1358.94 1229.04,1357.32 1229.05,1355.70 1229.05,1354.10 1229.06,1352.49 1229.06,1350.90 1229.07,1349.31 1229.08,1347.72 1229.08,1346.14 1229.09,1344.57 1229.09,1343.00 1229.10,1341.44 1229.11,1339.89 1229.11,1338.34 1229.12,1336.80 1229.13,1335.27 1229.13,1333.74 1229.14,1332.22 1229.15,1330.70 1229.15,1329.19 1229.16,1327.69 1229.17,1326.19 1229.18,1324.71 1229.18,1323.23 1229.19,1321.75 1229.20,1320.28 1229.21,1318.83 1229.22,1317.37 1229.23,1315.93 1229.24,1314.49 1229.25,1313.06 1229.26,1311.64 1229.27,1310.22 1229.28,1308.82 1229.29,1307.42 1229.30,1306.02 1229.31,1304.35 1229.33,1302.65 1229.34,1300.93 1229.36,1299.20 1229.38,1297.45 1229.39,1295.69 1229.41,1293.92 1229.43,1292.16 1229.45,1290.40 1229.47,1288.65 1229.49,1286.91 1229.52,1285.18 1229.54,1283.48 1229.57,1281.80 1229.59,1280.15 1229.62,1278.54 1229.65,1276.96 1229.68,1275.42 1229.72,1273.93 1229.75,1272.49 1229.79,1271.10 1229.83,1269.77 1229.87,1268.51 1229.91,1267.31 1229.95,1266.18 1230.00,1265.13 1230.05,1264.15 1230.10,1263.26 1230.28,1261.33 1230.55,1259.59 1230.90,1258.05 1231.29,1256.77 1231.70,1255.77 1232.39,1254.65 1233.20,1254.10 1234.09,1254.65 1235.00,1255.77 1235.67,1256.80 1236.35,1258.14 1237.02,1259.71 1237.66,1261.45 1238.24,1263.26 1238.58,1264.46 1238.90,1265.73 1239.22,1267.08 1239.52,1268.50 1239.82,1269.98 1240.11,1271.53 1240.39,1273.12 1240.66,1274.76 1240.92,1276.45 1241.17,1278.16 1241.42,1279.91 1241.66,1281.69 1241.82,1282.96 1241.98,1284.28 1242.14,1285.63 1242.29,1287.03 1242.44,1288.46 1242.58,1289.92 1242.72,1291.40 1242.86,1292.92 1243.00,1294.46 1243.14,1296.02 1243.27,1297.59 1243.41,1299.18 1243.54,1300.78 1243.67,1302.39 1243.80,1304.01 1243.93,1305.63 1244.06,1307.25 1244.19,1308.86 1244.32,1310.47 1244.45,1312.08 1244.58,1313.67 1244.72,1315.24 1244.85,1316.80 1244.99,1318.34 1245.13,1319.88 1245.27,1321.43 1245.41,1322.98 1245.55,1324.55 1245.70,1326.13 1245.84,1327.71 1245.98,1329.29 1246.12,1330.87 1246.27,1332.46 1246.41,1334.04 1246.55,1335.62 1246.70,1337.19 1246.84,1338.76 1246.98,1340.32 1247.12,1341.87 1247.26,1343.41 1247.40,1344.93 1247.53,1346.44 1247.67,1347.94 1247.80,1349.41 1247.93,1350.87 1248.07,1352.30 1248.19,1353.71 1248.32,1355.09 1248.47,1356.74 1248.62,1358.34 1248.77,1359.90 1248.92,1361.42 1249.07,1362.92 1249.21,1364.39 1249.36,1365.85 1249.50,1367.31 1249.64,1368.76 1249.78,1370.22 1249.91,1371.70 1250.05,1373.19 1250.18,1374.72 1250.31,1376.27 1250.44,1377.88 1250.57,1379.53 1250.67,1380.91 1250.78,1382.32 1250.88,1383.75 1250.98,1385.21 1251.08,1386.69 1251.18,1388.18 1251.27,1389.70 1251.37,1391.23 1251.47,1392.77 1251.56,1394.32 1251.66,1395.88 1251.75,1397.46 1251.85,1399.03 1251.94,1400.61 1252.03,1402.20 1252.12,1403.78 1252.21,1405.37 1252.30,1406.95 1252.39,1408.53 1252.48,1410.10 1252.56,1411.66 1252.65,1413.21 1252.74,1414.75 1252.82,1416.28 1252.91,1417.83 1253.00,1419.37 1253.09,1420.90 1253.18,1422.43 1253.27,1423.94 1253.36,1425.46 1253.45,1426.96 1253.54,1428.47 1253.63,1429.97 1253.72,1431.48 1253.81,1432.99 1253.89,1434.50 1253.98,1436.02 1254.06,1437.55 1254.14,1439.08 1254.21,1440.63 1254.28,1442.18 1254.35,1443.75 1254.42,1445.33 1254.47,1446.93 1254.53,1448.55 1254.58,1450.19 1254.62,1451.85 1254.65,1453.26 1254.69,1454.70 1254.72,1456.14 1254.75,1457.59 1254.77,1459.06 1254.80,1460.54 1254.83,1462.03 1254.85,1463.53 1254.88,1465.04 1254.90,1466.56 1254.92,1468.08 1254.95,1469.62 1254.97,1471.16 1254.99,1472.70 1255.01,1474.26 1255.03,1475.82 1255.05,1477.38 1255.07,1478.95 1255.09,1480.53 1255.10,1482.10 1255.12,1483.68 1255.14,1485.27 1255.16,1486.85 1255.18,1488.44 1255.20,1490.03 1255.22,1491.61 1255.24,1493.20 1255.26,1494.79 1255.28,1496.37 1255.30,1497.95 1255.32,1499.53 1255.34,1501.11 1255.36,1502.59 1255.38,1504.11 1255.40,1505.64 1255.42,1507.20 1255.43,1508.78 1255.45,1510.37 1255.47,1511.99 1255.48,1513.61 1255.50,1515.25 1255.52,1516.90 1255.53,1518.55 1255.55,1520.21 1255.56,1521.87 1255.58,1523.52 1255.59,1525.18 1255.61,1526.83 1255.63,1528.48 1255.64,1530.11 1255.66,1531.73 1255.68,1533.34 1255.70,1534.93 1255.71,1536.51 1255.73,1538.06 1255.75,1539.59 1255.77,1541.10 1255.79,1542.57 1255.81,1544.02 1255.84,1545.43 1255.86,1546.81 1255.89,1548.15 1255.91,1549.46 1255.94,1550.72 1255.97,1551.94 1256.00,1553.11 1256.03,1554.23 1256.06,1555.30 1256.13,1557.20 1256.20,1559.07 1256.29,1560.89 1256.39,1562.65 1256.50,1564.34 1256.63,1565.93 1256.77,1567.43 1256.92,1568.80 1257.10,1570.04 1257.29,1571.13 1257.50,1572.05 1258.55,1574.36 1260.20,1575.50 1261.62,1575.50 1263.57,1575.50 1265.65,1575.50 1267.46,1575.50 1268.60,1575.50 1269.15,1575.01 1269.56,1573.74 1269.90,1571.98 1270.22,1570.00 1270.60,1568.11 1270.91,1566.88 1271.26,1565.57 1271.63,1564.20 1272.01,1562.76 1272.39,1561.26 1272.76,1559.71 1273.11,1558.11 1273.41,1556.48 1273.67,1554.80 1273.87,1553.09 1274.00,1551.36 1274.06,1550.07 1274.12,1548.75 1274.17,1547.42 1274.22,1546.06 1274.27,1544.68 1274.31,1543.27 1274.35,1541.84 1274.39,1540.39 1274.42,1538.91 1274.46,1537.41 1274.49,1535.88 1274.52,1534.32 1274.54,1532.73 1274.57,1531.12 1274.59,1529.48 1274.62,1527.81 1274.64,1526.10 1274.66,1524.37 1274.68,1522.61 1274.70,1520.82 1274.71,1519.60 1274.73,1518.35 1274.74,1517.08 1274.75,1515.79 1274.76,1514.47 1274.77,1513.14 1274.79,1511.78 1274.80,1510.40 1274.81,1509.00 1274.82,1507.58 1274.83,1506.15 1274.84,1504.70 1274.85,1503.23 1274.86,1501.75 1274.87,1500.25 1274.88,1498.73 1274.89,1497.20 1274.90,1495.66 1274.90,1494.11 1274.91,1492.55 1274.92,1490.97 1274.93,1489.39 1274.94,1487.79 1274.95,1486.19 1274.95,1484.58 1274.96,1482.96 1274.97,1481.34 1274.98,1479.71 1274.99,1478.07 1274.99,1476.43 1275.00,1474.79 1275.01,1473.15 1275.01,1471.50 1275.02,1469.85 1275.03,1468.20 1275.04,1466.55 1275.04,1464.91 1275.05,1463.26 1275.06,1461.62 1275.06,1459.98 1275.07,1458.34 1275.08,1456.71 1275.09,1455.08 1275.09,1453.46 1275.10,1451.85 1275.11,1450.41 1275.11,1448.96 1275.12,1447.50 1275.12,1446.03 1275.13,1444.56 1275.14,1443.07 1275.14,1441.58 1275.15,1440.08 1275.15,1438.58 1275.16,1437.06 1275.17,1435.54 1275.17,1434.02 1275.18,1432.49 1275.18,1430.95 1275.19,1429.41 1275.19,1427.87 1275.20,1426.32 1275.20,1424.77 1275.21,1423.21 1275.21,1421.66 1275.22,1420.10 1275.22,1418.54 1275.23,1416.97 1275.23,1415.41 1275.24,1413.84 1275.24,1412.28 1275.25,1410.71 1275.25,1409.15 1275.26,1407.58 1275.26,1406.02 1275.27,1404.46 1275.27,1402.90 1275.28,1401.34 1275.28,1399.79 1275.29,1398.24 1275.29,1396.69 1275.30,1395.15 1275.30,1393.61 1275.31,1392.08 1275.31,1390.55 1275.32,1389.02 1275.32,1387.51 1275.33,1386.00 1275.33,1384.49 1275.34,1382.99 1275.34,1381.51 1275.35,1380.02 1275.36,1378.55 1275.36,1377.09 1275.37,1375.63 1275.37,1374.18 1275.38,1372.75 1275.38,1371.32 1275.39,1369.91 1275.39,1368.50 1275.40,1367.11 1275.41,1365.47 1275.41,1363.83 1275.42,1362.19 1275.43,1360.56 1275.43,1358.94 1275.44,1357.32 1275.45,1355.70 1275.45,1354.10 1275.46,1352.49 1275.46,1350.90 1275.47,1349.31 1275.48,1347.72 1275.48,1346.14 1275.49,1344.57 1275.49,1343.00 1275.50,1341.44 1275.51,1339.89 1275.51,1338.34 1275.52,1336.80 1275.53,1335.27 1275.53,1333.74 1275.54,1332.22 1275.55,1330.70 1275.55,1329.19 1275.56,1327.69 1275.57,1326.19 1275.58,1324.71 1275.58,1323.23 1275.59,1321.75 1275.60,1320.28 1275.61,1318.83 1275.62,1317.37 1275.63,1315.93 1275.64,1314.49 1275.65,1313.06 1275.66,1311.64 1275.67,1310.22 1275.68,1308.82 1275.69,1307.42 1275.70,1306.02 1275.71,1304.35 1275.73,1302.65 1275.74,1300.93 1275.76,1299.20 1275.78,1297.45 1275.79,1295.69 1275.81,1293.92 1275.83,1292.16 1275.85,1290.40 1275.87,1288.65 1275.89,1286.91 1275.92,1285.18 1275.94,1283.48 1275.97,1281.80 1275.99,1280.15 1276.02,1278.54 1276.05,1276.96 1276.08,1275.42 1276.12,1273.93 1276.15,1272.49 1276.19,1271.10 1276.23,1269.77 1276.27,1268.51 1276.31,1267.31 1276.35,1266.18 1276.40,1265.13 1276.45,1264.15 1276.50,1263.26 1276.68,1261.33 1276.95,1259.59 1277.30,1258.05 1277.69,1256.77 1278.10,1255.77 1278.79,1254.65 1279.60,1254.10 1280.46,1254.65 1281.34,1255.77 1281.99,1256.80 1282.65,1258.14 1283.30,1259.72 1283.91,1261.45 1284.47,1263.26 1284.80,1264.46 1285.11,1265.73 1285.42,1267.08 1285.71,1268.50 1286.00,1269.99 1286.28,1271.53 1286.55,1273.12 1286.81,1274.76 1287.06,1276.45 1287.31,1278.17 1287.55,1279.91 1287.78,1281.69 1287.94,1282.96 1288.09,1284.28 1288.24,1285.63 1288.39,1287.03 1288.53,1288.46 1288.67,1289.92 1288.81,1291.41 1288.94,1292.92 1289.08,1294.46 1289.21,1296.02 1289.34,1297.59 1289.47,1299.18 1289.59,1300.78 1289.72,1302.39 1289.84,1304.01 1289.97,1305.63 1290.10,1307.25 1290.22,1308.86 1290.35,1310.47 1290.48,1312.08 1290.60,1313.67 1290.73,1315.24 1290.86,1316.80 1291.00,1318.34 1291.13,1319.88 1291.27,1321.43 1291.40,1322.98 1291.54,1324.55 1291.68,1326.13 1291.82,1327.71 1291.95,1329.29 1292.09,1330.87 1292.23,1332.46 1292.37,1334.04 1292.51,1335.62 1292.65,1337.19 1292.78,1338.76 1292.92,1340.32 1293.05,1341.87 1293.19,1343.41 1293.32,1344.93 1293.46,1346.44 1293.59,1347.94 1293.72,1349.41 1293.84,1350.87 1293.97,1352.30 1294.09,1353.71 1294.22,1355.09 1294.36,1356.74 1294.51,1358.34 1294.65,1359.90 1294.80,1361.42 1294.94,1362.92 1295.08,1364.39 1295.22,1365.85 1295.35,1367.31 1295.49,1368.76 1295.62,1370.22 1295.76,1371.70 1295.89,1373.19 1296.02,1374.72 1296.14,1376.27 1296.27,1377.88 1296.39,1379.53 1296.49,1380.91 1296.59,1382.32 1296.69,1383.75 1296.79,1385.21 1296.88,1386.69 1296.98,1388.18 1297.07,1389.70 1297.17,1391.23 1297.26,1392.77 1297.35,1394.32 1297.44,1395.88 1297.54,1397.46 1297.63,1399.03 1297.71,1400.61 1297.80,1402.20 1297.89,1403.78 1297.98,1405.37 1298.06,1406.95 1298.15,1408.53 1298.23,1410.10 1298.32,1411.66 1298.40,1413.21 1298.48,1414.75 1298.57,1416.28 1298.65,1417.83 1298.74,1419.37 1298.82,1420.90 1298.91,1422.43 1299.00,1423.94 1299.09,1425.46 1299.18,1426.96 1299.26,1428.47 1299.35,1429.98 1299.44,1431.48 1299.52,1432.99 1299.61,1434.50 1299.69,1436.02 1299.76,1437.55 1299.84,1439.08 1299.91,1440.63 1299.98,1442.18 1300.05,1443.75 1300.11,1445.33 1300.17,1446.93 1300.22,1448.55 1300.26,1450.19 1300.31,1451.85 1300.34,1453.26 1300.37,1454.70 1300.40,1456.14 1300.43,1457.59 1300.45,1459.06 1300.48,1460.54 1300.51,1462.03 1300.53,1463.53 1300.55,1465.04 1300.58,1466.56 1300.60,1468.08 1300.62,1469.62 1300.64,1471.16 1300.66,1472.70 1300.68,1474.26 1300.70,1475.82 1300.72,1477.38 1300.74,1478.95 1300.76,1480.53 1300.77,1482.10 1300.79,1483.68 1300.81,1485.27 1300.83,1486.85 1300.85,1488.44 1300.87,1490.03 1300.88,1491.61 1300.90,1493.20 1300.92,1494.79 1300.94,1496.37 1300.96,1497.95 1300.98,1499.53 1301.00,1501.11 1301.02,1502.59 1301.04,1504.11 1301.06,1505.64 1301.08,1507.20 1301.09,1508.78 1301.11,1510.37 1301.13,1511.99 1301.14,1513.61 1301.16,1515.25 1301.17,1516.90 1301.19,1518.55 1301.20,1520.21 1301.22,1521.87 1301.23,1523.52 1301.25,1525.18 1301.26,1526.83 1301.28,1528.48 1301.30,1530.11 1301.31,1531.73 1301.33,1533.34 1301.35,1534.93 1301.36,1536.51 1301.38,1538.06 1301.40,1539.59 1301.42,1541.09 1301.44,1542.57 1301.46,1544.02 1301.48,1545.43 1301.51,1546.81 1301.53,1548.15 1301.55,1549.46 1301.58,1550.72 1301.61,1551.93 1301.64,1553.11 1301.67,1554.23 1301.70,1555.30 1301.76,1557.20 1301.83,1559.06 1301.92,1560.89 1302.01,1562.65 1302.12,1564.33 1302.24,1565.93 1302.38,1567.42 1302.53,1568.79 1302.70,1570.03 1302.89,1571.12 1303.09,1572.05 1304.10,1574.36 1305.70,1575.50 1307.10,1575.50 1309.05,1575.50 1311.14,1575.50 1312.96,1575.50 1314.10,1575.50 1314.65,1575.01 1315.06,1573.74 1315.40,1571.98 1315.72,1570.00 1316.10,1568.11 1316.41,1566.88 1316.76,1565.57 1317.13,1564.20 1317.51,1562.76 1317.89,1561.26 1318.26,1559.71 1318.61,1558.11 1318.91,1556.48 1319.17,1554.80 1319.37,1553.09 1319.50,1551.36 1319.56,1550.07 1319.62,1548.75 1319.67,1547.42 1319.72,1546.06 1319.77,1544.68 1319.81,1543.27 1319.85,1541.84 1319.89,1540.39 1319.92,1538.91 1319.96,1537.41 1319.99,1535.88 1320.02,1534.32 1320.04,1532.73 1320.07,1531.12 1320.09,1529.48 1320.12,1527.81 1320.14,1526.10 1320.16,1524.37 1320.18,1522.61 1320.20,1520.82 1320.21,1519.60 1320.23,1518.35 1320.24,1517.08 1320.25,1515.79 1320.26,1514.47 1320.27,1513.14 1320.29,1511.78 1320.30,1510.40 1320.31,1509.00 1320.32,1507.58 1320.33,1506.15 1320.34,1504.70 1320.35,1503.23 1320.36,1501.75 1320.37,1500.25 1320.38,1498.73 1320.39,1497.20 1320.40,1495.66 1320.40,1494.11 1320.41,1492.55 1320.42,1490.97 1320.43,1489.39 1320.44,1487.79 1320.45,1486.19 1320.45,1484.58 1320.46,1482.96 1320.47,1481.34 1320.48,1479.71 1320.49,1478.07 1320.49,1476.43 1320.50,1474.79 1320.51,1473.15 1320.51,1471.50 1320.52,1469.85 1320.53,1468.20 1320.54,1466.55 1320.54,1464.91 1320.55,1463.26 1320.56,1461.62 1320.56,1459.98 1320.57,1458.34 1320.58,1456.71 1320.59,1455.08 1320.59,1453.46 1320.60,1451.85 1320.61,1450.41 1320.61,1448.96 1320.62,1447.50 1320.62,1446.03 1320.63,1444.56 1320.64,1443.07 1320.64,1441.58 1320.65,1440.08 1320.65,1438.58 1320.66,1437.06 1320.67,1435.54 1320.67,1434.02 1320.68,1432.49 1320.68,1430.95 1320.69,1429.41 1320.69,1427.87 1320.70,1426.32 1320.70,1424.77 1320.71,1423.21 1320.71,1421.66 1320.72,1420.10 1320.72,1418.54 1320.73,1416.97 1320.73,1415.41 1320.74,1413.84 1320.74,1412.28 1320.75,1410.71 1320.75,1409.15 1320.76,1407.58 1320.76,1406.02 1320.77,1404.46 1320.77,1402.90 1320.78,1401.34 1320.78,1399.79 1320.79,1398.24 1320.79,1396.69 1320.80,1395.15 1320.80,1393.61 1320.81,1392.08 1320.81,1390.55 1320.82,1389.02 1320.82,1387.51 1320.83,1386.00 1320.83,1384.49 1320.84,1382.99 1320.84,1381.51 1320.85,1380.02 1320.86,1378.55 1320.86,1377.09 1320.87,1375.63 1320.87,1374.18 1320.88,1372.75 1320.88,1371.32 1320.89,1369.91 1320.89,1368.50 1320.90,1367.11 1320.91,1365.47 1320.91,1363.83 1320.92,1362.19 1320.93,1360.56 1320.93,1358.94 1320.94,1357.32 1320.95,1355.70 1320.95,1354.10 1320.96,1352.49 1320.96,1350.90 1320.97,1349.31 1320.98,1347.72 1320.98,1346.14 1320.99,1344.57 1320.99,1343.00 1321.00,1341.44 1321.01,1339.89 1321.01,1338.34 1321.02,1336.80 1321.03,1335.27 1321.03,1333.74 1321.04,1332.22 1321.05,1330.70 1321.05,1329.19 1321.06,1327.69 1321.07,1326.19 1321.08,1324.71 1321.08,1323.23 1321.09,1321.75 1321.10,1320.28 1321.11,1318.83 1321.12,1317.37 1321.13,1315.93 1321.14,1314.49 1321.15,1313.06 1321.16,1311.64 1321.17,1310.22 1321.18,1308.82 1321.19,1307.42 1321.20,1306.02 1321.21,1304.35 1321.23,1302.65 1321.24,1300.93 1321.26,1299.20 1321.28,1297.45 1321.29,1295.69 1321.31,1293.92 1321.33,1292.16 1321.35,1290.40 1321.37,1288.65 1321.39,1286.91 1321.42,1285.18 1321.44,1283.48 1321.47,1281.80 1321.49,1280.15 1321.52,1278.54 1321.55,1276.96 1321.58,1275.42 1321.62,1273.93 1321.65,1272.49 1321.69,1271.10 1321.73,1269.77 1321.77,1268.51 1321.81,1267.31 1321.85,1266.18 1321.90,1265.13 1321.95,1264.15 1322.00,1263.26 1322.18,1261.33 1322.45,1259.59 1322.80,1258.05 1323.19,1256.77 1323.60,1255.77 1324.30,1254.65 1325.10,1254.10 1325.90,1254.65 1326.70,1255.77 1327.30,1256.80 1327.91,1258.15 1328.50,1259.72 1329.07,1261.46 1329.58,1263.26 1329.88,1264.46 1330.17,1265.74 1330.45,1267.09 1330.72,1268.51 1330.98,1269.99 1331.24,1271.54 1331.49,1273.13 1331.73,1274.77 1331.96,1276.45 1332.19,1278.17 1332.41,1279.92 1332.62,1281.69 1332.77,1282.96 1332.91,1284.28 1333.04,1285.64 1333.18,1287.03 1333.31,1288.46 1333.44,1289.92 1333.57,1291.41 1333.69,1292.92 1333.81,1294.46 1333.93,1296.02 1334.05,1297.59 1334.17,1299.18 1334.29,1300.78 1334.40,1302.39 1334.52,1304.01 1334.64,1305.63 1334.75,1307.25 1334.87,1308.86 1334.98,1310.47 1335.10,1312.08 1335.22,1313.67 1335.34,1315.24 1335.46,1316.80 1335.58,1318.34 1335.70,1319.88 1335.83,1321.43 1335.95,1322.98 1336.08,1324.55 1336.21,1326.13 1336.33,1327.71 1336.46,1329.29 1336.59,1330.87 1336.72,1332.46 1336.84,1334.04 1336.97,1335.62 1337.10,1337.19 1337.22,1338.76 1337.35,1340.32 1337.47,1341.87 1337.60,1343.41 1337.72,1344.93 1337.84,1346.44 1337.96,1347.94 1338.08,1349.41 1338.20,1350.87 1338.31,1352.30 1338.43,1353.71 1338.54,1355.09 1338.68,1356.74 1338.81,1358.34 1338.94,1359.90 1339.07,1361.42 1339.20,1362.92 1339.33,1364.39 1339.46,1365.85 1339.59,1367.31 1339.71,1368.76 1339.83,1370.22 1339.96,1371.70 1340.08,1373.19 1340.19,1374.72 1340.31,1376.28 1340.43,1377.88 1340.54,1379.53 1340.63,1380.91 1340.72,1382.32 1340.81,1383.75 1340.90,1385.21 1340.99,1386.69 1341.08,1388.18 1341.17,1389.70 1341.25,1391.23 1341.34,1392.77 1341.42,1394.32 1341.51,1395.88 1341.59,1397.46 1341.67,1399.03 1341.76,1400.62 1341.84,1402.20 1341.92,1403.79 1342.00,1405.37 1342.08,1406.95 1342.16,1408.53 1342.24,1410.10 1342.31,1411.66 1342.39,1413.21 1342.46,1414.75 1342.54,1416.28 1342.62,1417.83 1342.70,1419.37 1342.78,1420.90 1342.86,1422.43 1342.94,1423.94 1343.02,1425.46 1343.10,1426.96 1343.18,1428.47 1343.26,1429.98 1343.34,1431.48 1343.42,1432.99 1343.50,1434.50 1343.57,1436.02 1343.64,1437.55 1343.71,1439.08 1343.78,1440.63 1343.84,1442.18 1343.90,1443.75 1343.96,1445.33 1344.01,1446.93 1344.06,1448.55 1344.10,1450.19 1344.14,1451.85 1344.17,1453.26 1344.20,1454.70 1344.23,1456.14 1344.25,1457.60 1344.28,1459.06 1344.30,1460.54 1344.32,1462.03 1344.35,1463.53 1344.37,1465.04 1344.39,1466.56 1344.41,1468.08 1344.43,1469.62 1344.45,1471.16 1344.47,1472.71 1344.49,1474.26 1344.50,1475.82 1344.52,1477.38 1344.54,1478.95 1344.55,1480.53 1344.57,1482.10 1344.59,1483.69 1344.60,1485.27 1344.62,1486.85 1344.64,1488.44 1344.65,1490.03 1344.67,1491.61 1344.69,1493.20 1344.71,1494.79 1344.72,1496.37 1344.74,1497.95 1344.76,1499.53 1344.78,1501.11 1344.80,1502.59 1344.82,1504.11 1344.83,1505.64 1344.85,1507.20 1344.86,1508.78 1344.88,1510.37 1344.89,1511.99 1344.91,1513.61 1344.92,1515.25 1344.94,1516.90 1344.95,1518.55 1344.96,1520.21 1344.98,1521.86 1344.99,1523.52 1345.01,1525.18 1345.02,1526.83 1345.04,1528.47 1345.05,1530.11 1345.06,1531.73 1345.08,1533.34 1345.10,1534.93 1345.11,1536.51 1345.13,1538.06 1345.15,1539.59 1345.16,1541.09 1345.18,1542.57 1345.20,1544.02 1345.22,1545.43 1345.24,1546.81 1345.27,1548.15 1345.29,1549.46 1345.31,1550.72 1345.34,1551.93 1345.36,1553.11 1345.39,1554.23 1345.42,1555.30 1345.48,1557.20 1345.54,1559.06 1345.62,1560.88 1345.71,1562.64 1345.81,1564.32 1345.92,1565.92 1346.05,1567.41 1346.19,1568.78 1346.34,1570.02 1346.51,1571.12 1346.70,1572.05 1347.66,1574.13 1349.10,1575.50" stroke="#bd0a0c" stroke-width="3.3" fill="none" stroke-linejoin="round" stroke-linecap="round" clip-path="url(#clipF)"/>
<text x="1208.50" y="1247.90" font-size="27" text-anchor="start" >B/Cdk1</text>
<text x="976.50" y="1551.90" font-size="27" text-anchor="start" >A/Cdk2</text>
<path d="M899.90 1222.70V1259.20" stroke="#000" stroke-width="1.9" fill="none"/><path d="M893.90 1257.20H905.90L899.90 1273.20Z" fill="#000"/>
<text x="908.70" y="1244.40" font-size="27" text-anchor="start" >Deletion</text>
<text x="923.90" y="1271.20" font-size="27" text-anchor="start" >of p53</text></svg></body></html>
